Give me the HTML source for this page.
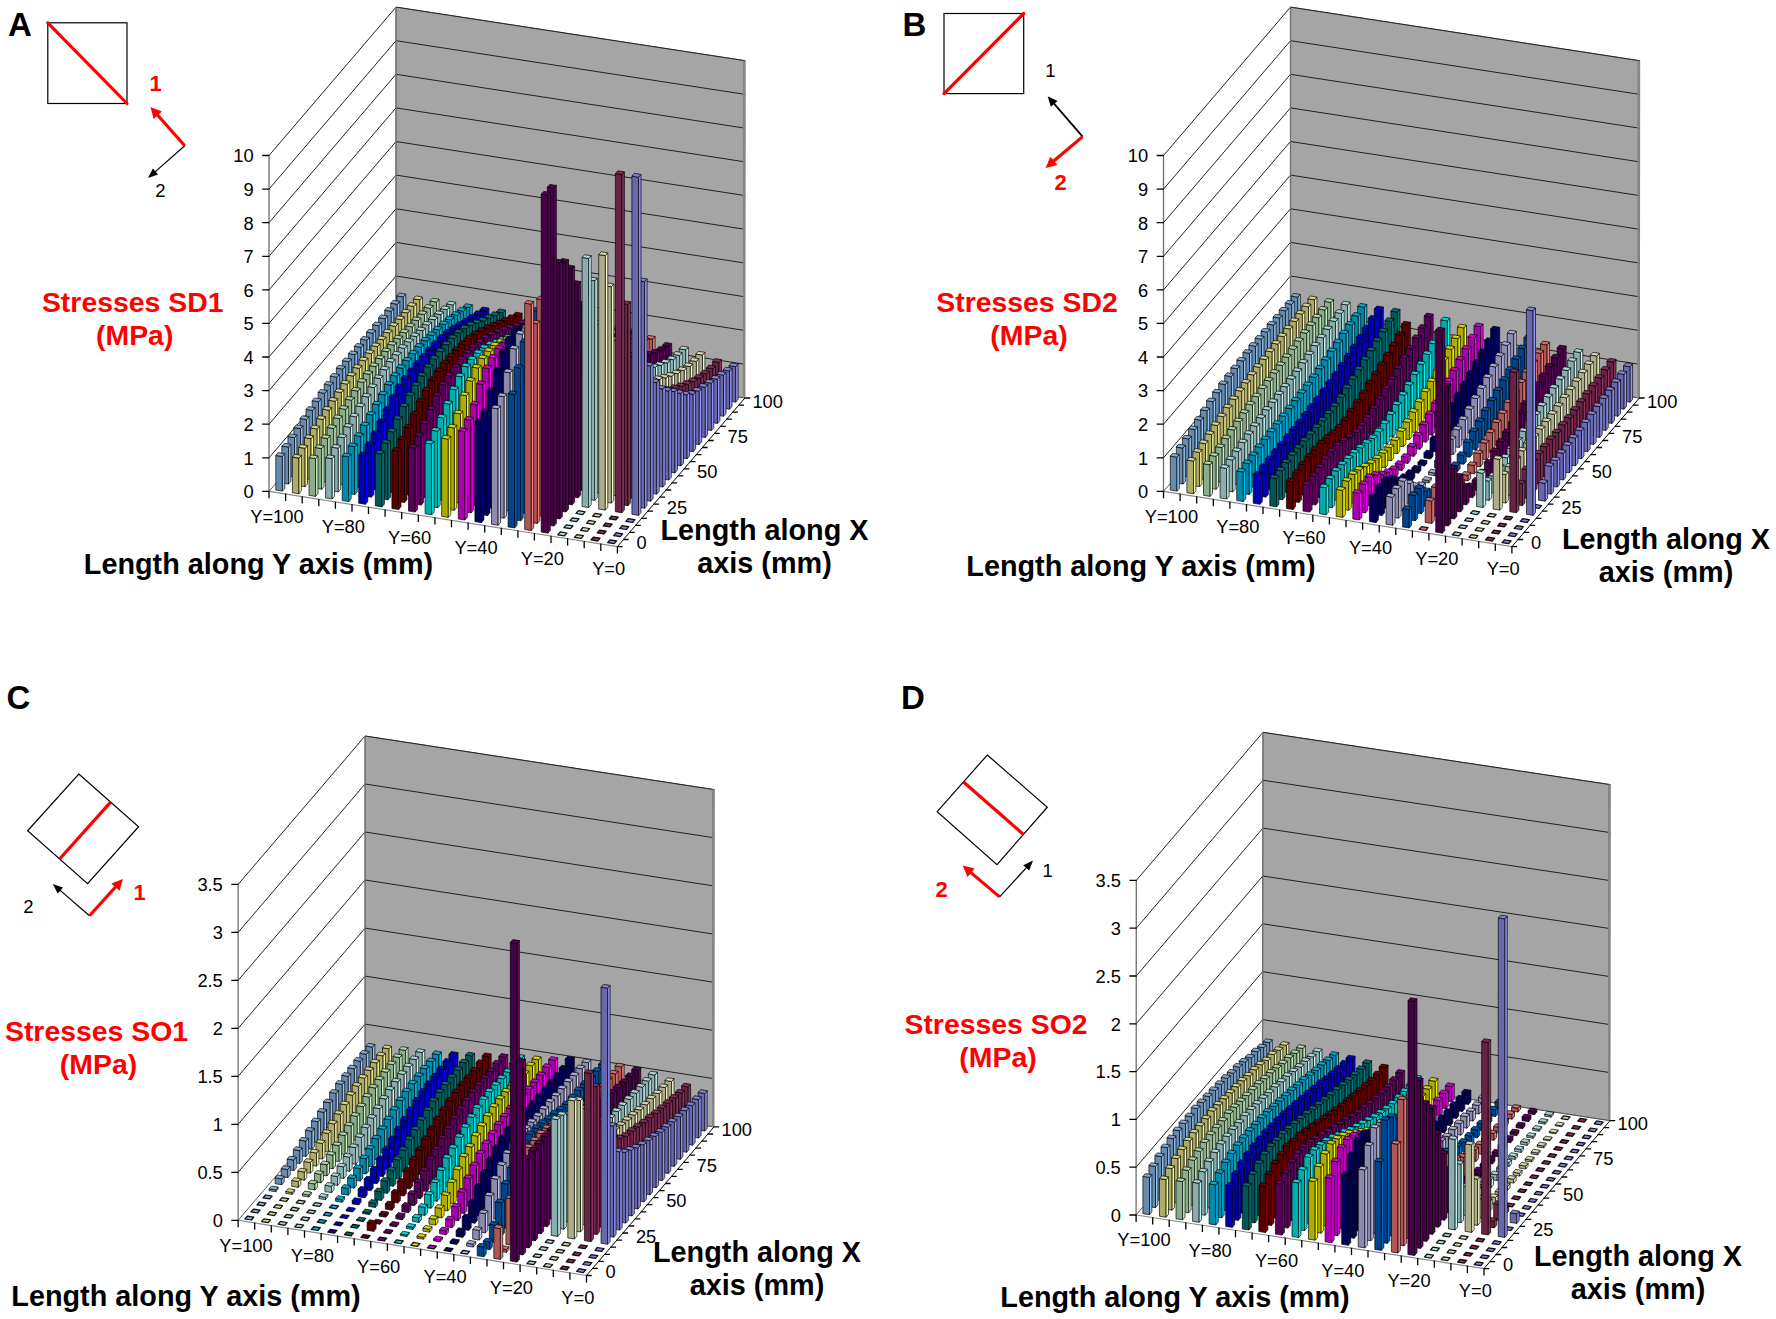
<!DOCTYPE html><html><head><meta charset="utf-8"><title>Stress distributions</title><style>html,body{margin:0;padding:0;background:#fff}svg{display:block}text{font-family:"Liberation Sans",sans-serif}.tk text{font-size:18.3px;fill:#000}.z{stroke-width:1.25;stroke-opacity:.95}.pl text{font-size:33px;font-weight:bold}.rb{font-size:22px;font-weight:bold;fill:#f00}.bk{font-size:18.5px;fill:#000}.rt{font-size:28.4px;font-weight:bold;fill:#f00}.at{font-size:28.8px;font-weight:bold;fill:#000}</style></head><body>
<svg width="1776" height="1319" viewBox="0 0 1776 1319">
<rect width="1776" height="1319" fill="#fff"/>
<g id="chartA"><path d="M269,491.4 L396,343.2 L396,7.1 L269,155.5 z" fill="#fff" stroke="none"/>
<path d="M396,343.2 L744.9,398 L745.2,60.7 L396,7.1 z" fill="#a5a5a5" stroke="#808080" stroke-width="1"/>
<path d="M269,457.8 L396,309.6 L744.9,364.3 M269,424.2 L396,276 L745,330.5 M269,390.6 L396,242.4 L745,296.8 M269,357 L396,208.8 L745,263.1 M269,323.4 L396,175.1 L745,229.3 M269,289.9 L396,141.5 L745.1,195.6 M269,256.3 L396,107.9 L745.1,161.9 M269,222.7 L396,74.3 L745.1,128.2 M269,189.1 L396,40.7 L745.2,94.4 M269,155.5 L396,7.1 L745.2,60.7" fill="none" stroke="#222" stroke-width="1"/>
<path d="M269,491.4 L269,155.5 M396,343.2 L396,7.1" fill="none" stroke="#6e6e6e" stroke-width="1.3"/>
<path d="M269,491.4 L396,343.2" fill="none" stroke="#333" stroke-width="0.8"/>
<path d="M744.9,398 L396,343.2" fill="none" stroke="#555" stroke-width="1"/>
<path d="M743.9 398 L743.9 60.7" fill="none" stroke="#858585" stroke-width="2"/>
<g stroke="#000" stroke-opacity=".85" stroke-width=".8" stroke-linejoin="round"><path fill="#688bad" d="M396.8 348.9l6.6 1.1v-53.1l-6.6-1.1z"/><path fill="#93c4f5" d="M403.4 350l2.4-2.9v-53.1l-2.4 2.9z"/><path fill="#81abd6" d="M396.8 295.8l6.6 1.1l2.4-2.9l-6.6-1z"/><path fill="#adad68" d="M413.4 351.5l6.6 1.1v-52.8l-6.6-1z"/><path fill="#f5f593" d="M420 352.6l2.4-2.8v-52.8l-2.4 2.8z"/><path fill="#d6d681" d="M413.4 298.8l6.6 1l2.4-2.8l-6.6-1.1z"/><path fill="#8bad8b" d="M430 354.1l6.6 1.1v-53.1l-6.6-1.1z"/><path fill="#c4f5c4" d="M436.6 355.2l2.4-2.8v-53.2l-2.4 2.9z"/><path fill="#abd6ab" d="M430 301l6.6 1.1l2.4-2.9l-6.6-1z"/><path fill="#8badad" d="M446.6 356.8l6.6 1v-52.8l-6.6-1z"/><path fill="#c4f5f5" d="M453.2 357.8l2.5-2.8v-52.8l-2.5 2.8z"/><path fill="#abd6d6" d="M446.6 304l6.6 1l2.5-2.8l-6.7-1.1z"/><path fill="#008bad" d="M463.2 359.4l6.7 1v-52.8l-6.7-1z"/><path fill="#00c4f5" d="M469.9 360.4l2.4-2.8v-52.8l-2.4 2.8z"/><path fill="#00abd6" d="M463.2 306.6l6.7 1l2.4-2.8l-6.7-1.1z"/><path fill="#0000ad" d="M479.8 362l6.7 1v-52.1l-6.7-1.1z"/><path fill="#0000f5" d="M486.5 363l2.4-2.8v-52.2l-2.4 2.9z"/><path fill="#0000d6" d="M479.8 309.8l6.7 1.1l2.4-2.9l-6.6-1z"/><path fill="#005757" d="M496.4 364.6l6.7 1v-52.8l-6.7-1z"/><path fill="#007b7b" d="M503.1 365.6l2.4-2.8v-52.8l-2.4 2.8z"/><path fill="#006c6c" d="M496.4 311.8l6.7 1l2.4-2.8l-6.6-1.1z"/><path fill="#570000" d="M513 367.2l6.7 1v-52.1l-6.6-1.1z"/><path fill="#7b0000" d="M519.7 368.2l2.4-2.8v-52.2l-2.4 2.9z"/><path fill="#6c0000" d="M513.1 315l6.6 1.1l2.4-2.9l-6.6-1z"/><path fill="#570057" d="M529.7 369.8l6.6 1v-52.8l-6.6-1z"/><path fill="#7b007b" d="M536.3 370.8l2.4-2.8v-52.8l-2.4 2.8z"/><path fill="#6c006c" d="M529.7 317l6.6 1l2.4-2.8l-6.6-1.1z"/><path fill="#00adad" d="M546.3 372.4l6.6 1.1v-53.2l-6.6-1.1z"/><path fill="#00f5f5" d="M552.9 373.5l2.4-2.9l0.1-53.2l-2.5 2.9z"/><path fill="#00d6d6" d="M546.3 319.2l6.6 1.1l2.5-2.9l-6.7-1z"/><path fill="#adad00" d="M562.9 375l6.6 1.1l0.1-53.9l-6.7-1z"/><path fill="#f5f500" d="M569.5 376.1l2.5-2.9v-53.8l-2.4 2.8z"/><path fill="#d6d600" d="M562.9 321.2l6.7 1l2.4-2.8l-6.7-1.1z"/><path fill="#ad00ad" d="M579.5 377.6l6.6 1.1l0.1-53.9l-6.7-1z"/><path fill="#f500f5" d="M586.1 378.7l2.5-2.8v-53.9l-2.4 2.8z"/><path fill="#d600d6" d="M579.5 323.8l6.7 1l2.4-2.8l-6.7-1.1z"/><path fill="#000057" d="M596.1 380.2l6.7 1.1v-53.9l-6.7-1z"/><path fill="#00007b" d="M602.8 381.3l2.4-2.8v-53.9l-2.4 2.8z"/><path fill="#00006c" d="M596.1 326.4l6.7 1l2.4-2.8l-6.6-1.1z"/><path fill="#8b8bad" d="M612.7 382.9l6.7 1v-53.9l-6.6-1z"/><path fill="#c4c4f5" d="M619.4 383.9l2.4-2.8v-53.9l-2.4 2.8z"/><path fill="#ababd6" d="M612.8 329l6.6 1l2.4-2.8l-6.6-1.1z"/><path fill="#00458b" d="M629.3 385.5l6.7 1v-53.9l-6.6-1z"/><path fill="#0062c4" d="M636 386.5l2.4-2.8v-53.9l-2.4 2.8z"/><path fill="#0056ab" d="M629.4 331.6l6.6 1l2.4-2.8l-6.6-1.1z"/><path fill="#ad5757" d="M646 388.1l6.6 1v-49.9l-6.6-1z"/><path fill="#f57b7b" d="M652.6 389.1l2.4-2.8l0.1-49.9l-2.5 2.8z"/><path fill="#d66c6c" d="M646 338.2l6.6 1l2.5-2.8l-6.7-1z"/><path fill="#450045" d="M662.6 390.7l6.6 1v-45.5l-6.6-1z"/><path fill="#620062" d="M669.2 391.7l2.4-2.8l0.1-45.5l-2.5 2.8z"/><path fill="#560056" d="M662.6 345.2l6.6 1l2.5-2.8l-6.7-1z"/><path fill="#8badad" d="M679.2 393.3l6.6 1l0.1-44.5l-6.7-1z"/><path fill="#c4f5f5" d="M685.8 394.3l2.5-2.8v-44.5l-2.4 2.8z"/><path fill="#abd6d6" d="M679.2 348.8l6.7 1l2.4-2.8l-6.7-1z"/><path fill="#adad8b" d="M695.8 395.9l6.6 1l0.1-41.8l-6.7-1z"/><path fill="#f5f5c4" d="M702.4 396.9l2.5-2.8v-41.8l-2.4 2.8z"/><path fill="#d6d6ab" d="M695.8 354.1l6.7 1l2.4-2.8l-6.6-1z"/><path fill="#682345" d="M712.4 398.5l6.7 1.1v-37.1l-6.7-1.1z"/><path fill="#933162" d="M719.1 399.6l2.4-2.9v-37.1l-2.4 2.9z"/><path fill="#812b56" d="M712.4 361.4l6.7 1.1l2.4-2.9l-6.6-1z"/><path fill="#6868ad" d="M729 401.1l6.7 1.1v-35.4l-6.7-1.1z"/><path fill="#9393f5" d="M735.7 402.2l2.4-2.9v-35.4l-2.4 2.9z"/><path fill="#8181d6" d="M729 365.7l6.7 1.1l2.4-2.9l-6.6-1z"/><path fill="#688bad" d="M390.7 356l6.6 1v-52.7l-6.6-1.1z"/><path fill="#93c4f5" d="M397.3 357l2.5-2.8v-52.8l-2.5 2.9z"/><path fill="#81abd6" d="M390.7 303.2l6.6 1.1l2.5-2.9l-6.7-1z"/><path fill="#adad68" d="M407.3 358.6l6.7 1v-53.2l-6.7-1z"/><path fill="#f5f593" d="M414 359.6l2.4-2.8v-53.2l-2.4 2.8z"/><path fill="#d6d681" d="M407.3 305.4l6.7 1l2.4-2.8l-6.7-1.1z"/><path fill="#8bad8b" d="M423.9 361.2l6.7 1v-53.8l-6.7-1.1z"/><path fill="#c4f5c4" d="M430.6 362.2l2.4-2.8v-53.9l-2.4 2.9z"/><path fill="#abd6ab" d="M423.9 307.3l6.7 1.1l2.4-2.9l-6.6-1z"/><path fill="#8badad" d="M440.5 363.8l6.7 1.1v-55.2l-6.7-1z"/><path fill="#c4f5f5" d="M447.2 364.9l2.4-2.9v-55.1l-2.4 2.8z"/><path fill="#abd6d6" d="M440.5 308.7l6.7 1l2.4-2.8l-6.6-1.1z"/><path fill="#008bad" d="M457.2 366.4l6.6 1.1v-56.2l-6.6-1z"/><path fill="#00c4f5" d="M463.8 367.5l2.4-2.9v-56.1l-2.4 2.8z"/><path fill="#00abd6" d="M457.2 310.3l6.6 1l2.4-2.8l-6.6-1z"/><path fill="#0000ad" d="M473.8 369l6.6 1.1v-55.5l-6.6-1.1z"/><path fill="#0000f5" d="M480.4 370.1l2.4-2.8v-55.6l-2.4 2.9z"/><path fill="#0000d6" d="M473.8 313.5l6.6 1.1l2.4-2.9l-6.6-1z"/><path fill="#005757" d="M490.4 371.6l6.6 1.1v-57l-6.6-1.1z"/><path fill="#007b7b" d="M497 372.7l2.4-2.8l0.1-57.1l-2.5 2.9z"/><path fill="#006c6c" d="M490.4 314.6l6.6 1.1l2.5-2.9l-6.7-1z"/><path fill="#570000" d="M507 374.3l6.6 1l0.1-56.7l-6.7-1z"/><path fill="#7b0000" d="M513.6 375.3l2.5-2.8v-56.7l-2.4 2.8z"/><path fill="#6c0000" d="M507 317.6l6.7 1l2.4-2.8l-6.7-1z"/><path fill="#570057" d="M523.6 376.9l6.6 1l0.1-56.8l-6.7-1.1z"/><path fill="#7b007b" d="M530.2 377.9l2.5-2.8v-56.9l-2.4 2.9z"/><path fill="#6c006c" d="M523.6 320l6.7 1.1l2.4-2.9l-6.7-1z"/><path fill="#00adad" d="M540.2 379.5l6.7 1v-57.4l-6.7-1z"/><path fill="#00f5f5" d="M546.9 380.5l2.4-2.8v-57.4l-2.4 2.8z"/><path fill="#00d6d6" d="M540.2 322.1l6.7 1l2.4-2.8l-6.6-1.1z"/><path fill="#adad00" d="M556.8 382.1l6.7 1v-58.2l-6.7-1z"/><path fill="#f5f500" d="M563.5 383.1l2.4-2.8v-58.2l-2.4 2.8z"/><path fill="#d6d600" d="M556.8 323.9l6.7 1l2.4-2.8l-6.6-1z"/><path fill="#ad00ad" d="M573.4 384.7l6.7 1v-58.6l-6.6-1z"/><path fill="#f500f5" d="M580.1 385.7l2.4-2.8v-58.6l-2.4 2.8z"/><path fill="#d600d6" d="M573.5 326.1l6.6 1l2.4-2.8l-6.6-1.1z"/><path fill="#000057" d="M590.1 387.3l6.6 1.1v-59.1l-6.6-1z"/><path fill="#00007b" d="M596.7 388.4l2.4-2.9l0.1-59l-2.5 2.8z"/><path fill="#00006c" d="M590.1 328.3l6.6 1l2.5-2.8l-6.7-1.1z"/><path fill="#8b8bad" d="M606.7 389.9l6.6 1.1v-59.4l-6.6-1.1z"/><path fill="#c4c4f5" d="M613.3 391l2.4-2.9l0.1-59.4l-2.5 2.9z"/><path fill="#ababd6" d="M606.7 330.5l6.6 1.1l2.5-2.9l-6.7-1z"/><path fill="#00458b" d="M623.3 392.5l6.6 1.1l0.1-59l-6.7-1.1z"/><path fill="#0062c4" d="M629.9 393.6l2.4-2.8l0.1-59.1l-2.4 2.9z"/><path fill="#0056ab" d="M623.3 333.5l6.7 1.1l2.4-2.9l-6.7-1z"/><path fill="#ad5757" d="M639.9 395.1l6.6 1.1l0.1-55.2l-6.7-1z"/><path fill="#f57b7b" d="M646.5 396.2l2.5-2.8v-55.2l-2.4 2.8z"/><path fill="#d66c6c" d="M639.9 340l6.7 1l2.4-2.8l-6.7-1z"/><path fill="#450045" d="M656.5 397.8l6.6 1l0.1-48.5l-6.7-1z"/><path fill="#620062" d="M663.1 398.8l2.5-2.8v-48.5l-2.4 2.8z"/><path fill="#560056" d="M656.5 349.3l6.7 1l2.4-2.8l-6.6-1z"/><path fill="#8badad" d="M673.1 400.4l6.7 1v-46l-6.7-1z"/><path fill="#c4f5f5" d="M679.8 401.4l2.4-2.8v-46l-2.4 2.8z"/><path fill="#abd6d6" d="M673.1 354.4l6.7 1l2.4-2.8l-6.6-1.1z"/><path fill="#adad8b" d="M689.7 403l6.7 1v-42.5l-6.6-1z"/><path fill="#f5f5c4" d="M696.4 404l2.4-2.8v-42.5l-2.4 2.8z"/><path fill="#d6d6ab" d="M689.8 360.5l6.6 1l2.4-2.8l-6.6-1.1z"/><path fill="#682345" d="M706.3 405.6l6.7 1v-37.8l-6.6-1z"/><path fill="#933162" d="M713 406.6l2.4-2.8v-37.8l-2.4 2.8z"/><path fill="#812b56" d="M706.4 367.8l6.6 1l2.4-2.8l-6.6-1z"/><path fill="#6868ad" d="M722.9 408.2l6.7 1v-38.2l-6.6-1z"/><path fill="#9393f5" d="M729.6 409.2l2.4-2.8l0.1-38.2l-2.5 2.8z"/><path fill="#8181d6" d="M723 370l6.6 1l2.5-2.8l-6.7-1z"/><path fill="#688bad" d="M384.7 363l6.6 1.1v-52.8l-6.6-1z"/><path fill="#93c4f5" d="M391.3 364.1l2.4-2.8v-52.8l-2.4 2.8z"/><path fill="#81abd6" d="M384.7 310.3l6.6 1l2.4-2.8l-6.6-1.1z"/><path fill="#adad68" d="M401.3 365.6l6.6 1.1v-53.7l-6.6-1z"/><path fill="#f5f593" d="M407.9 366.7l2.4-2.8v-53.7l-2.4 2.8z"/><path fill="#d6d681" d="M401.3 312l6.6 1l2.4-2.8l-6.6-1z"/><path fill="#8bad8b" d="M417.9 368.3l6.6 1v-54.7l-6.6-1z"/><path fill="#c4f5c4" d="M424.5 369.3l2.4-2.8v-54.7l-2.4 2.8z"/><path fill="#abd6ab" d="M417.9 313.6l6.6 1l2.4-2.8l-6.6-1.1z"/><path fill="#8badad" d="M434.5 370.9l6.6 1v-57.3l-6.6-1z"/><path fill="#c4f5f5" d="M441.1 371.9l2.5-2.8v-57.3l-2.5 2.8z"/><path fill="#abd6d6" d="M434.5 313.6l6.6 1l2.5-2.8l-6.7-1z"/><path fill="#008bad" d="M451.1 373.5l6.6 1l0.1-59.1l-6.7-1z"/><path fill="#00c4f5" d="M457.7 374.5l2.5-2.8v-59.1l-2.4 2.8z"/><path fill="#00abd6" d="M451.1 314.4l6.7 1l2.4-2.8l-6.7-1z"/><path fill="#0000ad" d="M467.7 376.1l6.7 1v-58.8l-6.7-1.1z"/><path fill="#0000f5" d="M474.4 377.1l2.4-2.8v-58.9l-2.4 2.9z"/><path fill="#0000d6" d="M467.7 317.2l6.7 1.1l2.4-2.9l-6.7-1z"/><path fill="#005757" d="M484.3 378.7l6.7 1.1v-61.3l-6.7-1.1z"/><path fill="#007b7b" d="M491 379.8l2.4-2.9v-61.3l-2.4 2.9z"/><path fill="#006c6c" d="M484.3 317.4l6.7 1.1l2.4-2.9l-6.6-1z"/><path fill="#570000" d="M500.9 381.3l6.7 1.1v-61.2l-6.7-1z"/><path fill="#7b0000" d="M507.6 382.4l2.4-2.9v-61.1l-2.4 2.8z"/><path fill="#6c0000" d="M500.9 320.2l6.7 1l2.4-2.8l-6.6-1z"/><path fill="#570057" d="M517.5 383.9l6.7 1.1v-61.2l-6.6-1z"/><path fill="#7b007b" d="M524.2 385l2.4-2.8v-61.2l-2.4 2.8z"/><path fill="#6c006c" d="M517.6 322.8l6.6 1l2.4-2.8l-6.6-1z"/><path fill="#00adad" d="M534.2 386.5l6.6 1.1v-61.8l-6.6-1z"/><path fill="#00f5f5" d="M540.8 387.6l2.4-2.8v-61.8l-2.4 2.8z"/><path fill="#00d6d6" d="M534.2 324.8l6.6 1l2.4-2.8l-6.6-1z"/><path fill="#adad00" d="M550.8 389.2l6.6 1v-62.7l-6.6-1.1z"/><path fill="#f5f500" d="M557.4 390.2l2.4-2.8l0.1-62.8l-2.5 2.9z"/><path fill="#d6d600" d="M550.8 326.4l6.6 1.1l2.5-2.9l-6.7-1z"/><path fill="#ad00ad" d="M567.4 391.8l6.6 1l0.1-63.6l-6.7-1z"/><path fill="#f500f5" d="M574 392.8l2.4-2.8l0.1-63.6l-2.4 2.8z"/><path fill="#d600d6" d="M567.4 328.2l6.7 1l2.4-2.8l-6.7-1z"/><path fill="#000057" d="M584 394.4l6.6 1l0.1-64.4l-6.7-1.1z"/><path fill="#00007b" d="M590.6 395.4l2.5-2.8v-64.4l-2.4 2.8z"/><path fill="#00006c" d="M584 329.9l6.7 1.1l2.4-2.8l-6.7-1.1z"/><path fill="#8b8bad" d="M600.6 397l6.6 1l0.1-65.2l-6.7-1z"/><path fill="#c4c4f5" d="M607.2 398l2.5-2.8v-65.2l-2.4 2.8z"/><path fill="#ababd6" d="M600.6 331.8l6.7 1l2.4-2.8l-6.6-1z"/><path fill="#00458b" d="M617.2 399.6l6.7 1.1v-64.7l-6.7-1z"/><path fill="#0062c4" d="M623.9 400.7l2.4-2.9v-64.6l-2.4 2.8z"/><path fill="#0056ab" d="M617.2 335l6.7 1l2.4-2.8l-6.6-1z"/><path fill="#ad5757" d="M633.8 402.2l6.7 1.1v-60.9l-6.6-1.1z"/><path fill="#f57b7b" d="M640.5 403.3l2.4-2.9v-60.9l-2.4 2.9z"/><path fill="#d66c6c" d="M633.9 341.3l6.6 1.1l2.4-2.9l-6.6-1z"/><path fill="#450045" d="M650.4 404.8l6.7 1.1v-52.7l-6.6-1z"/><path fill="#620062" d="M657.1 405.9l2.4-2.9v-52.6l-2.4 2.8z"/><path fill="#560056" d="M650.5 352.2l6.6 1l2.4-2.8l-6.6-1z"/><path fill="#8badad" d="M667 407.4l6.7 1.1v-48.7l-6.6-1.1z"/><path fill="#c4f5f5" d="M673.7 408.5l2.4-2.8v-48.7l-2.4 2.8z"/><path fill="#abd6d6" d="M667.1 358.7l6.6 1.1l2.4-2.8l-6.6-1.1z"/><path fill="#adad8b" d="M683.7 410.1l6.6 1v-44.5l-6.6-1z"/><path fill="#f5f5c4" d="M690.3 411.1l2.4-2.8l0.1-44.5l-2.5 2.8z"/><path fill="#d6d6ab" d="M683.7 365.6l6.6 1l2.5-2.8l-6.7-1z"/><path fill="#682345" d="M700.3 412.7l6.6 1v-39.7l-6.6-1z"/><path fill="#933162" d="M706.9 413.7l2.4-2.8l0.1-39.7l-2.5 2.8z"/><path fill="#812b56" d="M700.3 373l6.6 1l2.5-2.8l-6.7-1z"/><path fill="#6868ad" d="M716.9 415.3l6.6 1l0.1-41.1l-6.7-1z"/><path fill="#9393f5" d="M723.5 416.3l2.5-2.8v-41.1l-2.4 2.8z"/><path fill="#8181d6" d="M716.9 374.2l6.7 1l2.4-2.8l-6.7-1.1z"/><path fill="#688bad" d="M378.6 370.1l6.7 1v-52.4l-6.7-1z"/><path fill="#93c4f5" d="M385.3 371.1l2.4-2.8v-52.4l-2.4 2.8z"/><path fill="#81abd6" d="M378.6 317.7l6.7 1l2.4-2.8l-6.7-1.1z"/><path fill="#adad68" d="M395.2 372.7l6.7 1.1v-54.1l-6.7-1.1z"/><path fill="#f5f593" d="M401.9 373.8l2.4-2.9v-54.1l-2.4 2.9z"/><path fill="#d6d681" d="M395.2 318.6l6.7 1.1l2.4-2.9l-6.7-1z"/><path fill="#8bad8b" d="M411.8 375.3l6.7 1.1v-55.6l-6.7-1.1z"/><path fill="#c4f5c4" d="M418.5 376.4l2.4-2.9v-55.5l-2.4 2.8z"/><path fill="#abd6ab" d="M411.8 319.7l6.7 1.1l2.4-2.8l-6.6-1.1z"/><path fill="#8badad" d="M428.4 377.9l6.7 1.1v-59.2l-6.7-1z"/><path fill="#c4f5f5" d="M435.1 379l2.4-2.8v-59.2l-2.4 2.8z"/><path fill="#abd6d6" d="M428.4 318.8l6.7 1l2.4-2.8l-6.6-1.1z"/><path fill="#008bad" d="M445 380.5l6.7 1.1v-61.7l-6.6-1z"/><path fill="#00c4f5" d="M451.7 381.6l2.4-2.8v-61.7l-2.4 2.8z"/><path fill="#00abd6" d="M445.1 318.9l6.6 1l2.4-2.8l-6.6-1.1z"/><path fill="#0000ad" d="M461.7 383.2l6.6 1v-62.2l-6.6-1.1z"/><path fill="#0000f5" d="M468.3 384.2l2.4-2.8v-62.3l-2.4 2.9z"/><path fill="#0000d6" d="M461.7 320.9l6.6 1.1l2.4-2.9l-6.6-1z"/><path fill="#005757" d="M478.3 385.8l6.6 1v-65.6l-6.6-1z"/><path fill="#007b7b" d="M484.9 386.8l2.4-2.8v-65.6l-2.4 2.8z"/><path fill="#006c6c" d="M478.3 320.2l6.6 1l2.4-2.8l-6.6-1.1z"/><path fill="#570000" d="M494.9 388.4l6.6 1v-65.6l-6.6-1z"/><path fill="#7b0000" d="M501.5 389.4l2.4-2.8l0.1-65.6l-2.5 2.8z"/><path fill="#6c0000" d="M494.9 322.8l6.6 1l2.5-2.8l-6.7-1.1z"/><path fill="#570057" d="M511.5 391l6.6 1l0.1-65.6l-6.7-1z"/><path fill="#7b007b" d="M518.1 392l2.5-2.8v-65.6l-2.4 2.8z"/><path fill="#6c006c" d="M511.5 325.4l6.7 1l2.4-2.8l-6.7-1.1z"/><path fill="#00adad" d="M528.1 393.6l6.6 1.1l0.1-66.2l-6.7-1.1z"/><path fill="#00f5f5" d="M534.7 394.7l2.5-2.9v-66.2l-2.4 2.9z"/><path fill="#00d6d6" d="M528.1 327.4l6.7 1.1l2.4-2.9l-6.7-1z"/><path fill="#adad00" d="M544.7 396.2l6.7 1.1v-67.5l-6.7-1.1z"/><path fill="#f5f500" d="M551.4 397.3l2.4-2.9v-67.4l-2.4 2.8z"/><path fill="#d6d600" d="M544.7 328.7l6.7 1.1l2.4-2.8l-6.6-1.1z"/><path fill="#ad00ad" d="M561.3 398.8l6.7 1.1v-68.8l-6.7-1z"/><path fill="#f500f5" d="M568 399.9l2.4-2.8v-68.8l-2.4 2.8z"/><path fill="#d600d6" d="M561.3 330.1l6.7 1l2.4-2.8l-6.6-1z"/><path fill="#000057" d="M577.9 401.4l6.7 1.1v-70l-6.6-1.1z"/><path fill="#00007b" d="M584.6 402.5l2.4-2.8v-70.1l-2.4 2.9z"/><path fill="#00006c" d="M578 331.4l6.6 1.1l2.4-2.9l-6.6-1z"/><path fill="#8b8bad" d="M594.5 404.1l6.7 1v-71.3l-6.6-1z"/><path fill="#c4c4f5" d="M601.2 405.1l2.4-2.8v-71.3l-2.4 2.8z"/><path fill="#ababd6" d="M594.6 332.8l6.6 1l2.4-2.8l-6.6-1.1z"/><path fill="#00458b" d="M611.1 406.7l6.7 1v-70.7l-6.6-1z"/><path fill="#0062c4" d="M617.8 407.7l2.4-2.8l0.1-70.7l-2.5 2.8z"/><path fill="#0056ab" d="M611.2 336l6.6 1l2.5-2.8l-6.7-1z"/><path fill="#ad5757" d="M627.8 409.3l6.6 1v-67l-6.6-1.1z"/><path fill="#f57b7b" d="M634.4 410.3l2.4-2.8l0.1-67.1l-2.5 2.9z"/><path fill="#d66c6c" d="M627.8 342.2l6.6 1.1l2.5-2.9l-6.7-1z"/><path fill="#450045" d="M644.4 411.9l6.6 1v-57.8l-6.6-1z"/><path fill="#620062" d="M651 412.9l2.4-2.8l0.1-57.8l-2.5 2.8z"/><path fill="#560056" d="M644.4 354.1l6.6 1l2.5-2.8l-6.7-1.1z"/><path fill="#8badad" d="M661 414.5l6.6 1.1l0.1-52.5l-6.7-1z"/><path fill="#c4f5f5" d="M667.6 415.6l2.4-2.9l0.1-52.4l-2.4 2.8z"/><path fill="#abd6d6" d="M661 362.1l6.7 1l2.4-2.8l-6.7-1z"/><path fill="#adad8b" d="M677.6 417.1l6.6 1.1l0.1-47.5l-6.7-1.1z"/><path fill="#f5f5c4" d="M684.2 418.2l2.5-2.9v-47.4l-2.4 2.8z"/><path fill="#d6d6ab" d="M677.6 369.6l6.7 1.1l2.4-2.8l-6.7-1.1z"/><path fill="#682345" d="M694.2 419.7l6.6 1.1l0.1-42.5l-6.7-1.1z"/><path fill="#933162" d="M700.8 420.8l2.5-2.8v-42.5l-2.4 2.8z"/><path fill="#812b56" d="M694.2 377.2l6.7 1.1l2.4-2.8l-6.6-1.1z"/><path fill="#6868ad" d="M710.8 422.4l6.7 1v-44.1l-6.7-1.1z"/><path fill="#9393f5" d="M717.5 423.4l2.4-2.8v-44.2l-2.4 2.9z"/><path fill="#8181d6" d="M710.8 378.2l6.7 1.1l2.4-2.9l-6.6-1z"/><path fill="#688bad" d="M372.6 377.2l6.6 1v-52.4l-6.6-1.1z"/><path fill="#93c4f5" d="M379.2 378.2l2.4-2.8v-52.5l-2.4 2.9z"/><path fill="#81abd6" d="M372.6 324.7l6.6 1.1l2.4-2.9l-6.6-1z"/><path fill="#adad68" d="M389.2 379.8l6.6 1v-54.4l-6.6-1.1z"/><path fill="#f5f593" d="M395.8 380.8l2.4-2.8v-54.5l-2.4 2.9z"/><path fill="#d6d681" d="M389.2 325.3l6.6 1.1l2.4-2.9l-6.6-1z"/><path fill="#8bad8b" d="M405.8 382.4l6.6 1v-56.5l-6.6-1z"/><path fill="#c4f5c4" d="M412.4 383.4l2.4-2.8v-56.5l-2.4 2.8z"/><path fill="#abd6ab" d="M405.8 325.9l6.6 1l2.4-2.8l-6.6-1z"/><path fill="#8badad" d="M422.4 385l6.6 1v-60.8l-6.6-1.1z"/><path fill="#c4f5f5" d="M429 386l2.5-2.8v-60.9l-2.5 2.9z"/><path fill="#abd6d6" d="M422.4 324.1l6.6 1.1l2.5-2.9l-6.7-1z"/><path fill="#008bad" d="M439 387.6l6.6 1.1v-64l-6.6-1z"/><path fill="#00c4f5" d="M445.6 388.7l2.5-2.9v-63.9l-2.5 2.8z"/><path fill="#00abd6" d="M439 323.7l6.6 1l2.5-2.8l-6.7-1z"/><path fill="#0000ad" d="M455.6 390.2l6.6 1.1l0.1-65.9l-6.7-1.1z"/><path fill="#0000f5" d="M462.2 391.3l2.5-2.9v-65.8l-2.4 2.8z"/><path fill="#0000d6" d="M455.6 324.3l6.7 1.1l2.4-2.8l-6.7-1.1z"/><path fill="#005757" d="M472.2 392.8l6.7 1.1v-70.4l-6.7-1.1z"/><path fill="#007b7b" d="M478.9 393.9l2.4-2.8v-70.5l-2.4 2.9z"/><path fill="#006c6c" d="M472.2 322.4l6.7 1.1l2.4-2.9l-6.7-1z"/><path fill="#570000" d="M488.8 395.4l6.7 1.1v-70.3l-6.7-1z"/><path fill="#7b0000" d="M495.5 396.5l2.4-2.8v-70.3l-2.4 2.8z"/><path fill="#6c0000" d="M488.8 325.2l6.7 1l2.4-2.8l-6.6-1.1z"/><path fill="#570057" d="M505.4 398.1l6.7 1v-70.7l-6.7-1z"/><path fill="#7b007b" d="M512.1 399.1l2.4-2.8v-70.7l-2.4 2.8z"/><path fill="#6c006c" d="M505.4 327.4l6.7 1l2.4-2.8l-6.6-1.1z"/><path fill="#00adad" d="M522 400.7l6.7 1v-70.7l-6.6-1z"/><path fill="#00f5f5" d="M528.7 401.7l2.4-2.8v-70.7l-2.4 2.8z"/><path fill="#00d6d6" d="M522.1 330l6.6 1l2.4-2.8l-6.6-1.1z"/><path fill="#adad00" d="M538.6 403.3l6.7 1v-72.4l-6.6-1z"/><path fill="#f5f500" d="M545.3 404.3l2.4-2.8v-72.4l-2.4 2.8z"/><path fill="#d6d600" d="M538.7 330.9l6.6 1l2.4-2.8l-6.6-1z"/><path fill="#ad00ad" d="M555.3 405.9l6.6 1v-74.1l-6.6-1z"/><path fill="#f500f5" d="M561.9 406.9l2.4-2.8l0.1-74.1l-2.5 2.8z"/><path fill="#d600d6" d="M555.3 331.8l6.6 1l2.5-2.8l-6.7-1z"/><path fill="#000057" d="M571.9 408.5l6.6 1.1v-75.9l-6.6-1z"/><path fill="#00007b" d="M578.5 409.6l2.4-2.9l0.1-75.8l-2.5 2.8z"/><path fill="#00006c" d="M571.9 332.7l6.6 1l2.5-2.8l-6.7-1z"/><path fill="#8b8bad" d="M588.5 411.1l6.6 1.1l0.1-77.7l-6.7-1z"/><path fill="#c4c4f5" d="M595.1 412.2l2.4-2.9l0.1-77.6l-2.4 2.8z"/><path fill="#ababd6" d="M588.5 333.5l6.7 1l2.4-2.8l-6.7-1.1z"/><path fill="#00458b" d="M605.1 413.7l6.6 1.1l0.1-77.2l-6.7-1z"/><path fill="#0062c4" d="M611.7 414.8l2.5-2.8v-77.2l-2.4 2.8z"/><path fill="#0056ab" d="M605.1 336.6l6.7 1l2.4-2.8l-6.7-1z"/><path fill="#ad5757" d="M621.7 416.4l6.6 1l0.1-73.6l-6.7-1.1z"/><path fill="#f57b7b" d="M628.3 417.4l2.5-2.8v-73.7l-2.4 2.9z"/><path fill="#d66c6c" d="M621.7 342.7l6.7 1.1l2.4-2.9l-6.6-1z"/><path fill="#450045" d="M638.3 419l6.6 1l0.1-63.9l-6.7-1.1z"/><path fill="#620062" d="M644.9 420l2.5-2.8v-64l-2.4 2.9z"/><path fill="#560056" d="M638.3 355l6.7 1.1l2.4-2.9l-6.6-1z"/><path fill="#8badad" d="M654.9 421.6l6.7 1v-57l-6.7-1z"/><path fill="#c4f5f5" d="M661.6 422.6l2.4-2.8v-57l-2.4 2.8z"/><path fill="#abd6d6" d="M654.9 364.6l6.7 1l2.4-2.8l-6.6-1.1z"/><path fill="#adad8b" d="M671.5 424.2l6.7 1v-51.4l-6.6-1z"/><path fill="#f5f5c4" d="M678.2 425.2l2.4-2.8v-51.4l-2.4 2.8z"/><path fill="#d6d6ab" d="M671.6 372.8l6.6 1l2.4-2.8l-6.6-1z"/><path fill="#682345" d="M688.1 426.8l6.7 1.1v-46.2l-6.6-1.1z"/><path fill="#933162" d="M694.8 427.9l2.4-2.9v-46.1l-2.4 2.8z"/><path fill="#812b56" d="M688.2 380.6l6.6 1.1l2.4-2.8l-6.6-1.1z"/><path fill="#6868ad" d="M704.7 429.4l6.7 1.1v-47.3l-6.6-1z"/><path fill="#9393f5" d="M711.4 430.5l2.4-2.9v-47.2l-2.4 2.8z"/><path fill="#8181d6" d="M704.8 382.2l6.6 1l2.4-2.8l-6.6-1.1z"/><path fill="#688bad" d="M366.5 384.2l6.7 1.1v-52.1l-6.7-1.1z"/><path fill="#93c4f5" d="M373.2 385.3l2.4-2.9v-52.1l-2.4 2.9z"/><path fill="#81abd6" d="M366.5 332.1l6.7 1.1l2.4-2.9l-6.7-1z"/><path fill="#adad68" d="M383.1 386.8l6.7 1.1v-54.9l-6.7-1z"/><path fill="#f5f593" d="M389.8 387.9l2.4-2.9v-54.8l-2.4 2.8z"/><path fill="#d6d681" d="M383.1 332l6.7 1l2.4-2.8l-6.7-1z"/><path fill="#8bad8b" d="M399.7 389.4l6.7 1.1v-57.5l-6.7-1.1z"/><path fill="#c4f5c4" d="M406.4 390.5l2.4-2.8v-57.6l-2.4 2.9z"/><path fill="#abd6ab" d="M399.7 331.9l6.7 1.1l2.4-2.9l-6.6-1z"/><path fill="#8badad" d="M416.3 392.1l6.7 1v-62.3l-6.7-1z"/><path fill="#c4f5f5" d="M423 393.1l2.4-2.8v-62.3l-2.4 2.8z"/><path fill="#abd6d6" d="M416.3 329.8l6.7 1l2.4-2.8l-6.6-1.1z"/><path fill="#008bad" d="M432.9 394.7l6.7 1v-65.7l-6.6-1.1z"/><path fill="#00c4f5" d="M439.6 395.7l2.4-2.8v-65.8l-2.4 2.9z"/><path fill="#00abd6" d="M433 328.9l6.6 1.1l2.4-2.9l-6.6-1z"/><path fill="#0000ad" d="M449.6 397.3l6.6 1v-69.5l-6.6-1z"/><path fill="#0000f5" d="M456.2 398.3l2.4-2.8v-69.5l-2.4 2.8z"/><path fill="#0000d6" d="M449.6 327.8l6.6 1l2.4-2.8l-6.6-1.1z"/><path fill="#005757" d="M466.2 399.9l6.6 1v-75.2l-6.6-1.1z"/><path fill="#007b7b" d="M472.8 400.9l2.4-2.8v-75.3l-2.4 2.9z"/><path fill="#006c6c" d="M466.2 324.6l6.6 1.1l2.4-2.9l-6.6-1z"/><path fill="#570000" d="M482.8 402.5l6.6 1.1v-75l-6.6-1.1z"/><path fill="#7b0000" d="M489.4 403.6l2.4-2.9v-74.9l-2.4 2.8z"/><path fill="#6c0000" d="M482.8 327.5l6.6 1.1l2.4-2.8l-6.6-1.1z"/><path fill="#570057" d="M499.4 405.1l6.6 1.1v-76.1l-6.6-1z"/><path fill="#7b007b" d="M506 406.2l2.4-2.9l0.1-76l-2.5 2.8z"/><path fill="#6c006c" d="M499.4 329.1l6.6 1l2.5-2.8l-6.7-1z"/><path fill="#00adad" d="M516 407.7l6.6 1.1v-75.4l-6.6-1z"/><path fill="#00f5f5" d="M522.6 408.8l2.4-2.8l0.1-75.4l-2.5 2.8z"/><path fill="#00d6d6" d="M516 332.4l6.6 1l2.5-2.8l-6.7-1.1z"/><path fill="#adad00" d="M532.6 410.4l6.6 1l0.1-77.6l-6.7-1.1z"/><path fill="#f5f500" d="M539.2 411.4l2.5-2.8v-77.6l-2.4 2.8z"/><path fill="#d6d600" d="M532.6 332.7l6.7 1.1l2.4-2.8l-6.7-1.1z"/><path fill="#ad00ad" d="M549.2 413l6.6 1l0.1-79.7l-6.7-1z"/><path fill="#f500f5" d="M555.8 414l2.5-2.8v-79.7l-2.4 2.8z"/><path fill="#d600d6" d="M549.2 333.3l6.7 1l2.4-2.8l-6.7-1z"/><path fill="#000057" d="M565.8 415.6l6.6 1l0.1-81.7l-6.7-1z"/><path fill="#00007b" d="M572.4 416.6l2.5-2.8v-81.7l-2.4 2.8z"/><path fill="#00006c" d="M565.8 333.9l6.7 1l2.4-2.8l-6.6-1.1z"/><path fill="#8b8bad" d="M582.4 418.2l6.7 1v-84.2l-6.7-1z"/><path fill="#c4c4f5" d="M589.1 419.2l2.4-2.8v-84.2l-2.4 2.8z"/><path fill="#ababd6" d="M582.4 334l6.7 1l2.4-2.8l-6.6-1.1z"/><path fill="#00458b" d="M599 420.8l6.7 1.1v-84l-6.6-1z"/><path fill="#0062c4" d="M605.7 421.9l2.4-2.9v-83.9l-2.4 2.8z"/><path fill="#0056ab" d="M599.1 336.9l6.6 1l2.4-2.8l-6.6-1.1z"/><path fill="#ad5757" d="M615.6 423.4l6.7 1.1v-80.5l-6.6-1.1z"/><path fill="#f57b7b" d="M622.3 424.5l2.4-2.9v-80.5l-2.4 2.9z"/><path fill="#d66c6c" d="M615.7 342.9l6.6 1.1l2.4-2.9l-6.6-1z"/><path fill="#450045" d="M632.2 426l6.7 1.1v-70.8l-6.6-1.1z"/><path fill="#620062" d="M638.9 427.1l2.4-2.8v-70.8l-2.4 2.8z"/><path fill="#560056" d="M632.3 355.2l6.6 1.1l2.4-2.8l-6.6-1.1z"/><path fill="#8badad" d="M648.8 428.7l6.7 1v-62.3l-6.6-1.1z"/><path fill="#c4f5f5" d="M655.5 429.7l2.4-2.8v-62.4l-2.4 2.9z"/><path fill="#abd6d6" d="M648.9 366.3l6.6 1.1l2.4-2.9l-6.6-1z"/><path fill="#adad8b" d="M665.5 431.3l6.6 1v-56l-6.6-1.1z"/><path fill="#f5f5c4" d="M672.1 432.3l2.4-2.8l0.1-56.1l-2.5 2.9z"/><path fill="#d6d6ab" d="M665.5 375.2l6.6 1.1l2.5-2.9l-6.7-1z"/><path fill="#682345" d="M682.1 433.9l6.6 1v-50.5l-6.6-1z"/><path fill="#933162" d="M688.7 434.9l2.4-2.8l0.1-50.5l-2.5 2.8z"/><path fill="#812b56" d="M682.1 383.4l6.6 1l2.5-2.8l-6.7-1z"/><path fill="#6868ad" d="M698.7 436.5l6.6 1v-50.2l-6.6-1z"/><path fill="#9393f5" d="M705.3 437.5l2.4-2.8l0.1-50.2l-2.5 2.8z"/><path fill="#8181d6" d="M698.7 386.3l6.6 1l2.5-2.8l-6.7-1.1z"/><path fill="#688bad" d="M360.5 391.3l6.6 1v-52.1l-6.6-1z"/><path fill="#93c4f5" d="M367.1 392.3l2.4-2.8v-52.1l-2.4 2.8z"/><path fill="#81abd6" d="M360.5 339.2l6.6 1l2.4-2.8l-6.6-1z"/><path fill="#adad68" d="M377.1 393.9l6.6 1v-55.1l-6.6-1z"/><path fill="#f5f593" d="M383.7 394.9l2.4-2.8v-55.1l-2.4 2.8z"/><path fill="#d6d681" d="M377.1 338.8l6.6 1l2.4-2.8l-6.6-1.1z"/><path fill="#8bad8b" d="M393.7 396.5l6.6 1v-58.5l-6.6-1z"/><path fill="#c4f5c4" d="M400.3 397.5l2.4-2.8v-58.5l-2.4 2.8z"/><path fill="#abd6ab" d="M393.7 338l6.6 1l2.4-2.8l-6.6-1z"/><path fill="#8badad" d="M410.3 399.1l6.6 1.1v-63.6l-6.6-1z"/><path fill="#c4f5f5" d="M416.9 400.2l2.4-2.9l0.1-63.5l-2.5 2.8z"/><path fill="#abd6d6" d="M410.3 335.6l6.6 1l2.5-2.8l-6.7-1.1z"/><path fill="#008bad" d="M426.9 401.7l6.6 1.1v-67.3l-6.6-1z"/><path fill="#00c4f5" d="M433.5 402.8l2.5-2.8v-67.3l-2.5 2.8z"/><path fill="#00abd6" d="M426.9 334.5l6.6 1l2.5-2.8l-6.7-1.1z"/><path fill="#0000ad" d="M443.5 404.3l6.6 1.1l0.1-72.4l-6.7-1z"/><path fill="#0000f5" d="M450.1 405.4l2.5-2.8v-72.4l-2.4 2.8z"/><path fill="#0000d6" d="M443.5 332l6.7 1l2.4-2.8l-6.7-1z"/><path fill="#005757" d="M460.1 407l6.6 1l0.1-79.1l-6.7-1z"/><path fill="#007b7b" d="M466.7 408l2.5-2.8v-79.1l-2.4 2.8z"/><path fill="#006c6c" d="M460.1 327.9l6.7 1l2.4-2.8l-6.7-1z"/><path fill="#570000" d="M476.7 409.6l6.7 1v-79.1l-6.7-1z"/><path fill="#7b0000" d="M483.4 410.6l2.4-2.8v-79.1l-2.4 2.8z"/><path fill="#6c0000" d="M476.7 330.5l6.7 1l2.4-2.8l-6.7-1.1z"/><path fill="#570057" d="M493.3 412.2l6.7 1v-80.8l-6.7-1z"/><path fill="#7b007b" d="M500 413.2l2.4-2.8v-80.8l-2.4 2.8z"/><path fill="#6c006c" d="M493.3 331.4l6.7 1l2.4-2.8l-6.6-1z"/><path fill="#00adad" d="M509.9 414.8l6.7 1.1v-80.2l-6.7-1z"/><path fill="#00f5f5" d="M516.6 415.9l2.4-2.9v-80.1l-2.4 2.8z"/><path fill="#00d6d6" d="M509.9 334.7l6.7 1l2.4-2.8l-6.6-1.1z"/><path fill="#adad00" d="M526.5 417.4l6.7 1.1v-83.1l-6.6-1.1z"/><path fill="#f5f500" d="M533.2 418.5l2.4-2.9v-83.1l-2.4 2.9z"/><path fill="#d6d600" d="M526.6 334.3l6.6 1.1l2.4-2.9l-6.6-1z"/><path fill="#ad00ad" d="M543.1 420l6.7 1.1v-85.5l-6.6-1z"/><path fill="#f500f5" d="M549.8 421.1l2.4-2.8v-85.5l-2.4 2.8z"/><path fill="#d600d6" d="M543.2 334.6l6.6 1l2.4-2.8l-6.6-1.1z"/><path fill="#000057" d="M559.7 422.7l6.7 1v-87.8l-6.6-1z"/><path fill="#00007b" d="M566.4 423.7l2.4-2.8v-87.8l-2.4 2.8z"/><path fill="#00006c" d="M559.8 334.9l6.6 1l2.4-2.8l-6.6-1.1z"/><path fill="#8b8bad" d="M576.3 425.3l6.7 1v-91l-6.6-1z"/><path fill="#c4c4f5" d="M583 426.3l2.4-2.8l0.1-91l-2.5 2.8z"/><path fill="#ababd6" d="M576.4 334.3l6.6 1l2.5-2.8l-6.7-1.1z"/><path fill="#00458b" d="M593 427.9l6.6 1v-91l-6.6-1z"/><path fill="#0062c4" d="M599.6 428.9l2.4-2.8l0.1-91l-2.5 2.8z"/><path fill="#0056ab" d="M593 336.9l6.6 1l2.5-2.8l-6.7-1.1z"/><path fill="#ad5757" d="M609.6 430.5l6.6 1v-87.6l-6.6-1.1z"/><path fill="#f57b7b" d="M616.2 431.5l2.4-2.8l0.1-87.7l-2.5 2.9z"/><path fill="#d66c6c" d="M609.6 342.8l6.6 1.1l2.5-2.9l-6.7-1z"/><path fill="#450045" d="M626.2 433.1l6.6 1.1l0.1-78.3l-6.7-1.1z"/><path fill="#620062" d="M632.8 434.2l2.4-2.9l0.1-78.2l-2.4 2.8z"/><path fill="#560056" d="M626.2 354.8l6.7 1.1l2.4-2.8l-6.7-1.1z"/><path fill="#8badad" d="M642.8 435.7l6.6 1.1l0.1-68.2l-6.7-1.1z"/><path fill="#c4f5f5" d="M649.4 436.8l2.4-2.9l0.1-68.2l-2.4 2.9z"/><path fill="#abd6d6" d="M642.8 367.5l6.7 1.1l2.4-2.9l-6.7-1z"/><path fill="#adad8b" d="M659.4 438.3l6.6 1.1l0.1-61.3l-6.7-1z"/><path fill="#f5f5c4" d="M666 439.4l2.5-2.8v-61.3l-2.4 2.8z"/><path fill="#d6d6ab" d="M659.4 377.1l6.7 1l2.4-2.8l-6.7-1z"/><path fill="#682345" d="M676 441l6.6 1l0.1-55.3l-6.7-1.1z"/><path fill="#933162" d="M682.6 442l2.5-2.8v-55.4l-2.4 2.9z"/><path fill="#812b56" d="M676 385.6l6.7 1.1l2.4-2.9l-6.7-1z"/><path fill="#6868ad" d="M692.6 443.6l6.6 1l0.1-53.4l-6.7-1z"/><path fill="#9393f5" d="M699.2 444.6l2.5-2.8v-53.4l-2.4 2.8z"/><path fill="#8181d6" d="M692.6 390.2l6.7 1l2.4-2.8l-6.6-1z"/><path fill="#688bad" d="M354.4 398.3l6.7 1.1v-52.1l-6.7-1.1z"/><path fill="#93c4f5" d="M361.1 399.4l2.4-2.9v-52l-2.4 2.8z"/><path fill="#81abd6" d="M354.4 346.2l6.7 1.1l2.4-2.8l-6.7-1.1z"/><path fill="#adad68" d="M371 400.9l6.7 1.1v-55.4l-6.7-1z"/><path fill="#f5f593" d="M377.7 402l2.4-2.8v-55.4l-2.4 2.8z"/><path fill="#d6d681" d="M371 345.6l6.7 1l2.4-2.8l-6.7-1z"/><path fill="#8bad8b" d="M387.6 403.6l6.7 1v-59.4l-6.7-1z"/><path fill="#c4f5c4" d="M394.3 404.6l2.4-2.8v-59.4l-2.4 2.8z"/><path fill="#abd6ab" d="M387.6 344.2l6.7 1l2.4-2.8l-6.7-1z"/><path fill="#8badad" d="M404.2 406.2l6.7 1v-65l-6.7-1z"/><path fill="#c4f5f5" d="M410.9 407.2l2.4-2.8v-65l-2.4 2.8z"/><path fill="#abd6d6" d="M404.2 341.2l6.7 1l2.4-2.8l-6.6-1z"/><path fill="#008bad" d="M420.8 408.8l6.7 1v-68.7l-6.7-1z"/><path fill="#00c4f5" d="M427.5 409.8l2.4-2.8v-68.7l-2.4 2.8z"/><path fill="#00abd6" d="M420.8 340.1l6.7 1l2.4-2.8l-6.6-1.1z"/><path fill="#0000ad" d="M437.4 411.4l6.7 1.1v-74.1l-6.6-1z"/><path fill="#0000f5" d="M444.1 412.5l2.4-2.9v-74l-2.4 2.8z"/><path fill="#0000d6" d="M437.5 337.4l6.6 1l2.4-2.8l-6.6-1z"/><path fill="#005757" d="M454 414l6.7 1.1v-81.8l-6.6-1.1z"/><path fill="#007b7b" d="M460.7 415.1l2.4-2.9v-81.7l-2.4 2.8z"/><path fill="#006c6c" d="M454.1 332.2l6.6 1.1l2.4-2.8l-6.6-1.1z"/><path fill="#570000" d="M470.7 416.6l6.6 1.1v-82.8l-6.6-1z"/><path fill="#7b0000" d="M477.3 417.7l2.4-2.8v-82.8l-2.4 2.8z"/><path fill="#6c0000" d="M470.7 333.9l6.6 1l2.4-2.8l-6.6-1z"/><path fill="#570057" d="M487.3 419.3l6.6 1v-85l-6.6-1.1z"/><path fill="#7b007b" d="M493.9 420.3l2.4-2.8v-85.1l-2.4 2.9z"/><path fill="#6c006c" d="M487.3 334.2l6.6 1.1l2.4-2.9l-6.6-1z"/><path fill="#00adad" d="M503.9 421.9l6.6 1v-84.9l-6.6-1z"/><path fill="#00f5f5" d="M510.5 422.9l2.4-2.8l0.1-84.9l-2.5 2.8z"/><path fill="#00d6d6" d="M503.9 337l6.6 1l2.5-2.8l-6.7-1z"/><path fill="#adad00" d="M520.5 424.5l6.6 1v-88.7l-6.6-1z"/><path fill="#f5f500" d="M527.1 425.5l2.4-2.8l0.1-88.7l-2.5 2.8z"/><path fill="#d6d600" d="M520.5 335.8l6.6 1l2.5-2.8l-6.7-1.1z"/><path fill="#ad00ad" d="M537.1 427.1l6.6 1.1v-91.6l-6.6-1z"/><path fill="#f500f5" d="M543.7 428.2l2.4-2.9l0.1-91.5l-2.5 2.8z"/><path fill="#d600d6" d="M537.1 335.6l6.6 1l2.5-2.8l-6.7-1z"/><path fill="#000057" d="M553.7 429.7l6.6 1.1l0.1-94.2l-6.7-1.1z"/><path fill="#00007b" d="M560.3 430.8l2.4-2.9l0.1-94.2l-2.4 2.9z"/><path fill="#00006c" d="M553.7 335.5l6.7 1.1l2.4-2.9l-6.7-1z"/><path fill="#8b8bad" d="M570.3 432.3l6.6 1.1l0.1-98.1l-6.7-1z"/><path fill="#c4c4f5" d="M576.9 433.4l2.5-2.8v-98.1l-2.4 2.8z"/><path fill="#ababd6" d="M570.3 334.3l6.7 1l2.4-2.8l-6.7-1.1z"/><path fill="#00458b" d="M586.9 435l6.6 1l0.1-98.6l-6.7-1z"/><path fill="#0062c4" d="M593.5 436l2.5-2.8v-98.6l-2.4 2.8z"/><path fill="#0056ab" d="M586.9 336.4l6.7 1l2.4-2.8l-6.6-1z"/><path fill="#ad5757" d="M603.5 437.6l6.6 1l0.1-95.2l-6.7-1.1z"/><path fill="#f57b7b" d="M610.1 438.6l2.5-2.8v-95.3l-2.4 2.9z"/><path fill="#d66c6c" d="M603.5 342.3l6.7 1.1l2.4-2.9l-6.6-1z"/><path fill="#450045" d="M620.1 440.2l6.6 1l0.1-86.2l-6.7-1z"/><path fill="#620062" d="M626.7 441.2l2.5-2.8v-86.2l-2.4 2.8z"/><path fill="#560056" d="M620.1 354l6.7 1l2.4-2.8l-6.6-1.1z"/><path fill="#8badad" d="M636.7 442.8l6.7 1.1v-74.5l-6.7-1.1z"/><path fill="#c4f5f5" d="M643.4 443.9l2.4-2.9v-74.5l-2.4 2.9z"/><path fill="#abd6d6" d="M636.7 368.3l6.7 1.1l2.4-2.9l-6.6-1z"/><path fill="#adad8b" d="M653.3 445.4l6.7 1.1v-66.9l-6.7-1z"/><path fill="#f5f5c4" d="M660 446.5l2.4-2.9v-66.8l-2.4 2.8z"/><path fill="#d6d6ab" d="M653.3 378.6l6.7 1l2.4-2.8l-6.6-1z"/><path fill="#682345" d="M669.9 448l6.7 1.1v-60.5l-6.6-1.1z"/><path fill="#933162" d="M676.6 449.1l2.4-2.8v-60.6l-2.4 2.9z"/><path fill="#812b56" d="M670 387.5l6.6 1.1l2.4-2.9l-6.6-1z"/><path fill="#6868ad" d="M686.5 450.7l6.7 1v-57.4l-6.6-1.1z"/><path fill="#9393f5" d="M693.2 451.7l2.4-2.8v-57.4l-2.4 2.8z"/><path fill="#8181d6" d="M686.6 393.2l6.6 1.1l2.4-2.8l-6.6-1.1z"/><path fill="#688bad" d="M348.4 405.4l6.6 1v-51.7l-6.6-1.1z"/><path fill="#93c4f5" d="M355 406.4l2.4-2.8v-51.8l-2.4 2.9z"/><path fill="#81abd6" d="M348.4 353.6l6.6 1.1l2.4-2.9l-6.6-1z"/><path fill="#adad68" d="M365 408l6.6 1v-55.4l-6.6-1.1z"/><path fill="#f5f593" d="M371.6 409l2.4-2.8v-55.4l-2.4 2.8z"/><path fill="#d6d681" d="M365 352.5l6.6 1.1l2.4-2.8l-6.6-1.1z"/><path fill="#8bad8b" d="M381.6 410.6l6.6 1.1v-59.9l-6.6-1z"/><path fill="#c4f5c4" d="M388.2 411.7l2.4-2.9v-59.8l-2.4 2.8z"/><path fill="#abd6ab" d="M381.6 350.8l6.6 1l2.4-2.8l-6.6-1.1z"/><path fill="#8badad" d="M398.2 413.2l6.6 1.1v-65.9l-6.6-1.1z"/><path fill="#c4f5f5" d="M404.8 414.3l2.4-2.8v-66l-2.4 2.9z"/><path fill="#abd6d6" d="M398.2 347.3l6.6 1.1l2.4-2.9l-6.6-1z"/><path fill="#008bad" d="M414.8 415.9l6.6 1v-69.6l-6.6-1.1z"/><path fill="#00c4f5" d="M421.4 416.9l2.4-2.8l0.1-69.7l-2.5 2.9z"/><path fill="#00abd6" d="M414.8 346.2l6.6 1.1l2.5-2.9l-6.7-1z"/><path fill="#0000ad" d="M431.4 418.5l6.6 1v-75l-6.6-1.1z"/><path fill="#0000f5" d="M438 419.5l2.5-2.8v-75.1l-2.5 2.9z"/><path fill="#0000d6" d="M431.4 343.4l6.6 1.1l2.5-2.9l-6.7-1z"/><path fill="#005757" d="M448 421.1l6.6 1v-83.4l-6.6-1.1z"/><path fill="#007b7b" d="M454.6 422.1l2.5-2.8v-83.5l-2.5 2.9z"/><path fill="#006c6c" d="M448 337.6l6.6 1.1l2.5-2.9l-6.7-1z"/><path fill="#570000" d="M464.6 423.7l6.6 1.1l0.1-85.6l-6.7-1z"/><path fill="#7b0000" d="M471.2 424.8l2.5-2.9v-85.5l-2.4 2.8z"/><path fill="#6c0000" d="M464.6 338.2l6.7 1l2.4-2.8l-6.7-1z"/><path fill="#570057" d="M481.2 426.3l6.6 1.1l0.1-88.9l-6.7-1z"/><path fill="#7b007b" d="M487.8 427.4l2.5-2.9v-88.8l-2.4 2.8z"/><path fill="#6c006c" d="M481.2 337.5l6.7 1l2.4-2.8l-6.7-1.1z"/><path fill="#00adad" d="M497.8 428.9l6.6 1.1l0.1-89.5l-6.7-1z"/><path fill="#00f5f5" d="M504.4 430l2.5-2.8v-89.5l-2.4 2.8z"/><path fill="#00d6d6" d="M497.8 339.5l6.7 1l2.4-2.8l-6.6-1z"/><path fill="#adad00" d="M514.4 431.6l6.7 1v-94.3l-6.7-1.1z"/><path fill="#f5f500" d="M521.1 432.6l2.4-2.8v-94.4l-2.4 2.9z"/><path fill="#d6d600" d="M514.4 337.2l6.7 1.1l2.4-2.9l-6.6-1z"/><path fill="#ad00ad" d="M531 434.2l6.7 1v-97.7l-6.7-1z"/><path fill="#f500f5" d="M537.7 435.2l2.4-2.8v-97.7l-2.4 2.8z"/><path fill="#d600d6" d="M531 336.5l6.7 1l2.4-2.8l-6.6-1.1z"/><path fill="#000057" d="M547.6 436.8l6.7 1v-101.1l-6.6-1z"/><path fill="#00007b" d="M554.3 437.8l2.4-2.8v-101.1l-2.4 2.8z"/><path fill="#00006c" d="M547.7 335.7l6.6 1l2.4-2.8l-6.6-1.1z"/><path fill="#8b8bad" d="M564.2 439.4l6.7 1.1v-105.6l-6.6-1z"/><path fill="#c4c4f5" d="M570.9 440.5l2.4-2.9v-105.5l-2.4 2.8z"/><path fill="#ababd6" d="M564.3 333.9l6.6 1l2.4-2.8l-6.6-1z"/><path fill="#00458b" d="M580.8 442l6.7 1.1v-106.7l-6.6-1z"/><path fill="#0062c4" d="M587.5 443.1l2.4-2.9v-106.6l-2.4 2.8z"/><path fill="#0056ab" d="M580.9 335.4l6.6 1l2.4-2.8l-6.6-1.1z"/><path fill="#ad5757" d="M597.4 444.6l6.7 1.1v-103.4l-6.6-1z"/><path fill="#f57b7b" d="M604.1 445.7l2.4-2.8v-103.4l-2.4 2.8z"/><path fill="#d66c6c" d="M597.5 341.3l6.6 1l2.4-2.8l-6.6-1z"/><path fill="#450045" d="M614 447.3l6.7 1v-94.5l-6.6-1z"/><path fill="#620062" d="M620.7 448.3l2.4-2.8v-94.5l-2.4 2.8z"/><path fill="#560056" d="M614.1 352.8l6.6 1l2.4-2.8l-6.6-1z"/><path fill="#8badad" d="M630.6 449.9l6.7 1v-81l-6.6-1z"/><path fill="#c4f5f5" d="M637.3 450.9l2.4-2.8v-81l-2.4 2.8z"/><path fill="#abd6d6" d="M630.7 368.9l6.6 1l2.4-2.8l-6.6-1z"/><path fill="#adad8b" d="M647.2 452.5l6.7 1v-72.5l-6.6-1.1z"/><path fill="#f5f5c4" d="M653.9 453.5l2.4-2.8l0.1-72.6l-2.5 2.9z"/><path fill="#d6d6ab" d="M647.3 379.9l6.6 1.1l2.5-2.9l-6.7-1z"/><path fill="#682345" d="M663.9 455.1l6.6 1.1v-65.9l-6.6-1z"/><path fill="#933162" d="M670.5 456.2l2.4-2.9l0.1-65.8l-2.5 2.8z"/><path fill="#812b56" d="M663.9 389.3l6.6 1l2.5-2.8l-6.7-1.1z"/><path fill="#6868ad" d="M680.5 457.7l6.6 1.1v-63.9l-6.6-1z"/><path fill="#9393f5" d="M687.1 458.8l2.4-2.9l0.1-63.8l-2.5 2.8z"/><path fill="#8181d6" d="M680.5 393.9l6.6 1l2.5-2.8l-6.7-1z"/><path fill="#688bad" d="M342.3 412.4l6.7 1.1v-51.8l-6.7-1z"/><path fill="#93c4f5" d="M349 413.5l2.4-2.8v-51.8l-2.4 2.8z"/><path fill="#81abd6" d="M342.3 360.7l6.7 1l2.4-2.8l-6.7-1z"/><path fill="#adad68" d="M358.9 415.1l6.7 1v-55.2l-6.7-1.1z"/><path fill="#f5f593" d="M365.6 416.1l2.4-2.8v-55.3l-2.4 2.9z"/><path fill="#d6d681" d="M358.9 359.8l6.7 1.1l2.4-2.9l-6.7-1z"/><path fill="#8bad8b" d="M375.5 417.7l6.7 1v-59.6l-6.7-1.1z"/><path fill="#c4f5c4" d="M382.2 418.7l2.4-2.8v-59.6l-2.4 2.8z"/><path fill="#abd6ab" d="M375.5 358l6.7 1.1l2.4-2.8l-6.7-1.1z"/><path fill="#8badad" d="M392.1 420.3l6.7 1v-66.1l-6.7-1.1z"/><path fill="#c4f5f5" d="M398.8 421.3l2.4-2.8v-66.1l-2.4 2.8z"/><path fill="#abd6d6" d="M392.1 354.1l6.7 1.1l2.4-2.8l-6.6-1.1z"/><path fill="#008bad" d="M408.7 422.9l6.7 1.1v-69.9l-6.7-1.1z"/><path fill="#00c4f5" d="M415.4 424l2.4-2.9v-69.8l-2.4 2.8z"/><path fill="#00abd6" d="M408.7 353l6.7 1.1l2.4-2.8l-6.6-1.1z"/><path fill="#0000ad" d="M425.3 425.5l6.7 1.1v-75.7l-6.7-1.1z"/><path fill="#0000f5" d="M432 426.6l2.4-2.8v-75.8l-2.4 2.9z"/><path fill="#0000d6" d="M425.3 349.8l6.7 1.1l2.4-2.9l-6.6-1z"/><path fill="#005757" d="M441.9 428.1l6.7 1.1v-84.2l-6.6-1z"/><path fill="#007b7b" d="M448.6 429.2l2.4-2.8v-84.2l-2.4 2.8z"/><path fill="#006c6c" d="M442 344l6.6 1l2.4-2.8l-6.6-1.1z"/><path fill="#570000" d="M458.5 430.8l6.7 1v-87.1l-6.6-1.1z"/><path fill="#7b0000" d="M465.2 431.8l2.4-2.8v-87.2l-2.4 2.9z"/><path fill="#6c0000" d="M458.6 343.6l6.6 1.1l2.4-2.9l-6.6-1z"/><path fill="#570057" d="M475.1 433.4l6.7 1v-91.6l-6.6-1z"/><path fill="#7b007b" d="M481.8 434.4l2.4-2.8v-91.6l-2.4 2.8z"/><path fill="#6c006c" d="M475.2 341.8l6.6 1l2.4-2.8l-6.6-1z"/><path fill="#00adad" d="M491.7 436l6.7 1.1v-94l-6.6-1.1z"/><path fill="#00f5f5" d="M498.4 437.1l2.4-2.9v-94l-2.4 2.9z"/><path fill="#00d6d6" d="M491.8 342l6.6 1.1l2.4-2.9l-6.6-1z"/><path fill="#adad00" d="M508.4 438.6l6.6 1.1v-100.2l-6.6-1.1z"/><path fill="#f5f500" d="M515 439.7l2.4-2.9v-100.2l-2.4 2.9z"/><path fill="#d6d600" d="M508.4 338.4l6.6 1.1l2.4-2.9l-6.6-1z"/><path fill="#ad00ad" d="M525 441.2l6.6 1.1v-104.6l-6.6-1z"/><path fill="#f500f5" d="M531.6 442.3l2.4-2.8v-104.6l-2.4 2.8z"/><path fill="#d600d6" d="M525 336.7l6.6 1l2.4-2.8l-6.6-1z"/><path fill="#000057" d="M541.6 443.9l6.6 1v-109.1l-6.6-1z"/><path fill="#00007b" d="M548.2 444.9l2.4-2.8l0.1-109.1l-2.5 2.8z"/><path fill="#00006c" d="M541.6 334.8l6.6 1l2.5-2.8l-6.7-1z"/><path fill="#8b8bad" d="M558.2 446.5l6.6 1v-113.3l-6.6-1z"/><path fill="#c4c4f5" d="M564.8 447.5l2.4-2.8l0.1-113.3l-2.5 2.8z"/><path fill="#ababd6" d="M558.2 333.2l6.6 1l2.5-2.8l-6.7-1z"/><path fill="#00458b" d="M574.8 449.1l6.6 1v-115.4l-6.6-1z"/><path fill="#0062c4" d="M581.4 450.1l2.4-2.8l0.1-115.4l-2.5 2.8z"/><path fill="#0056ab" d="M574.8 333.7l6.6 1l2.5-2.8l-6.7-1z"/><path fill="#ad5757" d="M591.4 451.7l6.6 1.1v-112.1l-6.6-1.1z"/><path fill="#f57b7b" d="M598 452.8l2.4-2.9l0.1-112.1l-2.5 2.9z"/><path fill="#d66c6c" d="M591.4 339.6l6.6 1.1l2.5-2.9l-6.7-1z"/><path fill="#450045" d="M608 454.3l6.6 1.1l0.1-103.6l-6.7-1.1z"/><path fill="#620062" d="M614.6 455.4l2.4-2.8l0.1-103.6l-2.4 2.8z"/><path fill="#560056" d="M608 350.7l6.7 1.1l2.4-2.8l-6.7-1.1z"/><path fill="#8badad" d="M624.6 457l6.6 1l0.1-88.3l-6.7-1z"/><path fill="#c4f5f5" d="M631.2 458l2.4-2.8l0.1-88.3l-2.4 2.8z"/><path fill="#abd6d6" d="M624.6 368.7l6.7 1l2.4-2.8l-6.7-1z"/><path fill="#adad8b" d="M641.2 459.6l6.6 1l0.1-79.3l-6.7-1z"/><path fill="#f5f5c4" d="M647.8 460.6l2.4-2.8l0.1-79.3l-2.4 2.8z"/><path fill="#d6d6ab" d="M641.2 380.3l6.7 1l2.4-2.8l-6.7-1z"/><path fill="#682345" d="M657.8 462.2l6.6 1l0.1-72l-6.7-1z"/><path fill="#933162" d="M664.4 463.2l2.5-2.8v-72l-2.4 2.8z"/><path fill="#812b56" d="M657.8 390.2l6.7 1l2.4-2.8l-6.7-1z"/><path fill="#6868ad" d="M674.4 464.8l6.6 1.1l0.1-72.4l-6.7-1.1z"/><path fill="#9393f5" d="M681 465.9l2.5-2.9v-72.3l-2.4 2.8z"/><path fill="#8181d6" d="M674.4 392.4l6.7 1.1l2.4-2.8l-6.7-1.1z"/><path fill="#688bad" d="M336.3 419.5l6.6 1v-51.4l-6.6-1z"/><path fill="#93c4f5" d="M342.9 420.5l2.4-2.8v-51.4l-2.4 2.8z"/><path fill="#81abd6" d="M336.3 368.1l6.6 1l2.4-2.8l-6.6-1z"/><path fill="#adad68" d="M352.9 422.1l6.6 1.1v-54.8l-6.6-1.1z"/><path fill="#f5f593" d="M359.5 423.2l2.4-2.9v-54.8l-2.4 2.9z"/><path fill="#d6d681" d="M352.9 367.3l6.6 1.1l2.4-2.9l-6.6-1z"/><path fill="#8bad8b" d="M369.5 424.7l6.6 1.1v-59.2l-6.6-1z"/><path fill="#c4f5c4" d="M376.1 425.8l2.4-2.8v-59.2l-2.4 2.8z"/><path fill="#abd6ab" d="M369.5 365.6l6.6 1l2.4-2.8l-6.6-1.1z"/><path fill="#8badad" d="M386.1 427.4l6.6 1v-66.3l-6.6-1z"/><path fill="#c4f5f5" d="M392.7 428.4l2.4-2.8v-66.3l-2.4 2.8z"/><path fill="#abd6d6" d="M386.1 361.1l6.6 1l2.4-2.8l-6.6-1z"/><path fill="#008bad" d="M402.7 430l6.6 1v-70l-6.6-1z"/><path fill="#00c4f5" d="M409.3 431l2.4-2.8v-70l-2.4 2.8z"/><path fill="#00abd6" d="M402.7 360l6.6 1l2.4-2.8l-6.6-1z"/><path fill="#0000ad" d="M419.3 432.6l6.6 1v-76.1l-6.6-1.1z"/><path fill="#0000f5" d="M425.9 433.6l2.4-2.8l0.1-76.2l-2.5 2.9z"/><path fill="#0000d6" d="M419.3 356.4l6.6 1.1l2.5-2.9l-6.7-1z"/><path fill="#005757" d="M435.9 435.2l6.6 1.1v-84.5l-6.6-1.1z"/><path fill="#007b7b" d="M442.5 436.3l2.4-2.9l0.1-84.5l-2.5 2.9z"/><path fill="#006c6c" d="M435.9 350.7l6.6 1.1l2.5-2.9l-6.7-1z"/><path fill="#570000" d="M452.5 437.8l6.6 1.1v-88.2l-6.6-1.1z"/><path fill="#7b0000" d="M459.1 438.9l2.4-2.8l0.1-88.3l-2.5 2.9z"/><path fill="#6c0000" d="M452.5 349.6l6.6 1.1l2.5-2.9l-6.7-1z"/><path fill="#570057" d="M469.1 440.5l6.6 1v-93.5l-6.6-1.1z"/><path fill="#7b007b" d="M475.7 441.5l2.5-2.8v-93.6l-2.5 2.9z"/><path fill="#6c006c" d="M469.1 346.9l6.6 1.1l2.5-2.9l-6.7-1z"/><path fill="#00adad" d="M485.7 443.1l6.6 1l0.1-99l-6.7-1z"/><path fill="#00f5f5" d="M492.3 444.1l2.5-2.8v-99l-2.4 2.8z"/><path fill="#00d6d6" d="M485.7 344.1l6.7 1l2.4-2.8l-6.7-1z"/><path fill="#adad00" d="M502.3 445.7l6.6 1l0.1-106.1l-6.7-1z"/><path fill="#f5f500" d="M508.9 446.7l2.5-2.8v-106.1l-2.4 2.8z"/><path fill="#d6d600" d="M502.3 339.6l6.7 1l2.4-2.8l-6.7-1.1z"/><path fill="#ad00ad" d="M518.9 448.3l6.6 1.1l0.1-111.7l-6.7-1.1z"/><path fill="#f500f5" d="M525.5 449.4l2.5-2.9v-111.7l-2.4 2.9z"/><path fill="#d600d6" d="M518.9 336.6l6.7 1.1l2.4-2.9l-6.7-1z"/><path fill="#000057" d="M535.5 450.9l6.6 1.1l0.1-117.9l-6.7-1.1z"/><path fill="#00007b" d="M542.1 452l2.5-2.9v-117.9l-2.4 2.9z"/><path fill="#00006c" d="M535.5 333l6.7 1.1l2.4-2.9l-6.6-1z"/><path fill="#8b8bad" d="M552.1 453.5l6.6 1.1l0.1-121.4l-6.7-1z"/><path fill="#c4c4f5" d="M558.7 454.6l2.5-2.8v-121.4l-2.4 2.8z"/><path fill="#ababd6" d="M552.1 332.2l6.7 1l2.4-2.8l-6.6-1.1z"/><path fill="#00458b" d="M568.7 456.2l6.6 1l0.1-124.8l-6.7-1z"/><path fill="#0062c4" d="M575.3 457.2l2.5-2.8v-124.8l-2.4 2.8z"/><path fill="#0056ab" d="M568.7 331.4l6.7 1l2.4-2.8l-6.6-1.1z"/><path fill="#ad5757" d="M585.3 458.8l6.6 1l0.1-121.4l-6.7-1.1z"/><path fill="#f57b7b" d="M591.9 459.8l2.5-2.8v-121.5l-2.4 2.9z"/><path fill="#d66c6c" d="M585.3 337.3l6.7 1.1l2.4-2.9l-6.6-1z"/><path fill="#450045" d="M601.9 461.4l6.6 1.1l0.1-114.4l-6.7-1z"/><path fill="#620062" d="M608.5 462.5l2.5-2.9v-114.3l-2.4 2.8z"/><path fill="#560056" d="M601.9 347.1l6.7 1l2.4-2.8l-6.6-1.1z"/><path fill="#8badad" d="M618.5 464l6.6 1.1l0.1-97.2l-6.7-1z"/><path fill="#c4f5f5" d="M625.1 465.1l2.5-2.9v-97.1l-2.4 2.8z"/><path fill="#abd6d6" d="M618.5 366.9l6.7 1l2.4-2.8l-6.6-1z"/><path fill="#adad8b" d="M635.1 466.6l6.7 1.1v-87.9l-6.7-1z"/><path fill="#f5f5c4" d="M641.8 467.7l2.4-2.8v-87.9l-2.4 2.8z"/><path fill="#d6d6ab" d="M635.1 378.8l6.7 1l2.4-2.8l-6.6-1.1z"/><path fill="#682345" d="M651.7 469.3l6.7 1v-79.8l-6.7-1.1z"/><path fill="#933162" d="M658.4 470.3l2.4-2.8v-79.9l-2.4 2.9z"/><path fill="#812b56" d="M651.7 389.4l6.7 1.1l2.4-2.9l-6.6-1z"/><path fill="#6868ad" d="M668.3 471.9l6.7 1v-81.1l-6.7-1z"/><path fill="#9393f5" d="M675 472.9l2.4-2.8v-81.1l-2.4 2.8z"/><path fill="#8181d6" d="M668.3 390.8l6.7 1l2.4-2.8l-6.6-1z"/><path fill="#688bad" d="M330.2 426.6l6.7 1v-50.4l-6.7-1z"/><path fill="#93c4f5" d="M336.9 427.6l2.4-2.8v-50.4l-2.4 2.8z"/><path fill="#81abd6" d="M330.2 376.2l6.7 1l2.4-2.8l-6.7-1.1z"/><path fill="#adad68" d="M346.8 429.2l6.7 1v-54.1l-6.7-1z"/><path fill="#f5f593" d="M353.5 430.2l2.4-2.8v-54.1l-2.4 2.8z"/><path fill="#d6d681" d="M346.8 375.1l6.7 1l2.4-2.8l-6.7-1z"/><path fill="#8bad8b" d="M363.4 431.8l6.7 1v-58.5l-6.7-1z"/><path fill="#c4f5c4" d="M370.1 432.8l2.4-2.8v-58.5l-2.4 2.8z"/><path fill="#abd6ab" d="M363.4 373.3l6.7 1l2.4-2.8l-6.7-1z"/><path fill="#8badad" d="M380 434.4l6.7 1.1v-65.5l-6.7-1z"/><path fill="#c4f5f5" d="M386.7 435.5l2.4-2.9v-65.4l-2.4 2.8z"/><path fill="#abd6d6" d="M380 369l6.7 1l2.4-2.8l-6.6-1.1z"/><path fill="#008bad" d="M396.6 437l6.7 1.1v-69.7l-6.7-1z"/><path fill="#00c4f5" d="M403.3 438.1l2.4-2.8v-69.7l-2.4 2.8z"/><path fill="#00abd6" d="M396.6 367.4l6.7 1l2.4-2.8l-6.6-1.1z"/><path fill="#0000ad" d="M413.2 439.7l6.7 1v-76.4l-6.7-1z"/><path fill="#0000f5" d="M419.9 440.7l2.4-2.8v-76.4l-2.4 2.8z"/><path fill="#0000d6" d="M413.2 363.3l6.7 1l2.4-2.8l-6.6-1.1z"/><path fill="#005757" d="M429.8 442.3l6.7 1v-83.9l-6.7-1.1z"/><path fill="#007b7b" d="M436.5 443.3l2.4-2.8v-83.9l-2.4 2.8z"/><path fill="#006c6c" d="M429.8 358.3l6.7 1.1l2.4-2.8l-6.6-1.1z"/><path fill="#570000" d="M446.4 444.9l6.7 1v-88.9l-6.7-1z"/><path fill="#7b0000" d="M453.1 445.9l2.4-2.8v-88.9l-2.4 2.8z"/><path fill="#6c0000" d="M446.4 356l6.7 1l2.4-2.8l-6.6-1z"/><path fill="#570057" d="M463 447.5l6.7 1.1v-95.1l-6.7-1z"/><path fill="#7b007b" d="M469.7 448.6l2.4-2.9v-95l-2.4 2.8z"/><path fill="#6c006c" d="M463 352.5l6.7 1l2.4-2.8l-6.6-1z"/><path fill="#00adad" d="M479.6 450.1l6.7 1.1v-102.8l-6.6-1z"/><path fill="#00f5f5" d="M486.3 451.2l2.4-2.8v-102.8l-2.4 2.8z"/><path fill="#00d6d6" d="M479.7 347.4l6.6 1l2.4-2.8l-6.6-1z"/><path fill="#adad00" d="M496.2 452.8l6.7 1v-111.2l-6.6-1z"/><path fill="#f5f500" d="M502.9 453.8l2.4-2.8v-111.2l-2.4 2.8z"/><path fill="#d6d600" d="M496.3 341.6l6.6 1l2.4-2.8l-6.6-1.1z"/><path fill="#ad00ad" d="M512.8 455.4l6.7 1v-118l-6.6-1z"/><path fill="#f500f5" d="M519.5 456.4l2.4-2.8v-118l-2.4 2.8z"/><path fill="#d600d6" d="M512.9 337.4l6.6 1l2.4-2.8l-6.6-1z"/><path fill="#000057" d="M529.4 458l6.7 1v-126.8l-6.6-1z"/><path fill="#00007b" d="M536.1 459l2.4-2.8v-126.8l-2.4 2.8z"/><path fill="#00006c" d="M529.5 331.2l6.6 1l2.4-2.8l-6.6-1z"/><path fill="#8b8bad" d="M546 460.6l6.7 1.1v-130.5l-6.6-1z"/><path fill="#c4c4f5" d="M552.7 461.7l2.4-2.9v-130.4l-2.4 2.8z"/><path fill="#ababd6" d="M546.1 330.2l6.6 1l2.4-2.8l-6.6-1z"/><path fill="#00458b" d="M562.6 463.2l6.7 1.1v-135.3l-6.6-1.1z"/><path fill="#0062c4" d="M569.3 464.3l2.4-2.8v-135.4l-2.4 2.9z"/><path fill="#0056ab" d="M562.7 327.9l6.6 1.1l2.4-2.9l-6.6-1z"/><path fill="#ad5757" d="M579.2 465.9l6.7 1v-131.6l-6.6-1.1z"/><path fill="#f57b7b" d="M585.9 466.9l2.4-2.8v-131.7l-2.4 2.9z"/><path fill="#d66c6c" d="M579.3 334.2l6.6 1.1l2.4-2.9l-6.6-1z"/><path fill="#450045" d="M595.8 468.5l6.7 1v-127l-6.6-1z"/><path fill="#620062" d="M602.5 469.5l2.4-2.8v-127l-2.4 2.8z"/><path fill="#560056" d="M595.9 341.5l6.6 1l2.4-2.8l-6.6-1.1z"/><path fill="#8badad" d="M612.4 471.1l6.7 1v-108.1l-6.6-1z"/><path fill="#c4f5f5" d="M619.1 472.1l2.4-2.8v-108.1l-2.4 2.8z"/><path fill="#abd6d6" d="M612.5 363l6.6 1l2.4-2.8l-6.6-1z"/><path fill="#adad8b" d="M629 473.7l6.7 1.1v-98.6l-6.6-1z"/><path fill="#f5f5c4" d="M635.7 474.8l2.4-2.9v-98.5l-2.4 2.8z"/><path fill="#d6d6ab" d="M629.1 375.2l6.6 1l2.4-2.8l-6.6-1.1z"/><path fill="#682345" d="M645.6 476.3l6.7 1.1v-89.6l-6.6-1z"/><path fill="#933162" d="M652.3 477.4l2.4-2.8v-89.6l-2.4 2.8z"/><path fill="#812b56" d="M645.7 386.8l6.6 1l2.4-2.8l-6.6-1z"/><path fill="#6868ad" d="M662.2 479l6.7 1v-88.9l-6.6-1.1z"/><path fill="#9393f5" d="M668.9 480l2.4-2.8v-88.9l-2.4 2.8z"/><path fill="#8181d6" d="M662.3 390l6.6 1.1l2.4-2.8l-6.6-1.1z"/><path fill="#688bad" d="M324.2 433.6l6.6 1.1v-49.4l-6.6-1.1z"/><path fill="#93c4f5" d="M330.8 434.7l2.4-2.9v-49.4l-2.4 2.9z"/><path fill="#81abd6" d="M324.2 384.2l6.6 1.1l2.4-2.9l-6.6-1z"/><path fill="#adad68" d="M340.8 436.2l6.6 1.1v-53.1l-6.6-1.1z"/><path fill="#f5f593" d="M347.4 437.3l2.4-2.8v-53.2l-2.4 2.9z"/><path fill="#d6d681" d="M340.8 383.1l6.6 1.1l2.4-2.9l-6.6-1z"/><path fill="#8bad8b" d="M357.4 438.9l6.6 1v-57.5l-6.6-1z"/><path fill="#c4f5c4" d="M364 439.9l2.4-2.8v-57.5l-2.4 2.8z"/><path fill="#abd6ab" d="M357.4 381.4l6.6 1l2.4-2.8l-6.6-1.1z"/><path fill="#8badad" d="M374 441.5l6.6 1v-63.9l-6.6-1z"/><path fill="#c4f5f5" d="M380.6 442.5l2.4-2.8v-63.9l-2.4 2.8z"/><path fill="#abd6d6" d="M374 377.6l6.6 1l2.4-2.8l-6.6-1z"/><path fill="#008bad" d="M390.6 444.1l6.6 1v-68.9l-6.6-1.1z"/><path fill="#00c4f5" d="M397.2 445.1l2.4-2.8v-68.9l-2.4 2.8z"/><path fill="#00abd6" d="M390.6 375.1l6.6 1.1l2.4-2.8l-6.6-1.1z"/><path fill="#0000ad" d="M407.2 446.7l6.6 1.1v-76.2l-6.6-1z"/><path fill="#0000f5" d="M413.8 447.8l2.4-2.9v-76.1l-2.4 2.8z"/><path fill="#0000d6" d="M407.2 370.6l6.6 1l2.4-2.8l-6.6-1z"/><path fill="#005757" d="M423.8 449.3l6.6 1.1v-82.8l-6.6-1.1z"/><path fill="#007b7b" d="M430.4 450.4l2.4-2.8v-82.8l-2.4 2.8z"/><path fill="#006c6c" d="M423.8 366.5l6.6 1.1l2.4-2.8l-6.6-1.1z"/><path fill="#570000" d="M440.4 452l6.6 1v-89.2l-6.6-1.1z"/><path fill="#7b0000" d="M447 453l2.4-2.8v-89.2l-2.4 2.8z"/><path fill="#6c0000" d="M440.4 362.7l6.6 1.1l2.4-2.8l-6.6-1.1z"/><path fill="#570057" d="M457 454.6l6.6 1v-95.6l-6.6-1.1z"/><path fill="#7b007b" d="M463.6 455.6l2.4-2.8l0.1-95.7l-2.5 2.9z"/><path fill="#6c006c" d="M457 358.9l6.6 1.1l2.5-2.9l-6.7-1z"/><path fill="#00adad" d="M473.6 457.2l6.6 1v-104.6l-6.6-1z"/><path fill="#00f5f5" d="M480.2 458.2l2.4-2.8l0.1-104.6l-2.5 2.8z"/><path fill="#00d6d6" d="M473.6 352.6l6.6 1l2.5-2.8l-6.7-1z"/><path fill="#adad00" d="M490.2 459.8l6.6 1.1v-115l-6.6-1z"/><path fill="#f5f500" d="M496.8 460.9l2.4-2.9l0.1-114.9l-2.5 2.8z"/><path fill="#d6d600" d="M490.2 344.9l6.6 1l2.5-2.8l-6.7-1z"/><path fill="#ad00ad" d="M506.8 462.4l6.6 1.1v-123.7l-6.6-1z"/><path fill="#f500f5" d="M513.4 463.5l2.4-2.8l0.1-123.7l-2.5 2.8z"/><path fill="#d600d6" d="M506.8 338.8l6.6 1l2.5-2.8l-6.7-1.1z"/><path fill="#000057" d="M523.4 465.1l6.6 1v-134.9l-6.6-1z"/><path fill="#00007b" d="M530 466.1l2.4-2.8l0.1-134.9l-2.5 2.8z"/><path fill="#00006c" d="M523.4 330.2l6.6 1l2.5-2.8l-6.7-1z"/><path fill="#8b8bad" d="M540 467.7l6.6 1v-139.9l-6.6-1.1z"/><path fill="#c4c4f5" d="M546.6 468.7l2.4-2.8l0.1-140l-2.5 2.9z"/><path fill="#ababd6" d="M540 327.7l6.6 1.1l2.5-2.9l-6.7-1z"/><path fill="#00458b" d="M556.6 470.3l6.6 1.1v-146.9l-6.6-1z"/><path fill="#0062c4" d="M563.2 471.4l2.4-2.9l0.1-146.8l-2.5 2.8z"/><path fill="#0056ab" d="M556.6 323.5l6.6 1l2.5-2.8l-6.7-1.1z"/><path fill="#ad5757" d="M573.2 472.9l6.6 1.1l0.1-142.9l-6.7-1z"/><path fill="#f57b7b" d="M579.8 474l2.4-2.9l0.1-142.8l-2.4 2.8z"/><path fill="#d66c6c" d="M573.2 330.1l6.7 1l2.4-2.8l-6.7-1z"/><path fill="#450045" d="M589.8 475.5l6.6 1.1l0.1-141.8l-6.7-1z"/><path fill="#620062" d="M596.4 476.6l2.4-2.8l0.1-141.8l-2.4 2.8z"/><path fill="#560056" d="M589.8 333.8l6.7 1l2.4-2.8l-6.7-1.1z"/><path fill="#8badad" d="M606.4 478.2l6.6 1v-121.6l-6.6-1z"/><path fill="#c4f5f5" d="M613 479.2l2.4-2.8l0.1-121.6l-2.5 2.8z"/><path fill="#abd6d6" d="M606.4 356.6l6.6 1l2.5-2.8l-6.7-1z"/><path fill="#adad8b" d="M623 480.8l6.6 1v-111.4l-6.6-1.1z"/><path fill="#f5f5c4" d="M629.6 481.8l2.4-2.8l0.1-111.5l-2.5 2.9z"/><path fill="#d6d6ab" d="M623 369.3l6.6 1.1l2.5-2.9l-6.7-1z"/><path fill="#682345" d="M639.6 483.4l6.6 1.1v-101.4l-6.6-1z"/><path fill="#933162" d="M646.2 484.5l2.4-2.9l0.1-101.3l-2.5 2.8z"/><path fill="#812b56" d="M639.6 382.1l6.6 1l2.5-2.8l-6.7-1.1z"/><path fill="#6868ad" d="M656.2 486l6.6 1.1v-98l-6.6-1.1z"/><path fill="#9393f5" d="M662.8 487.1l2.4-2.8l0.1-98.1l-2.5 2.9z"/><path fill="#8181d6" d="M656.2 388l6.6 1.1l2.5-2.9l-6.7-1z"/><path fill="#688bad" d="M318.1 440.7l6.7 1v-48.4l-6.7-1z"/><path fill="#93c4f5" d="M324.8 441.7l2.4-2.8v-48.4l-2.4 2.8z"/><path fill="#81abd6" d="M318.1 392.3l6.7 1l2.4-2.8l-6.7-1z"/><path fill="#adad68" d="M334.7 443.3l6.7 1v-51.7l-6.7-1.1z"/><path fill="#f5f593" d="M341.4 444.3l2.4-2.8v-51.7l-2.4 2.8z"/><path fill="#d6d681" d="M334.7 391.5l6.7 1.1l2.4-2.8l-6.7-1.1z"/><path fill="#8bad8b" d="M351.3 445.9l6.7 1.1v-55.9l-6.7-1z"/><path fill="#c4f5c4" d="M358 447l2.4-2.9v-55.8l-2.4 2.8z"/><path fill="#abd6ab" d="M351.3 390.1l6.7 1l2.4-2.8l-6.7-1.1z"/><path fill="#8badad" d="M367.9 448.5l6.7 1.1v-62l-6.7-1z"/><path fill="#c4f5f5" d="M374.6 449.6l2.4-2.8v-62l-2.4 2.8z"/><path fill="#abd6d6" d="M367.9 386.6l6.7 1l2.4-2.8l-6.7-1z"/><path fill="#008bad" d="M384.5 451.2l6.7 1v-67.1l-6.7-1z"/><path fill="#00c4f5" d="M391.2 452.2l2.4-2.8v-67.1l-2.4 2.8z"/><path fill="#00abd6" d="M384.5 384.1l6.7 1l2.4-2.8l-6.7-1z"/><path fill="#0000ad" d="M401.1 453.8l6.7 1v-75.4l-6.7-1.1z"/><path fill="#0000f5" d="M407.8 454.8l2.4-2.8v-75.4l-2.4 2.8z"/><path fill="#0000d6" d="M401.1 378.3l6.7 1.1l2.4-2.8l-6.7-1.1z"/><path fill="#005757" d="M417.7 456.4l6.7 1v-81.1l-6.7-1z"/><path fill="#007b7b" d="M424.4 457.4l2.4-2.8v-81.1l-2.4 2.8z"/><path fill="#006c6c" d="M417.7 375.3l6.7 1l2.4-2.8l-6.7-1.1z"/><path fill="#570000" d="M434.3 459l6.7 1.1v-88.4l-6.7-1.1z"/><path fill="#7b0000" d="M441 460.1l2.4-2.9v-88.3l-2.4 2.8z"/><path fill="#6c0000" d="M434.3 370.6l6.7 1.1l2.4-2.8l-6.6-1.1z"/><path fill="#570057" d="M450.9 461.6l6.7 1.1v-95.1l-6.7-1z"/><path fill="#7b007b" d="M457.6 462.7l2.4-2.8v-95.1l-2.4 2.8z"/><path fill="#6c006c" d="M450.9 366.6l6.7 1l2.4-2.8l-6.6-1.1z"/><path fill="#00adad" d="M467.5 464.3l6.7 1v-105.4l-6.7-1.1z"/><path fill="#00f5f5" d="M474.2 465.3l2.4-2.8v-105.5l-2.4 2.9z"/><path fill="#00d6d6" d="M467.5 358.8l6.7 1.1l2.4-2.9l-6.6-1z"/><path fill="#adad00" d="M484.1 466.9l6.7 1v-116.2l-6.7-1.1z"/><path fill="#f5f500" d="M490.8 467.9l2.4-2.8v-116.3l-2.4 2.9z"/><path fill="#d6d600" d="M484.1 350.6l6.7 1.1l2.4-2.9l-6.6-1z"/><path fill="#ad00ad" d="M500.7 469.5l6.7 1.1v-127.5l-6.7-1z"/><path fill="#f500f5" d="M507.4 470.6l2.4-2.9v-127.4l-2.4 2.8z"/><path fill="#d600d6" d="M500.7 342.1l6.7 1l2.4-2.8l-6.6-1z"/><path fill="#000057" d="M517.3 472.1l6.7 1.1v-143.5l-6.7-1z"/><path fill="#00007b" d="M524 473.2l2.4-2.8v-143.5l-2.4 2.8z"/><path fill="#00006c" d="M517.3 328.7l6.7 1l2.4-2.8l-6.6-1.1z"/><path fill="#8b8bad" d="M533.9 474.8l6.7 1v-148.4l-6.7-1.1z"/><path fill="#c4c4f5" d="M540.6 475.8l2.4-2.8v-148.5l-2.4 2.9z"/><path fill="#ababd6" d="M533.9 326.3l6.7 1.1l2.4-2.9l-6.6-1z"/><path fill="#00458b" d="M550.5 477.4l6.6 1l0.1-158.6l-6.7-1z"/><path fill="#0062c4" d="M557.1 478.4l2.5-2.8v-158.6l-2.4 2.8z"/><path fill="#0056ab" d="M550.5 318.8l6.7 1l2.4-2.8l-6.6-1z"/><path fill="#ad5757" d="M567.1 480l6.6 1l0.1-155.2l-6.7-1.1z"/><path fill="#f57b7b" d="M573.7 481l2.5-2.8v-155.2l-2.4 2.8z"/><path fill="#d66c6c" d="M567.1 324.7l6.7 1.1l2.4-2.8l-6.6-1.1z"/><path fill="#450045" d="M583.7 482.6l6.6 1.1l0.1-161.6l-6.7-1z"/><path fill="#620062" d="M590.3 483.7l2.5-2.9v-161.5l-2.4 2.8z"/><path fill="#560056" d="M583.7 321.1l6.7 1l2.4-2.8l-6.6-1z"/><path fill="#8badad" d="M600.3 485.2l6.6 1.1l0.1-140.6l-6.7-1z"/><path fill="#c4f5f5" d="M606.9 486.3l2.5-2.8v-140.6l-2.4 2.8z"/><path fill="#abd6d6" d="M600.3 344.7l6.7 1l2.4-2.8l-6.6-1z"/><path fill="#adad8b" d="M616.9 487.9l6.6 1l0.1-128.4l-6.7-1.1z"/><path fill="#f5f5c4" d="M623.5 488.9l2.5-2.8v-128.5l-2.4 2.9z"/><path fill="#d6d6ab" d="M616.9 359.4l6.7 1.1l2.4-2.9l-6.6-1z"/><path fill="#682345" d="M633.5 490.5l6.6 1l0.1-116.9l-6.7-1z"/><path fill="#933162" d="M640.1 491.5l2.5-2.8v-116.9l-2.4 2.8z"/><path fill="#812b56" d="M633.5 373.6l6.7 1l2.4-2.8l-6.6-1z"/><path fill="#6868ad" d="M650.1 493.1l6.6 1.1l0.1-111.6l-6.7-1z"/><path fill="#9393f5" d="M656.7 494.2l2.5-2.9v-111.5l-2.4 2.8z"/><path fill="#8181d6" d="M650.1 381.6l6.7 1l2.4-2.8l-6.6-1.1z"/><path fill="#688bad" d="M312.1 447.7l6.6 1.1v-47.1l-6.6-1z"/><path fill="#93c4f5" d="M318.7 448.8l2.4-2.8v-47.1l-2.4 2.8z"/><path fill="#81abd6" d="M312.1 400.7l6.6 1l2.4-2.8l-6.6-1z"/><path fill="#adad68" d="M328.7 450.3l6.6 1.1v-50.1l-6.6-1z"/><path fill="#f5f593" d="M335.3 451.4l2.4-2.8v-50.1l-2.4 2.8z"/><path fill="#d6d681" d="M328.7 400.3l6.6 1l2.4-2.8l-6.6-1.1z"/><path fill="#8bad8b" d="M345.3 453l6.6 1v-53.8l-6.6-1z"/><path fill="#c4f5c4" d="M351.9 454l2.4-2.8v-53.8l-2.4 2.8z"/><path fill="#abd6ab" d="M345.3 399.2l6.6 1l2.4-2.8l-6.6-1z"/><path fill="#8badad" d="M361.9 455.6l6.6 1v-59.5l-6.6-1z"/><path fill="#c4f5f5" d="M368.5 456.6l2.4-2.8v-59.5l-2.4 2.8z"/><path fill="#abd6d6" d="M361.9 396.1l6.6 1l2.4-2.8l-6.6-1.1z"/><path fill="#008bad" d="M378.5 458.2l6.6 1.1v-64.3l-6.6-1z"/><path fill="#00c4f5" d="M385.1 459.3l2.4-2.9v-64.2l-2.4 2.8z"/><path fill="#00abd6" d="M378.5 394l6.6 1l2.4-2.8l-6.6-1.1z"/><path fill="#0000ad" d="M395.1 460.8l6.6 1.1v-74.4l-6.6-1z"/><path fill="#0000f5" d="M401.7 461.9l2.4-2.8v-74.4l-2.4 2.8z"/><path fill="#0000d6" d="M395.1 386.5l6.6 1l2.4-2.8l-6.6-1.1z"/><path fill="#005757" d="M411.7 463.5l6.6 1v-78.8l-6.6-1z"/><path fill="#007b7b" d="M418.3 464.5l2.4-2.8v-78.8l-2.4 2.8z"/><path fill="#006c6c" d="M411.7 384.7l6.6 1l2.4-2.8l-6.6-1z"/><path fill="#570000" d="M428.3 466.1l6.6 1v-86.5l-6.6-1z"/><path fill="#7b0000" d="M434.9 467.1l2.4-2.8v-86.5l-2.4 2.8z"/><path fill="#6c0000" d="M428.3 379.6l6.6 1l2.4-2.8l-6.6-1.1z"/><path fill="#570057" d="M444.9 468.7l6.6 1.1v-93.7l-6.6-1z"/><path fill="#7b007b" d="M451.5 469.8l2.4-2.9v-93.6l-2.4 2.8z"/><path fill="#6c006c" d="M444.9 375.1l6.6 1l2.4-2.8l-6.6-1.1z"/><path fill="#00adad" d="M461.5 471.3l6.6 1.1v-105.5l-6.6-1z"/><path fill="#00f5f5" d="M468.1 472.4l2.4-2.8v-105.5l-2.4 2.8z"/><path fill="#00d6d6" d="M461.5 365.9l6.6 1l2.4-2.8l-6.6-1z"/><path fill="#adad00" d="M478.1 474l6.6 1v-116.3l-6.6-1z"/><path fill="#f5f500" d="M484.7 475l2.4-2.8v-116.3l-2.4 2.8z"/><path fill="#d6d600" d="M478.1 357.7l6.6 1l2.4-2.8l-6.6-1z"/><path fill="#ad00ad" d="M494.7 476.6l6.6 1v-128.4l-6.6-1.1z"/><path fill="#f500f5" d="M501.3 477.6l2.4-2.8v-128.5l-2.4 2.9z"/><path fill="#d600d6" d="M494.7 348.1l6.6 1.1l2.4-2.9l-6.6-1z"/><path fill="#000057" d="M511.3 479.2l6.6 1.1v-148.5l-6.6-1z"/><path fill="#00007b" d="M517.9 480.3l2.4-2.9v-148.4l-2.4 2.8z"/><path fill="#00006c" d="M511.3 330.8l6.6 1l2.4-2.8l-6.6-1z"/><path fill="#8b8bad" d="M527.8 481.8l6.7 1.1v-156.2l-6.6-1z"/><path fill="#c4c4f5" d="M534.5 482.9l2.4-2.9v-156.1l-2.4 2.8z"/><path fill="#ababd6" d="M527.9 325.7l6.6 1l2.4-2.8l-6.6-1.1z"/><path fill="#00458b" d="M544.4 484.4l6.7 1.1v-171.4l-6.6-1z"/><path fill="#0062c4" d="M551.1 485.5l2.4-2.8v-171.4l-2.4 2.8z"/><path fill="#0056ab" d="M544.5 313.1l6.6 1l2.4-2.8l-6.6-1z"/><path fill="#ad5757" d="M561 487.1l6.7 1v-169.7l-6.6-1z"/><path fill="#f57b7b" d="M567.7 488.1l2.4-2.8v-169.7l-2.4 2.8z"/><path fill="#d66c6c" d="M561.1 317.4l6.6 1l2.4-2.8l-6.6-1.1z"/><path fill="#450045" d="M577.6 489.7l6.7 1v-185.7l-6.6-1z"/><path fill="#620062" d="M584.3 490.7l2.4-2.8v-185.7l-2.4 2.8z"/><path fill="#560056" d="M577.7 304l6.6 1l2.4-2.8l-6.6-1z"/><path fill="#8badad" d="M594.2 492.3l6.7 1.1v-168.9l-6.6-1.1z"/><path fill="#c4f5f5" d="M600.9 493.4l2.4-2.9v-168.9l-2.4 2.9z"/><path fill="#abd6d6" d="M594.3 323.4l6.6 1.1l2.4-2.9l-6.6-1z"/><path fill="#adad8b" d="M610.8 494.9l6.7 1.1v-155.4l-6.6-1.1z"/><path fill="#f5f5c4" d="M617.5 496l2.4-2.8v-155.5l-2.4 2.9z"/><path fill="#d6d6ab" d="M610.9 339.5l6.6 1.1l2.4-2.9l-6.6-1z"/><path fill="#682345" d="M627.4 497.6l6.7 1v-142l-6.6-1z"/><path fill="#933162" d="M634.1 498.6l2.4-2.8v-142l-2.4 2.8z"/><path fill="#812b56" d="M627.5 355.6l6.6 1l2.4-2.8l-6.6-1z"/><path fill="#6868ad" d="M644 500.2l6.7 1v-135.2l-6.6-1z"/><path fill="#9393f5" d="M650.7 501.2l2.4-2.8v-135.2l-2.4 2.8z"/><path fill="#8181d6" d="M644.1 365l6.6 1l2.4-2.8l-6.6-1.1z"/><path fill="#688bad" d="M306 454.8l6.7 1v-45.3l-6.7-1.1z"/><path fill="#93c4f5" d="M312.7 455.8l2.4-2.8v-45.4l-2.4 2.9z"/><path fill="#81abd6" d="M306 409.4l6.7 1.1l2.4-2.9l-6.6-1z"/><path fill="#adad68" d="M322.6 457.4l6.7 1.1v-48.2l-6.7-1.1z"/><path fill="#f5f593" d="M329.3 458.5l2.4-2.9v-48.2l-2.4 2.9z"/><path fill="#d6d681" d="M322.6 409.2l6.7 1.1l2.4-2.9l-6.7-1z"/><path fill="#8bad8b" d="M339.2 460l6.7 1.1v-51.7l-6.7-1.1z"/><path fill="#c4f5c4" d="M345.9 461.1l2.4-2.8v-51.8l-2.4 2.9z"/><path fill="#abd6ab" d="M339.2 408.3l6.7 1.1l2.4-2.9l-6.7-1z"/><path fill="#8badad" d="M355.8 462.7l6.7 1v-56.8l-6.7-1.1z"/><path fill="#c4f5f5" d="M362.5 463.7l2.4-2.8v-56.8l-2.4 2.8z"/><path fill="#abd6d6" d="M355.8 405.8l6.7 1.1l2.4-2.8l-6.7-1.1z"/><path fill="#008bad" d="M372.4 465.3l6.7 1v-61.4l-6.7-1z"/><path fill="#00c4f5" d="M379.1 466.3l2.4-2.8v-61.4l-2.4 2.8z"/><path fill="#00abd6" d="M372.4 403.9l6.7 1l2.4-2.8l-6.7-1z"/><path fill="#0000ad" d="M389 467.9l6.7 1.1v-70.9l-6.7-1.1z"/><path fill="#0000f5" d="M395.7 469l2.4-2.9v-70.8l-2.4 2.8z"/><path fill="#0000d6" d="M389 397l6.7 1.1l2.4-2.8l-6.7-1.1z"/><path fill="#005757" d="M405.6 470.5l6.6 1.1l0.1-75.7l-6.7-1z"/><path fill="#007b7b" d="M412.2 471.6l2.5-2.8v-75.7l-2.4 2.8z"/><path fill="#006c6c" d="M405.6 394.9l6.7 1l2.4-2.8l-6.7-1.1z"/><path fill="#570000" d="M422.2 473.2l6.6 1l0.1-83.2l-6.7-1z"/><path fill="#7b0000" d="M428.8 474.2l2.5-2.8v-83.2l-2.4 2.8z"/><path fill="#6c0000" d="M422.2 390l6.7 1l2.4-2.8l-6.7-1z"/><path fill="#570057" d="M438.8 475.8l6.6 1l0.1-91.6l-6.7-1z"/><path fill="#7b007b" d="M445.4 476.8l2.5-2.8v-91.6l-2.4 2.8z"/><path fill="#6c006c" d="M438.8 384.2l6.7 1l2.4-2.8l-6.7-1.1z"/><path fill="#00adad" d="M455.4 478.4l6.6 1v-102.5l-6.6-1z"/><path fill="#00f5f5" d="M462 479.4l2.5-2.8v-102.5l-2.5 2.8z"/><path fill="#00d6d6" d="M455.4 375.9l6.6 1l2.5-2.8l-6.7-1z"/><path fill="#adad00" d="M472 481l6.6 1.1v-114l-6.6-1z"/><path fill="#f5f500" d="M478.6 482.1l2.5-2.9v-113.9l-2.5 2.8z"/><path fill="#d6d600" d="M472 367.1l6.6 1l2.5-2.8l-6.7-1z"/><path fill="#ad00ad" d="M488.6 483.6l6.6 1.1v-126.5l-6.6-1z"/><path fill="#f500f5" d="M495.2 484.7l2.5-2.8v-126.5l-2.5 2.8z"/><path fill="#d600d6" d="M488.6 357.2l6.6 1l2.5-2.8l-6.7-1z"/><path fill="#000057" d="M505.2 486.3l6.6 1v-147.4l-6.6-1z"/><path fill="#00007b" d="M511.8 487.3l2.5-2.8v-147.4l-2.5 2.8z"/><path fill="#00006c" d="M505.2 338.9l6.6 1l2.5-2.8l-6.7-1z"/><path fill="#8b8bad" d="M521.8 488.9l6.6 1v-161.2l-6.6-1.1z"/><path fill="#c4c4f5" d="M528.4 489.9l2.4-2.8l0.1-161.3l-2.5 2.9z"/><path fill="#ababd6" d="M521.8 327.6l6.6 1.1l2.5-2.9l-6.7-1z"/><path fill="#00458b" d="M538.4 491.5l6.6 1.1v-182.3l-6.6-1z"/><path fill="#0062c4" d="M545 492.6l2.4-2.9l0.1-182.2l-2.5 2.8z"/><path fill="#0056ab" d="M538.4 309.3l6.6 1l2.5-2.8l-6.7-1z"/><path fill="#ad5757" d="M555 494.1l6.6 1.1v-185.7l-6.6-1z"/><path fill="#f57b7b" d="M561.6 495.2l2.4-2.8l0.1-185.7l-2.5 2.8z"/><path fill="#d66c6c" d="M555 308.5l6.6 1l2.5-2.8l-6.7-1.1z"/><path fill="#450045" d="M571.6 496.8l6.6 1l0.1-213.4l-6.7-1.1z"/><path fill="#620062" d="M578.2 497.8l2.4-2.8l0.1-213.5l-2.4 2.9z"/><path fill="#560056" d="M571.6 283.3l6.7 1.1l2.4-2.9l-6.7-1z"/><path fill="#8badad" d="M588.2 499.4l6.6 1l0.1-219.6l-6.7-1z"/><path fill="#c4f5f5" d="M594.8 500.4l2.4-2.8l0.1-219.6l-2.4 2.8z"/><path fill="#abd6d6" d="M588.2 279.8l6.7 1l2.4-2.8l-6.7-1z"/><path fill="#adad8b" d="M604.8 502l6.6 1.1v-216.3l-6.6-1z"/><path fill="#f5f5c4" d="M611.4 503.1l2.4-2.9l0.1-216.2l-2.5 2.8z"/><path fill="#d6d6ab" d="M604.8 285.8l6.6 1l2.5-2.8l-6.7-1.1z"/><path fill="#682345" d="M621.4 504.6l6.6 1.1v-201.2l-6.6-1z"/><path fill="#933162" d="M628 505.7l2.4-2.8l0.1-201.2l-2.5 2.8z"/><path fill="#812b56" d="M621.4 303.5l6.6 1l2.5-2.8l-6.7-1z"/><path fill="#6868ad" d="M638 507.3l6.6 1v-226.6l-6.6-1z"/><path fill="#9393f5" d="M644.6 508.3l2.4-2.8l0.1-226.6l-2.5 2.8z"/><path fill="#8181d6" d="M638 280.7l6.6 1l2.5-2.8l-6.7-1z"/><path fill="#688bad" d="M300 461.8l6.6 1.1v-43.4l-6.6-1z"/><path fill="#93c4f5" d="M306.6 462.9l2.4-2.8v-43.4l-2.4 2.8z"/><path fill="#81abd6" d="M300 418.5l6.6 1l2.4-2.8l-6.6-1z"/><path fill="#adad68" d="M316.6 464.5l6.6 1v-46l-6.6-1.1z"/><path fill="#f5f593" d="M323.2 465.5l2.4-2.8v-46.1l-2.4 2.9z"/><path fill="#d6d681" d="M316.6 418.4l6.6 1.1l2.4-2.9l-6.6-1z"/><path fill="#8bad8b" d="M333.2 467.1l6.6 1v-49.4l-6.6-1z"/><path fill="#c4f5c4" d="M339.8 468.1l2.4-2.8v-49.4l-2.4 2.8z"/><path fill="#abd6ab" d="M333.2 417.7l6.6 1l2.4-2.8l-6.6-1.1z"/><path fill="#8badad" d="M349.8 469.7l6.6 1.1v-53.9l-6.6-1z"/><path fill="#c4f5f5" d="M356.4 470.8l2.4-2.9v-53.8l-2.4 2.8z"/><path fill="#abd6d6" d="M349.8 415.9l6.6 1l2.4-2.8l-6.6-1z"/><path fill="#008bad" d="M366.4 472.3l6.6 1.1v-58.2l-6.6-1.1z"/><path fill="#00c4f5" d="M373 473.4l2.4-2.8v-58.2l-2.4 2.8z"/><path fill="#00abd6" d="M366.4 414.1l6.6 1.1l2.4-2.8l-6.6-1.1z"/><path fill="#0000ad" d="M383 475l6.6 1v-65.6l-6.6-1.1z"/><path fill="#0000f5" d="M389.6 476l2.4-2.8v-65.6l-2.4 2.8z"/><path fill="#0000d6" d="M383 409.3l6.6 1.1l2.4-2.8l-6.6-1.1z"/><path fill="#005757" d="M399.6 477.6l6.6 1v-71.7l-6.6-1z"/><path fill="#007b7b" d="M406.2 478.6l2.4-2.8v-71.7l-2.4 2.8z"/><path fill="#006c6c" d="M399.6 405.9l6.6 1l2.4-2.8l-6.6-1z"/><path fill="#570000" d="M416.2 480.2l6.6 1.1v-79.2l-6.6-1z"/><path fill="#7b0000" d="M422.8 481.3l2.4-2.9v-79.1l-2.4 2.8z"/><path fill="#6c0000" d="M416.2 401.1l6.6 1l2.4-2.8l-6.6-1z"/><path fill="#570057" d="M432.7 482.8l6.7 1.1v-87.6l-6.6-1z"/><path fill="#7b007b" d="M439.4 483.9l2.4-2.8v-87.6l-2.4 2.8z"/><path fill="#6c006c" d="M432.8 395.3l6.6 1l2.4-2.8l-6.6-1.1z"/><path fill="#00adad" d="M449.3 485.5l6.7 1v-96.7l-6.7-1z"/><path fill="#00f5f5" d="M456 486.5l2.4-2.8v-96.7l-2.4 2.8z"/><path fill="#00d6d6" d="M449.3 388.8l6.7 1l2.4-2.8l-6.6-1.1z"/><path fill="#adad00" d="M465.9 488.1l6.7 1v-107.8l-6.7-1.1z"/><path fill="#f5f500" d="M472.6 489.1l2.4-2.8v-107.9l-2.4 2.9z"/><path fill="#d6d600" d="M465.9 380.2l6.7 1.1l2.4-2.9l-6.6-1z"/><path fill="#ad00ad" d="M482.5 490.7l6.7 1.1v-123.1l-6.7-1.1z"/><path fill="#f500f5" d="M489.2 491.8l2.4-2.9v-123l-2.4 2.8z"/><path fill="#d600d6" d="M482.5 367.6l6.7 1.1l2.4-2.8l-6.6-1.1z"/><path fill="#000057" d="M499.1 493.3l6.7 1.1v-141.4l-6.7-1z"/><path fill="#00007b" d="M505.8 494.4l2.4-2.8v-141.4l-2.4 2.8z"/><path fill="#00006c" d="M499.1 352l6.7 1l2.4-2.8l-6.6-1z"/><path fill="#8b8bad" d="M515.7 496l6.7 1v-162.6l-6.7-1.1z"/><path fill="#c4c4f5" d="M522.4 497l2.4-2.8v-162.7l-2.4 2.9z"/><path fill="#ababd6" d="M515.7 333.3l6.7 1.1l2.4-2.9l-6.6-1z"/><path fill="#00458b" d="M532.3 498.6l6.7 1v-188.3l-6.7-1z"/><path fill="#0062c4" d="M539 499.6l2.4-2.8v-188.3l-2.4 2.8z"/><path fill="#0056ab" d="M532.3 310.3l6.7 1l2.4-2.8l-6.6-1.1z"/><path fill="#ad5757" d="M548.9 501.2l6.7 1.1v-202.6l-6.7-1.1z"/><path fill="#f57b7b" d="M555.6 502.3l2.4-2.9v-202.6l-2.4 2.9z"/><path fill="#d66c6c" d="M548.9 298.6l6.7 1.1l2.4-2.9l-6.6-1z"/><path fill="#450045" d="M565.5 503.8l6.6 1.1l0.1-236.1l-6.7-1z"/><path fill="#620062" d="M572.1 504.9l2.5-2.8v-236.1l-2.4 2.8z"/><path fill="#560056" d="M565.5 267.8l6.7 1l2.4-2.8l-6.6-1.1z"/><path fill="#8badad" d="M582.1 506.5l6.6 1l0.1-249l-6.7-1z"/><path fill="#c4f5f5" d="M588.7 507.5l2.5-2.8v-249l-2.4 2.8z"/><path fill="#abd6d6" d="M582.1 257.5l6.7 1l2.4-2.8l-6.6-1z"/><path fill="#adad8b" d="M598.7 509.1l6.6 1l0.1-254.5l-6.7-1z"/><path fill="#f5f5c4" d="M605.3 510.1l2.5-2.8v-254.5l-2.4 2.8z"/><path fill="#d6d6ab" d="M598.7 254.6l6.7 1l2.4-2.8l-6.6-1z"/><path fill="#682345" d="M615.3 511.7l6.6 1.1l0.1-338.2l-6.6-1z"/><path fill="#933162" d="M621.9 512.8l2.5-2.9v-338.1l-2.4 2.8z"/><path fill="#812b56" d="M615.4 173.6l6.6 1l2.4-2.8l-6.6-1z"/><path fill="#6868ad" d="M631.9 514.3l6.6 1.1l0.1-338.2l-6.7-1z"/><path fill="#9393f5" d="M638.5 515.4l2.5-2.8v-338.2l-2.4 2.8z"/><path fill="#8181d6" d="M631.9 176.2l6.7 1l2.4-2.8l-6.6-1.1z"/><path fill="#688bad" d="M293.9 468.9l6.7 1v-41.3l-6.7-1z"/><path fill="#93c4f5" d="M300.6 469.9l2.4-2.8v-41.3l-2.4 2.8z"/><path fill="#81abd6" d="M293.9 427.6l6.7 1l2.4-2.8l-6.6-1z"/><path fill="#adad68" d="M310.5 471.5l6.7 1.1v-43.6l-6.7-1.1z"/><path fill="#f5f593" d="M317.2 472.6l2.4-2.8v-43.7l-2.4 2.9z"/><path fill="#d6d681" d="M310.5 427.9l6.7 1.1l2.4-2.9l-6.7-1z"/><path fill="#8bad8b" d="M327.1 474.2l6.7 1v-46.7l-6.7-1z"/><path fill="#c4f5c4" d="M333.8 475.2l2.4-2.8v-46.7l-2.4 2.8z"/><path fill="#abd6ab" d="M327.1 427.5l6.7 1l2.4-2.8l-6.7-1.1z"/><path fill="#8badad" d="M343.7 476.8l6.7 1v-50.5l-6.7-1z"/><path fill="#c4f5f5" d="M350.4 477.8l2.4-2.8v-50.5l-2.4 2.8z"/><path fill="#abd6d6" d="M343.7 426.3l6.7 1l2.4-2.8l-6.7-1.1z"/><path fill="#008bad" d="M360.3 479.4l6.6 1.1l0.1-54.7l-6.7-1.1z"/><path fill="#00c4f5" d="M366.9 480.5l2.5-2.9v-54.7l-2.4 2.9z"/><path fill="#00abd6" d="M360.3 424.7l6.7 1.1l2.4-2.9l-6.7-1z"/><path fill="#0000ad" d="M376.9 482l6.6 1.1v-60.5l-6.6-1z"/><path fill="#0000f5" d="M383.5 483.1l2.5-2.8v-60.5l-2.5 2.8z"/><path fill="#0000d6" d="M376.9 421.6l6.6 1l2.5-2.8l-6.7-1z"/><path fill="#005757" d="M393.5 484.7l6.6 1v-66.2l-6.6-1.1z"/><path fill="#007b7b" d="M400.1 485.7l2.5-2.8v-66.2l-2.5 2.8z"/><path fill="#006c6c" d="M393.5 418.4l6.6 1.1l2.5-2.8l-6.7-1.1z"/><path fill="#570000" d="M410.1 487.3l6.6 1v-73.3l-6.6-1.1z"/><path fill="#7b0000" d="M416.7 488.3l2.5-2.8v-73.4l-2.5 2.9z"/><path fill="#6c0000" d="M410.1 413.9l6.6 1.1l2.5-2.9l-6.7-1z"/><path fill="#570057" d="M426.7 489.9l6.6 1.1v-81.1l-6.6-1.1z"/><path fill="#7b007b" d="M433.3 491l2.4-2.9l0.1-81l-2.5 2.8z"/><path fill="#6c006c" d="M426.7 408.8l6.6 1.1l2.5-2.8l-6.7-1.1z"/><path fill="#00adad" d="M443.3 492.5l6.6 1.1v-89.3l-6.6-1.1z"/><path fill="#00f5f5" d="M449.9 493.6l2.4-2.8l0.1-89.4l-2.5 2.9z"/><path fill="#00d6d6" d="M443.3 403.2l6.6 1.1l2.5-2.9l-6.7-1z"/><path fill="#adad00" d="M459.9 495.2l6.6 1v-100.5l-6.6-1z"/><path fill="#f5f500" d="M466.5 496.2l2.4-2.8v-100.5l-2.4 2.8z"/><path fill="#d6d600" d="M459.9 394.7l6.6 1l2.4-2.8l-6.6-1z"/><path fill="#ad00ad" d="M476.5 497.8l6.6 1v-114.3l-6.6-1z"/><path fill="#f500f5" d="M483.1 498.8l2.4-2.8v-114.3l-2.4 2.8z"/><path fill="#d600d6" d="M476.5 383.5l6.6 1l2.4-2.8l-6.6-1.1z"/><path fill="#000057" d="M493.1 500.4l6.6 1.1v-130.4l-6.6-1z"/><path fill="#00007b" d="M499.7 501.5l2.4-2.9v-130.3l-2.4 2.8z"/><path fill="#00006c" d="M493.1 370.1l6.6 1l2.4-2.8l-6.6-1.1z"/><path fill="#8b8bad" d="M509.7 503l6.6 1.1v-154.9l-6.6-1.1z"/><path fill="#c4c4f5" d="M516.3 504.1l2.4-2.8v-154.9l-2.4 2.8z"/><path fill="#ababd6" d="M509.7 348.1l6.6 1.1l2.4-2.8l-6.6-1.1z"/><path fill="#00458b" d="M526.3 505.7l6.6 1v-182.3l-6.6-1z"/><path fill="#0062c4" d="M532.9 506.7l2.4-2.8v-182.3l-2.4 2.8z"/><path fill="#0056ab" d="M526.3 323.4l6.6 1l2.4-2.8l-6.6-1z"/><path fill="#ad5757" d="M542.8 508.3l6.7 1v-212.7l-6.6-1z"/><path fill="#f57b7b" d="M549.5 509.3l2.4-2.8v-212.7l-2.4 2.8z"/><path fill="#d66c6c" d="M542.9 295.6l6.6 1l2.4-2.8l-6.6-1.1z"/><path fill="#450045" d="M559.4 510.9l6.7 1.1v-249.7l-6.6-1z"/><path fill="#620062" d="M566.1 512l2.4-2.9v-249.6l-2.4 2.8z"/><path fill="#560056" d="M559.5 261.3l6.6 1l2.4-2.8l-6.6-1z"/><path class="z" fill="#abd6d6" d="M576 513.5l6.7 1.1l2.4-2.8l-6.6-1.1z"/><path class="z" fill="#d6d6ab" d="M592.6 516.2l6.7 1l2.4-2.8l-6.6-1.1z"/><path class="z" fill="#812b56" d="M609.2 518.8l6.7 1l2.4-2.8l-6.6-1z"/><path class="z" fill="#8181d6" d="M625.8 521.4l6.7 1.1l2.4-2.9l-6.7-1z"/><path fill="#688bad" d="M287.9 476l6.6 1v-39.3l-6.6-1.1z"/><path fill="#93c4f5" d="M294.5 477l2.4-2.8v-39.3l-2.4 2.8z"/><path fill="#81abd6" d="M287.9 436.6l6.6 1.1l2.4-2.8l-6.6-1.1z"/><path fill="#adad68" d="M304.5 478.6l6.6 1v-41l-6.6-1z"/><path fill="#f5f593" d="M311.1 479.6l2.4-2.8v-41l-2.4 2.8z"/><path fill="#d6d681" d="M304.5 437.6l6.6 1l2.4-2.8l-6.6-1z"/><path fill="#8bad8b" d="M321.1 481.2l6.6 1.1v-43.8l-6.6-1z"/><path fill="#c4f5c4" d="M327.7 482.3l2.4-2.9v-43.7l-2.4 2.8z"/><path fill="#abd6ab" d="M321.1 437.5l6.6 1l2.4-2.8l-6.6-1z"/><path fill="#8badad" d="M337.7 483.8l6.6 1.1v-47.1l-6.6-1z"/><path fill="#c4f5f5" d="M344.3 484.9l2.4-2.8v-47.1l-2.4 2.8z"/><path fill="#abd6d6" d="M337.7 436.8l6.6 1l2.4-2.8l-6.6-1.1z"/><path fill="#008bad" d="M354.3 486.5l6.6 1v-51.1l-6.6-1.1z"/><path fill="#00c4f5" d="M360.9 487.5l2.4-2.8v-51.2l-2.4 2.9z"/><path fill="#00abd6" d="M354.3 435.3l6.6 1.1l2.4-2.9l-6.6-1z"/><path fill="#0000ad" d="M370.9 489.1l6.6 1v-55.5l-6.6-1z"/><path fill="#0000f5" d="M377.5 490.1l2.4-2.8v-55.5l-2.4 2.8z"/><path fill="#0000d6" d="M370.9 433.6l6.6 1l2.4-2.8l-6.6-1.1z"/><path fill="#005757" d="M387.4 491.7l6.7 1.1v-60.6l-6.7-1.1z"/><path fill="#007b7b" d="M394.1 492.8l2.4-2.9v-60.6l-2.4 2.9z"/><path fill="#006c6c" d="M387.4 431.1l6.7 1.1l2.4-2.9l-6.6-1z"/><path fill="#570000" d="M404 494.3l6.7 1.1v-67.4l-6.7-1z"/><path fill="#7b0000" d="M410.7 495.4l2.4-2.8v-67.4l-2.4 2.8z"/><path fill="#6c0000" d="M404 427l6.7 1l2.4-2.8l-6.6-1z"/><path fill="#570057" d="M420.6 497l6.7 1v-74.1l-6.7-1z"/><path fill="#7b007b" d="M427.3 498l2.4-2.8v-74.1l-2.4 2.8z"/><path fill="#6c006c" d="M420.6 422.9l6.7 1l2.4-2.8l-6.6-1.1z"/><path fill="#00adad" d="M437.2 499.6l6.7 1v-82.5l-6.7-1.1z"/><path fill="#00f5f5" d="M443.9 500.6l2.4-2.8v-82.6l-2.4 2.9z"/><path fill="#00d6d6" d="M437.2 417l6.7 1.1l2.4-2.9l-6.6-1z"/><path fill="#adad00" d="M453.8 502.2l6.7 1.1v-89.4l-6.7-1z"/><path fill="#f5f500" d="M460.5 503.3l2.4-2.9v-89.3l-2.4 2.8z"/><path fill="#d6d600" d="M453.8 412.9l6.7 1l2.4-2.8l-6.7-1z"/><path fill="#ad00ad" d="M470.4 504.8l6.6 1.1l0.1-100.8l-6.7-1.1z"/><path fill="#f500f5" d="M477 505.9l2.5-2.8v-100.9l-2.4 2.9z"/><path fill="#d600d6" d="M470.4 404l6.7 1.1l2.4-2.9l-6.7-1z"/><path fill="#000057" d="M487 507.5l6.6 1v-116.7l-6.6-1.1z"/><path fill="#00007b" d="M493.6 508.5l2.5-2.8v-116.7l-2.5 2.8z"/><path fill="#00006c" d="M487 390.7l6.6 1.1l2.5-2.8l-6.7-1.1z"/><path fill="#8b8bad" d="M503.6 510.1l6.6 1.1v-138.4l-6.6-1.1z"/><path fill="#c4c4f5" d="M510.2 511.2l2.5-2.9v-138.4l-2.5 2.9z"/><path fill="#ababd6" d="M503.6 371.7l6.6 1.1l2.5-2.9l-6.7-1z"/><path fill="#00458b" d="M520.2 512.7l6.6 1.1v-171.2l-6.6-1z"/><path fill="#0062c4" d="M526.8 513.8l2.5-2.9v-171.1l-2.5 2.8z"/><path fill="#0056ab" d="M520.2 341.6l6.6 1l2.5-2.8l-6.7-1.1z"/><path fill="#ad5757" d="M536.8 515.4l6.6 1v-216.5l-6.6-1z"/><path fill="#f57b7b" d="M543.4 516.4l2.4-2.8l0.1-216.5l-2.5 2.8z"/><path fill="#d66c6c" d="M536.8 298.9l6.6 1l2.5-2.8l-6.7-1z"/><path fill="#450045" d="M553.4 518l6.6 1v-256.1l-6.6-1z"/><path fill="#620062" d="M560 519l2.4-2.8l0.1-256.1l-2.5 2.8z"/><path fill="#560056" d="M553.4 261.9l6.6 1l2.5-2.8l-6.7-1z"/><path class="z" fill="#abd6d6" d="M570 520.6l6.6 1.1l2.4-2.9l-6.6-1z"/><path class="z" fill="#d6d6ab" d="M586.6 523.2l6.6 1.1l2.4-2.8l-6.6-1.1z"/><path class="z" fill="#812b56" d="M603.2 525.9l6.6 1l2.4-2.8l-6.6-1.1z"/><path class="z" fill="#8181d6" d="M619.7 528.5l6.7 1l2.4-2.8l-6.6-1z"/><path fill="#688bad" d="M281.8 483l6.7 1.1v-37l-6.7-1z"/><path fill="#93c4f5" d="M288.5 484.1l2.4-2.9v-36.9l-2.4 2.8z"/><path fill="#81abd6" d="M281.8 446.1l6.7 1l2.4-2.8l-6.6-1.1z"/><path fill="#adad68" d="M298.4 485.6l6.7 1.1v-38.4l-6.7-1z"/><path fill="#f5f593" d="M305.1 486.7l2.4-2.8v-38.4l-2.4 2.8z"/><path fill="#d6d681" d="M298.4 447.3l6.7 1l2.4-2.8l-6.6-1z"/><path fill="#8bad8b" d="M315 488.3l6.7 1v-40.7l-6.7-1.1z"/><path fill="#c4f5c4" d="M321.7 489.3l2.4-2.8v-40.7l-2.4 2.8z"/><path fill="#abd6ab" d="M315 447.5l6.7 1.1l2.4-2.8l-6.7-1.1z"/><path fill="#8badad" d="M331.6 490.9l6.7 1v-43.7l-6.7-1z"/><path fill="#c4f5f5" d="M338.3 491.9l2.4-2.8v-43.7l-2.4 2.8z"/><path fill="#abd6d6" d="M331.6 447.2l6.7 1l2.4-2.8l-6.7-1z"/><path fill="#008bad" d="M348.2 493.5l6.6 1.1v-47.9l-6.6-1z"/><path fill="#00c4f5" d="M354.8 494.6l2.5-2.9v-47.8l-2.5 2.8z"/><path fill="#00abd6" d="M348.2 445.7l6.6 1l2.5-2.8l-6.7-1.1z"/><path fill="#0000ad" d="M364.8 496.2l6.6 1v-51.7l-6.6-1z"/><path fill="#0000f5" d="M371.4 497.2l2.5-2.8v-51.7l-2.5 2.8z"/><path fill="#0000d6" d="M364.8 444.5l6.6 1l2.5-2.8l-6.7-1z"/><path fill="#005757" d="M381.4 498.8l6.6 1v-56.3l-6.6-1.1z"/><path fill="#007b7b" d="M388 499.8l2.5-2.8v-56.3l-2.5 2.8z"/><path fill="#006c6c" d="M381.4 442.4l6.6 1.1l2.5-2.8l-6.7-1.1z"/><path fill="#570000" d="M398 501.4l6.6 1.1v-62.5l-6.6-1.1z"/><path fill="#7b0000" d="M404.6 502.5l2.4-2.9v-62.5l-2.4 2.9z"/><path fill="#6c0000" d="M398 438.9l6.6 1.1l2.4-2.9l-6.6-1z"/><path fill="#570057" d="M414.6 504l6.6 1.1v-68.7l-6.6-1z"/><path fill="#7b007b" d="M421.2 505.1l2.4-2.8v-68.7l-2.4 2.8z"/><path fill="#6c006c" d="M414.6 435.4l6.6 1l2.4-2.8l-6.6-1.1z"/><path fill="#00adad" d="M431.2 506.7l6.6 1v-76.4l-6.6-1.1z"/><path fill="#00f5f5" d="M437.8 507.7l2.4-2.8v-76.4l-2.4 2.8z"/><path fill="#00d6d6" d="M431.2 430.2l6.6 1.1l2.4-2.8l-6.6-1.1z"/><path fill="#adad00" d="M447.8 509.3l6.6 1v-82.3l-6.6-1z"/><path fill="#f5f500" d="M454.4 510.3l2.4-2.8v-82.3l-2.4 2.8z"/><path fill="#d6d600" d="M447.8 427l6.6 1l2.4-2.8l-6.6-1.1z"/><path fill="#ad00ad" d="M464.4 511.9l6.6 1.1v-92.8l-6.6-1z"/><path fill="#f500f5" d="M471 513l2.4-2.9v-92.7l-2.4 2.8z"/><path fill="#d600d6" d="M464.4 419.2l6.6 1l2.4-2.8l-6.6-1z"/><path fill="#000057" d="M480.9 514.5l6.7 1.1v-102.9l-6.7-1.1z"/><path fill="#00007b" d="M487.6 515.6l2.4-2.8v-102.9l-2.4 2.8z"/><path fill="#00006c" d="M480.9 411.6l6.7 1.1l2.4-2.8l-6.6-1.1z"/><path fill="#8b8bad" d="M497.5 517.2l6.7 1v-121.5l-6.7-1z"/><path fill="#c4c4f5" d="M504.2 518.2l2.4-2.8v-121.5l-2.4 2.8z"/><path fill="#ababd6" d="M497.5 395.7l6.7 1l2.4-2.8l-6.6-1.1z"/><path fill="#00458b" d="M514.1 519.8l6.7 1v-152.6l-6.7-1z"/><path fill="#0062c4" d="M520.8 520.8l2.4-2.8v-152.6l-2.4 2.8z"/><path fill="#0056ab" d="M514.1 367.2l6.7 1l2.4-2.8l-6.6-1z"/><path fill="#ad5757" d="M530.7 522.4l6.7 1.1v-199.7l-6.7-1z"/><path fill="#f57b7b" d="M537.4 523.5l2.4-2.9v-199.6l-2.4 2.8z"/><path fill="#d66c6c" d="M530.7 322.8l6.7 1l2.4-2.8l-6.6-1z"/><path fill="#450045" d="M547.3 525.1l6.6 1l0.1-337.9l-6.7-1z"/><path fill="#620062" d="M553.9 526.1l2.5-2.8v-337.9l-2.4 2.8z"/><path fill="#560056" d="M547.3 187.2l6.7 1l2.4-2.8l-6.6-1z"/><path class="z" fill="#abd6d6" d="M563.9 527.7l6.6 1l2.5-2.8l-6.7-1z"/><path class="z" fill="#d6d6ab" d="M580.5 530.3l6.6 1.1l2.5-2.9l-6.7-1z"/><path class="z" fill="#812b56" d="M597.1 532.9l6.6 1.1l2.5-2.8l-6.7-1.1z"/><path class="z" fill="#8181d6" d="M613.7 535.6l6.6 1l2.4-2.8l-6.6-1.1z"/><path fill="#688bad" d="M275.8 490.1l6.6 1v-34.6l-6.6-1z"/><path fill="#93c4f5" d="M282.4 491.1l2.4-2.8v-34.6l-2.4 2.8z"/><path fill="#81abd6" d="M275.8 455.5l6.6 1l2.4-2.8l-6.6-1.1z"/><path fill="#adad68" d="M292.4 492.7l6.6 1.1v-35.7l-6.6-1z"/><path fill="#f5f593" d="M299 493.8l2.4-2.9v-35.6l-2.4 2.8z"/><path fill="#d6d681" d="M292.4 457.1l6.6 1l2.4-2.8l-6.6-1z"/><path fill="#8bad8b" d="M309 495.3l6.6 1.1v-37.7l-6.6-1z"/><path fill="#c4f5c4" d="M315.6 496.4l2.4-2.8v-37.7l-2.4 2.8z"/><path fill="#abd6ab" d="M309 457.7l6.6 1l2.4-2.8l-6.6-1z"/><path fill="#8badad" d="M325.6 498l6.6 1v-40.4l-6.6-1z"/><path fill="#c4f5f5" d="M332.2 499l2.4-2.8v-40.4l-2.4 2.8z"/><path fill="#abd6d6" d="M325.6 457.6l6.6 1l2.4-2.8l-6.6-1z"/><path fill="#008bad" d="M342.2 500.6l6.6 1v-44.7l-6.6-1.1z"/><path fill="#00c4f5" d="M348.8 501.6l2.4-2.8v-44.7l-2.4 2.8z"/><path fill="#00abd6" d="M342.2 455.8l6.6 1.1l2.4-2.8l-6.6-1.1z"/><path fill="#0000ad" d="M358.7 503.2l6.7 1.1v-48.5l-6.7-1.1z"/><path fill="#0000f5" d="M365.4 504.3l2.4-2.9v-48.4l-2.4 2.8z"/><path fill="#0000d6" d="M358.7 454.7l6.7 1.1l2.4-2.8l-6.6-1.1z"/><path fill="#005757" d="M375.3 505.8l6.7 1.1v-52.9l-6.7-1z"/><path fill="#007b7b" d="M382 506.9l2.4-2.8v-52.9l-2.4 2.8z"/><path fill="#006c6c" d="M375.3 453l6.7 1l2.4-2.8l-6.6-1z"/><path fill="#570000" d="M391.9 508.5l6.7 1v-58.3l-6.7-1z"/><path fill="#7b0000" d="M398.6 509.5l2.4-2.8v-58.3l-2.4 2.8z"/><path fill="#6c0000" d="M391.9 450.2l6.7 1l2.4-2.8l-6.6-1z"/><path fill="#570057" d="M408.5 511.1l6.7 1v-64l-6.7-1z"/><path fill="#7b007b" d="M415.2 512.1l2.4-2.8v-64l-2.4 2.8z"/><path fill="#6c006c" d="M408.5 447.1l6.7 1l2.4-2.8l-6.7-1z"/><path fill="#00adad" d="M425.1 513.7l6.6 1.1v-70.8l-6.6-1.1z"/><path fill="#00f5f5" d="M431.7 514.8l2.5-2.8v-70.8l-2.5 2.8z"/><path fill="#00d6d6" d="M425.1 442.9l6.6 1.1l2.5-2.8l-6.7-1.1z"/><path fill="#adad00" d="M441.7 516.4l6.6 1v-78.2l-6.6-1.1z"/><path fill="#f5f500" d="M448.3 517.4l2.5-2.8v-78.3l-2.5 2.9z"/><path fill="#d6d600" d="M441.7 438.1l6.6 1.1l2.5-2.9l-6.7-1z"/><path fill="#ad00ad" d="M458.3 519l6.6 1v-88.3l-6.6-1.1z"/><path fill="#f500f5" d="M464.9 520l2.5-2.8v-88.4l-2.5 2.9z"/><path fill="#d600d6" d="M458.3 430.6l6.6 1.1l2.5-2.9l-6.7-1z"/><path fill="#000057" d="M474.9 521.6l6.6 1.1v-99.9l-6.6-1.1z"/><path fill="#00007b" d="M481.5 522.7l2.4-2.9v-99.9l-2.4 2.9z"/><path fill="#00006c" d="M474.9 421.7l6.6 1.1l2.4-2.9l-6.6-1z"/><path fill="#8b8bad" d="M491.5 524.2l6.6 1.1v-116.5l-6.6-1z"/><path fill="#c4c4f5" d="M498.1 525.3l2.4-2.8v-116.5l-2.4 2.8z"/><path fill="#ababd6" d="M491.5 407.8l6.6 1l2.4-2.8l-6.6-1z"/><path fill="#00458b" d="M508.1 526.9l6.6 1v-133.4l-6.6-1z"/><path fill="#0062c4" d="M514.7 527.9l2.4-2.8v-133.4l-2.4 2.8z"/><path fill="#0056ab" d="M508.1 393.5l6.6 1l2.4-2.8l-6.6-1z"/><path fill="#ad5757" d="M524.7 529.5l6.6 1v-226.3l-6.6-1z"/><path fill="#f57b7b" d="M531.3 530.5l2.4-2.8v-226.3l-2.4 2.8z"/><path fill="#d66c6c" d="M524.7 303.2l6.6 1l2.4-2.8l-6.6-1z"/><path fill="#450045" d="M541.2 532.1l6.7 1.1v-338l-6.7-1z"/><path fill="#620062" d="M547.9 533.2l2.4-2.9v-337.9l-2.4 2.8z"/><path fill="#560056" d="M541.2 194.2l6.7 1l2.4-2.8l-6.6-1z"/><path class="z" fill="#abd6d6" d="M557.8 534.8l6.7 1l2.4-2.8l-6.6-1.1z"/><path class="z" fill="#d6d6ab" d="M574.4 537.4l6.7 1l2.4-2.8l-6.6-1z"/><path class="z" fill="#812b56" d="M591 540l6.7 1.1l2.4-2.9l-6.7-1z"/><path class="z" fill="#8181d6" d="M607.6 542.6l6.6 1.1l2.5-2.8l-6.7-1.1z"/></g>
<path d="M269,491.4 L617.4,546.6" fill="none" stroke="#8a8a8a" stroke-width="1.1"/>
<path d="M617.4,546.6 L744.9,398" fill="none" stroke="#000" stroke-width="1"/>
<path d="M269 491v7.3 M285.6 493.6v7.3 M302.2 496.3v7.3 M318.8 498.9v7.3 M335.4 501.5v7.3 M352 504.1v7.3 M368.5 506.8v7.3 M385.1 509.4v7.3 M401.7 512v7.3 M418.3 514.7v7.3 M434.9 517.3v7.3 M451.5 519.9v7.3 M468.1 522.5v7.3 M484.7 525.2v7.3 M501.3 527.8v7.3 M517.9 530.4v7.3 M534.4 533.1v7.3 M551 535.7v7.3 M567.6 538.3v7.3 M584.2 540.9v7.3 M600.8 543.6v7.3 M617.4 546.2v7.3 M617 546.6h5.6 M623.1 539.5h5.6 M629.1 532.4h5.6 M635.2 525.4h5.6 M641.3 518.3h5.6 M647.4 511.2h5.6 M653.4 504.1h5.6 M659.5 497.1h5.6 M665.6 490h5.6 M671.6 482.9h5.6 M677.7 475.8h5.6 M683.8 468.8h5.6 M689.9 461.7h5.6 M695.9 454.6h5.6 M702 447.5h5.6 M708.1 440.5h5.6 M714.1 433.4h5.6 M720.2 426.3h5.6 M726.3 419.2h5.6 M732.4 412.2h5.6 M738.4 405.1h5.6 M744.5 398h5.6 M269.5 491.4h-7.3 M269.5 457.8h-7.3 M269.5 424.2h-7.3 M269.5 390.6h-7.3 M269.5 357h-7.3 M269.5 323.4h-7.3 M269.5 289.9h-7.3 M269.5 256.3h-7.3 M269.5 222.7h-7.3 M269.5 189.1h-7.3 M269.5 155.5h-7.3" fill="none" stroke="#000" stroke-width="1.3"/>
<g class="tk"><text x="253.7" y="498.2" text-anchor="end">0</text><text x="253.7" y="464.6" text-anchor="end">1</text><text x="253.7" y="431" text-anchor="end">2</text><text x="253.7" y="397.4" text-anchor="end">3</text><text x="253.7" y="363.8" text-anchor="end">4</text><text x="253.7" y="330.2" text-anchor="end">5</text><text x="253.7" y="296.7" text-anchor="end">6</text><text x="253.7" y="263.1" text-anchor="end">7</text><text x="253.7" y="229.5" text-anchor="end">8</text><text x="253.7" y="195.9" text-anchor="end">9</text><text x="253.7" y="162.3" text-anchor="end">10</text><text x="276.9" y="522.7" text-anchor="middle">Y=100</text><text x="343.3" y="533.2" text-anchor="middle">Y=80</text><text x="409.6" y="543.7" text-anchor="middle">Y=60</text><text x="476" y="554.3" text-anchor="middle">Y=40</text><text x="542.3" y="564.8" text-anchor="middle">Y=20</text><text x="608.7" y="575.3" text-anchor="middle">Y=0</text><text x="636.4" y="549.1">0</text><text x="666.8" y="513.7">25</text><text x="697.1" y="478.3">50</text><text x="727.5" y="442.9">75</text><text x="752.4" y="407.5">100</text></g></g>
<g id="chartB"><path d="M1163.5,491.4 L1290.5,343.2 L1290.5,7.1 L1163.5,155.5 z" fill="#fff" stroke="none"/>
<path d="M1290.5,343.2 L1639.4,398 L1639.7,60.7 L1290.5,7.1 z" fill="#a5a5a5" stroke="#808080" stroke-width="1"/>
<path d="M1163.5,457.8 L1290.5,309.6 L1639.4,364.3 M1163.5,424.2 L1290.5,276 L1639.5,330.5 M1163.5,390.6 L1290.5,242.4 L1639.5,296.8 M1163.5,357 L1290.5,208.8 L1639.5,263.1 M1163.5,323.4 L1290.5,175.1 L1639.6,229.3 M1163.5,289.9 L1290.5,141.5 L1639.6,195.6 M1163.5,256.3 L1290.5,107.9 L1639.6,161.9 M1163.5,222.7 L1290.5,74.3 L1639.6,128.2 M1163.5,189.1 L1290.5,40.7 L1639.7,94.4 M1163.5,155.5 L1290.5,7.1 L1639.7,60.7" fill="none" stroke="#222" stroke-width="1"/>
<path d="M1163.5,491.4 L1163.5,155.5 M1290.5,343.2 L1290.5,7.1" fill="none" stroke="#6e6e6e" stroke-width="1.3"/>
<path d="M1163.5,491.4 L1290.5,343.2" fill="none" stroke="#333" stroke-width="0.8"/>
<path d="M1639.4,398 L1290.5,343.2" fill="none" stroke="#555" stroke-width="1"/>
<path d="M1638.4 398 L1638.4 60.7" fill="none" stroke="#858585" stroke-width="2"/>
<g stroke="#000" stroke-opacity=".85" stroke-width=".8" stroke-linejoin="round"><path fill="#688bad" d="M1291.3 348.9l6.6 1.1v-52.8l-6.6-1z"/><path fill="#93c4f5" d="M1297.9 350l2.4-2.9v-52.7l-2.4 2.8z"/><path fill="#81abd6" d="M1291.3 296.2l6.6 1l2.4-2.8l-6.6-1.1z"/><path fill="#adad68" d="M1307.9 351.5l6.6 1.1v-52.8l-6.6-1z"/><path fill="#f5f593" d="M1314.5 352.6l2.4-2.8v-52.8l-2.4 2.8z"/><path fill="#d6d681" d="M1307.9 298.8l6.6 1l2.4-2.8l-6.6-1.1z"/><path fill="#8bad8b" d="M1324.5 354.1l6.6 1.1v-52.8l-6.6-1z"/><path fill="#c4f5c4" d="M1331.1 355.2l2.4-2.8v-52.8l-2.4 2.8z"/><path fill="#abd6ab" d="M1324.5 301.4l6.6 1l2.4-2.8l-6.6-1.1z"/><path fill="#8badad" d="M1341.1 356.8l6.6 1v-52.8l-6.6-1z"/><path fill="#c4f5f5" d="M1347.7 357.8l2.5-2.8v-52.8l-2.5 2.8z"/><path fill="#abd6d6" d="M1341.1 304l6.6 1l2.5-2.8l-6.7-1.1z"/><path fill="#008bad" d="M1357.7 359.4l6.7 1v-53.1l-6.7-1.1z"/><path fill="#00c4f5" d="M1364.4 360.4l2.4-2.8v-53.2l-2.4 2.9z"/><path fill="#00abd6" d="M1357.7 306.2l6.7 1.1l2.4-2.9l-6.7-1z"/><path fill="#0000ad" d="M1374.3 362l6.7 1v-53.1l-6.7-1.1z"/><path fill="#0000f5" d="M1381 363l2.4-2.8v-53.2l-2.4 2.9z"/><path fill="#0000d6" d="M1374.3 308.8l6.7 1.1l2.4-2.9l-6.6-1z"/><path fill="#005757" d="M1390.9 364.6l6.7 1v-53.5l-6.7-1z"/><path fill="#007b7b" d="M1397.6 365.6l2.4-2.8v-53.5l-2.4 2.8z"/><path fill="#006c6c" d="M1390.9 311.1l6.7 1l2.4-2.8l-6.6-1z"/><path class="z" fill="#6c0000" d="M1407.5 367.2l6.7 1l2.4-2.8l-6.6-1z"/><path fill="#570057" d="M1424.2 369.8l6.6 1v-53.8l-6.6-1z"/><path fill="#7b007b" d="M1430.8 370.8l2.4-2.8v-53.8l-2.4 2.8z"/><path fill="#6c006c" d="M1424.2 316l6.6 1l2.4-2.8l-6.6-1.1z"/><path fill="#00adad" d="M1440.8 372.4l6.6 1.1v-52.6l-6.6-1z"/><path fill="#00f5f5" d="M1447.4 373.5l2.4-2.9l0.1-52.5l-2.5 2.8z"/><path fill="#00d6d6" d="M1440.8 319.9l6.6 1l2.5-2.8l-6.7-1z"/><path fill="#adad00" d="M1457.4 375l6.6 1.1l0.1-48.2l-6.7-1z"/><path fill="#f5f500" d="M1464 376.1l2.5-2.9v-48.1l-2.4 2.8z"/><path fill="#d6d600" d="M1457.4 326.9l6.7 1l2.4-2.8l-6.7-1z"/><path fill="#ad00ad" d="M1474 377.6l6.6 1.1l0.1-51.9l-6.7-1z"/><path fill="#f500f5" d="M1480.6 378.7l2.5-2.8v-51.9l-2.4 2.8z"/><path fill="#d600d6" d="M1474 325.8l6.7 1l2.4-2.8l-6.7-1.1z"/><path fill="#000057" d="M1490.6 380.2l6.7 1.1v-51.2l-6.7-1.1z"/><path fill="#00007b" d="M1497.3 381.3l2.4-2.8v-51.2l-2.4 2.8z"/><path fill="#00006c" d="M1490.6 329l6.7 1.1l2.4-2.8l-6.6-1.1z"/><path fill="#8b8bad" d="M1507.2 382.9l6.7 1v-49.9l-6.6-1z"/><path fill="#c4c4f5" d="M1513.9 383.9l2.4-2.8v-49.9l-2.4 2.8z"/><path fill="#ababd6" d="M1507.3 333l6.6 1l2.4-2.8l-6.6-1z"/><path fill="#00458b" d="M1523.8 385.5l6.7 1v-47.8l-6.6-1.1z"/><path fill="#0062c4" d="M1530.5 386.5l2.4-2.8v-47.9l-2.4 2.9z"/><path fill="#0056ab" d="M1523.9 337.6l6.6 1.1l2.4-2.9l-6.6-1z"/><path fill="#ad5757" d="M1540.5 388.1l6.6 1v-44.1l-6.6-1.1z"/><path fill="#f57b7b" d="M1547.1 389.1l2.4-2.8l0.1-44.2l-2.5 2.9z"/><path fill="#d66c6c" d="M1540.5 343.9l6.6 1.1l2.5-2.9l-6.7-1z"/><path fill="#450045" d="M1557.1 390.7l6.6 1v-42.8l-6.6-1z"/><path fill="#620062" d="M1563.7 391.7l2.4-2.8l0.1-42.8l-2.5 2.8z"/><path fill="#560056" d="M1557.1 347.9l6.6 1l2.5-2.8l-6.7-1z"/><path fill="#8badad" d="M1573.7 393.3l6.6 1l0.1-41.8l-6.7-1z"/><path fill="#c4f5f5" d="M1580.3 394.3l2.5-2.8v-41.8l-2.4 2.8z"/><path fill="#abd6d6" d="M1573.7 351.5l6.7 1l2.4-2.8l-6.7-1z"/><path fill="#adad8b" d="M1590.3 395.9l6.6 1l0.1-40.8l-6.7-1z"/><path fill="#f5f5c4" d="M1596.9 396.9l2.5-2.8v-40.8l-2.4 2.8z"/><path fill="#d6d6ab" d="M1590.3 355.1l6.7 1l2.4-2.8l-6.6-1z"/><path fill="#682345" d="M1606.9 398.5l6.7 1.1v-37.5l-6.7-1z"/><path fill="#933162" d="M1613.6 399.6l2.4-2.9v-37.4l-2.4 2.8z"/><path fill="#812b56" d="M1606.9 361.1l6.7 1l2.4-2.8l-6.6-1z"/><path fill="#6868ad" d="M1623.5 401.1l6.7 1.1v-35.4l-6.7-1.1z"/><path fill="#9393f5" d="M1630.2 402.2l2.4-2.9v-35.4l-2.4 2.9z"/><path fill="#8181d6" d="M1623.5 365.7l6.7 1.1l2.4-2.9l-6.6-1z"/><path fill="#688bad" d="M1285.2 356l6.6 1v-52.7l-6.6-1.1z"/><path fill="#93c4f5" d="M1291.8 357l2.5-2.8v-52.8l-2.5 2.9z"/><path fill="#81abd6" d="M1285.2 303.2l6.6 1.1l2.5-2.9l-6.7-1z"/><path fill="#adad68" d="M1301.8 358.6l6.7 1v-52.7l-6.7-1.1z"/><path fill="#f5f593" d="M1308.5 359.6l2.4-2.8v-52.8l-2.4 2.9z"/><path fill="#d6d681" d="M1301.8 305.8l6.7 1.1l2.4-2.9l-6.7-1z"/><path fill="#8bad8b" d="M1318.4 361.2l6.7 1v-52.1l-6.7-1z"/><path fill="#c4f5c4" d="M1325.1 362.2l2.4-2.8v-52.1l-2.4 2.8z"/><path fill="#abd6ab" d="M1318.4 309.1l6.7 1l2.4-2.8l-6.6-1z"/><path fill="#8badad" d="M1335 363.8l6.7 1.1v-51.5l-6.7-1z"/><path fill="#c4f5f5" d="M1341.7 364.9l2.4-2.9v-51.4l-2.4 2.8z"/><path fill="#abd6d6" d="M1335 312.4l6.7 1l2.4-2.8l-6.6-1.1z"/><path fill="#008bad" d="M1351.7 366.4l6.6 1.1v-51.2l-6.6-1z"/><path fill="#00c4f5" d="M1358.3 367.5l2.4-2.9v-51.1l-2.4 2.8z"/><path fill="#00abd6" d="M1351.7 315.3l6.6 1l2.4-2.8l-6.6-1z"/><path fill="#0000ad" d="M1368.3 369l6.6 1.1v-50.8l-6.6-1.1z"/><path fill="#0000f5" d="M1374.9 370.1l2.4-2.8v-50.8l-2.4 2.8z"/><path fill="#0000d6" d="M1368.3 318.2l6.6 1.1l2.4-2.8l-6.6-1.1z"/><path fill="#005757" d="M1384.9 371.6l6.6 1.1v-51.2l-6.6-1z"/><path fill="#007b7b" d="M1391.5 372.7l2.4-2.8l0.1-51.2l-2.5 2.8z"/><path fill="#006c6c" d="M1384.9 320.5l6.6 1l2.5-2.8l-6.7-1z"/><path fill="#570000" d="M1401.5 374.3l6.6 1v-50.1l-6.6-1.1z"/><path fill="#7b0000" d="M1408.1 375.3l2.5-2.8v-50.2l-2.5 2.9z"/><path fill="#6c0000" d="M1401.5 324.1l6.6 1.1l2.5-2.9l-6.7-1z"/><path fill="#570057" d="M1418.1 376.9l6.6 1l0.1-49.5l-6.7-1z"/><path fill="#7b007b" d="M1424.7 377.9l2.5-2.8v-49.5l-2.4 2.8z"/><path fill="#6c006c" d="M1418.1 327.4l6.7 1l2.4-2.8l-6.7-1z"/><path fill="#00adad" d="M1434.7 379.5l6.7 1v-48.1l-6.7-1.1z"/><path fill="#00f5f5" d="M1441.4 380.5l2.4-2.8v-48.1l-2.4 2.8z"/><path fill="#00d6d6" d="M1434.7 331.3l6.7 1.1l2.4-2.8l-6.6-1.1z"/><path fill="#adad00" d="M1451.3 382.1l6.7 1v-44.4l-6.7-1.1z"/><path fill="#f5f500" d="M1458 383.1l2.4-2.8v-44.4l-2.4 2.8z"/><path fill="#d6d600" d="M1451.3 337.6l6.7 1.1l2.4-2.8l-6.6-1.1z"/><path fill="#ad00ad" d="M1467.9 384.7l6.7 1v-47.8l-6.6-1z"/><path fill="#f500f5" d="M1474.6 385.7l2.4-2.8v-47.8l-2.4 2.8z"/><path fill="#d600d6" d="M1468 336.9l6.6 1l2.4-2.8l-6.6-1z"/><path fill="#000057" d="M1484.6 387.3l6.6 1.1v-46.9l-6.6-1z"/><path fill="#00007b" d="M1491.2 388.4l2.4-2.9v-46.8l-2.4 2.8z"/><path fill="#00006c" d="M1484.6 340.5l6.6 1l2.4-2.8l-6.6-1z"/><path fill="#8b8bad" d="M1501.2 389.9l6.6 1.1v-45.5l-6.6-1.1z"/><path fill="#c4c4f5" d="M1507.8 391l2.4-2.9l0.1-45.4l-2.5 2.8z"/><path fill="#ababd6" d="M1501.2 344.4l6.6 1.1l2.5-2.8l-6.7-1.1z"/><path fill="#00458b" d="M1517.8 392.5l6.6 1.1v-44.8l-6.6-1.1z"/><path fill="#0062c4" d="M1524.4 393.6l2.4-2.8l0.1-44.9l-2.5 2.9z"/><path fill="#0056ab" d="M1517.8 347.7l6.6 1.1l2.5-2.9l-6.7-1z"/><path fill="#ad5757" d="M1534.4 395.1l6.6 1.1l0.1-42.8l-6.7-1.1z"/><path fill="#f57b7b" d="M1541 396.2l2.5-2.8v-42.8l-2.4 2.8z"/><path fill="#d66c6c" d="M1534.4 352.3l6.7 1.1l2.4-2.8l-6.7-1.1z"/><path fill="#450045" d="M1551 397.8l6.6 1l0.1-40.8l-6.7-1z"/><path fill="#620062" d="M1557.6 398.8l2.5-2.8v-40.8l-2.4 2.8z"/><path fill="#560056" d="M1551 357l6.7 1l2.4-2.8l-6.6-1.1z"/><path fill="#8badad" d="M1567.6 400.4l6.7 1v-40l-6.7-1z"/><path fill="#c4f5f5" d="M1574.3 401.4l2.4-2.8v-40l-2.4 2.8z"/><path fill="#abd6d6" d="M1567.6 360.4l6.7 1l2.4-2.8l-6.6-1.1z"/><path fill="#adad8b" d="M1584.2 403l6.7 1v-39.4l-6.6-1.1z"/><path fill="#f5f5c4" d="M1590.9 404l2.4-2.8v-39.5l-2.4 2.9z"/><path fill="#d6d6ab" d="M1584.3 363.5l6.6 1.1l2.4-2.9l-6.6-1z"/><path fill="#682345" d="M1600.8 405.6l6.7 1v-36.5l-6.6-1z"/><path fill="#933162" d="M1607.5 406.6l2.4-2.8v-36.5l-2.4 2.8z"/><path fill="#812b56" d="M1600.9 369.1l6.6 1l2.4-2.8l-6.6-1z"/><path fill="#6868ad" d="M1617.4 408.2l6.7 1v-34.7l-6.6-1.1z"/><path fill="#9393f5" d="M1624.1 409.2l2.4-2.8l0.1-34.8l-2.5 2.9z"/><path fill="#8181d6" d="M1617.5 373.4l6.6 1.1l2.5-2.9l-6.7-1z"/><path fill="#688bad" d="M1279.2 363l6.6 1.1v-53.1l-6.6-1.1z"/><path fill="#93c4f5" d="M1285.8 364.1l2.4-2.8v-53.1l-2.4 2.8z"/><path fill="#81abd6" d="M1279.2 309.9l6.6 1.1l2.4-2.8l-6.6-1.1z"/><path fill="#adad68" d="M1295.8 365.6l6.6 1.1v-52.5l-6.6-1z"/><path fill="#f5f593" d="M1302.4 366.7l2.4-2.8v-52.5l-2.4 2.8z"/><path fill="#d6d681" d="M1295.8 313.2l6.6 1l2.4-2.8l-6.6-1z"/><path fill="#8bad8b" d="M1312.4 368.3l6.6 1v-51.4l-6.6-1.1z"/><path fill="#c4f5c4" d="M1319 369.3l2.4-2.8v-51.5l-2.4 2.9z"/><path fill="#abd6ab" d="M1312.4 316.8l6.6 1.1l2.4-2.9l-6.6-1z"/><path fill="#8badad" d="M1329 370.9l6.6 1v-50.4l-6.6-1.1z"/><path fill="#c4f5f5" d="M1335.6 371.9l2.5-2.8v-50.5l-2.5 2.9z"/><path fill="#abd6d6" d="M1329 320.4l6.6 1.1l2.5-2.9l-6.7-1z"/><path fill="#008bad" d="M1345.6 373.5l6.6 1l0.1-49.4l-6.7-1.1z"/><path fill="#00c4f5" d="M1352.2 374.5l2.5-2.8v-49.4l-2.4 2.8z"/><path fill="#00abd6" d="M1345.6 324l6.7 1.1l2.4-2.8l-6.7-1.1z"/><path fill="#0000ad" d="M1362.2 376.1l6.7 1v-48.1l-6.7-1z"/><path fill="#0000f5" d="M1368.9 377.1l2.4-2.8v-48.1l-2.4 2.8z"/><path fill="#0000d6" d="M1362.2 328l6.7 1l2.4-2.8l-6.7-1z"/><path fill="#005757" d="M1378.8 378.7l6.7 1.1v-47.8l-6.7-1.1z"/><path fill="#007b7b" d="M1385.5 379.8l2.4-2.9v-47.8l-2.4 2.9z"/><path fill="#006c6c" d="M1378.8 330.9l6.7 1.1l2.4-2.9l-6.6-1z"/><path fill="#570000" d="M1395.4 381.3l6.7 1.1v-47.2l-6.7-1z"/><path fill="#7b0000" d="M1402.1 382.4l2.4-2.9v-47.1l-2.4 2.8z"/><path fill="#6c0000" d="M1395.4 334.2l6.7 1l2.4-2.8l-6.6-1z"/><path fill="#570057" d="M1412 383.9l6.7 1.1v-46.5l-6.6-1z"/><path fill="#7b007b" d="M1418.7 385l2.4-2.8v-46.5l-2.4 2.8z"/><path fill="#6c006c" d="M1412.1 337.5l6.6 1l2.4-2.8l-6.6-1z"/><path fill="#00adad" d="M1428.7 386.5l6.6 1.1v-43.8l-6.6-1z"/><path fill="#00f5f5" d="M1435.3 387.6l2.4-2.8v-43.8l-2.4 2.8z"/><path fill="#00d6d6" d="M1428.7 342.8l6.6 1l2.4-2.8l-6.6-1z"/><path fill="#adad00" d="M1445.3 389.2l6.6 1v-40.7l-6.6-1.1z"/><path fill="#f5f500" d="M1451.9 390.2l2.4-2.8l0.1-40.8l-2.5 2.9z"/><path fill="#d6d600" d="M1445.3 348.4l6.6 1.1l2.5-2.9l-6.7-1z"/><path fill="#ad00ad" d="M1461.9 391.8l6.6 1v-43.4l-6.6-1.1z"/><path fill="#f500f5" d="M1468.5 392.8l2.4-2.8l0.1-43.5l-2.5 2.9z"/><path fill="#d600d6" d="M1461.9 348.3l6.6 1.1l2.5-2.9l-6.7-1z"/><path fill="#000057" d="M1478.5 394.4l6.6 1l0.1-42.8l-6.7-1z"/><path fill="#00007b" d="M1485.1 395.4l2.5-2.8v-42.8l-2.4 2.8z"/><path fill="#00006c" d="M1478.5 351.6l6.7 1l2.4-2.8l-6.7-1z"/><path fill="#8b8bad" d="M1495.1 397l6.6 1l0.1-41.7l-6.7-1.1z"/><path fill="#c4c4f5" d="M1501.7 398l2.5-2.8v-41.8l-2.4 2.9z"/><path fill="#ababd6" d="M1495.1 355.2l6.7 1.1l2.4-2.9l-6.7-1z"/><path fill="#00458b" d="M1511.7 399.6l6.7 1.1v-41.2l-6.7-1z"/><path fill="#0062c4" d="M1518.4 400.7l2.4-2.9v-41.1l-2.4 2.8z"/><path fill="#0056ab" d="M1511.7 358.5l6.7 1l2.4-2.8l-6.6-1z"/><path fill="#ad5757" d="M1528.3 402.2l6.7 1.1v-40.5l-6.7-1z"/><path fill="#f57b7b" d="M1535 403.3l2.4-2.9v-40.4l-2.4 2.8z"/><path fill="#d66c6c" d="M1528.3 361.8l6.7 1l2.4-2.8l-6.6-1.1z"/><path fill="#450045" d="M1544.9 404.8l6.7 1.1v-38.8l-6.6-1z"/><path fill="#620062" d="M1551.6 405.9l2.4-2.9v-38.7l-2.4 2.8z"/><path fill="#560056" d="M1545 366.1l6.6 1l2.4-2.8l-6.6-1.1z"/><path fill="#8badad" d="M1561.5 407.4l6.7 1.1v-37.9l-6.6-1z"/><path fill="#c4f5f5" d="M1568.2 408.5l2.4-2.8v-37.9l-2.4 2.8z"/><path fill="#abd6d6" d="M1561.6 369.6l6.6 1l2.4-2.8l-6.6-1.1z"/><path fill="#adad8b" d="M1578.2 410.1l6.6 1v-38.1l-6.6-1.1z"/><path fill="#f5f5c4" d="M1584.8 411.1l2.4-2.8l0.1-38.1l-2.5 2.8z"/><path fill="#d6d6ab" d="M1578.2 371.9l6.6 1.1l2.5-2.8l-6.7-1.1z"/><path fill="#682345" d="M1594.8 412.7l6.6 1v-35.6l-6.6-1z"/><path fill="#933162" d="M1601.4 413.7l2.4-2.8l0.1-35.6l-2.5 2.8z"/><path fill="#812b56" d="M1594.8 377.1l6.6 1l2.5-2.8l-6.7-1z"/><path fill="#6868ad" d="M1611.4 415.3l6.6 1v-33.8l-6.6-1z"/><path fill="#9393f5" d="M1618 416.3l2.5-2.8v-33.8l-2.5 2.8z"/><path fill="#8181d6" d="M1611.4 381.5l6.6 1l2.5-2.8l-6.7-1.1z"/><path fill="#688bad" d="M1273.1 370.1l6.7 1v-53.1l-6.7-1z"/><path fill="#93c4f5" d="M1279.8 371.1l2.4-2.8v-53.1l-2.4 2.8z"/><path fill="#81abd6" d="M1273.1 317l6.7 1l2.4-2.8l-6.7-1z"/><path fill="#adad68" d="M1289.7 372.7l6.7 1.1v-52.2l-6.7-1z"/><path fill="#f5f593" d="M1296.4 373.8l2.4-2.9v-52.1l-2.4 2.8z"/><path fill="#d6d681" d="M1289.7 320.6l6.7 1l2.4-2.8l-6.7-1z"/><path fill="#8bad8b" d="M1306.3 375.3l6.7 1.1v-50.8l-6.7-1z"/><path fill="#c4f5c4" d="M1313 376.4l2.4-2.9v-50.7l-2.4 2.8z"/><path fill="#abd6ab" d="M1306.3 324.6l6.7 1l2.4-2.8l-6.6-1.1z"/><path fill="#8badad" d="M1322.9 377.9l6.7 1.1v-49.5l-6.7-1z"/><path fill="#c4f5f5" d="M1329.6 379l2.4-2.8v-49.5l-2.4 2.8z"/><path fill="#abd6d6" d="M1322.9 328.5l6.7 1l2.4-2.8l-6.6-1z"/><path fill="#008bad" d="M1339.5 380.5l6.7 1.1v-47.8l-6.6-1z"/><path fill="#00c4f5" d="M1346.2 381.6l2.4-2.8v-47.8l-2.4 2.8z"/><path fill="#00abd6" d="M1339.6 332.8l6.6 1l2.4-2.8l-6.6-1z"/><path fill="#0000ad" d="M1356.2 383.2l6.6 1v-46.1l-6.6-1z"/><path fill="#0000f5" d="M1362.8 384.2l2.4-2.8v-46.1l-2.4 2.8z"/><path fill="#0000d6" d="M1356.2 337.1l6.6 1l2.4-2.8l-6.6-1.1z"/><path fill="#005757" d="M1372.8 385.8l6.6 1v-45.4l-6.6-1.1z"/><path fill="#007b7b" d="M1379.4 386.8l2.4-2.8v-45.4l-2.4 2.8z"/><path fill="#006c6c" d="M1372.8 340.3l6.6 1.1l2.4-2.8l-6.6-1.1z"/><path fill="#570000" d="M1389.4 388.4l6.6 1v-43.4l-6.6-1z"/><path fill="#7b0000" d="M1396 389.4l2.4-2.8l0.1-43.4l-2.5 2.8z"/><path fill="#6c0000" d="M1389.4 345l6.6 1l2.5-2.8l-6.7-1.1z"/><path fill="#570057" d="M1406 391l6.6 1v-43l-6.6-1.1z"/><path fill="#7b007b" d="M1412.6 392l2.5-2.8v-43.1l-2.5 2.9z"/><path fill="#6c006c" d="M1406 347.9l6.6 1.1l2.5-2.9l-6.7-1z"/><path fill="#00adad" d="M1422.6 393.6l6.6 1.1l0.1-40.1l-6.7-1.1z"/><path fill="#00f5f5" d="M1429.2 394.7l2.5-2.9v-40l-2.4 2.8z"/><path fill="#00d6d6" d="M1422.6 353.5l6.7 1.1l2.4-2.8l-6.7-1.1z"/><path fill="#adad00" d="M1439.2 396.2l6.7 1.1v-37.1l-6.7-1z"/><path fill="#f5f500" d="M1445.9 397.3l2.4-2.9v-37l-2.4 2.8z"/><path fill="#d6d600" d="M1439.2 359.2l6.7 1l2.4-2.8l-6.7-1z"/><path fill="#ad00ad" d="M1455.8 398.8l6.7 1.1v-39.8l-6.7-1z"/><path fill="#f500f5" d="M1462.5 399.9l2.4-2.8v-39.8l-2.4 2.8z"/><path fill="#d600d6" d="M1455.8 359.1l6.7 1l2.4-2.8l-6.6-1z"/><path fill="#000057" d="M1472.4 401.4l6.7 1.1v-39.1l-6.7-1z"/><path fill="#00007b" d="M1479.1 402.5l2.4-2.8v-39.1l-2.4 2.8z"/><path fill="#00006c" d="M1472.4 362.4l6.7 1l2.4-2.8l-6.6-1.1z"/><path fill="#8b8bad" d="M1489 404.1l6.7 1v-38.1l-6.6-1z"/><path fill="#c4c4f5" d="M1495.7 405.1l2.4-2.8v-38.1l-2.4 2.8z"/><path fill="#ababd6" d="M1489.1 366l6.6 1l2.4-2.8l-6.6-1z"/><path fill="#00458b" d="M1505.6 406.7l6.7 1v-37.4l-6.6-1z"/><path fill="#0062c4" d="M1512.3 407.7l2.4-2.8v-37.4l-2.4 2.8z"/><path fill="#0056ab" d="M1505.7 369.3l6.6 1l2.4-2.8l-6.6-1.1z"/><path fill="#ad5757" d="M1522.3 409.3l6.6 1v-37.7l-6.6-1.1z"/><path fill="#f57b7b" d="M1528.9 410.3l2.4-2.8v-37.8l-2.4 2.9z"/><path fill="#d66c6c" d="M1522.3 371.5l6.6 1.1l2.4-2.9l-6.6-1z"/><path fill="#450045" d="M1538.9 411.9l6.6 1v-36.4l-6.6-1z"/><path fill="#620062" d="M1545.5 412.9l2.4-2.8l0.1-36.4l-2.5 2.8z"/><path fill="#560056" d="M1538.9 375.5l6.6 1l2.5-2.8l-6.7-1z"/><path fill="#8badad" d="M1555.5 414.5l6.6 1.1v-36.1l-6.6-1.1z"/><path fill="#c4f5f5" d="M1562.1 415.6l2.4-2.9l0.1-36.1l-2.5 2.9z"/><path fill="#abd6d6" d="M1555.5 378.4l6.6 1.1l2.5-2.9l-6.7-1z"/><path fill="#adad8b" d="M1572.1 417.1l6.6 1.1l0.1-36.8l-6.7-1z"/><path fill="#f5f5c4" d="M1578.7 418.2l2.5-2.9v-36.7l-2.4 2.8z"/><path fill="#d6d6ab" d="M1572.1 380.4l6.7 1l2.4-2.8l-6.7-1.1z"/><path fill="#682345" d="M1588.7 419.7l6.6 1.1l0.1-34.7l-6.7-1z"/><path fill="#933162" d="M1595.3 420.8l2.5-2.8v-34.7l-2.4 2.8z"/><path fill="#812b56" d="M1588.7 385.1l6.7 1l2.4-2.8l-6.6-1z"/><path fill="#6868ad" d="M1605.3 422.4l6.7 1v-32.9l-6.7-1z"/><path fill="#9393f5" d="M1612 423.4l2.4-2.8v-32.9l-2.4 2.8z"/><path fill="#8181d6" d="M1605.3 389.5l6.7 1l2.4-2.8l-6.6-1z"/><path fill="#688bad" d="M1267.1 377.2l6.6 1v-53.1l-6.6-1z"/><path fill="#93c4f5" d="M1273.7 378.2l2.4-2.8v-53.1l-2.4 2.8z"/><path fill="#81abd6" d="M1267.1 324.1l6.6 1l2.4-2.8l-6.6-1.1z"/><path fill="#adad68" d="M1283.7 379.8l6.6 1v-51.8l-6.6-1z"/><path fill="#f5f593" d="M1290.3 380.8l2.4-2.8v-51.8l-2.4 2.8z"/><path fill="#d6d681" d="M1283.7 328l6.6 1l2.4-2.8l-6.6-1z"/><path fill="#8bad8b" d="M1300.3 382.4l6.6 1v-50.1l-6.6-1z"/><path fill="#c4f5c4" d="M1306.9 383.4l2.4-2.8v-50.1l-2.4 2.8z"/><path fill="#abd6ab" d="M1300.3 332.3l6.6 1l2.4-2.8l-6.6-1z"/><path fill="#8badad" d="M1316.9 385l6.6 1v-48.1l-6.6-1z"/><path fill="#c4f5f5" d="M1323.5 386l2.5-2.8v-48.1l-2.5 2.8z"/><path fill="#abd6d6" d="M1316.9 336.9l6.6 1l2.5-2.8l-6.7-1z"/><path fill="#008bad" d="M1333.5 387.6l6.6 1.1v-45.8l-6.6-1z"/><path fill="#00c4f5" d="M1340.1 388.7l2.5-2.9v-45.7l-2.5 2.8z"/><path fill="#00abd6" d="M1333.5 341.9l6.6 1l2.5-2.8l-6.7-1.1z"/><path fill="#0000ad" d="M1350.1 390.2l6.6 1.1l0.1-43.4l-6.7-1.1z"/><path fill="#0000f5" d="M1356.7 391.3l2.5-2.9v-43.4l-2.4 2.9z"/><path fill="#0000d6" d="M1350.1 346.8l6.7 1.1l2.4-2.9l-6.7-1z"/><path fill="#005757" d="M1366.7 392.8l6.7 1.1v-42.8l-6.7-1z"/><path fill="#007b7b" d="M1373.4 393.9l2.4-2.8v-42.8l-2.4 2.8z"/><path fill="#006c6c" d="M1366.7 350.1l6.7 1l2.4-2.8l-6.7-1z"/><path fill="#570000" d="M1383.3 395.4l6.7 1.1v-40.7l-6.7-1.1z"/><path fill="#7b0000" d="M1390 396.5l2.4-2.8v-40.8l-2.4 2.9z"/><path fill="#6c0000" d="M1383.3 354.7l6.7 1.1l2.4-2.9l-6.6-1z"/><path fill="#570057" d="M1399.9 398.1l6.7 1v-40.7l-6.7-1.1z"/><path fill="#7b007b" d="M1406.6 399.1l2.4-2.8v-40.8l-2.4 2.9z"/><path fill="#6c006c" d="M1399.9 357.3l6.7 1.1l2.4-2.9l-6.6-1z"/><path fill="#00adad" d="M1416.5 400.7l6.7 1v-37l-6.6-1.1z"/><path fill="#00f5f5" d="M1423.2 401.7l2.4-2.8v-37l-2.4 2.8z"/><path fill="#00d6d6" d="M1416.6 363.6l6.6 1.1l2.4-2.8l-6.6-1.1z"/><path fill="#adad00" d="M1433.1 403.3l6.7 1v-33.3l-6.6-1.1z"/><path fill="#f5f500" d="M1439.8 404.3l2.4-2.8v-33.3l-2.4 2.8z"/><path fill="#d6d600" d="M1433.2 369.9l6.6 1.1l2.4-2.8l-6.6-1.1z"/><path fill="#ad00ad" d="M1449.8 405.9l6.6 1v-36l-6.6-1z"/><path fill="#f500f5" d="M1456.4 406.9l2.4-2.8v-36l-2.4 2.8z"/><path fill="#d600d6" d="M1449.8 369.9l6.6 1l2.4-2.8l-6.6-1.1z"/><path fill="#000057" d="M1466.4 408.5l6.6 1.1v-35.4l-6.6-1.1z"/><path fill="#00007b" d="M1473 409.6l2.4-2.9v-35.3l-2.4 2.8z"/><path fill="#00006c" d="M1466.4 373.1l6.6 1.1l2.4-2.8l-6.6-1.1z"/><path fill="#8b8bad" d="M1483 411.1l6.6 1.1v-34.4l-6.6-1z"/><path fill="#c4c4f5" d="M1489.6 412.2l2.4-2.9l0.1-34.3l-2.5 2.8z"/><path fill="#ababd6" d="M1483 376.8l6.6 1l2.5-2.8l-6.7-1.1z"/><path fill="#00458b" d="M1499.6 413.7l6.6 1.1v-34.4l-6.6-1z"/><path fill="#0062c4" d="M1506.2 414.8l2.5-2.8v-34.4l-2.5 2.8z"/><path fill="#0056ab" d="M1499.6 379.4l6.6 1l2.5-2.8l-6.7-1.1z"/><path fill="#ad5757" d="M1516.2 416.4l6.6 1l0.1-34.7l-6.7-1.1z"/><path fill="#f57b7b" d="M1522.8 417.4l2.5-2.8v-34.8l-2.4 2.9z"/><path fill="#d66c6c" d="M1516.2 381.6l6.7 1.1l2.4-2.9l-6.7-1z"/><path fill="#450045" d="M1532.8 419l6.6 1l0.1-34.4l-6.7-1z"/><path fill="#620062" d="M1539.4 420l2.5-2.8v-34.4l-2.4 2.8z"/><path fill="#560056" d="M1532.8 384.6l6.7 1l2.4-2.8l-6.7-1.1z"/><path fill="#8badad" d="M1549.4 421.6l6.7 1v-34.3l-6.7-1z"/><path fill="#c4f5f5" d="M1556.1 422.6l2.4-2.8v-34.3l-2.4 2.8z"/><path fill="#abd6d6" d="M1549.4 387.3l6.7 1l2.4-2.8l-6.6-1z"/><path fill="#adad8b" d="M1566 424.2l6.7 1v-35.4l-6.7-1z"/><path fill="#f5f5c4" d="M1572.7 425.2l2.4-2.8v-35.4l-2.4 2.8z"/><path fill="#d6d6ab" d="M1566 388.8l6.7 1l2.4-2.8l-6.6-1.1z"/><path fill="#682345" d="M1582.6 426.8l6.7 1.1v-33.7l-6.6-1.1z"/><path fill="#933162" d="M1589.3 427.9l2.4-2.9v-33.7l-2.4 2.9z"/><path fill="#812b56" d="M1582.7 393.1l6.6 1.1l2.4-2.9l-6.6-1z"/><path fill="#6868ad" d="M1599.2 429.4l6.7 1.1v-31.9l-6.6-1z"/><path fill="#9393f5" d="M1605.9 430.5l2.4-2.9v-31.8l-2.4 2.8z"/><path fill="#8181d6" d="M1599.3 397.6l6.6 1l2.4-2.8l-6.6-1.1z"/><path fill="#688bad" d="M1261 384.2l6.7 1.1v-53.1l-6.7-1.1z"/><path fill="#93c4f5" d="M1267.7 385.3l2.4-2.9v-53.1l-2.4 2.9z"/><path fill="#81abd6" d="M1261 331.1l6.7 1.1l2.4-2.9l-6.7-1z"/><path fill="#adad68" d="M1277.6 386.8l6.7 1.1v-51.1l-6.7-1.1z"/><path fill="#f5f593" d="M1284.3 387.9l2.4-2.9v-51.1l-2.4 2.9z"/><path fill="#d6d681" d="M1277.6 335.7l6.7 1.1l2.4-2.9l-6.7-1z"/><path fill="#8bad8b" d="M1294.2 389.4l6.7 1.1v-49.1l-6.7-1z"/><path fill="#c4f5c4" d="M1300.9 390.5l2.4-2.8v-49.1l-2.4 2.8z"/><path fill="#abd6ab" d="M1294.2 340.4l6.7 1l2.4-2.8l-6.6-1.1z"/><path fill="#8badad" d="M1310.8 392.1l6.7 1v-47.1l-6.7-1z"/><path fill="#c4f5f5" d="M1317.5 393.1l2.4-2.8v-47.1l-2.4 2.8z"/><path fill="#abd6d6" d="M1310.8 345l6.7 1l2.4-2.8l-6.6-1.1z"/><path fill="#008bad" d="M1327.4 394.7l6.7 1v-44.1l-6.7-1z"/><path fill="#00c4f5" d="M1334.1 395.7l2.4-2.8v-44.1l-2.4 2.8z"/><path fill="#00abd6" d="M1327.4 350.6l6.7 1l2.4-2.8l-6.6-1z"/><path fill="#0000ad" d="M1344.1 397.3l6.6 1v-41.4l-6.6-1z"/><path fill="#0000f5" d="M1350.7 398.3l2.4-2.8v-41.4l-2.4 2.8z"/><path fill="#0000d6" d="M1344.1 355.9l6.6 1l2.4-2.8l-6.6-1z"/><path fill="#005757" d="M1360.7 399.9l6.6 1v-40.7l-6.6-1z"/><path fill="#007b7b" d="M1367.3 400.9l2.4-2.8v-40.7l-2.4 2.8z"/><path fill="#006c6c" d="M1360.7 359.2l6.6 1l2.4-2.8l-6.6-1z"/><path fill="#570000" d="M1377.3 402.5l6.6 1.1v-38.4l-6.6-1.1z"/><path fill="#7b0000" d="M1383.9 403.6l2.4-2.9v-38.3l-2.4 2.8z"/><path fill="#6c0000" d="M1377.3 364.1l6.6 1.1l2.4-2.8l-6.6-1.1z"/><path fill="#570057" d="M1393.9 405.1l6.6 1.1v-37.1l-6.6-1z"/><path fill="#7b007b" d="M1400.5 406.2l2.4-2.9v-37l-2.4 2.8z"/><path fill="#6c006c" d="M1393.9 368.1l6.6 1l2.4-2.8l-6.6-1z"/><path fill="#00adad" d="M1410.5 407.7l6.6 1.1v-34l-6.6-1.1z"/><path fill="#00f5f5" d="M1417.1 408.8l2.4-2.8l0.1-34.1l-2.5 2.9z"/><path fill="#00d6d6" d="M1410.5 373.7l6.6 1.1l2.5-2.9l-6.7-1z"/><path fill="#adad00" d="M1427.1 410.4l6.6 1v-29.6l-6.6-1.1z"/><path fill="#f5f500" d="M1433.7 411.4l2.5-2.8v-29.7l-2.5 2.9z"/><path fill="#d6d600" d="M1427.1 380.7l6.6 1.1l2.5-2.9l-6.7-1z"/><path fill="#ad00ad" d="M1443.7 413l6.6 1l0.1-32.3l-6.7-1.1z"/><path fill="#f500f5" d="M1450.3 414l2.5-2.8v-32.4l-2.4 2.9z"/><path fill="#d600d6" d="M1443.7 380.6l6.7 1.1l2.4-2.9l-6.7-1z"/><path fill="#000057" d="M1460.3 415.6l6.6 1l0.1-31.6l-6.7-1.1z"/><path fill="#00007b" d="M1466.9 416.6l2.5-2.8v-31.7l-2.4 2.9z"/><path fill="#00006c" d="M1460.3 383.9l6.7 1.1l2.4-2.9l-6.7-1z"/><path fill="#8b8bad" d="M1476.9 418.2l6.7 1v-30.6l-6.7-1.1z"/><path fill="#c4c4f5" d="M1483.6 419.2l2.4-2.8v-30.7l-2.4 2.9z"/><path fill="#ababd6" d="M1476.9 387.5l6.7 1.1l2.4-2.9l-6.6-1z"/><path fill="#00458b" d="M1493.5 420.8l6.7 1.1v-31.1l-6.7-1z"/><path fill="#0062c4" d="M1500.2 421.9l2.4-2.9v-31l-2.4 2.8z"/><path fill="#0056ab" d="M1493.5 389.8l6.7 1l2.4-2.8l-6.6-1z"/><path fill="#ad5757" d="M1510.1 423.4l6.7 1.1v-32.1l-6.7-1z"/><path fill="#f57b7b" d="M1516.8 424.5l2.4-2.9v-32l-2.4 2.8z"/><path fill="#d66c6c" d="M1510.1 391.4l6.7 1l2.4-2.8l-6.6-1z"/><path fill="#450045" d="M1526.7 426l6.7 1.1v-32.1l-6.6-1z"/><path fill="#620062" d="M1533.4 427.1l2.4-2.8v-32.1l-2.4 2.8z"/><path fill="#560056" d="M1526.8 394l6.6 1l2.4-2.8l-6.6-1z"/><path fill="#8badad" d="M1543.3 428.7l6.7 1v-32.5l-6.6-1z"/><path fill="#c4f5f5" d="M1550 429.7l2.4-2.8v-32.5l-2.4 2.8z"/><path fill="#abd6d6" d="M1543.4 396.2l6.6 1l2.4-2.8l-6.6-1.1z"/><path fill="#adad8b" d="M1560 431.3l6.6 1v-34.4l-6.6-1z"/><path fill="#f5f5c4" d="M1566.6 432.3l2.4-2.8v-34.4l-2.4 2.8z"/><path fill="#d6d6ab" d="M1560 396.9l6.6 1l2.4-2.8l-6.6-1.1z"/><path fill="#682345" d="M1576.6 433.9l6.6 1v-32.7l-6.6-1.1z"/><path fill="#933162" d="M1583.2 434.9l2.4-2.8l0.1-32.8l-2.5 2.9z"/><path fill="#812b56" d="M1576.6 401.1l6.6 1.1l2.5-2.9l-6.7-1z"/><path fill="#6868ad" d="M1593.2 436.5l6.6 1v-30.9l-6.6-1z"/><path fill="#9393f5" d="M1599.8 437.5l2.4-2.8l0.1-30.9l-2.5 2.8z"/><path fill="#8181d6" d="M1593.2 405.6l6.6 1l2.5-2.8l-6.7-1z"/><path fill="#688bad" d="M1255 391.3l6.6 1v-53.1l-6.6-1z"/><path fill="#93c4f5" d="M1261.6 392.3l2.4-2.8v-53.1l-2.4 2.8z"/><path fill="#81abd6" d="M1255 338.2l6.6 1l2.4-2.8l-6.6-1.1z"/><path fill="#adad68" d="M1271.6 393.9l6.6 1v-50.7l-6.6-1.1z"/><path fill="#f5f593" d="M1278.2 394.9l2.4-2.8v-50.8l-2.4 2.9z"/><path fill="#d6d681" d="M1271.6 343.1l6.6 1.1l2.4-2.9l-6.6-1z"/><path fill="#8bad8b" d="M1288.2 396.5l6.6 1v-48l-6.6-1.1z"/><path fill="#c4f5c4" d="M1294.8 397.5l2.4-2.8v-48.1l-2.4 2.9z"/><path fill="#abd6ab" d="M1288.2 348.4l6.6 1.1l2.4-2.9l-6.6-1z"/><path fill="#8badad" d="M1304.8 399.1l6.6 1.1v-45.4l-6.6-1.1z"/><path fill="#c4f5f5" d="M1311.4 400.2l2.4-2.9l0.1-45.4l-2.5 2.9z"/><path fill="#abd6d6" d="M1304.8 353.7l6.6 1.1l2.5-2.9l-6.7-1z"/><path fill="#008bad" d="M1321.4 401.7l6.6 1.1v-42.4l-6.6-1.1z"/><path fill="#00c4f5" d="M1328 402.8l2.5-2.8v-42.4l-2.5 2.8z"/><path fill="#00abd6" d="M1321.4 359.3l6.6 1.1l2.5-2.8l-6.7-1.1z"/><path fill="#0000ad" d="M1338 404.3l6.6 1.1v-39.4l-6.6-1z"/><path fill="#0000f5" d="M1344.6 405.4l2.5-2.8v-39.4l-2.5 2.8z"/><path fill="#0000d6" d="M1338 365l6.6 1l2.5-2.8l-6.7-1z"/><path fill="#005757" d="M1354.6 407l6.6 1l0.1-38l-6.7-1.1z"/><path fill="#007b7b" d="M1361.2 408l2.5-2.8v-38l-2.4 2.8z"/><path fill="#006c6c" d="M1354.6 368.9l6.7 1.1l2.4-2.8l-6.7-1.1z"/><path fill="#570000" d="M1371.2 409.6l6.7 1v-35.7l-6.7-1z"/><path fill="#7b0000" d="M1377.9 410.6l2.4-2.8v-35.7l-2.4 2.8z"/><path fill="#6c0000" d="M1371.2 373.9l6.7 1l2.4-2.8l-6.7-1z"/><path fill="#570057" d="M1387.8 412.2l6.7 1v-33.6l-6.7-1.1z"/><path fill="#7b007b" d="M1394.5 413.2l2.4-2.8v-33.7l-2.4 2.9z"/><path fill="#6c006c" d="M1387.8 378.5l6.7 1.1l2.4-2.9l-6.7-1z"/><path fill="#00adad" d="M1404.4 414.8l6.7 1.1v-30.7l-6.7-1z"/><path fill="#00f5f5" d="M1411.1 415.9l2.4-2.9v-30.6l-2.4 2.8z"/><path fill="#00d6d6" d="M1404.4 384.2l6.7 1l2.4-2.8l-6.6-1.1z"/><path fill="#adad00" d="M1421 417.4l6.7 1.1v-26.6l-6.7-1.1z"/><path fill="#f5f500" d="M1427.7 418.5l2.4-2.9v-26.6l-2.4 2.9z"/><path fill="#d6d600" d="M1421 390.8l6.7 1.1l2.4-2.9l-6.6-1z"/><path fill="#ad00ad" d="M1437.6 420l6.7 1.1v-28.3l-6.7-1.1z"/><path fill="#f500f5" d="M1444.3 421.1l2.4-2.8v-28.3l-2.4 2.8z"/><path fill="#d600d6" d="M1437.6 391.7l6.7 1.1l2.4-2.8l-6.6-1.1z"/><path fill="#000057" d="M1454.2 422.7l6.7 1v-28l-6.6-1z"/><path fill="#00007b" d="M1460.9 423.7l2.4-2.8v-28l-2.4 2.8z"/><path fill="#00006c" d="M1454.3 394.7l6.6 1l2.4-2.8l-6.6-1z"/><path fill="#8b8bad" d="M1470.8 425.3l6.7 1v-27.6l-6.6-1.1z"/><path fill="#c4c4f5" d="M1477.5 426.3l2.4-2.8v-27.7l-2.4 2.9z"/><path fill="#ababd6" d="M1470.9 397.6l6.6 1.1l2.4-2.9l-6.6-1z"/><path fill="#00458b" d="M1487.5 427.9l6.6 1v-28l-6.6-1z"/><path fill="#0062c4" d="M1494.1 428.9l2.4-2.8v-28l-2.4 2.8z"/><path fill="#0056ab" d="M1487.5 399.9l6.6 1l2.4-2.8l-6.6-1z"/><path fill="#ad5757" d="M1504.1 430.5l6.6 1v-28.6l-6.6-1.1z"/><path fill="#f57b7b" d="M1510.7 431.5l2.4-2.8v-28.6l-2.4 2.8z"/><path fill="#d66c6c" d="M1504.1 401.8l6.6 1.1l2.4-2.8l-6.6-1.1z"/><path fill="#450045" d="M1520.7 433.1l6.6 1.1v-29.7l-6.6-1.1z"/><path fill="#620062" d="M1527.3 434.2l2.4-2.9l0.1-29.7l-2.5 2.9z"/><path fill="#560056" d="M1520.7 403.4l6.6 1.1l2.5-2.9l-6.7-1z"/><path fill="#8badad" d="M1537.3 435.7l6.6 1.1v-30.7l-6.6-1.1z"/><path fill="#c4f5f5" d="M1543.9 436.8l2.4-2.9l0.1-30.7l-2.5 2.9z"/><path fill="#abd6d6" d="M1537.3 405l6.6 1.1l2.5-2.9l-6.7-1z"/><path fill="#adad8b" d="M1553.9 438.3l6.6 1.1v-33.1l-6.6-1z"/><path fill="#f5f5c4" d="M1560.5 439.4l2.5-2.8v-33.1l-2.5 2.8z"/><path fill="#d6d6ab" d="M1553.9 405.3l6.6 1l2.5-2.8l-6.7-1.1z"/><path fill="#682345" d="M1570.5 441l6.6 1l0.1-31.8l-6.7-1.1z"/><path fill="#933162" d="M1577.1 442l2.5-2.8v-31.9l-2.4 2.9z"/><path fill="#812b56" d="M1570.5 409.1l6.7 1.1l2.4-2.9l-6.7-1z"/><path fill="#6868ad" d="M1587.1 443.6l6.6 1l0.1-29.9l-6.7-1.1z"/><path fill="#9393f5" d="M1593.7 444.6l2.5-2.8v-29.9l-2.4 2.8z"/><path fill="#8181d6" d="M1587.1 413.6l6.7 1.1l2.4-2.8l-6.7-1.1z"/><path fill="#688bad" d="M1248.9 398.3l6.7 1.1v-53.1l-6.7-1.1z"/><path fill="#93c4f5" d="M1255.6 399.4l2.4-2.9v-53.1l-2.4 2.9z"/><path fill="#81abd6" d="M1248.9 345.2l6.7 1.1l2.4-2.9l-6.7-1z"/><path fill="#adad68" d="M1265.5 400.9l6.7 1.1v-50.1l-6.7-1z"/><path fill="#f5f593" d="M1272.2 402l2.4-2.8v-50.1l-2.4 2.8z"/><path fill="#d6d681" d="M1265.5 350.9l6.7 1l2.4-2.8l-6.7-1.1z"/><path fill="#8bad8b" d="M1282.1 403.6l6.7 1v-47.1l-6.7-1z"/><path fill="#c4f5c4" d="M1288.8 404.6l2.4-2.8v-47.1l-2.4 2.8z"/><path fill="#abd6ab" d="M1282.1 356.5l6.7 1l2.4-2.8l-6.7-1z"/><path fill="#8badad" d="M1298.7 406.2l6.7 1v-44l-6.7-1.1z"/><path fill="#c4f5f5" d="M1305.4 407.2l2.4-2.8v-44.1l-2.4 2.9z"/><path fill="#abd6d6" d="M1298.7 362.1l6.7 1.1l2.4-2.9l-6.6-1z"/><path fill="#008bad" d="M1315.3 408.8l6.7 1v-40.7l-6.7-1z"/><path fill="#00c4f5" d="M1322 409.8l2.4-2.8v-40.7l-2.4 2.8z"/><path fill="#00abd6" d="M1315.3 368.1l6.7 1l2.4-2.8l-6.6-1z"/><path fill="#0000ad" d="M1331.9 411.4l6.7 1.1v-37.4l-6.7-1z"/><path fill="#0000f5" d="M1338.6 412.5l2.4-2.9v-37.3l-2.4 2.8z"/><path fill="#0000d6" d="M1331.9 374.1l6.7 1l2.4-2.8l-6.6-1.1z"/><path fill="#005757" d="M1348.5 414l6.7 1.1v-35.7l-6.6-1z"/><path fill="#007b7b" d="M1355.2 415.1l2.4-2.9v-35.6l-2.4 2.8z"/><path fill="#006c6c" d="M1348.6 378.4l6.6 1l2.4-2.8l-6.6-1.1z"/><path fill="#570000" d="M1365.2 416.6l6.6 1.1v-33.7l-6.6-1z"/><path fill="#7b0000" d="M1371.8 417.7l2.4-2.8v-33.7l-2.4 2.8z"/><path fill="#6c0000" d="M1365.2 383l6.6 1l2.4-2.8l-6.6-1z"/><path fill="#570057" d="M1381.8 419.3l6.6 1v-31.3l-6.6-1.1z"/><path fill="#7b007b" d="M1388.4 420.3l2.4-2.8v-31.3l-2.4 2.8z"/><path fill="#6c006c" d="M1381.8 387.9l6.6 1.1l2.4-2.8l-6.6-1.1z"/><path fill="#00adad" d="M1398.4 421.9l6.6 1v-27.6l-6.6-1z"/><path fill="#00f5f5" d="M1405 422.9l2.4-2.8v-27.6l-2.4 2.8z"/><path fill="#00d6d6" d="M1398.4 394.3l6.6 1l2.4-2.8l-6.6-1.1z"/><path fill="#adad00" d="M1415 424.5l6.6 1v-23.2l-6.6-1.1z"/><path fill="#f5f500" d="M1421.6 425.5l2.4-2.8v-23.2l-2.4 2.8z"/><path fill="#d6d600" d="M1415 401.2l6.6 1.1l2.4-2.8l-6.6-1.1z"/><path fill="#ad00ad" d="M1431.6 427.1l6.6 1.1v-24.3l-6.6-1.1z"/><path fill="#f500f5" d="M1438.2 428.2l2.4-2.9l0.1-24.2l-2.5 2.8z"/><path fill="#d600d6" d="M1431.6 402.8l6.6 1.1l2.5-2.8l-6.7-1.1z"/><path fill="#000057" d="M1448.2 429.7l6.6 1.1v-24.6l-6.6-1.1z"/><path fill="#00007b" d="M1454.8 430.8l2.4-2.9l0.1-24.6l-2.5 2.9z"/><path fill="#00006c" d="M1448.2 405.1l6.6 1.1l2.5-2.9l-6.7-1z"/><path fill="#8b8bad" d="M1464.8 432.3l6.6 1.1v-24l-6.6-1z"/><path fill="#c4c4f5" d="M1471.4 433.4l2.5-2.8v-24l-2.5 2.8z"/><path fill="#ababd6" d="M1464.8 408.4l6.6 1l2.5-2.8l-6.7-1z"/><path fill="#00458b" d="M1481.4 435l6.6 1v-25l-6.6-1z"/><path fill="#0062c4" d="M1488 436l2.5-2.8v-25l-2.5 2.8z"/><path fill="#0056ab" d="M1481.4 410l6.6 1l2.5-2.8l-6.7-1z"/><path fill="#ad5757" d="M1498 437.6l6.6 1l0.1-24.9l-6.7-1.1z"/><path fill="#f57b7b" d="M1504.6 438.6l2.5-2.8v-25l-2.4 2.9z"/><path fill="#d66c6c" d="M1498 412.6l6.7 1.1l2.4-2.9l-6.7-1z"/><path fill="#450045" d="M1514.6 440.2l6.6 1l0.1-27.3l-6.7-1z"/><path fill="#620062" d="M1521.2 441.2l2.5-2.8v-27.3l-2.4 2.8z"/><path fill="#560056" d="M1514.6 412.9l6.7 1l2.4-2.8l-6.7-1.1z"/><path fill="#8badad" d="M1531.2 442.8l6.7 1.1v-29.3l-6.7-1z"/><path fill="#c4f5f5" d="M1537.9 443.9l2.4-2.9v-29.2l-2.4 2.8z"/><path fill="#abd6d6" d="M1531.2 413.6l6.7 1l2.4-2.8l-6.6-1.1z"/><path fill="#adad8b" d="M1547.8 445.4l6.7 1.1v-32.1l-6.7-1z"/><path fill="#f5f5c4" d="M1554.5 446.5l2.4-2.9v-32l-2.4 2.8z"/><path fill="#d6d6ab" d="M1547.8 413.4l6.7 1l2.4-2.8l-6.6-1.1z"/><path fill="#682345" d="M1564.4 448l6.7 1.1v-30.9l-6.7-1.1z"/><path fill="#933162" d="M1571.1 449.1l2.4-2.8v-31l-2.4 2.9z"/><path fill="#812b56" d="M1564.4 417.1l6.7 1.1l2.4-2.9l-6.6-1z"/><path fill="#6868ad" d="M1581 450.7l6.7 1v-29l-6.7-1z"/><path fill="#9393f5" d="M1587.7 451.7l2.4-2.8v-29l-2.4 2.8z"/><path fill="#8181d6" d="M1581 421.7l6.7 1l2.4-2.8l-6.6-1z"/><path fill="#688bad" d="M1242.9 405.4l6.6 1v-53.1l-6.6-1z"/><path fill="#93c4f5" d="M1249.5 406.4l2.4-2.8v-53.1l-2.4 2.8z"/><path fill="#81abd6" d="M1242.9 352.3l6.6 1l2.4-2.8l-6.6-1z"/><path fill="#adad68" d="M1259.5 408l6.6 1v-49.4l-6.6-1z"/><path fill="#f5f593" d="M1266.1 409l2.4-2.8v-49.4l-2.4 2.8z"/><path fill="#d6d681" d="M1259.5 358.6l6.6 1l2.4-2.8l-6.6-1z"/><path fill="#8bad8b" d="M1276.1 410.6l6.6 1.1v-46.1l-6.6-1z"/><path fill="#c4f5c4" d="M1282.7 411.7l2.4-2.9v-46l-2.4 2.8z"/><path fill="#abd6ab" d="M1276.1 364.6l6.6 1l2.4-2.8l-6.6-1.1z"/><path fill="#8badad" d="M1292.7 413.2l6.6 1.1v-42.7l-6.6-1.1z"/><path fill="#c4f5f5" d="M1299.3 414.3l2.4-2.8v-42.8l-2.4 2.9z"/><path fill="#abd6d6" d="M1292.7 370.5l6.6 1.1l2.4-2.9l-6.6-1z"/><path fill="#008bad" d="M1309.3 415.9l6.6 1v-39.4l-6.6-1z"/><path fill="#00c4f5" d="M1315.9 416.9l2.4-2.8l0.1-39.4l-2.5 2.8z"/><path fill="#00abd6" d="M1309.3 376.5l6.6 1l2.5-2.8l-6.7-1z"/><path fill="#0000ad" d="M1325.9 418.5l6.6 1v-36l-6.6-1z"/><path fill="#0000f5" d="M1332.5 419.5l2.5-2.8v-36l-2.5 2.8z"/><path fill="#0000d6" d="M1325.9 382.5l6.6 1l2.5-2.8l-6.7-1.1z"/><path fill="#005757" d="M1342.5 421.1l6.6 1v-33.6l-6.6-1.1z"/><path fill="#007b7b" d="M1349.1 422.1l2.5-2.8v-33.6l-2.5 2.8z"/><path fill="#006c6c" d="M1342.5 387.4l6.6 1.1l2.5-2.8l-6.7-1.1z"/><path fill="#570000" d="M1359.1 423.7l6.6 1.1v-31l-6.6-1.1z"/><path fill="#7b0000" d="M1365.7 424.8l2.5-2.9v-30.9l-2.5 2.8z"/><path fill="#6c0000" d="M1359.1 392.7l6.6 1.1l2.5-2.8l-6.7-1.1z"/><path fill="#570057" d="M1375.7 426.3l6.6 1.1l0.1-28l-6.7-1z"/><path fill="#7b007b" d="M1382.3 427.4l2.5-2.9v-27.9l-2.4 2.8z"/><path fill="#6c006c" d="M1375.7 398.4l6.7 1l2.4-2.8l-6.7-1.1z"/><path fill="#00adad" d="M1392.3 428.9l6.6 1.1l0.1-24.9l-6.7-1.1z"/><path fill="#00f5f5" d="M1398.9 430l2.5-2.8v-25l-2.4 2.9z"/><path fill="#00d6d6" d="M1392.3 404l6.7 1.1l2.4-2.9l-6.7-1z"/><path fill="#adad00" d="M1408.9 431.6l6.7 1v-20.2l-6.7-1.1z"/><path fill="#f5f500" d="M1415.6 432.6l2.4-2.8v-20.2l-2.4 2.8z"/><path fill="#d6d600" d="M1408.9 411.3l6.7 1.1l2.4-2.8l-6.7-1.1z"/><path fill="#ad00ad" d="M1425.5 434.2l6.7 1v-20.5l-6.7-1.1z"/><path fill="#f500f5" d="M1432.2 435.2l2.4-2.8v-20.6l-2.4 2.9z"/><path fill="#d600d6" d="M1425.5 413.6l6.7 1.1l2.4-2.9l-6.7-1z"/><path fill="#000057" d="M1442.1 436.8l6.7 1v-20.9l-6.7-1z"/><path fill="#00007b" d="M1448.8 437.8l2.4-2.8v-20.9l-2.4 2.8z"/><path fill="#00006c" d="M1442.1 415.9l6.7 1l2.4-2.8l-6.6-1z"/><path fill="#8b8bad" d="M1458.7 439.4l6.7 1.1v-20.6l-6.7-1.1z"/><path fill="#c4c4f5" d="M1465.4 440.5l2.4-2.9v-20.5l-2.4 2.8z"/><path fill="#ababd6" d="M1458.7 418.8l6.7 1.1l2.4-2.8l-6.6-1.1z"/><path fill="#00458b" d="M1475.3 442l6.7 1.1v-21.6l-6.7-1.1z"/><path fill="#0062c4" d="M1482 443.1l2.4-2.9v-21.5l-2.4 2.8z"/><path fill="#0056ab" d="M1475.3 420.4l6.7 1.1l2.4-2.8l-6.6-1.1z"/><path fill="#ad5757" d="M1491.9 444.6l6.7 1.1v-22.9l-6.7-1.1z"/><path fill="#f57b7b" d="M1498.6 445.7l2.4-2.8v-23l-2.4 2.9z"/><path fill="#d66c6c" d="M1491.9 421.7l6.7 1.1l2.4-2.9l-6.6-1z"/><path fill="#450045" d="M1508.5 447.3l6.7 1v-25l-6.7-1z"/><path fill="#620062" d="M1515.2 448.3l2.4-2.8v-25l-2.4 2.8z"/><path fill="#560056" d="M1508.5 422.3l6.7 1l2.4-2.8l-6.6-1z"/><path fill="#8badad" d="M1525.1 449.9l6.7 1v-27.8l-6.6-1z"/><path fill="#c4f5f5" d="M1531.8 450.9l2.4-2.8v-27.8l-2.4 2.8z"/><path fill="#abd6d6" d="M1525.2 422.1l6.6 1l2.4-2.8l-6.6-1z"/><path fill="#adad8b" d="M1541.7 452.5l6.7 1v-31.7l-6.6-1z"/><path fill="#f5f5c4" d="M1548.4 453.5l2.4-2.8v-31.7l-2.4 2.8z"/><path fill="#d6d6ab" d="M1541.8 420.8l6.6 1l2.4-2.8l-6.6-1.1z"/><path fill="#682345" d="M1558.4 455.1l6.6 1.1v-31l-6.6-1.1z"/><path fill="#933162" d="M1565 456.2l2.4-2.9v-31l-2.4 2.9z"/><path fill="#812b56" d="M1558.4 424.1l6.6 1.1l2.4-2.9l-6.6-1z"/><path fill="#6868ad" d="M1575 457.7l6.6 1.1v-28l-6.6-1.1z"/><path fill="#9393f5" d="M1581.6 458.8l2.4-2.9v-27.9l-2.4 2.8z"/><path fill="#8181d6" d="M1575 429.7l6.6 1.1l2.4-2.8l-6.6-1.1z"/><path fill="#688bad" d="M1236.8 412.4l6.7 1.1v-52.4l-6.7-1.1z"/><path fill="#93c4f5" d="M1243.5 413.5l2.4-2.8v-52.5l-2.4 2.9z"/><path fill="#81abd6" d="M1236.8 360l6.7 1.1l2.4-2.9l-6.7-1z"/><path fill="#adad68" d="M1253.4 415.1l6.7 1v-48.7l-6.7-1.1z"/><path fill="#f5f593" d="M1260.1 416.1l2.4-2.8v-48.8l-2.4 2.9z"/><path fill="#d6d681" d="M1253.4 366.3l6.7 1.1l2.4-2.9l-6.7-1z"/><path fill="#8bad8b" d="M1270 417.7l6.7 1v-45.4l-6.7-1z"/><path fill="#c4f5c4" d="M1276.7 418.7l2.4-2.8v-45.4l-2.4 2.8z"/><path fill="#abd6ab" d="M1270 372.3l6.7 1l2.4-2.8l-6.7-1z"/><path fill="#8badad" d="M1286.6 420.3l6.7 1v-42l-6.7-1z"/><path fill="#c4f5f5" d="M1293.3 421.3l2.4-2.8v-42l-2.4 2.8z"/><path fill="#abd6d6" d="M1286.6 378.3l6.7 1l2.4-2.8l-6.6-1.1z"/><path fill="#008bad" d="M1303.2 422.9l6.7 1.1v-38.4l-6.7-1z"/><path fill="#00c4f5" d="M1309.9 424l2.4-2.9v-38.3l-2.4 2.8z"/><path fill="#00abd6" d="M1303.2 384.6l6.7 1l2.4-2.8l-6.6-1.1z"/><path fill="#0000ad" d="M1319.8 425.5l6.7 1.1v-35l-6.7-1.1z"/><path fill="#0000f5" d="M1326.5 426.6l2.4-2.8v-35l-2.4 2.8z"/><path fill="#0000d6" d="M1319.8 390.5l6.7 1.1l2.4-2.8l-6.6-1.1z"/><path fill="#005757" d="M1336.4 428.1l6.7 1.1v-31.6l-6.7-1.1z"/><path fill="#007b7b" d="M1343.1 429.2l2.4-2.8v-31.7l-2.4 2.9z"/><path fill="#006c6c" d="M1336.4 396.5l6.7 1.1l2.4-2.9l-6.6-1z"/><path fill="#570000" d="M1353 430.8l6.7 1v-28.9l-6.7-1.1z"/><path fill="#7b0000" d="M1359.7 431.8l2.4-2.8v-29l-2.4 2.9z"/><path fill="#6c0000" d="M1353 401.8l6.7 1.1l2.4-2.9l-6.6-1z"/><path fill="#570057" d="M1369.6 433.4l6.7 1v-25.6l-6.6-1z"/><path fill="#7b007b" d="M1376.3 434.4l2.4-2.8v-25.6l-2.4 2.8z"/><path fill="#6c006c" d="M1369.7 407.8l6.6 1l2.4-2.8l-6.6-1z"/><path fill="#00adad" d="M1386.2 436l6.7 1.1v-22.3l-6.6-1z"/><path fill="#00f5f5" d="M1392.9 437.1l2.4-2.9v-22.2l-2.4 2.8z"/><path fill="#00d6d6" d="M1386.3 413.8l6.6 1l2.4-2.8l-6.6-1.1z"/><path fill="#adad00" d="M1402.9 438.6l6.6 1.1v-17.2l-6.6-1.1z"/><path fill="#f5f500" d="M1409.5 439.7l2.4-2.9v-17.1l-2.4 2.8z"/><path fill="#d6d600" d="M1402.9 421.4l6.6 1.1l2.4-2.8l-6.6-1.1z"/><path fill="#ad00ad" d="M1419.5 441.2l6.6 1.1v-17.2l-6.6-1z"/><path fill="#f500f5" d="M1426.1 442.3l2.4-2.8v-17.2l-2.4 2.8z"/><path fill="#d600d6" d="M1419.5 424.1l6.6 1l2.4-2.8l-6.6-1.1z"/><path fill="#000057" d="M1436.1 443.9l6.6 1v-16.8l-6.6-1.1z"/><path fill="#00007b" d="M1442.7 444.9l2.4-2.8v-16.9l-2.4 2.9z"/><path fill="#00006c" d="M1436.1 427l6.6 1.1l2.4-2.9l-6.6-1z"/><path fill="#8b8bad" d="M1452.7 446.5l6.6 1v-17.5l-6.6-1.1z"/><path fill="#c4c4f5" d="M1459.3 447.5l2.4-2.8v-17.5l-2.4 2.8z"/><path fill="#ababd6" d="M1452.7 428.9l6.6 1.1l2.4-2.8l-6.6-1.1z"/><path fill="#00458b" d="M1469.3 449.1l6.6 1v-18.5l-6.6-1.1z"/><path fill="#0062c4" d="M1475.9 450.1l2.4-2.8v-18.5l-2.4 2.8z"/><path fill="#0056ab" d="M1469.3 430.5l6.6 1.1l2.4-2.8l-6.6-1.1z"/><path fill="#ad5757" d="M1485.9 451.7l6.6 1.1v-19.9l-6.6-1.1z"/><path fill="#f57b7b" d="M1492.5 452.8l2.4-2.9v-19.9l-2.4 2.9z"/><path fill="#d66c6c" d="M1485.9 431.8l6.6 1.1l2.4-2.9l-6.6-1z"/><path fill="#450045" d="M1502.5 454.3l6.6 1.1v-22.6l-6.6-1.1z"/><path fill="#620062" d="M1509.1 455.4l2.4-2.8v-22.7l-2.4 2.9z"/><path fill="#560056" d="M1502.5 431.7l6.6 1.1l2.4-2.9l-6.6-1z"/><path fill="#8badad" d="M1519.1 457l6.6 1v-26.3l-6.6-1.1z"/><path fill="#c4f5f5" d="M1525.7 458l2.4-2.8l0.1-26.4l-2.5 2.9z"/><path fill="#abd6d6" d="M1519.1 430.6l6.6 1.1l2.5-2.9l-6.7-1z"/><path fill="#adad8b" d="M1535.7 459.6l6.6 1v-31.4l-6.6-1z"/><path fill="#f5f5c4" d="M1542.3 460.6l2.4-2.8l0.1-31.4l-2.5 2.8z"/><path fill="#d6d6ab" d="M1535.7 428.2l6.6 1l2.5-2.8l-6.7-1.1z"/><path fill="#682345" d="M1552.3 462.2l6.6 1v-30.4l-6.6-1z"/><path fill="#933162" d="M1558.9 463.2l2.5-2.8v-30.4l-2.5 2.8z"/><path fill="#812b56" d="M1552.3 431.8l6.6 1l2.5-2.8l-6.7-1z"/><path fill="#6868ad" d="M1568.9 464.8l6.6 1.1v-27.7l-6.6-1.1z"/><path fill="#9393f5" d="M1575.5 465.9l2.5-2.9v-27.7l-2.5 2.9z"/><path fill="#8181d6" d="M1568.9 437.1l6.6 1.1l2.5-2.9l-6.7-1z"/><path fill="#688bad" d="M1230.8 419.5l6.6 1v-51.7l-6.6-1.1z"/><path fill="#93c4f5" d="M1237.4 420.5l2.4-2.8v-51.7l-2.4 2.8z"/><path fill="#81abd6" d="M1230.8 367.7l6.6 1.1l2.4-2.8l-6.6-1.1z"/><path fill="#adad68" d="M1247.4 422.1l6.6 1.1v-48.1l-6.6-1z"/><path fill="#f5f593" d="M1254 423.2l2.4-2.9v-48l-2.4 2.8z"/><path fill="#d6d681" d="M1247.4 374.1l6.6 1l2.4-2.8l-6.6-1.1z"/><path fill="#8bad8b" d="M1264 424.7l6.6 1.1v-44.7l-6.6-1.1z"/><path fill="#c4f5c4" d="M1270.6 425.8l2.4-2.8v-44.8l-2.4 2.9z"/><path fill="#abd6ab" d="M1264 380l6.6 1.1l2.4-2.9l-6.6-1z"/><path fill="#8badad" d="M1280.6 427.4l6.6 1v-41.4l-6.6-1z"/><path fill="#c4f5f5" d="M1287.2 428.4l2.4-2.8v-41.4l-2.4 2.8z"/><path fill="#abd6d6" d="M1280.6 386l6.6 1l2.4-2.8l-6.6-1z"/><path fill="#008bad" d="M1297.2 430l6.6 1v-37.7l-6.6-1z"/><path fill="#00c4f5" d="M1303.8 431l2.4-2.8v-37.7l-2.4 2.8z"/><path fill="#00abd6" d="M1297.2 392.3l6.6 1l2.4-2.8l-6.6-1z"/><path fill="#0000ad" d="M1313.8 432.6l6.6 1v-33.9l-6.6-1.1z"/><path fill="#0000f5" d="M1320.4 433.6l2.4-2.8v-34l-2.4 2.9z"/><path fill="#0000d6" d="M1313.8 398.6l6.6 1.1l2.4-2.9l-6.6-1z"/><path fill="#005757" d="M1330.4 435.2l6.6 1.1v-29.7l-6.6-1z"/><path fill="#007b7b" d="M1337 436.3l2.4-2.9l0.1-29.6l-2.5 2.8z"/><path fill="#006c6c" d="M1330.4 405.6l6.6 1l2.5-2.8l-6.7-1z"/><path fill="#570000" d="M1347 437.8l6.6 1.1v-27l-6.6-1z"/><path fill="#7b0000" d="M1353.6 438.9l2.4-2.8l0.1-27l-2.5 2.8z"/><path fill="#6c0000" d="M1347 410.9l6.6 1l2.5-2.8l-6.7-1z"/><path fill="#570057" d="M1363.6 440.5l6.6 1v-23.6l-6.6-1z"/><path fill="#7b007b" d="M1370.2 441.5l2.5-2.8v-23.6l-2.5 2.8z"/><path fill="#6c006c" d="M1363.6 416.9l6.6 1l2.5-2.8l-6.7-1z"/><path fill="#00adad" d="M1380.2 443.1l6.6 1v-20.2l-6.6-1z"/><path fill="#00f5f5" d="M1386.8 444.1l2.5-2.8v-20.2l-2.5 2.8z"/><path fill="#00d6d6" d="M1380.2 422.9l6.6 1l2.5-2.8l-6.7-1.1z"/><path fill="#adad00" d="M1396.8 445.7l6.6 1v-15.1l-6.6-1.1z"/><path fill="#f5f500" d="M1403.4 446.7l2.5-2.8v-15.2l-2.5 2.9z"/><path fill="#d6d600" d="M1396.8 430.5l6.6 1.1l2.5-2.9l-6.7-1z"/><path fill="#ad00ad" d="M1413.4 448.3l6.6 1.1v-13.5l-6.6-1.1z"/><path fill="#f500f5" d="M1420 449.4l2.5-2.9v-13.5l-2.5 2.9z"/><path fill="#d600d6" d="M1413.4 434.8l6.6 1.1l2.5-2.9l-6.7-1z"/><path fill="#000057" d="M1430 450.9l6.6 1.1v-12.5l-6.6-1z"/><path fill="#00007b" d="M1436.6 452l2.5-2.9v-12.4l-2.5 2.8z"/><path fill="#00006c" d="M1430 438.5l6.6 1l2.5-2.8l-6.7-1.1z"/><path fill="#8b8bad" d="M1446.6 453.5l6.6 1.1v-15.2l-6.6-1z"/><path fill="#c4c4f5" d="M1453.2 454.6l2.5-2.8v-15.2l-2.5 2.8z"/><path fill="#ababd6" d="M1446.6 438.4l6.6 1l2.5-2.8l-6.7-1.1z"/><path fill="#00458b" d="M1463.2 456.2l6.6 1v-14.5l-6.6-1z"/><path fill="#0062c4" d="M1469.8 457.2l2.5-2.8v-14.5l-2.5 2.8z"/><path fill="#0056ab" d="M1463.2 441.7l6.6 1l2.5-2.8l-6.7-1.1z"/><path fill="#ad5757" d="M1479.8 458.8l6.6 1v-16.5l-6.6-1z"/><path fill="#f57b7b" d="M1486.4 459.8l2.5-2.8v-16.5l-2.5 2.8z"/><path fill="#d66c6c" d="M1479.8 442.3l6.6 1l2.5-2.8l-6.7-1.1z"/><path fill="#450045" d="M1496.4 461.4l6.6 1.1l0.1-20.3l-6.7-1z"/><path fill="#620062" d="M1503 462.5l2.5-2.9v-20.2l-2.4 2.8z"/><path fill="#560056" d="M1496.4 441.2l6.7 1l2.4-2.8l-6.7-1.1z"/><path fill="#8badad" d="M1513 464l6.6 1.1l0.1-24.7l-6.7-1z"/><path fill="#c4f5f5" d="M1519.6 465.1l2.5-2.9v-24.6l-2.4 2.8z"/><path fill="#abd6d6" d="M1513 439.4l6.7 1l2.4-2.8l-6.7-1z"/><path fill="#adad8b" d="M1529.6 466.6l6.7 1.1v-31.1l-6.7-1z"/><path fill="#f5f5c4" d="M1536.3 467.7l2.4-2.8v-31.1l-2.4 2.8z"/><path fill="#d6d6ab" d="M1529.6 435.6l6.7 1l2.4-2.8l-6.7-1z"/><path fill="#682345" d="M1546.2 469.3l6.7 1v-30.7l-6.7-1.1z"/><path fill="#933162" d="M1552.9 470.3l2.4-2.8v-30.8l-2.4 2.9z"/><path fill="#812b56" d="M1546.2 438.5l6.7 1.1l2.4-2.9l-6.6-1z"/><path fill="#6868ad" d="M1562.8 471.9l6.7 1v-27.3l-6.7-1.1z"/><path fill="#9393f5" d="M1569.5 472.9l2.4-2.8v-27.4l-2.4 2.9z"/><path fill="#8181d6" d="M1562.8 444.5l6.7 1.1l2.4-2.9l-6.6-1z"/><path fill="#688bad" d="M1224.7 426.6l6.7 1v-51.1l-6.7-1z"/><path fill="#93c4f5" d="M1231.4 427.6l2.4-2.8v-51.1l-2.4 2.8z"/><path fill="#81abd6" d="M1224.7 375.5l6.7 1l2.4-2.8l-6.7-1z"/><path fill="#adad68" d="M1241.3 429.2l6.7 1v-47l-6.7-1.1z"/><path fill="#f5f593" d="M1248 430.2l2.4-2.8v-47.1l-2.4 2.9z"/><path fill="#d6d681" d="M1241.3 382.1l6.7 1.1l2.4-2.9l-6.7-1z"/><path fill="#8bad8b" d="M1257.9 431.8l6.7 1v-44l-6.7-1z"/><path fill="#c4f5c4" d="M1264.6 432.8l2.4-2.8v-44l-2.4 2.8z"/><path fill="#abd6ab" d="M1257.9 387.8l6.7 1l2.4-2.8l-6.7-1.1z"/><path fill="#8badad" d="M1274.5 434.4l6.7 1.1v-40.7l-6.7-1.1z"/><path fill="#c4f5f5" d="M1281.2 435.5l2.4-2.9v-40.7l-2.4 2.9z"/><path fill="#abd6d6" d="M1274.5 393.7l6.7 1.1l2.4-2.9l-6.7-1z"/><path fill="#008bad" d="M1291.1 437l6.7 1.1v-37l-6.7-1.1z"/><path fill="#00c4f5" d="M1297.8 438.1l2.4-2.8v-37l-2.4 2.8z"/><path fill="#00abd6" d="M1291.1 400l6.7 1.1l2.4-2.8l-6.6-1.1z"/><path fill="#0000ad" d="M1307.7 439.7l6.7 1v-33.3l-6.7-1.1z"/><path fill="#0000f5" d="M1314.4 440.7l2.4-2.8v-33.3l-2.4 2.8z"/><path fill="#0000d6" d="M1307.7 406.3l6.7 1.1l2.4-2.8l-6.6-1.1z"/><path fill="#005757" d="M1324.3 442.3l6.7 1v-29.3l-6.7-1z"/><path fill="#007b7b" d="M1331 443.3l2.4-2.8v-29.3l-2.4 2.8z"/><path fill="#006c6c" d="M1324.3 413l6.7 1l2.4-2.8l-6.6-1z"/><path fill="#570000" d="M1340.9 444.9l6.7 1v-25.2l-6.7-1.1z"/><path fill="#7b0000" d="M1347.6 445.9l2.4-2.8v-25.2l-2.4 2.8z"/><path fill="#6c0000" d="M1340.9 419.6l6.7 1.1l2.4-2.8l-6.6-1.1z"/><path fill="#570057" d="M1357.5 447.5l6.7 1.1v-22.9l-6.7-1.1z"/><path fill="#7b007b" d="M1364.2 448.6l2.4-2.9v-22.9l-2.4 2.9z"/><path fill="#6c006c" d="M1357.5 424.6l6.7 1.1l2.4-2.9l-6.6-1z"/><path fill="#00adad" d="M1374.1 450.1l6.7 1.1v-19.2l-6.7-1.1z"/><path fill="#00f5f5" d="M1380.8 451.2l2.4-2.8v-19.2l-2.4 2.8z"/><path fill="#00d6d6" d="M1374.1 430.9l6.7 1.1l2.4-2.8l-6.6-1.1z"/><path fill="#adad00" d="M1390.7 452.8l6.7 1v-13.1l-6.7-1.1z"/><path fill="#f5f500" d="M1397.4 453.8l2.4-2.8v-13.2l-2.4 2.9z"/><path fill="#d6d600" d="M1390.7 439.6l6.7 1.1l2.4-2.9l-6.6-1z"/><path fill="#ad00ad" d="M1407.3 455.4l6.7 1v-9.4l-6.7-1.1z"/><path fill="#f500f5" d="M1414 456.4l2.4-2.8v-9.4l-2.4 2.8z"/><path fill="#d600d6" d="M1407.3 445.9l6.7 1.1l2.4-2.8l-6.6-1.1z"/><path fill="#000057" d="M1423.9 458l6.7 1v-5l-6.7-1.1z"/><path fill="#00007b" d="M1430.6 459l2.4-2.8v-5l-2.4 2.8z"/><path fill="#00006c" d="M1423.9 452.9l6.7 1.1l2.4-2.8l-6.6-1.1z"/><path fill="#8b8bad" d="M1440.5 460.6l6.7 1.1v-11.2l-6.7-1z"/><path fill="#c4c4f5" d="M1447.2 461.7l2.4-2.9v-11.1l-2.4 2.8z"/><path fill="#ababd6" d="M1440.5 449.5l6.7 1l2.4-2.8l-6.6-1z"/><path fill="#00458b" d="M1457.1 463.2l6.7 1.1v-8.8l-6.7-1z"/><path fill="#0062c4" d="M1463.8 464.3l2.4-2.8v-8.8l-2.4 2.8z"/><path fill="#0056ab" d="M1457.1 454.5l6.7 1l2.4-2.8l-6.6-1.1z"/><path fill="#ad5757" d="M1473.7 465.9l6.7 1v-13.2l-6.7-1z"/><path fill="#f57b7b" d="M1480.4 466.9l2.4-2.8v-13.2l-2.4 2.8z"/><path fill="#d66c6c" d="M1473.7 452.7l6.7 1l2.4-2.8l-6.6-1z"/><path fill="#450045" d="M1490.3 468.5l6.7 1v-17.9l-6.7-1z"/><path fill="#620062" d="M1497 469.5l2.4-2.8v-17.9l-2.4 2.8z"/><path fill="#560056" d="M1490.3 450.6l6.7 1l2.4-2.8l-6.6-1z"/><path fill="#8badad" d="M1506.9 471.1l6.7 1v-22.9l-6.7-1.1z"/><path fill="#c4f5f5" d="M1513.6 472.1l2.4-2.8v-22.9l-2.4 2.8z"/><path fill="#abd6d6" d="M1506.9 448.1l6.7 1.1l2.4-2.8l-6.6-1.1z"/><path fill="#adad8b" d="M1523.5 473.7l6.7 1.1v-31.1l-6.6-1.1z"/><path fill="#f5f5c4" d="M1530.2 474.8l2.4-2.9v-31l-2.4 2.8z"/><path fill="#d6d6ab" d="M1523.6 442.6l6.6 1.1l2.4-2.8l-6.6-1.1z"/><path fill="#682345" d="M1540.1 476.3l6.7 1.1v-30.4l-6.6-1.1z"/><path fill="#933162" d="M1546.8 477.4l2.4-2.8v-30.4l-2.4 2.8z"/><path fill="#812b56" d="M1540.2 445.9l6.6 1.1l2.4-2.8l-6.6-1.1z"/><path fill="#6868ad" d="M1556.7 479l6.7 1v-26.7l-6.6-1z"/><path fill="#9393f5" d="M1563.4 480l2.4-2.8v-26.7l-2.4 2.8z"/><path fill="#8181d6" d="M1556.8 452.3l6.6 1l2.4-2.8l-6.6-1.1z"/><path fill="#688bad" d="M1218.7 433.6l6.6 1.1v-50.1l-6.6-1.1z"/><path fill="#93c4f5" d="M1225.3 434.7l2.4-2.9v-50l-2.4 2.8z"/><path fill="#81abd6" d="M1218.7 383.5l6.6 1.1l2.4-2.8l-6.6-1.1z"/><path fill="#adad68" d="M1235.3 436.2l6.6 1.1v-46.1l-6.6-1z"/><path fill="#f5f593" d="M1241.9 437.3l2.4-2.8v-46.1l-2.4 2.8z"/><path fill="#d6d681" d="M1235.3 390.2l6.6 1l2.4-2.8l-6.6-1z"/><path fill="#8bad8b" d="M1251.9 438.9l6.6 1v-43l-6.6-1.1z"/><path fill="#c4f5c4" d="M1258.5 439.9l2.4-2.8v-43.1l-2.4 2.9z"/><path fill="#abd6ab" d="M1251.9 395.8l6.6 1.1l2.4-2.9l-6.6-1z"/><path fill="#8badad" d="M1268.5 441.5l6.6 1v-40l-6.6-1z"/><path fill="#c4f5f5" d="M1275.1 442.5l2.4-2.8v-40l-2.4 2.8z"/><path fill="#abd6d6" d="M1268.5 401.5l6.6 1l2.4-2.8l-6.6-1.1z"/><path fill="#008bad" d="M1285.1 444.1l6.6 1v-36.3l-6.6-1z"/><path fill="#00c4f5" d="M1291.7 445.1l2.4-2.8v-36.3l-2.4 2.8z"/><path fill="#00abd6" d="M1285.1 407.8l6.6 1l2.4-2.8l-6.6-1.1z"/><path fill="#0000ad" d="M1301.7 446.7l6.6 1.1v-32.7l-6.6-1z"/><path fill="#0000f5" d="M1308.3 447.8l2.4-2.9v-32.6l-2.4 2.8z"/><path fill="#0000d6" d="M1301.7 414.1l6.6 1l2.4-2.8l-6.6-1z"/><path fill="#005757" d="M1318.3 449.3l6.6 1.1v-29.3l-6.6-1z"/><path fill="#007b7b" d="M1324.9 450.4l2.4-2.8v-29.3l-2.4 2.8z"/><path fill="#006c6c" d="M1318.3 420.1l6.6 1l2.4-2.8l-6.6-1.1z"/><path fill="#570000" d="M1334.9 452l6.6 1v-24.9l-6.6-1.1z"/><path fill="#7b0000" d="M1341.5 453l2.4-2.8v-24.9l-2.4 2.8z"/><path fill="#6c0000" d="M1334.9 427l6.6 1.1l2.4-2.8l-6.6-1.1z"/><path fill="#570057" d="M1351.5 454.6l6.6 1v-22.9l-6.6-1z"/><path fill="#7b007b" d="M1358.1 455.6l2.4-2.8v-22.9l-2.4 2.8z"/><path fill="#6c006c" d="M1351.5 431.7l6.6 1l2.4-2.8l-6.6-1z"/><path fill="#00adad" d="M1368.1 457.2l6.6 1v-19.5l-6.6-1z"/><path fill="#00f5f5" d="M1374.7 458.2l2.4-2.8v-19.5l-2.4 2.8z"/><path fill="#00d6d6" d="M1368.1 437.7l6.6 1l2.4-2.8l-6.6-1.1z"/><path fill="#adad00" d="M1384.7 459.8l6.6 1.1v-13.2l-6.6-1z"/><path fill="#f5f500" d="M1391.3 460.9l2.4-2.9v-13.1l-2.4 2.8z"/><path fill="#d6d600" d="M1384.7 446.7l6.6 1l2.4-2.8l-6.6-1z"/><path fill="#ad00ad" d="M1401.3 462.4l6.6 1.1v-6.1l-6.6-1z"/><path fill="#f500f5" d="M1407.9 463.5l2.4-2.8v-6.1l-2.4 2.8z"/><path fill="#d600d6" d="M1401.3 456.4l6.6 1l2.4-2.8l-6.6-1.1z"/><path fill="#000057" d="M1417.9 465.1l6.6 1v-2.7l-6.6-1z"/><path fill="#00007b" d="M1424.5 466.1l2.4-2.8v-2.7l-2.4 2.8z"/><path fill="#00006c" d="M1417.9 462.4l6.6 1l2.4-2.8l-6.6-1.1z"/><path fill="#8b8bad" d="M1434.5 467.7l6.6 1v-6.7l-6.6-1.1z"/><path fill="#c4c4f5" d="M1441.1 468.7l2.4-2.8v-6.7l-2.4 2.8z"/><path fill="#ababd6" d="M1434.5 460.9l6.6 1.1l2.4-2.8l-6.6-1.1z"/><path fill="#00458b" d="M1451.1 470.3l6.6 1.1v-5.8l-6.6-1z"/><path fill="#0062c4" d="M1457.7 471.4l2.4-2.9v-5.7l-2.4 2.8z"/><path fill="#0056ab" d="M1451.1 464.6l6.6 1l2.4-2.8l-6.6-1.1z"/><path fill="#ad5757" d="M1467.7 472.9l6.6 1.1v-8.5l-6.6-1z"/><path fill="#f57b7b" d="M1474.3 474l2.4-2.9v-8.4l-2.4 2.8z"/><path fill="#d66c6c" d="M1467.7 464.5l6.6 1l2.4-2.8l-6.6-1z"/><path fill="#450045" d="M1484.3 475.5l6.6 1.1v-13.5l-6.6-1.1z"/><path fill="#620062" d="M1490.9 476.6l2.4-2.8v-13.5l-2.4 2.8z"/><path fill="#560056" d="M1484.3 462l6.6 1.1l2.4-2.8l-6.6-1.1z"/><path fill="#8badad" d="M1500.9 478.2l6.6 1v-21.3l-6.6-1z"/><path fill="#c4f5f5" d="M1507.5 479.2l2.4-2.8v-21.3l-2.4 2.8z"/><path fill="#abd6d6" d="M1500.9 456.9l6.6 1l2.4-2.8l-6.6-1z"/><path fill="#adad8b" d="M1517.5 480.8l6.6 1v-30.7l-6.6-1z"/><path fill="#f5f5c4" d="M1524.1 481.8l2.4-2.8l0.1-30.7l-2.5 2.8z"/><path fill="#d6d6ab" d="M1517.5 450.1l6.6 1l2.5-2.8l-6.7-1.1z"/><path fill="#682345" d="M1534.1 483.4l6.6 1.1v-30.5l-6.6-1z"/><path fill="#933162" d="M1540.7 484.5l2.4-2.9l0.1-30.4l-2.5 2.8z"/><path fill="#812b56" d="M1534.1 453l6.6 1l2.5-2.8l-6.7-1z"/><path fill="#6868ad" d="M1550.7 486l6.6 1.1v-26.4l-6.6-1z"/><path fill="#9393f5" d="M1557.3 487.1l2.4-2.8l0.1-26.4l-2.5 2.8z"/><path fill="#8181d6" d="M1550.7 459.7l6.6 1l2.5-2.8l-6.7-1.1z"/><path fill="#688bad" d="M1212.6 440.7l6.7 1v-48.7l-6.7-1.1z"/><path fill="#93c4f5" d="M1219.3 441.7l2.4-2.8v-48.7l-2.4 2.8z"/><path fill="#81abd6" d="M1212.6 391.9l6.7 1.1l2.4-2.8l-6.7-1.1z"/><path fill="#adad68" d="M1229.2 443.3l6.7 1v-44.7l-6.7-1z"/><path fill="#f5f593" d="M1235.9 444.3l2.4-2.8v-44.7l-2.4 2.8z"/><path fill="#d6d681" d="M1229.2 398.6l6.7 1l2.4-2.8l-6.7-1z"/><path fill="#8bad8b" d="M1245.8 445.9l6.7 1.1v-42.1l-6.7-1z"/><path fill="#c4f5c4" d="M1252.5 447l2.4-2.9v-42l-2.4 2.8z"/><path fill="#abd6ab" d="M1245.8 403.9l6.7 1l2.4-2.8l-6.7-1z"/><path fill="#8badad" d="M1262.4 448.5l6.7 1.1v-39.4l-6.7-1z"/><path fill="#c4f5f5" d="M1269.1 449.6l2.4-2.8v-39.4l-2.4 2.8z"/><path fill="#abd6d6" d="M1262.4 409.2l6.7 1l2.4-2.8l-6.7-1z"/><path fill="#008bad" d="M1279 451.2l6.7 1v-35.7l-6.7-1z"/><path fill="#00c4f5" d="M1285.7 452.2l2.4-2.8v-35.7l-2.4 2.8z"/><path fill="#00abd6" d="M1279 415.5l6.7 1l2.4-2.8l-6.7-1z"/><path fill="#0000ad" d="M1295.6 453.8l6.7 1v-31.9l-6.7-1.1z"/><path fill="#0000f5" d="M1302.3 454.8l2.4-2.8v-32l-2.4 2.9z"/><path fill="#0000d6" d="M1295.6 421.8l6.7 1.1l2.4-2.9l-6.7-1z"/><path fill="#005757" d="M1312.2 456.4l6.7 1v-29.6l-6.7-1z"/><path fill="#007b7b" d="M1318.9 457.4l2.4-2.8v-29.6l-2.4 2.8z"/><path fill="#006c6c" d="M1312.2 426.8l6.7 1l2.4-2.8l-6.7-1z"/><path fill="#570000" d="M1328.8 459l6.7 1.1v-26.3l-6.7-1z"/><path fill="#7b0000" d="M1335.5 460.1l2.4-2.9v-26.2l-2.4 2.8z"/><path fill="#6c0000" d="M1328.8 432.8l6.7 1l2.4-2.8l-6.7-1.1z"/><path fill="#570057" d="M1345.4 461.6l6.7 1.1v-25.3l-6.7-1z"/><path fill="#7b007b" d="M1352.1 462.7l2.4-2.8v-25.3l-2.4 2.8z"/><path fill="#6c006c" d="M1345.4 436.4l6.7 1l2.4-2.8l-6.7-1z"/><path fill="#00adad" d="M1362 464.3l6.7 1v-21.9l-6.7-1z"/><path fill="#00f5f5" d="M1368.7 465.3l2.4-2.8v-21.9l-2.4 2.8z"/><path fill="#00d6d6" d="M1362 442.4l6.7 1l2.4-2.8l-6.7-1.1z"/><path fill="#adad00" d="M1378.6 466.9l6.7 1v-14.5l-6.7-1z"/><path fill="#f5f500" d="M1385.3 467.9l2.4-2.8v-14.5l-2.4 2.8z"/><path fill="#d6d600" d="M1378.6 452.4l6.7 1l2.4-2.8l-6.7-1z"/><path fill="#ad00ad" d="M1395.2 469.5l6.7 1.1v-6.1l-6.7-1.1z"/><path fill="#f500f5" d="M1401.9 470.6l2.4-2.9v-6l-2.4 2.8z"/><path fill="#d600d6" d="M1395.2 463.4l6.7 1.1l2.4-2.8l-6.7-1.1z"/><path fill="#000057" d="M1411.8 472.1l6.7 1.1v-4.1l-6.7-1z"/><path fill="#00007b" d="M1418.5 473.2l2.4-2.8v-4.1l-2.4 2.8z"/><path fill="#00006c" d="M1411.8 468.1l6.7 1l2.4-2.8l-6.7-1z"/><path fill="#8b8bad" d="M1428.4 474.8l6.7 1v-2.7l-6.7-1z"/><path fill="#c4c4f5" d="M1435.1 475.8l2.4-2.8v-2.7l-2.4 2.8z"/><path fill="#ababd6" d="M1428.4 472.1l6.7 1l2.4-2.8l-6.7-1.1z"/><path fill="#00458b" d="M1445 477.4l6.6 1l0.1-3.3l-6.7-1.1z"/><path fill="#0062c4" d="M1451.6 478.4l2.5-2.8v-3.4l-2.4 2.9z"/><path fill="#0056ab" d="M1445 474l6.7 1.1l2.4-2.9l-6.7-1z"/><path fill="#ad5757" d="M1461.6 480l6.6 1v-5.7l-6.6-1z"/><path fill="#f57b7b" d="M1468.2 481l2.5-2.8v-5.7l-2.5 2.8z"/><path fill="#d66c6c" d="M1461.6 474.3l6.6 1l2.5-2.8l-6.7-1.1z"/><path fill="#450045" d="M1478.2 482.6l6.6 1.1v-10.8l-6.6-1.1z"/><path fill="#620062" d="M1484.8 483.7l2.5-2.9v-10.8l-2.5 2.9z"/><path fill="#560056" d="M1478.2 471.8l6.6 1.1l2.5-2.9l-6.7-1z"/><path fill="#8badad" d="M1494.8 485.2l6.6 1.1l0.1-18.6l-6.7-1z"/><path fill="#c4f5f5" d="M1501.4 486.3l2.5-2.8v-18.6l-2.4 2.8z"/><path fill="#abd6d6" d="M1494.8 466.7l6.7 1l2.4-2.8l-6.7-1.1z"/><path fill="#adad8b" d="M1511.4 487.9l6.6 1l0.1-29.7l-6.7-1.1z"/><path fill="#f5f5c4" d="M1518 488.9l2.5-2.8v-29.7l-2.4 2.8z"/><path fill="#d6d6ab" d="M1511.4 458.1l6.7 1.1l2.4-2.8l-6.7-1.1z"/><path fill="#682345" d="M1528 490.5l6.6 1l0.1-29.7l-6.7-1z"/><path fill="#933162" d="M1534.6 491.5l2.5-2.8v-29.7l-2.4 2.8z"/><path fill="#812b56" d="M1528 460.8l6.7 1l2.4-2.8l-6.7-1.1z"/><path fill="#6868ad" d="M1544.6 493.1l6.6 1.1l0.1-27.8l-6.7-1z"/><path fill="#9393f5" d="M1551.2 494.2l2.5-2.9v-27.7l-2.4 2.8z"/><path fill="#8181d6" d="M1544.6 465.4l6.7 1l2.4-2.8l-6.7-1z"/><path fill="#688bad" d="M1206.6 447.7l6.6 1.1v-47.1l-6.6-1z"/><path fill="#93c4f5" d="M1213.2 448.8l2.4-2.8v-47.1l-2.4 2.8z"/><path fill="#81abd6" d="M1206.6 400.7l6.6 1l2.4-2.8l-6.6-1z"/><path fill="#adad68" d="M1223.2 450.3l6.6 1.1v-43.4l-6.6-1z"/><path fill="#f5f593" d="M1229.8 451.4l2.4-2.8v-43.4l-2.4 2.8z"/><path fill="#d6d681" d="M1223.2 407l6.6 1l2.4-2.8l-6.6-1z"/><path fill="#8bad8b" d="M1239.8 453l6.6 1v-40.7l-6.6-1z"/><path fill="#c4f5c4" d="M1246.4 454l2.4-2.8v-40.7l-2.4 2.8z"/><path fill="#abd6ab" d="M1239.8 412.3l6.6 1l2.4-2.8l-6.6-1z"/><path fill="#8badad" d="M1256.4 455.6l6.6 1v-38.3l-6.6-1z"/><path fill="#c4f5f5" d="M1263 456.6l2.4-2.8v-38.3l-2.4 2.8z"/><path fill="#abd6d6" d="M1256.4 417.3l6.6 1l2.4-2.8l-6.6-1.1z"/><path fill="#008bad" d="M1273 458.2l6.6 1.1v-35l-6.6-1.1z"/><path fill="#00c4f5" d="M1279.6 459.3l2.4-2.9v-34.9l-2.4 2.8z"/><path fill="#00abd6" d="M1273 423.2l6.6 1.1l2.4-2.8l-6.6-1.1z"/><path fill="#0000ad" d="M1289.6 460.8l6.6 1.1v-31.6l-6.6-1.1z"/><path fill="#0000f5" d="M1296.2 461.9l2.4-2.8v-31.7l-2.4 2.9z"/><path fill="#0000d6" d="M1289.6 429.2l6.6 1.1l2.4-2.9l-6.6-1z"/><path fill="#005757" d="M1306.2 463.5l6.6 1v-29.9l-6.6-1.1z"/><path fill="#007b7b" d="M1312.8 464.5l2.4-2.8v-30l-2.4 2.9z"/><path fill="#006c6c" d="M1306.2 433.5l6.6 1.1l2.4-2.9l-6.6-1z"/><path fill="#570000" d="M1322.8 466.1l6.6 1v-28.6l-6.6-1z"/><path fill="#7b0000" d="M1329.4 467.1l2.4-2.8v-28.6l-2.4 2.8z"/><path fill="#6c0000" d="M1322.8 437.5l6.6 1l2.4-2.8l-6.6-1.1z"/><path fill="#570057" d="M1339.4 468.7l6.6 1.1v-28.7l-6.6-1z"/><path fill="#7b007b" d="M1346 469.8l2.4-2.9v-28.6l-2.4 2.8z"/><path fill="#6c006c" d="M1339.4 440.1l6.6 1l2.4-2.8l-6.6-1z"/><path fill="#00adad" d="M1356 471.3l6.6 1.1v-24.3l-6.6-1z"/><path fill="#00f5f5" d="M1362.6 472.4l2.4-2.8v-24.3l-2.4 2.8z"/><path fill="#00d6d6" d="M1356 447.1l6.6 1l2.4-2.8l-6.6-1.1z"/><path fill="#adad00" d="M1372.6 474l6.6 1v-16.2l-6.6-1z"/><path fill="#f5f500" d="M1379.2 475l2.4-2.8v-16.2l-2.4 2.8z"/><path fill="#d6d600" d="M1372.6 457.8l6.6 1l2.4-2.8l-6.6-1z"/><path fill="#ad00ad" d="M1389.2 476.6l6.6 1v-8.1l-6.6-1z"/><path fill="#f500f5" d="M1395.8 477.6l2.4-2.8v-8.1l-2.4 2.8z"/><path fill="#d600d6" d="M1389.2 468.5l6.6 1l2.4-2.8l-6.6-1z"/><path fill="#000057" d="M1405.8 479.2l6.6 1.1v-6.8l-6.6-1z"/><path fill="#00007b" d="M1412.4 480.3l2.4-2.9v-6.7l-2.4 2.8z"/><path fill="#00006c" d="M1405.8 472.5l6.6 1l2.4-2.8l-6.6-1.1z"/><path fill="#8b8bad" d="M1422.3 481.8l6.7 1.1v-2.4l-6.7-1z"/><path fill="#c4c4f5" d="M1429 482.9l2.4-2.9v-2.3l-2.4 2.8z"/><path fill="#ababd6" d="M1422.3 479.5l6.7 1l2.4-2.8l-6.6-1.1z"/><path fill="#00458b" d="M1438.9 484.4l6.7 1.1v-2.4l-6.7-1z"/><path fill="#0062c4" d="M1445.6 485.5l2.4-2.8v-2.4l-2.4 2.8z"/><path fill="#0056ab" d="M1438.9 482.1l6.7 1l2.4-2.8l-6.6-1z"/><path fill="#ad5757" d="M1455.5 487.1l6.7 1v-5.7l-6.7-1.1z"/><path fill="#f57b7b" d="M1462.2 488.1l2.4-2.8v-5.7l-2.4 2.8z"/><path fill="#d66c6c" d="M1455.5 481.3l6.7 1.1l2.4-2.8l-6.6-1.1z"/><path fill="#450045" d="M1472.1 489.7l6.7 1v-9.4l-6.7-1.1z"/><path fill="#620062" d="M1478.8 490.7l2.4-2.8v-9.4l-2.4 2.8z"/><path fill="#560056" d="M1472.1 480.2l6.7 1.1l2.4-2.8l-6.6-1.1z"/><path fill="#8badad" d="M1488.7 492.3l6.7 1.1v-16.9l-6.7-1.1z"/><path fill="#c4f5f5" d="M1495.4 493.4l2.4-2.9v-16.9l-2.4 2.9z"/><path fill="#abd6d6" d="M1488.7 475.4l6.7 1.1l2.4-2.9l-6.6-1z"/><path fill="#adad8b" d="M1505.3 494.9l6.7 1.1v-28.7l-6.7-1.1z"/><path fill="#f5f5c4" d="M1512 496l2.4-2.8v-28.8l-2.4 2.9z"/><path fill="#d6d6ab" d="M1505.3 466.2l6.7 1.1l2.4-2.9l-6.6-1z"/><path fill="#682345" d="M1521.9 497.6l6.7 1v-28.7l-6.7-1.1z"/><path fill="#933162" d="M1528.6 498.6l2.4-2.8v-28.7l-2.4 2.8z"/><path fill="#812b56" d="M1521.9 468.8l6.7 1.1l2.4-2.8l-6.6-1.1z"/><path fill="#6868ad" d="M1538.5 500.2l6.7 1v-17.9l-6.7-1z"/><path fill="#9393f5" d="M1545.2 501.2l2.4-2.8v-17.9l-2.4 2.8z"/><path fill="#8181d6" d="M1538.5 482.3l6.7 1l2.4-2.8l-6.6-1.1z"/><path fill="#688bad" d="M1200.5 454.8l6.7 1v-45l-6.7-1z"/><path fill="#93c4f5" d="M1207.2 455.8l2.4-2.8v-45l-2.4 2.8z"/><path fill="#81abd6" d="M1200.5 409.8l6.7 1l2.4-2.8l-6.6-1.1z"/><path fill="#adad68" d="M1217.1 457.4l6.7 1.1v-41.7l-6.7-1.1z"/><path fill="#f5f593" d="M1223.8 458.5l2.4-2.9v-41.6l-2.4 2.8z"/><path fill="#d6d681" d="M1217.1 415.7l6.7 1.1l2.4-2.8l-6.7-1.1z"/><path fill="#8bad8b" d="M1233.7 460l6.7 1.1v-39.4l-6.7-1z"/><path fill="#c4f5c4" d="M1240.4 461.1l2.4-2.8v-39.4l-2.4 2.8z"/><path fill="#abd6ab" d="M1233.7 420.7l6.7 1l2.4-2.8l-6.7-1z"/><path fill="#8badad" d="M1250.3 462.7l6.7 1v-37.3l-6.7-1.1z"/><path fill="#c4f5f5" d="M1257 463.7l2.4-2.8v-37.4l-2.4 2.9z"/><path fill="#abd6d6" d="M1250.3 425.3l6.7 1.1l2.4-2.9l-6.7-1z"/><path fill="#008bad" d="M1266.9 465.3l6.7 1v-34.3l-6.7-1z"/><path fill="#00c4f5" d="M1273.6 466.3l2.4-2.8v-34.3l-2.4 2.8z"/><path fill="#00abd6" d="M1266.9 431l6.7 1l2.4-2.8l-6.7-1.1z"/><path fill="#0000ad" d="M1283.5 467.9l6.7 1.1v-31.3l-6.7-1.1z"/><path fill="#0000f5" d="M1290.2 469l2.4-2.9v-31.3l-2.4 2.9z"/><path fill="#0000d6" d="M1283.5 436.6l6.7 1.1l2.4-2.9l-6.7-1z"/><path fill="#005757" d="M1300.1 470.5l6.6 1.1l0.1-30.3l-6.7-1.1z"/><path fill="#007b7b" d="M1306.7 471.6l2.5-2.8v-30.3l-2.4 2.8z"/><path fill="#006c6c" d="M1300.1 440.2l6.7 1.1l2.4-2.8l-6.7-1.1z"/><path fill="#570000" d="M1316.7 473.2l6.6 1v-30.3l-6.6-1.1z"/><path fill="#7b0000" d="M1323.3 474.2l2.5-2.8v-30.3l-2.5 2.8z"/><path fill="#6c0000" d="M1316.7 442.8l6.6 1.1l2.5-2.8l-6.7-1.1z"/><path fill="#570057" d="M1333.3 475.8l6.6 1v-31l-6.6-1z"/><path fill="#7b007b" d="M1339.9 476.8l2.5-2.8v-31l-2.5 2.8z"/><path fill="#6c006c" d="M1333.3 444.8l6.6 1l2.5-2.8l-6.7-1z"/><path fill="#00adad" d="M1349.9 478.4l6.6 1v-26.2l-6.6-1.1z"/><path fill="#00f5f5" d="M1356.5 479.4l2.5-2.8v-26.3l-2.5 2.9z"/><path fill="#00d6d6" d="M1349.9 452.1l6.6 1.1l2.5-2.9l-6.7-1z"/><path fill="#adad00" d="M1366.5 481l6.6 1.1v-18.6l-6.6-1z"/><path fill="#f5f500" d="M1373.1 482.1l2.5-2.9v-18.5l-2.5 2.8z"/><path fill="#d6d600" d="M1366.5 462.5l6.6 1l2.5-2.8l-6.7-1z"/><path fill="#ad00ad" d="M1383.1 483.6l6.6 1.1v-12.1l-6.6-1.1z"/><path fill="#f500f5" d="M1389.7 484.7l2.5-2.8v-12.2l-2.5 2.9z"/><path fill="#d600d6" d="M1383.1 471.5l6.6 1.1l2.5-2.9l-6.7-1z"/><path fill="#000057" d="M1399.7 486.3l6.6 1v-9.8l-6.6-1z"/><path fill="#00007b" d="M1406.3 487.3l2.5-2.8v-9.8l-2.5 2.8z"/><path fill="#00006c" d="M1399.7 476.5l6.6 1l2.5-2.8l-6.7-1z"/><path fill="#8b8bad" d="M1416.3 488.9l6.6 1v-4.3l-6.6-1.1z"/><path fill="#c4c4f5" d="M1422.9 489.9l2.4-2.8l0.1-4.4l-2.5 2.9z"/><path fill="#ababd6" d="M1416.3 484.5l6.6 1.1l2.5-2.9l-6.7-1z"/><path fill="#00458b" d="M1432.9 491.5l6.6 1.1v-3.4l-6.6-1.1z"/><path fill="#0062c4" d="M1439.5 492.6l2.4-2.9v-3.3l-2.4 2.8z"/><path fill="#0056ab" d="M1432.9 488.1l6.6 1.1l2.4-2.8l-6.6-1.1z"/><path fill="#ad5757" d="M1449.5 494.1l6.6 1.1v-10.1l-6.6-1.1z"/><path fill="#f57b7b" d="M1456.1 495.2l2.4-2.8v-10.2l-2.4 2.9z"/><path fill="#d66c6c" d="M1449.5 484l6.6 1.1l2.4-2.9l-6.6-1z"/><path fill="#450045" d="M1466.1 496.8l6.6 1v-11.1l-6.6-1.1z"/><path fill="#620062" d="M1472.7 497.8l2.4-2.8v-11.2l-2.4 2.9z"/><path fill="#560056" d="M1466.1 485.6l6.6 1.1l2.4-2.9l-6.6-1z"/><path fill="#8badad" d="M1482.7 499.4l6.6 1v-19.2l-6.6-1.1z"/><path fill="#c4f5f5" d="M1489.3 500.4l2.4-2.8v-19.2l-2.4 2.8z"/><path fill="#abd6d6" d="M1482.7 480.1l6.6 1.1l2.4-2.8l-6.6-1.1z"/><path fill="#adad8b" d="M1499.3 502l6.6 1.1v-28.4l-6.6-1.1z"/><path fill="#f5f5c4" d="M1505.9 503.1l2.4-2.9v-28.4l-2.4 2.9z"/><path fill="#d6d6ab" d="M1499.3 473.6l6.6 1.1l2.4-2.9l-6.6-1z"/><path fill="#682345" d="M1515.9 504.6l6.6 1.1v-22l-6.6-1z"/><path fill="#933162" d="M1522.5 505.7l2.4-2.8v-22l-2.4 2.8z"/><path fill="#812b56" d="M1515.9 482.7l6.6 1l2.4-2.8l-6.6-1.1z"/><path class="z" fill="#8181d6" d="M1532.5 507.3l6.6 1l2.4-2.8l-6.6-1.1z"/><path fill="#688bad" d="M1194.5 461.8l6.6 1.1v-42.7l-6.6-1z"/><path fill="#93c4f5" d="M1201.1 462.9l2.4-2.8v-42.7l-2.4 2.8z"/><path fill="#81abd6" d="M1194.5 419.2l6.6 1l2.4-2.8l-6.6-1.1z"/><path fill="#adad68" d="M1211.1 464.5l6.6 1v-40l-6.6-1z"/><path fill="#f5f593" d="M1217.7 465.5l2.4-2.8v-40l-2.4 2.8z"/><path fill="#d6d681" d="M1211.1 424.5l6.6 1l2.4-2.8l-6.6-1.1z"/><path fill="#8bad8b" d="M1227.7 467.1l6.6 1v-38l-6.6-1z"/><path fill="#c4f5c4" d="M1234.3 468.1l2.4-2.8v-38l-2.4 2.8z"/><path fill="#abd6ab" d="M1227.7 429.1l6.6 1l2.4-2.8l-6.6-1z"/><path fill="#8badad" d="M1244.3 469.7l6.6 1.1v-36.4l-6.6-1z"/><path fill="#c4f5f5" d="M1250.9 470.8l2.4-2.9v-36.3l-2.4 2.8z"/><path fill="#abd6d6" d="M1244.3 433.4l6.6 1l2.4-2.8l-6.6-1z"/><path fill="#008bad" d="M1260.9 472.3l6.6 1.1v-33.7l-6.6-1z"/><path fill="#00c4f5" d="M1267.5 473.4l2.4-2.8v-33.7l-2.4 2.8z"/><path fill="#00abd6" d="M1260.9 438.7l6.6 1l2.4-2.8l-6.6-1z"/><path fill="#0000ad" d="M1277.5 475l6.6 1v-30.9l-6.6-1.1z"/><path fill="#0000f5" d="M1284.1 476l2.4-2.8v-31l-2.4 2.9z"/><path fill="#0000d6" d="M1277.5 444l6.6 1.1l2.4-2.9l-6.6-1z"/><path fill="#005757" d="M1294.1 477.6l6.6 1v-30.3l-6.6-1z"/><path fill="#007b7b" d="M1300.7 478.6l2.4-2.8v-30.3l-2.4 2.8z"/><path fill="#006c6c" d="M1294.1 447.3l6.6 1l2.4-2.8l-6.6-1z"/><path fill="#570000" d="M1310.7 480.2l6.6 1.1v-31l-6.6-1.1z"/><path fill="#7b0000" d="M1317.3 481.3l2.4-2.9v-30.9l-2.4 2.8z"/><path fill="#6c0000" d="M1310.7 449.2l6.6 1.1l2.4-2.8l-6.6-1.1z"/><path fill="#570057" d="M1327.2 482.8l6.7 1.1v-32l-6.7-1.1z"/><path fill="#7b007b" d="M1333.9 483.9l2.4-2.8v-32l-2.4 2.8z"/><path fill="#6c006c" d="M1327.2 450.8l6.7 1.1l2.4-2.8l-6.6-1.1z"/><path fill="#00adad" d="M1343.8 485.5l6.7 1v-27.6l-6.7-1.1z"/><path fill="#00f5f5" d="M1350.5 486.5l2.4-2.8v-27.6l-2.4 2.8z"/><path fill="#00d6d6" d="M1343.8 457.8l6.7 1.1l2.4-2.8l-6.6-1.1z"/><path fill="#adad00" d="M1360.4 488.1l6.7 1v-22.2l-6.7-1.1z"/><path fill="#f5f500" d="M1367.1 489.1l2.4-2.8v-22.2l-2.4 2.8z"/><path fill="#d6d600" d="M1360.4 465.8l6.7 1.1l2.4-2.8l-6.6-1.1z"/><path fill="#ad00ad" d="M1377 490.7l6.7 1.1v-16.9l-6.7-1z"/><path fill="#f500f5" d="M1383.7 491.8l2.4-2.9v-16.8l-2.4 2.8z"/><path fill="#d600d6" d="M1377 473.9l6.7 1l2.4-2.8l-6.6-1.1z"/><path fill="#000057" d="M1393.6 493.3l6.7 1.1v-13.8l-6.7-1.1z"/><path fill="#00007b" d="M1400.3 494.4l2.4-2.8v-13.9l-2.4 2.9z"/><path fill="#00006c" d="M1393.6 479.5l6.7 1.1l2.4-2.9l-6.6-1z"/><path fill="#8b8bad" d="M1410.2 496l6.7 1v-10.8l-6.7-1z"/><path fill="#c4c4f5" d="M1416.9 497l2.4-2.8v-10.8l-2.4 2.8z"/><path fill="#ababd6" d="M1410.2 485.2l6.7 1l2.4-2.8l-6.7-1.1z"/><path fill="#00458b" d="M1426.8 498.6l6.7 1v-6.7l-6.7-1.1z"/><path fill="#0062c4" d="M1433.5 499.6l2.4-2.8v-6.7l-2.4 2.8z"/><path fill="#0056ab" d="M1426.8 491.8l6.7 1.1l2.4-2.8l-6.7-1.1z"/><path fill="#ad5757" d="M1443.4 501.2l6.7 1.1v-16.9l-6.7-1.1z"/><path fill="#f57b7b" d="M1450.1 502.3l2.4-2.9v-16.8l-2.4 2.8z"/><path fill="#d66c6c" d="M1443.4 484.3l6.7 1.1l2.4-2.8l-6.7-1.1z"/><path fill="#450045" d="M1460 503.8l6.6 1.1v-18.3l-6.6-1z"/><path fill="#620062" d="M1466.6 504.9l2.5-2.8v-18.3l-2.5 2.8z"/><path fill="#560056" d="M1460 485.6l6.6 1l2.5-2.8l-6.7-1z"/><path fill="#8badad" d="M1476.6 506.5l6.6 1v-34.1l-6.6-1.1z"/><path fill="#c4f5f5" d="M1483.2 507.5l2.5-2.8v-34.1l-2.5 2.8z"/><path fill="#abd6d6" d="M1476.6 472.3l6.6 1.1l2.5-2.8l-6.7-1.1z"/><path fill="#adad8b" d="M1493.2 509.1l6.6 1v-50.7l-6.6-1z"/><path fill="#f5f5c4" d="M1499.8 510.1l2.5-2.8v-50.7l-2.5 2.8z"/><path fill="#d6d6ab" d="M1493.2 458.4l6.6 1l2.5-2.8l-6.7-1z"/><path fill="#682345" d="M1509.8 511.7l6.6 1.1l0.1-140.4l-6.7-1z"/><path fill="#933162" d="M1516.4 512.8l2.5-2.9v-140.3l-2.4 2.8z"/><path fill="#812b56" d="M1509.8 371.4l6.7 1l2.4-2.8l-6.7-1z"/><path fill="#6868ad" d="M1526.4 514.3l6.6 1.1l0.1-204.6l-6.7-1.1z"/><path fill="#9393f5" d="M1533 515.4l2.5-2.8v-204.7l-2.4 2.9z"/><path fill="#8181d6" d="M1526.4 309.7l6.7 1.1l2.4-2.9l-6.6-1z"/><path fill="#688bad" d="M1188.4 468.9l6.7 1v-40.3l-6.7-1z"/><path fill="#93c4f5" d="M1195.1 469.9l2.4-2.8v-40.3l-2.4 2.8z"/><path fill="#81abd6" d="M1188.4 428.6l6.7 1l2.4-2.8l-6.6-1z"/><path fill="#adad68" d="M1205 471.5l6.7 1.1v-38l-6.7-1.1z"/><path fill="#f5f593" d="M1211.7 472.6l2.4-2.8v-38l-2.4 2.8z"/><path fill="#d6d681" d="M1205 433.5l6.7 1.1l2.4-2.8l-6.7-1.1z"/><path fill="#8bad8b" d="M1221.6 474.2l6.7 1v-36.3l-6.7-1.1z"/><path fill="#c4f5c4" d="M1228.3 475.2l2.4-2.8v-36.3l-2.4 2.8z"/><path fill="#abd6ab" d="M1221.6 437.8l6.7 1.1l2.4-2.8l-6.7-1.1z"/><path fill="#8badad" d="M1238.2 476.8l6.7 1v-35l-6.7-1z"/><path fill="#c4f5f5" d="M1244.9 477.8l2.4-2.8v-35l-2.4 2.8z"/><path fill="#abd6d6" d="M1238.2 441.8l6.7 1l2.4-2.8l-6.7-1z"/><path fill="#008bad" d="M1254.8 479.4l6.6 1.1l0.1-33l-6.7-1.1z"/><path fill="#00c4f5" d="M1261.4 480.5l2.5-2.9v-32.9l-2.4 2.8z"/><path fill="#00abd6" d="M1254.8 446.4l6.7 1.1l2.4-2.8l-6.7-1.1z"/><path fill="#0000ad" d="M1271.4 482l6.6 1.1v-30.7l-6.6-1z"/><path fill="#0000f5" d="M1278 483.1l2.5-2.8v-30.7l-2.5 2.8z"/><path fill="#0000d6" d="M1271.4 451.4l6.6 1l2.5-2.8l-6.7-1z"/><path fill="#005757" d="M1288 484.7l6.6 1v-30.3l-6.6-1z"/><path fill="#007b7b" d="M1294.6 485.7l2.5-2.8v-30.3l-2.5 2.8z"/><path fill="#006c6c" d="M1288 454.4l6.6 1l2.5-2.8l-6.7-1.1z"/><path fill="#570000" d="M1304.6 487.3l6.6 1v-31l-6.6-1z"/><path fill="#7b0000" d="M1311.2 488.3l2.5-2.8v-31l-2.5 2.8z"/><path fill="#6c0000" d="M1304.6 456.3l6.6 1l2.5-2.8l-6.7-1z"/><path fill="#570057" d="M1321.2 489.9l6.6 1.1v-31.7l-6.6-1.1z"/><path fill="#7b007b" d="M1327.8 491l2.4-2.9l0.1-31.6l-2.5 2.8z"/><path fill="#6c006c" d="M1321.2 458.2l6.6 1.1l2.5-2.8l-6.7-1.1z"/><path fill="#00adad" d="M1337.8 492.5l6.6 1.1v-28.7l-6.6-1z"/><path fill="#00f5f5" d="M1344.4 493.6l2.4-2.8v-28.7l-2.4 2.8z"/><path fill="#00d6d6" d="M1337.8 463.9l6.6 1l2.4-2.8l-6.6-1z"/><path fill="#adad00" d="M1354.4 495.2l6.6 1v-26l-6.6-1z"/><path fill="#f5f500" d="M1361 496.2l2.4-2.8v-26l-2.4 2.8z"/><path fill="#d6d600" d="M1354.4 469.2l6.6 1l2.4-2.8l-6.6-1z"/><path fill="#ad00ad" d="M1371 497.8l6.6 1v-23.6l-6.6-1z"/><path fill="#f500f5" d="M1377.6 498.8l2.4-2.8v-23.6l-2.4 2.8z"/><path fill="#d600d6" d="M1371 474.2l6.6 1l2.4-2.8l-6.6-1.1z"/><path fill="#000057" d="M1387.6 500.4l6.6 1.1v-22.3l-6.6-1.1z"/><path fill="#00007b" d="M1394.2 501.5l2.4-2.9v-22.2l-2.4 2.8z"/><path fill="#00006c" d="M1387.6 478.1l6.6 1.1l2.4-2.8l-6.6-1.1z"/><path fill="#8b8bad" d="M1404.2 503l6.6 1.1v-20.3l-6.6-1z"/><path fill="#c4c4f5" d="M1410.8 504.1l2.4-2.8v-20.3l-2.4 2.8z"/><path fill="#ababd6" d="M1404.2 482.8l6.6 1l2.4-2.8l-6.6-1z"/><path fill="#00458b" d="M1420.8 505.7l6.6 1v-15.5l-6.6-1.1z"/><path fill="#0062c4" d="M1427.4 506.7l2.4-2.8v-15.5l-2.4 2.8z"/><path fill="#0056ab" d="M1420.8 490.1l6.6 1.1l2.4-2.8l-6.6-1.1z"/><path fill="#ad5757" d="M1437.3 508.3l6.7 1v-23.6l-6.6-1.1z"/><path fill="#f57b7b" d="M1444 509.3l2.4-2.8v-23.6l-2.4 2.8z"/><path fill="#d66c6c" d="M1437.4 484.6l6.6 1.1l2.4-2.8l-6.6-1.1z"/><path fill="#450045" d="M1453.9 510.9l6.7 1.1v-35.2l-6.7-1z"/><path fill="#620062" d="M1460.6 512l2.4-2.9v-35.1l-2.4 2.8z"/><path fill="#560056" d="M1453.9 475.8l6.7 1l2.4-2.8l-6.6-1z"/><path class="z" fill="#abd6d6" d="M1470.5 513.5l6.7 1.1l2.4-2.8l-6.6-1.1z"/><path class="z" fill="#d6d6ab" d="M1487.1 516.2l6.7 1l2.4-2.8l-6.6-1.1z"/><path class="z" fill="#812b56" d="M1503.7 518.8l6.7 1l2.4-2.8l-6.6-1z"/><path class="z" fill="#8181d6" d="M1520.3 521.4l6.7 1.1l2.4-2.9l-6.7-1z"/><path fill="#688bad" d="M1182.4 476l6.6 1v-38l-6.6-1z"/><path fill="#93c4f5" d="M1189 477l2.4-2.8v-38l-2.4 2.8z"/><path fill="#81abd6" d="M1182.4 438l6.6 1l2.4-2.8l-6.6-1z"/><path fill="#adad68" d="M1199 478.6l6.6 1v-35.9l-6.6-1.1z"/><path fill="#f5f593" d="M1205.6 479.6l2.4-2.8v-36l-2.4 2.9z"/><path fill="#d6d681" d="M1199 442.6l6.6 1.1l2.4-2.9l-6.6-1z"/><path fill="#8bad8b" d="M1215.6 481.2l6.6 1.1v-34.7l-6.6-1z"/><path fill="#c4f5c4" d="M1222.2 482.3l2.4-2.9v-34.6l-2.4 2.8z"/><path fill="#abd6ab" d="M1215.6 446.6l6.6 1l2.4-2.8l-6.6-1z"/><path fill="#8badad" d="M1232.2 483.8l6.6 1.1v-33.3l-6.6-1.1z"/><path fill="#c4f5f5" d="M1238.8 484.9l2.4-2.8v-33.3l-2.4 2.8z"/><path fill="#abd6d6" d="M1232.2 450.5l6.6 1.1l2.4-2.8l-6.6-1.1z"/><path fill="#008bad" d="M1248.8 486.5l6.6 1v-32l-6.6-1z"/><path fill="#00c4f5" d="M1255.4 487.5l2.4-2.8v-32l-2.4 2.8z"/><path fill="#00abd6" d="M1248.8 454.5l6.6 1l2.4-2.8l-6.6-1z"/><path fill="#0000ad" d="M1265.4 489.1l6.6 1v-30.3l-6.6-1z"/><path fill="#0000f5" d="M1272 490.1l2.4-2.8v-30.3l-2.4 2.8z"/><path fill="#0000d6" d="M1265.4 458.8l6.6 1l2.4-2.8l-6.6-1z"/><path fill="#005757" d="M1281.9 491.7l6.7 1.1v-29.7l-6.7-1z"/><path fill="#007b7b" d="M1288.6 492.8l2.4-2.9v-29.6l-2.4 2.8z"/><path fill="#006c6c" d="M1281.9 462.1l6.7 1l2.4-2.8l-6.6-1z"/><path fill="#570000" d="M1298.5 494.3l6.7 1.1v-30.3l-6.7-1.1z"/><path fill="#7b0000" d="M1305.2 495.4l2.4-2.8v-30.3l-2.4 2.8z"/><path fill="#6c0000" d="M1298.5 464l6.7 1.1l2.4-2.8l-6.6-1.1z"/><path fill="#570057" d="M1315.1 497l6.7 1v-30.3l-6.7-1.1z"/><path fill="#7b007b" d="M1321.8 498l2.4-2.8v-30.3l-2.4 2.8z"/><path fill="#6c006c" d="M1315.1 466.6l6.7 1.1l2.4-2.8l-6.6-1.1z"/><path fill="#00adad" d="M1331.7 499.6l6.7 1v-29.3l-6.7-1z"/><path fill="#00f5f5" d="M1338.4 500.6l2.4-2.8v-29.3l-2.4 2.8z"/><path fill="#00d6d6" d="M1331.7 470.3l6.7 1l2.4-2.8l-6.7-1.1z"/><path fill="#adad00" d="M1348.3 502.2l6.7 1.1v-28.7l-6.7-1z"/><path fill="#f5f500" d="M1355 503.3l2.4-2.9v-28.6l-2.4 2.8z"/><path fill="#d6d600" d="M1348.3 473.6l6.7 1l2.4-2.8l-6.7-1.1z"/><path fill="#ad00ad" d="M1364.9 504.8l6.6 1.1l0.1-28.3l-6.7-1.1z"/><path fill="#f500f5" d="M1371.5 505.9l2.5-2.8v-28.4l-2.4 2.9z"/><path fill="#d600d6" d="M1364.9 476.5l6.7 1.1l2.4-2.9l-6.7-1z"/><path fill="#000057" d="M1381.5 507.5l6.6 1v-28l-6.6-1z"/><path fill="#00007b" d="M1388.1 508.5l2.5-2.8v-28l-2.5 2.8z"/><path fill="#00006c" d="M1381.5 479.5l6.6 1l2.5-2.8l-6.7-1.1z"/><path fill="#8b8bad" d="M1398.1 510.1l6.6 1.1v-29.8l-6.6-1z"/><path fill="#c4c4f5" d="M1404.7 511.2l2.5-2.9v-29.7l-2.5 2.8z"/><path fill="#ababd6" d="M1398.1 480.4l6.6 1l2.5-2.8l-6.7-1z"/><path fill="#00458b" d="M1414.7 512.7l6.6 1.1v-25l-6.6-1.1z"/><path fill="#0062c4" d="M1421.3 513.8l2.5-2.9v-24.9l-2.5 2.8z"/><path fill="#0056ab" d="M1414.7 487.7l6.6 1.1l2.5-2.8l-6.7-1.1z"/><path fill="#ad5757" d="M1431.3 515.4l6.6 1v-28.7l-6.6-1.1z"/><path fill="#f57b7b" d="M1437.9 516.4l2.4-2.8v-28.7l-2.4 2.8z"/><path fill="#d66c6c" d="M1431.3 486.6l6.6 1.1l2.4-2.8l-6.6-1.1z"/><path fill="#450045" d="M1447.9 518l6.6 1v-50l-6.6-1z"/><path fill="#620062" d="M1454.5 519l2.4-2.8v-50l-2.4 2.8z"/><path fill="#560056" d="M1447.9 468l6.6 1l2.4-2.8l-6.6-1z"/><path class="z" fill="#abd6d6" d="M1464.5 520.6l6.6 1.1l2.4-2.9l-6.6-1z"/><path class="z" fill="#d6d6ab" d="M1481.1 523.2l6.6 1.1l2.4-2.8l-6.6-1.1z"/><path class="z" fill="#812b56" d="M1497.7 525.9l6.6 1l2.4-2.8l-6.6-1.1z"/><path class="z" fill="#8181d6" d="M1514.2 528.5l6.7 1l2.4-2.8l-6.6-1z"/><path fill="#688bad" d="M1176.3 483l6.7 1.1v-36l-6.7-1z"/><path fill="#93c4f5" d="M1183 484.1l2.4-2.9v-35.9l-2.4 2.8z"/><path fill="#81abd6" d="M1176.3 447.1l6.7 1l2.4-2.8l-6.6-1.1z"/><path fill="#adad68" d="M1192.9 485.6l6.7 1.1v-34.3l-6.7-1z"/><path fill="#f5f593" d="M1199.6 486.7l2.4-2.8v-34.3l-2.4 2.8z"/><path fill="#d6d681" d="M1192.9 451.4l6.7 1l2.4-2.8l-6.6-1.1z"/><path fill="#8bad8b" d="M1209.5 488.3l6.7 1v-32.9l-6.7-1.1z"/><path fill="#c4f5c4" d="M1216.2 489.3l2.4-2.8v-33l-2.4 2.9z"/><path fill="#abd6ab" d="M1209.5 455.3l6.7 1.1l2.4-2.9l-6.7-1z"/><path fill="#8badad" d="M1226.1 490.9l6.7 1v-31.9l-6.7-1.1z"/><path fill="#c4f5f5" d="M1232.8 491.9l2.4-2.8v-31.9l-2.4 2.8z"/><path fill="#abd6d6" d="M1226.1 458.9l6.7 1.1l2.4-2.8l-6.7-1.1z"/><path fill="#008bad" d="M1242.7 493.5l6.6 1.1v-31l-6.6-1z"/><path fill="#00c4f5" d="M1249.3 494.6l2.5-2.9v-30.9l-2.5 2.8z"/><path fill="#00abd6" d="M1242.7 462.6l6.6 1l2.5-2.8l-6.7-1.1z"/><path fill="#0000ad" d="M1259.3 496.2l6.6 1v-29.6l-6.6-1.1z"/><path fill="#0000f5" d="M1265.9 497.2l2.5-2.8v-29.6l-2.5 2.8z"/><path fill="#0000d6" d="M1259.3 466.5l6.6 1.1l2.5-2.8l-6.7-1.1z"/><path fill="#005757" d="M1275.9 498.8l6.6 1v-28.9l-6.6-1.1z"/><path fill="#007b7b" d="M1282.5 499.8l2.5-2.8v-29l-2.5 2.9z"/><path fill="#006c6c" d="M1275.9 469.8l6.6 1.1l2.5-2.9l-6.7-1z"/><path fill="#570000" d="M1292.5 501.4l6.6 1.1v-29l-6.6-1.1z"/><path fill="#7b0000" d="M1299.1 502.5l2.4-2.9v-28.9l-2.4 2.8z"/><path fill="#6c0000" d="M1292.5 472.4l6.6 1.1l2.4-2.8l-6.6-1.1z"/><path fill="#570057" d="M1309.1 504l6.6 1.1v-28.7l-6.6-1z"/><path fill="#7b007b" d="M1315.7 505.1l2.4-2.8v-28.7l-2.4 2.8z"/><path fill="#6c006c" d="M1309.1 475.4l6.6 1l2.4-2.8l-6.6-1z"/><path fill="#00adad" d="M1325.7 506.7l6.6 1v-28.6l-6.6-1.1z"/><path fill="#00f5f5" d="M1332.3 507.7l2.4-2.8v-28.7l-2.4 2.9z"/><path fill="#00d6d6" d="M1325.7 478l6.6 1.1l2.4-2.9l-6.6-1z"/><path fill="#adad00" d="M1342.3 509.3l6.6 1v-29l-6.6-1z"/><path fill="#f5f500" d="M1348.9 510.3l2.4-2.8v-29l-2.4 2.8z"/><path fill="#d6d600" d="M1342.3 480.3l6.6 1l2.4-2.8l-6.6-1z"/><path fill="#ad00ad" d="M1358.9 511.9l6.6 1.1v-28.4l-6.6-1z"/><path fill="#f500f5" d="M1365.5 513l2.4-2.9v-28.3l-2.4 2.8z"/><path fill="#d600d6" d="M1358.9 483.6l6.6 1l2.4-2.8l-6.6-1z"/><path fill="#000057" d="M1375.4 514.5l6.7 1.1v-28.4l-6.7-1z"/><path fill="#00007b" d="M1382.1 515.6l2.4-2.8v-28.4l-2.4 2.8z"/><path fill="#00006c" d="M1375.4 486.2l6.7 1l2.4-2.8l-6.6-1z"/><path fill="#8b8bad" d="M1392 517.2l6.7 1v-29.3l-6.7-1.1z"/><path fill="#c4c4f5" d="M1398.7 518.2l2.4-2.8v-29.4l-2.4 2.9z"/><path fill="#ababd6" d="M1392 487.8l6.7 1.1l2.4-2.9l-6.6-1z"/><path fill="#00458b" d="M1408.6 519.8l6.7 1v-25.3l-6.7-1z"/><path fill="#0062c4" d="M1415.3 520.8l2.4-2.8v-25.3l-2.4 2.8z"/><path fill="#0056ab" d="M1408.6 494.5l6.7 1l2.4-2.8l-6.6-1.1z"/><path fill="#ad5757" d="M1425.2 522.4l6.7 1.1v-22.3l-6.7-1.1z"/><path fill="#f57b7b" d="M1431.9 523.5l2.4-2.9v-22.2l-2.4 2.8z"/><path fill="#d66c6c" d="M1425.2 500.1l6.7 1.1l2.4-2.8l-6.7-1.1z"/><path fill="#450045" d="M1441.8 525.1l6.6 1l0.1-139.2l-6.7-1z"/><path fill="#620062" d="M1448.4 526.1l2.5-2.8v-139.2l-2.4 2.8z"/><path fill="#560056" d="M1441.8 385.9l6.7 1l2.4-2.8l-6.7-1.1z"/><path class="z" fill="#abd6d6" d="M1458.4 527.7l6.6 1l2.5-2.8l-6.7-1z"/><path class="z" fill="#d6d6ab" d="M1475 530.3l6.6 1.1l2.5-2.9l-6.7-1z"/><path class="z" fill="#812b56" d="M1491.6 532.9l6.6 1.1l2.5-2.8l-6.7-1.1z"/><path class="z" fill="#8181d6" d="M1508.2 535.6l6.6 1l2.4-2.8l-6.6-1.1z"/><path fill="#688bad" d="M1170.3 490.1l6.6 1v-33.9l-6.6-1.1z"/><path fill="#93c4f5" d="M1176.9 491.1l2.4-2.8v-33.9l-2.4 2.8z"/><path fill="#81abd6" d="M1170.3 456.1l6.6 1.1l2.4-2.8l-6.6-1.1z"/><path fill="#adad68" d="M1186.9 492.7l6.6 1.1v-32.7l-6.6-1z"/><path fill="#f5f593" d="M1193.5 493.8l2.4-2.9v-32.6l-2.4 2.8z"/><path fill="#d6d681" d="M1186.9 460.1l6.6 1l2.4-2.8l-6.6-1z"/><path fill="#8bad8b" d="M1203.5 495.3l6.6 1.1v-31.6l-6.6-1.1z"/><path fill="#c4f5c4" d="M1210.1 496.4l2.4-2.8v-31.7l-2.4 2.9z"/><path fill="#abd6ab" d="M1203.5 463.7l6.6 1.1l2.4-2.9l-6.6-1z"/><path fill="#8badad" d="M1220.1 498l6.6 1v-30.6l-6.6-1z"/><path fill="#c4f5f5" d="M1226.7 499l2.4-2.8v-30.6l-2.4 2.8z"/><path fill="#abd6d6" d="M1220.1 467.4l6.6 1l2.4-2.8l-6.6-1.1z"/><path fill="#008bad" d="M1236.7 500.6l6.6 1v-29.6l-6.6-1z"/><path fill="#00c4f5" d="M1243.3 501.6l2.4-2.8v-29.6l-2.4 2.8z"/><path fill="#00abd6" d="M1236.7 471l6.6 1l2.4-2.8l-6.6-1z"/><path fill="#0000ad" d="M1253.2 503.2l6.7 1.1v-29l-6.7-1z"/><path fill="#0000f5" d="M1259.9 504.3l2.4-2.9v-28.9l-2.4 2.8z"/><path fill="#0000d6" d="M1253.2 474.3l6.7 1l2.4-2.8l-6.6-1.1z"/><path fill="#005757" d="M1269.8 505.8l6.7 1.1v-28.3l-6.7-1z"/><path fill="#007b7b" d="M1276.5 506.9l2.4-2.8v-28.3l-2.4 2.8z"/><path fill="#006c6c" d="M1269.8 477.6l6.7 1l2.4-2.8l-6.6-1.1z"/><path fill="#570000" d="M1286.4 508.5l6.7 1v-27.6l-6.7-1z"/><path fill="#7b0000" d="M1293.1 509.5l2.4-2.8v-27.6l-2.4 2.8z"/><path fill="#6c0000" d="M1286.4 480.9l6.7 1l2.4-2.8l-6.7-1.1z"/><path fill="#570057" d="M1303 511.1l6.7 1v-26.9l-6.7-1.1z"/><path fill="#7b007b" d="M1309.7 512.1l2.4-2.8v-26.9l-2.4 2.8z"/><path fill="#6c006c" d="M1303 484.1l6.7 1.1l2.4-2.8l-6.7-1.1z"/><path fill="#00adad" d="M1319.6 513.7l6.6 1.1v-27l-6.6-1z"/><path fill="#00f5f5" d="M1326.2 514.8l2.5-2.8v-27l-2.5 2.8z"/><path fill="#00d6d6" d="M1319.6 486.8l6.6 1l2.5-2.8l-6.7-1.1z"/><path fill="#adad00" d="M1336.2 516.4l6.6 1v-27l-6.6-1z"/><path fill="#f5f500" d="M1342.8 517.4l2.5-2.8v-27l-2.5 2.8z"/><path fill="#d6d600" d="M1336.2 489.4l6.6 1l2.5-2.8l-6.7-1z"/><path fill="#ad00ad" d="M1352.8 519l6.6 1v-26.6l-6.6-1.1z"/><path fill="#f500f5" d="M1359.4 520l2.5-2.8v-26.6l-2.5 2.8z"/><path fill="#d600d6" d="M1352.8 492.3l6.6 1.1l2.5-2.8l-6.7-1.1z"/><path fill="#000057" d="M1369.4 521.6l6.6 1.1v-25.3l-6.6-1.1z"/><path fill="#00007b" d="M1376 522.7l2.4-2.9v-25.3l-2.4 2.9z"/><path fill="#00006c" d="M1369.4 496.3l6.6 1.1l2.4-2.9l-6.6-1z"/><path fill="#8b8bad" d="M1386 524.2l6.6 1.1v-28l-6.6-1.1z"/><path fill="#c4c4f5" d="M1392.6 525.3l2.4-2.8v-28.1l-2.4 2.9z"/><path fill="#ababd6" d="M1386 496.2l6.6 1.1l2.4-2.9l-6.6-1z"/><path fill="#00458b" d="M1402.6 526.9l6.6 1v-18.2l-6.6-1.1z"/><path fill="#0062c4" d="M1409.2 527.9l2.4-2.8v-18.2l-2.4 2.8z"/><path fill="#0056ab" d="M1402.6 508.6l6.6 1.1l2.4-2.8l-6.6-1.1z"/><path class="z" fill="#d66c6c" d="M1419.2 529.5l6.6 1l2.4-2.8l-6.6-1z"/><path fill="#450045" d="M1435.7 532.1l6.7 1.1v-202.1l-6.7-1z"/><path fill="#620062" d="M1442.4 533.2l2.4-2.9v-202l-2.4 2.8z"/><path fill="#560056" d="M1435.7 330.1l6.7 1l2.4-2.8l-6.6-1.1z"/><path class="z" fill="#abd6d6" d="M1452.3 534.8l6.7 1l2.4-2.8l-6.6-1.1z"/><path class="z" fill="#d6d6ab" d="M1468.9 537.4l6.7 1l2.4-2.8l-6.6-1z"/><path class="z" fill="#812b56" d="M1485.5 540l6.7 1.1l2.4-2.9l-6.7-1z"/><path class="z" fill="#8181d6" d="M1502.1 542.6l6.6 1.1l2.5-2.8l-6.7-1.1z"/></g>
<path d="M1163.5,491.4 L1511.9,546.6" fill="none" stroke="#8a8a8a" stroke-width="1.1"/>
<path d="M1511.9,546.6 L1639.4,398" fill="none" stroke="#000" stroke-width="1"/>
<path d="M1163.5 491v7.3 M1180.1 493.6v7.3 M1196.7 496.3v7.3 M1213.3 498.9v7.3 M1229.9 501.5v7.3 M1246.5 504.1v7.3 M1263 506.8v7.3 M1279.6 509.4v7.3 M1296.2 512v7.3 M1312.8 514.7v7.3 M1329.4 517.3v7.3 M1346 519.9v7.3 M1362.6 522.5v7.3 M1379.2 525.2v7.3 M1395.8 527.8v7.3 M1412.4 530.4v7.3 M1428.9 533.1v7.3 M1445.5 535.7v7.3 M1462.1 538.3v7.3 M1478.7 540.9v7.3 M1495.3 543.6v7.3 M1511.9 546.2v7.3 M1511.5 546.6h5.6 M1517.6 539.5h5.6 M1523.6 532.4h5.6 M1529.7 525.4h5.6 M1535.8 518.3h5.6 M1541.9 511.2h5.6 M1547.9 504.1h5.6 M1554 497.1h5.6 M1560.1 490h5.6 M1566.1 482.9h5.6 M1572.2 475.8h5.6 M1578.3 468.8h5.6 M1584.4 461.7h5.6 M1590.4 454.6h5.6 M1596.5 447.5h5.6 M1602.6 440.5h5.6 M1608.6 433.4h5.6 M1614.7 426.3h5.6 M1620.8 419.2h5.6 M1626.9 412.2h5.6 M1632.9 405.1h5.6 M1639 398h5.6 M1164 491.4h-7.3 M1164 457.8h-7.3 M1164 424.2h-7.3 M1164 390.6h-7.3 M1164 357h-7.3 M1164 323.4h-7.3 M1164 289.9h-7.3 M1164 256.3h-7.3 M1164 222.7h-7.3 M1164 189.1h-7.3 M1164 155.5h-7.3" fill="none" stroke="#000" stroke-width="1.3"/>
<g class="tk"><text x="1148.2" y="498.2" text-anchor="end">0</text><text x="1148.2" y="464.6" text-anchor="end">1</text><text x="1148.2" y="431" text-anchor="end">2</text><text x="1148.2" y="397.4" text-anchor="end">3</text><text x="1148.2" y="363.8" text-anchor="end">4</text><text x="1148.2" y="330.2" text-anchor="end">5</text><text x="1148.2" y="296.7" text-anchor="end">6</text><text x="1148.2" y="263.1" text-anchor="end">7</text><text x="1148.2" y="229.5" text-anchor="end">8</text><text x="1148.2" y="195.9" text-anchor="end">9</text><text x="1148.2" y="162.3" text-anchor="end">10</text><text x="1171.4" y="522.7" text-anchor="middle">Y=100</text><text x="1237.8" y="533.2" text-anchor="middle">Y=80</text><text x="1304.1" y="543.7" text-anchor="middle">Y=60</text><text x="1370.5" y="554.3" text-anchor="middle">Y=40</text><text x="1436.8" y="564.8" text-anchor="middle">Y=20</text><text x="1503.2" y="575.3" text-anchor="middle">Y=0</text><text x="1530.9" y="549.1">0</text><text x="1561.3" y="513.7">25</text><text x="1591.7" y="478.3">50</text><text x="1622" y="442.9">75</text><text x="1646.9" y="407.5">100</text></g></g>
<g id="chartC"><path d="M238.1,1220.3 L365.1,1072.1 L365.1,736 L238.1,884.4 z" fill="#fff" stroke="none"/>
<path d="M365.1,1072.1 L714,1126.9 L714.3,789.6 L365.1,736 z" fill="#a5a5a5" stroke="#808080" stroke-width="1"/>
<path d="M238.1,1172.3 L365.1,1024.1 L714,1078.7 M238.1,1124.3 L365.1,976.1 L714.1,1030.5 M238.1,1076.3 L365.1,928.1 L714.1,982.3 M238.1,1028.4 L365.1,880 L714.2,934.2 M238.1,980.4 L365.1,832 L714.2,886 M238.1,932.4 L365.1,784 L714.3,837.8 M238.1,884.4 L365.1,736 L714.3,789.6" fill="none" stroke="#222" stroke-width="1"/>
<path d="M238.1,1220.3 L238.1,884.4 M365.1,1072.1 L365.1,736" fill="none" stroke="#6e6e6e" stroke-width="1.3"/>
<path d="M238.1,1220.3 L365.1,1072.1" fill="none" stroke="#333" stroke-width="0.8"/>
<path d="M714,1126.9 L365.1,1072.1" fill="none" stroke="#555" stroke-width="1"/>
<path d="M713 1126.9 L713 789.6" fill="none" stroke="#858585" stroke-width="2"/>
<g stroke="#000" stroke-opacity=".85" stroke-width=".8" stroke-linejoin="round"><path fill="#688bad" d="M365.9 1077.8l6.6 1.1v-31.7l-6.6-1.1z"/><path fill="#93c4f5" d="M372.5 1078.9l2.4-2.9v-31.6l-2.4 2.8z"/><path fill="#81abd6" d="M365.9 1046.1l6.6 1.1l2.4-2.8l-6.6-1.1z"/><path fill="#adad68" d="M382.5 1080.4l6.6 1.1v-32.7l-6.6-1z"/><path fill="#f5f593" d="M389.1 1081.5l2.4-2.8v-32.7l-2.4 2.8z"/><path fill="#d6d681" d="M382.5 1047.8l6.6 1l2.4-2.8l-6.6-1z"/><path fill="#8bad8b" d="M399.1 1083l6.6 1.1v-33.6l-6.6-1.1z"/><path fill="#c4f5c4" d="M405.7 1084.1l2.4-2.8v-33.7l-2.4 2.9z"/><path fill="#abd6ab" d="M399.1 1049.4l6.6 1.1l2.4-2.9l-6.6-1z"/><path fill="#8badad" d="M415.7 1085.7l6.6 1v-34.1l-6.6-1.1z"/><path fill="#c4f5f5" d="M422.3 1086.7l2.5-2.8v-34.1l-2.5 2.8z"/><path fill="#abd6d6" d="M415.7 1051.5l6.6 1.1l2.5-2.8l-6.7-1.1z"/><path fill="#008bad" d="M432.3 1088.3l6.7 1v-34.6l-6.7-1z"/><path fill="#00c4f5" d="M439 1089.3l2.4-2.8v-34.6l-2.4 2.8z"/><path fill="#00abd6" d="M432.3 1053.7l6.7 1l2.4-2.8l-6.7-1.1z"/><path fill="#0000ad" d="M448.9 1090.9l6.7 1v-36.5l-6.7-1.1z"/><path fill="#0000f5" d="M455.6 1091.9l2.4-2.8v-36.5l-2.4 2.8z"/><path fill="#0000d6" d="M448.9 1054.3l6.7 1.1l2.4-2.8l-6.7-1.1z"/><path fill="#005757" d="M465.5 1093.5l6.7 1v-38.4l-6.7-1.1z"/><path fill="#007b7b" d="M472.2 1094.5l2.4-2.8v-38.5l-2.4 2.9z"/><path fill="#006c6c" d="M465.5 1055l6.7 1.1l2.4-2.9l-6.6-1z"/><path fill="#570000" d="M482.1 1096.1l6.7 1v-40.3l-6.6-1.1z"/><path fill="#7b0000" d="M488.8 1097.1l2.4-2.8v-40.4l-2.4 2.9z"/><path fill="#6c0000" d="M482.2 1055.7l6.6 1.1l2.4-2.9l-6.6-1z"/><path fill="#570057" d="M498.8 1098.7l6.6 1v-42.3l-6.6-1z"/><path fill="#7b007b" d="M505.4 1099.7l2.4-2.8v-42.3l-2.4 2.8z"/><path fill="#6c006c" d="M498.8 1056.4l6.6 1l2.4-2.8l-6.6-1z"/><path fill="#00adad" d="M515.4 1101.3l6.6 1.1v-44.3l-6.6-1z"/><path fill="#00f5f5" d="M522 1102.4l2.4-2.9l0.1-44.2l-2.5 2.8z"/><path fill="#00d6d6" d="M515.4 1057.1l6.6 1l2.5-2.8l-6.7-1.1z"/><path fill="#adad00" d="M532 1103.9l6.6 1.1l0.1-45.2l-6.7-1.1z"/><path fill="#f5f500" d="M538.6 1105l2.5-2.9v-45.2l-2.4 2.9z"/><path fill="#d6d600" d="M532 1058.7l6.7 1.1l2.4-2.9l-6.7-1z"/><path fill="#ad00ad" d="M548.6 1106.5l6.6 1.1l0.1-47.2l-6.7-1z"/><path fill="#f500f5" d="M555.2 1107.6l2.5-2.8v-47.2l-2.4 2.8z"/><path fill="#d600d6" d="M548.6 1059.4l6.7 1l2.4-2.8l-6.7-1z"/><path fill="#000057" d="M565.2 1109.1l6.7 1.1v-50.1l-6.7-1z"/><path fill="#00007b" d="M571.9 1110.2l2.4-2.8v-50.1l-2.4 2.8z"/><path fill="#00006c" d="M565.2 1059.1l6.7 1l2.4-2.8l-6.6-1z"/><path fill="#8b8bad" d="M581.8 1111.8l6.7 1v-50.1l-6.6-1z"/><path fill="#c4c4f5" d="M588.5 1112.8l2.4-2.8v-50.1l-2.4 2.8z"/><path fill="#ababd6" d="M581.9 1061.7l6.6 1l2.4-2.8l-6.6-1z"/><path fill="#00458b" d="M598.4 1114.4l6.7 1v-50.1l-6.6-1z"/><path fill="#0062c4" d="M605.1 1115.4l2.4-2.8v-50.1l-2.4 2.8z"/><path fill="#0056ab" d="M598.5 1064.3l6.6 1l2.4-2.8l-6.6-1z"/><path fill="#ad5757" d="M615.1 1117l6.6 1v-51l-6.6-1.1z"/><path fill="#f57b7b" d="M621.7 1118l2.4-2.8l0.1-51l-2.5 2.8z"/><path fill="#d66c6c" d="M615.1 1065.9l6.6 1.1l2.5-2.8l-6.7-1.1z"/><path fill="#450045" d="M631.7 1119.6l6.6 1v-50.1l-6.6-1z"/><path fill="#620062" d="M638.3 1120.6l2.4-2.8l0.1-50.1l-2.5 2.8z"/><path fill="#560056" d="M631.7 1069.5l6.6 1l2.5-2.8l-6.7-1z"/><path fill="#8badad" d="M648.3 1122.2l6.6 1l0.1-48.1l-6.7-1.1z"/><path fill="#c4f5f5" d="M654.9 1123.2l2.5-2.8v-48.2l-2.4 2.9z"/><path fill="#abd6d6" d="M648.3 1074l6.7 1.1l2.4-2.9l-6.7-1z"/><path fill="#adad8b" d="M664.9 1124.8l6.6 1l0.1-44.3l-6.7-1z"/><path fill="#f5f5c4" d="M671.5 1125.8l2.5-2.8v-44.3l-2.4 2.8z"/><path fill="#d6d6ab" d="M664.9 1080.5l6.7 1l2.4-2.8l-6.6-1z"/><path fill="#682345" d="M681.5 1127.4l6.7 1.1v-41.5l-6.7-1z"/><path fill="#933162" d="M688.2 1128.5l2.4-2.9v-41.4l-2.4 2.8z"/><path fill="#812b56" d="M681.5 1086l6.7 1l2.4-2.8l-6.6-1z"/><path fill="#6868ad" d="M698.1 1130l6.7 1.1v-37.6l-6.6-1.1z"/><path fill="#9393f5" d="M704.8 1131.1l2.4-2.9v-37.5l-2.4 2.8z"/><path fill="#8181d6" d="M698.2 1092.4l6.6 1.1l2.4-2.8l-6.6-1.1z"/><path fill="#688bad" d="M359.8 1084.9l6.6 1v-31.7l-6.6-1z"/><path fill="#93c4f5" d="M366.4 1085.9l2.5-2.8v-31.7l-2.5 2.8z"/><path fill="#81abd6" d="M359.8 1053.2l6.6 1l2.5-2.8l-6.7-1z"/><path fill="#adad68" d="M376.4 1087.5l6.7 1v-32.6l-6.7-1z"/><path fill="#f5f593" d="M383.1 1088.5l2.4-2.8v-32.6l-2.4 2.8z"/><path fill="#d6d681" d="M376.4 1054.9l6.7 1l2.4-2.8l-6.7-1z"/><path fill="#8bad8b" d="M393 1090.1l6.7 1v-33.5l-6.7-1.1z"/><path fill="#c4f5c4" d="M399.7 1091.1l2.4-2.8v-33.5l-2.4 2.8z"/><path fill="#abd6ab" d="M393 1056.5l6.7 1.1l2.4-2.8l-6.6-1.1z"/><path fill="#8badad" d="M409.6 1092.7l6.7 1.1v-34.1l-6.7-1.1z"/><path fill="#c4f5f5" d="M416.3 1093.8l2.4-2.9v-34l-2.4 2.8z"/><path fill="#abd6d6" d="M409.6 1058.6l6.7 1.1l2.4-2.8l-6.6-1.1z"/><path fill="#008bad" d="M426.3 1095.3l6.6 1.1v-34.7l-6.6-1z"/><path fill="#00c4f5" d="M432.9 1096.4l2.4-2.9v-34.6l-2.4 2.8z"/><path fill="#00abd6" d="M426.3 1060.7l6.6 1l2.4-2.8l-6.6-1z"/><path fill="#0000ad" d="M442.9 1097.9l6.6 1.1v-36.6l-6.6-1z"/><path fill="#0000f5" d="M449.5 1099l2.4-2.8v-36.6l-2.4 2.8z"/><path fill="#0000d6" d="M442.9 1061.4l6.6 1l2.4-2.8l-6.6-1.1z"/><path fill="#005757" d="M459.5 1100.5l6.6 1.1v-38.6l-6.6-1z"/><path fill="#007b7b" d="M466.1 1101.6l2.4-2.8l0.1-38.6l-2.5 2.8z"/><path fill="#006c6c" d="M459.5 1062l6.6 1l2.5-2.8l-6.7-1.1z"/><path fill="#570000" d="M476.1 1103.2l6.6 1v-40.7l-6.6-1z"/><path fill="#7b0000" d="M482.7 1104.2l2.5-2.8v-40.7l-2.5 2.8z"/><path fill="#6c0000" d="M476.1 1062.5l6.6 1l2.5-2.8l-6.7-1z"/><path fill="#570057" d="M492.7 1105.8l6.6 1l0.1-42.8l-6.7-1z"/><path fill="#7b007b" d="M499.3 1106.8l2.5-2.8v-42.8l-2.4 2.8z"/><path fill="#6c006c" d="M492.7 1063l6.7 1l2.4-2.8l-6.7-1z"/><path fill="#00adad" d="M509.3 1108.4l6.7 1v-44.9l-6.7-1z"/><path fill="#00f5f5" d="M516 1109.4l2.4-2.8v-44.9l-2.4 2.8z"/><path fill="#00d6d6" d="M509.3 1063.5l6.7 1l2.4-2.8l-6.6-1.1z"/><path fill="#adad00" d="M525.9 1111l6.7 1v-46.1l-6.7-1.1z"/><path fill="#f5f500" d="M532.6 1112l2.4-2.8v-46.2l-2.4 2.9z"/><path fill="#d6d600" d="M525.9 1064.8l6.7 1.1l2.4-2.9l-6.6-1z"/><path fill="#ad00ad" d="M542.5 1113.6l6.7 1v-47.1l-6.6-1z"/><path fill="#f500f5" d="M549.2 1114.6l2.4-2.8v-47.1l-2.4 2.8z"/><path fill="#d600d6" d="M542.6 1066.5l6.6 1l2.4-2.8l-6.6-1.1z"/><path fill="#000057" d="M559.2 1116.2l6.6 1.1v-48.2l-6.6-1z"/><path fill="#00007b" d="M565.8 1117.3l2.4-2.9v-48.1l-2.4 2.8z"/><path fill="#00006c" d="M559.2 1068.1l6.6 1l2.4-2.8l-6.6-1z"/><path fill="#8b8bad" d="M575.8 1118.8l6.6 1.1v-51.1l-6.6-1z"/><path fill="#c4c4f5" d="M582.4 1119.9l2.4-2.9l0.1-51l-2.5 2.8z"/><path fill="#ababd6" d="M575.8 1067.8l6.6 1l2.5-2.8l-6.7-1z"/><path fill="#00458b" d="M592.4 1121.4l6.6 1.1v-51.1l-6.6-1z"/><path fill="#0062c4" d="M599 1122.5l2.4-2.8l0.1-51.1l-2.5 2.8z"/><path fill="#0056ab" d="M592.4 1070.4l6.6 1l2.5-2.8l-6.7-1z"/><path fill="#ad5757" d="M609 1124l6.6 1.1l0.1-51.1l-6.7-1z"/><path fill="#f57b7b" d="M615.6 1125.1l2.5-2.8v-51.1l-2.4 2.8z"/><path fill="#d66c6c" d="M609 1073l6.7 1l2.4-2.8l-6.7-1z"/><path fill="#450045" d="M625.6 1126.7l6.6 1l0.1-51l-6.7-1.1z"/><path fill="#620062" d="M632.2 1127.7l2.5-2.8v-51.1l-2.4 2.9z"/><path fill="#560056" d="M625.6 1075.6l6.7 1.1l2.4-2.9l-6.6-1z"/><path fill="#8badad" d="M642.2 1129.3l6.7 1v-49.1l-6.7-1.1z"/><path fill="#c4f5f5" d="M648.9 1130.3l2.4-2.8v-49.1l-2.4 2.8z"/><path fill="#abd6d6" d="M642.2 1080.1l6.7 1.1l2.4-2.8l-6.6-1.1z"/><path fill="#adad8b" d="M658.8 1131.9l6.7 1v-45.3l-6.6-1z"/><path fill="#f5f5c4" d="M665.5 1132.9l2.4-2.8v-45.3l-2.4 2.8z"/><path fill="#d6d6ab" d="M658.9 1086.6l6.6 1l2.4-2.8l-6.6-1z"/><path fill="#682345" d="M675.4 1134.5l6.7 1v-42.4l-6.6-1z"/><path fill="#933162" d="M682.1 1135.5l2.4-2.8v-42.4l-2.4 2.8z"/><path fill="#812b56" d="M675.5 1092.1l6.6 1l2.4-2.8l-6.6-1z"/><path fill="#6868ad" d="M692 1137.1l6.7 1v-38.5l-6.6-1.1z"/><path fill="#9393f5" d="M698.7 1138.1l2.4-2.8l0.1-38.5l-2.5 2.8z"/><path fill="#8181d6" d="M692.1 1098.5l6.6 1.1l2.5-2.8l-6.7-1.1z"/><path fill="#688bad" d="M353.8 1091.9l6.6 1.1v-31.7l-6.6-1.1z"/><path fill="#93c4f5" d="M360.4 1093l2.4-2.8v-31.7l-2.4 2.8z"/><path fill="#81abd6" d="M353.8 1060.2l6.6 1.1l2.4-2.8l-6.6-1.1z"/><path fill="#adad68" d="M370.4 1094.5l6.6 1.1v-32.6l-6.6-1z"/><path fill="#f5f593" d="M377 1095.6l2.4-2.8v-32.6l-2.4 2.8z"/><path fill="#d6d681" d="M370.4 1062l6.6 1l2.4-2.8l-6.6-1z"/><path fill="#8bad8b" d="M387 1097.2l6.6 1v-33.5l-6.6-1z"/><path fill="#c4f5c4" d="M393.6 1098.2l2.4-2.8v-33.5l-2.4 2.8z"/><path fill="#abd6ab" d="M387 1063.7l6.6 1l2.4-2.8l-6.6-1z"/><path fill="#8badad" d="M403.6 1099.8l6.6 1v-33.9l-6.6-1.1z"/><path fill="#c4f5f5" d="M410.2 1100.8l2.5-2.8v-33.9l-2.5 2.8z"/><path fill="#abd6d6" d="M403.6 1065.8l6.6 1.1l2.5-2.8l-6.7-1.1z"/><path fill="#008bad" d="M420.2 1102.4l6.6 1l0.1-34.4l-6.7-1.1z"/><path fill="#00c4f5" d="M426.8 1103.4l2.5-2.8v-34.4l-2.4 2.8z"/><path fill="#00abd6" d="M420.2 1067.9l6.7 1.1l2.4-2.8l-6.7-1.1z"/><path fill="#0000ad" d="M436.8 1105l6.7 1v-36.2l-6.7-1.1z"/><path fill="#0000f5" d="M443.5 1106l2.4-2.8v-36.3l-2.4 2.9z"/><path fill="#0000d6" d="M436.8 1068.7l6.7 1.1l2.4-2.9l-6.7-1z"/><path fill="#005757" d="M453.4 1107.6l6.7 1.1v-38.2l-6.7-1z"/><path fill="#007b7b" d="M460.1 1108.7l2.4-2.9v-38.1l-2.4 2.8z"/><path fill="#006c6c" d="M453.4 1069.5l6.7 1l2.4-2.8l-6.6-1.1z"/><path fill="#570000" d="M470 1110.2l6.7 1.1v-40.1l-6.7-1.1z"/><path fill="#7b0000" d="M476.7 1111.3l2.4-2.9v-40l-2.4 2.8z"/><path fill="#6c0000" d="M470 1070.1l6.7 1.1l2.4-2.8l-6.6-1.1z"/><path fill="#570057" d="M486.6 1112.8l6.7 1.1v-42.1l-6.6-1z"/><path fill="#7b007b" d="M493.3 1113.9l2.4-2.8v-42.1l-2.4 2.8z"/><path fill="#6c006c" d="M486.7 1070.8l6.6 1l2.4-2.8l-6.6-1z"/><path fill="#00adad" d="M503.3 1115.4l6.6 1.1v-44l-6.6-1.1z"/><path fill="#00f5f5" d="M509.9 1116.5l2.4-2.8v-44.1l-2.4 2.9z"/><path fill="#00d6d6" d="M503.3 1071.4l6.6 1.1l2.4-2.9l-6.6-1z"/><path fill="#adad00" d="M519.9 1118.1l6.6 1v-45.2l-6.6-1.1z"/><path fill="#f5f500" d="M526.5 1119.1l2.4-2.8l0.1-45.2l-2.5 2.8z"/><path fill="#d6d600" d="M519.9 1072.8l6.6 1.1l2.5-2.8l-6.7-1.1z"/><path fill="#ad00ad" d="M536.5 1120.7l6.6 1v-46.2l-6.6-1z"/><path fill="#f500f5" d="M543.1 1121.7l2.4-2.8l0.1-46.2l-2.5 2.8z"/><path fill="#d600d6" d="M536.5 1074.5l6.6 1l2.5-2.8l-6.7-1z"/><path fill="#000057" d="M553.1 1123.3l6.6 1l0.1-48.1l-6.7-1z"/><path fill="#00007b" d="M559.7 1124.3l2.5-2.8v-48.1l-2.4 2.8z"/><path fill="#00006c" d="M553.1 1075.2l6.7 1l2.4-2.8l-6.7-1.1z"/><path fill="#8b8bad" d="M569.7 1125.9l6.6 1l0.1-51l-6.7-1z"/><path fill="#c4c4f5" d="M576.3 1126.9l2.5-2.8v-51l-2.4 2.8z"/><path fill="#ababd6" d="M569.7 1074.9l6.7 1l2.4-2.8l-6.6-1.1z"/><path fill="#00458b" d="M586.3 1128.5l6.7 1.1v-51.1l-6.7-1z"/><path fill="#0062c4" d="M593 1129.6l2.4-2.9v-51l-2.4 2.8z"/><path fill="#0056ab" d="M586.3 1077.5l6.7 1l2.4-2.8l-6.6-1.1z"/><path fill="#ad5757" d="M602.9 1131.1l6.7 1.1v-52l-6.6-1.1z"/><path fill="#f57b7b" d="M609.6 1132.2l2.4-2.9v-52l-2.4 2.9z"/><path fill="#d66c6c" d="M603 1079.1l6.6 1.1l2.4-2.9l-6.6-1z"/><path fill="#450045" d="M619.5 1133.7l6.7 1.1v-52l-6.6-1.1z"/><path fill="#620062" d="M626.2 1134.8l2.4-2.9v-52l-2.4 2.9z"/><path fill="#560056" d="M619.6 1081.7l6.6 1.1l2.4-2.9l-6.6-1z"/><path fill="#8badad" d="M636.1 1136.3l6.7 1.1v-50.1l-6.6-1.1z"/><path fill="#c4f5f5" d="M642.8 1137.4l2.4-2.8l0.1-50.1l-2.5 2.8z"/><path fill="#abd6d6" d="M636.2 1086.2l6.6 1.1l2.5-2.8l-6.7-1.1z"/><path fill="#adad8b" d="M652.8 1139l6.6 1v-46.3l-6.6-1z"/><path fill="#f5f5c4" d="M659.4 1140l2.4-2.8l0.1-46.3l-2.5 2.8z"/><path fill="#d6d6ab" d="M652.8 1092.7l6.6 1l2.5-2.8l-6.7-1z"/><path fill="#682345" d="M669.4 1141.6l6.6 1v-44.3l-6.6-1.1z"/><path fill="#933162" d="M676 1142.6l2.4-2.8l0.1-44.4l-2.5 2.9z"/><path fill="#812b56" d="M669.4 1097.2l6.6 1.1l2.5-2.9l-6.7-1z"/><path fill="#6868ad" d="M686 1144.2l6.6 1l0.1-39.5l-6.7-1z"/><path fill="#9393f5" d="M692.6 1145.2l2.5-2.8v-39.5l-2.4 2.8z"/><path fill="#8181d6" d="M686 1104.7l6.7 1l2.4-2.8l-6.7-1.1z"/><path fill="#688bad" d="M347.7 1099l6.7 1v-31.2l-6.7-1z"/><path fill="#93c4f5" d="M354.4 1100l2.4-2.8v-31.2l-2.4 2.8z"/><path fill="#81abd6" d="M347.7 1067.8l6.7 1l2.4-2.8l-6.7-1z"/><path fill="#adad68" d="M364.3 1101.6l6.7 1.1v-32.1l-6.7-1z"/><path fill="#f5f593" d="M371 1102.7l2.4-2.9v-32l-2.4 2.8z"/><path fill="#d6d681" d="M364.3 1069.6l6.7 1l2.4-2.8l-6.7-1z"/><path fill="#8bad8b" d="M380.9 1104.2l6.7 1.1v-32.9l-6.7-1.1z"/><path fill="#c4f5c4" d="M387.6 1105.3l2.4-2.9v-32.9l-2.4 2.9z"/><path fill="#abd6ab" d="M380.9 1071.3l6.7 1.1l2.4-2.9l-6.7-1z"/><path fill="#8badad" d="M397.5 1106.8l6.7 1.1v-33.4l-6.7-1.1z"/><path fill="#c4f5f5" d="M404.2 1107.9l2.4-2.8v-33.5l-2.4 2.9z"/><path fill="#abd6d6" d="M397.5 1073.4l6.7 1.1l2.4-2.9l-6.6-1z"/><path fill="#008bad" d="M414.1 1109.4l6.7 1.1v-34l-6.6-1.1z"/><path fill="#00c4f5" d="M420.8 1110.5l2.4-2.8v-34.1l-2.4 2.9z"/><path fill="#00abd6" d="M414.2 1075.4l6.6 1.1l2.4-2.9l-6.6-1z"/><path fill="#0000ad" d="M430.8 1112.1l6.6 1v-35.9l-6.6-1.1z"/><path fill="#0000f5" d="M437.4 1113.1l2.4-2.8v-35.9l-2.4 2.8z"/><path fill="#0000d6" d="M430.8 1076.1l6.6 1.1l2.4-2.8l-6.6-1.1z"/><path fill="#005757" d="M447.4 1114.7l6.6 1v-37.9l-6.6-1.1z"/><path fill="#007b7b" d="M454 1115.7l2.4-2.8v-37.9l-2.4 2.8z"/><path fill="#006c6c" d="M447.4 1076.7l6.6 1.1l2.4-2.8l-6.6-1.1z"/><path fill="#570000" d="M464 1117.3l6.6 1v-40l-6.6-1.1z"/><path fill="#7b0000" d="M470.6 1118.3l2.4-2.8l0.1-40l-2.5 2.8z"/><path fill="#6c0000" d="M464 1077.2l6.6 1.1l2.5-2.8l-6.7-1.1z"/><path fill="#570057" d="M480.6 1119.9l6.6 1v-42.2l-6.6-1.1z"/><path fill="#7b007b" d="M487.2 1120.9l2.5-2.8v-42.2l-2.5 2.8z"/><path fill="#6c006c" d="M480.6 1077.6l6.6 1.1l2.5-2.8l-6.7-1.1z"/><path fill="#00adad" d="M497.2 1122.5l6.6 1.1l0.1-44.6l-6.7-1.1z"/><path fill="#00f5f5" d="M503.8 1123.6l2.5-2.9v-44.6l-2.4 2.9z"/><path fill="#00d6d6" d="M497.2 1077.9l6.7 1.1l2.4-2.9l-6.7-1z"/><path fill="#adad00" d="M513.8 1125.1l6.7 1.1v-46.2l-6.7-1.1z"/><path fill="#f5f500" d="M520.5 1126.2l2.4-2.9v-46.1l-2.4 2.8z"/><path fill="#d6d600" d="M513.8 1078.9l6.7 1.1l2.4-2.8l-6.7-1.1z"/><path fill="#ad00ad" d="M530.4 1127.7l6.7 1.1v-46.2l-6.7-1.1z"/><path fill="#f500f5" d="M537.1 1128.8l2.4-2.8v-46.2l-2.4 2.8z"/><path fill="#d600d6" d="M530.4 1081.5l6.7 1.1l2.4-2.8l-6.6-1.1z"/><path fill="#000057" d="M547 1130.3l6.7 1.1v-48.1l-6.7-1.1z"/><path fill="#00007b" d="M553.7 1131.4l2.4-2.8v-48.2l-2.4 2.9z"/><path fill="#00006c" d="M547 1082.2l6.7 1.1l2.4-2.9l-6.6-1z"/><path fill="#8b8bad" d="M563.6 1133l6.7 1v-52l-6.6-1z"/><path fill="#c4c4f5" d="M570.3 1134l2.4-2.8v-52l-2.4 2.8z"/><path fill="#ababd6" d="M563.7 1081l6.6 1l2.4-2.8l-6.6-1.1z"/><path fill="#00458b" d="M580.2 1135.6l6.7 1v-52l-6.6-1z"/><path fill="#0062c4" d="M586.9 1136.6l2.4-2.8v-52l-2.4 2.8z"/><path fill="#0056ab" d="M580.3 1083.6l6.6 1l2.4-2.8l-6.6-1.1z"/><path fill="#ad5757" d="M596.9 1138.2l6.6 1v-52l-6.6-1z"/><path fill="#f57b7b" d="M603.5 1139.2l2.4-2.8l0.1-52l-2.5 2.8z"/><path fill="#d66c6c" d="M596.9 1086.2l6.6 1l2.5-2.8l-6.7-1.1z"/><path fill="#450045" d="M613.5 1140.8l6.6 1v-53.9l-6.6-1z"/><path fill="#620062" d="M620.1 1141.8l2.4-2.8l0.1-53.9l-2.5 2.8z"/><path fill="#560056" d="M613.5 1086.9l6.6 1l2.5-2.8l-6.7-1.1z"/><path fill="#8badad" d="M630.1 1143.4l6.6 1.1l0.1-51.1l-6.7-1.1z"/><path fill="#c4f5f5" d="M636.7 1144.5l2.4-2.9l0.1-51l-2.4 2.8z"/><path fill="#abd6d6" d="M630.1 1092.3l6.7 1.1l2.4-2.8l-6.7-1.1z"/><path fill="#adad8b" d="M646.7 1146l6.6 1.1l0.1-48.2l-6.7-1.1z"/><path fill="#f5f5c4" d="M653.3 1147.1l2.5-2.9v-48.1l-2.4 2.8z"/><path fill="#d6d6ab" d="M646.7 1097.8l6.7 1.1l2.4-2.8l-6.7-1.1z"/><path fill="#682345" d="M663.3 1148.6l6.6 1.1l0.1-46.3l-6.7-1z"/><path fill="#933162" d="M669.9 1149.7l2.5-2.8v-46.3l-2.4 2.8z"/><path fill="#812b56" d="M663.3 1102.4l6.7 1l2.4-2.8l-6.6-1.1z"/><path fill="#6868ad" d="M679.9 1151.3l6.7 1v-41.5l-6.7-1z"/><path fill="#9393f5" d="M686.6 1152.3l2.4-2.8v-41.5l-2.4 2.8z"/><path fill="#8181d6" d="M679.9 1109.8l6.7 1l2.4-2.8l-6.6-1z"/><path fill="#688bad" d="M341.7 1106.1l6.6 1v-30.7l-6.6-1.1z"/><path fill="#93c4f5" d="M348.3 1107.1l2.4-2.8v-30.8l-2.4 2.9z"/><path fill="#81abd6" d="M341.7 1075.3l6.6 1.1l2.4-2.9l-6.6-1z"/><path fill="#adad68" d="M358.3 1108.7l6.6 1v-31.5l-6.6-1z"/><path fill="#f5f593" d="M364.9 1109.7l2.4-2.8v-31.5l-2.4 2.8z"/><path fill="#d6d681" d="M358.3 1077.2l6.6 1l2.4-2.8l-6.6-1.1z"/><path fill="#8bad8b" d="M374.9 1111.3l6.6 1v-32.3l-6.6-1.1z"/><path fill="#c4f5c4" d="M381.5 1112.3l2.4-2.8v-32.3l-2.4 2.8z"/><path fill="#abd6ab" d="M374.9 1078.9l6.6 1.1l2.4-2.8l-6.6-1.1z"/><path fill="#8badad" d="M391.5 1113.9l6.6 1v-32.9l-6.6-1z"/><path fill="#c4f5f5" d="M398.1 1114.9l2.5-2.8v-32.9l-2.5 2.8z"/><path fill="#abd6d6" d="M391.5 1081l6.6 1l2.5-2.8l-6.7-1z"/><path fill="#008bad" d="M408.1 1116.5l6.6 1.1v-33.6l-6.6-1.1z"/><path fill="#00c4f5" d="M414.7 1117.6l2.5-2.9v-33.6l-2.5 2.9z"/><path fill="#00abd6" d="M408.1 1082.9l6.6 1.1l2.5-2.9l-6.7-1z"/><path fill="#0000ad" d="M424.7 1119.1l6.6 1.1l0.1-35.6l-6.7-1z"/><path fill="#0000f5" d="M431.3 1120.2l2.5-2.9v-35.5l-2.4 2.8z"/><path fill="#0000d6" d="M424.7 1083.6l6.7 1l2.4-2.8l-6.7-1.1z"/><path fill="#005757" d="M441.3 1121.7l6.7 1.1v-37.7l-6.7-1.1z"/><path fill="#007b7b" d="M448 1122.8l2.4-2.8v-37.7l-2.4 2.8z"/><path fill="#006c6c" d="M441.3 1084l6.7 1.1l2.4-2.8l-6.7-1.1z"/><path fill="#570000" d="M457.9 1124.3l6.7 1.1v-40l-6.7-1z"/><path fill="#7b0000" d="M464.6 1125.4l2.4-2.8v-40l-2.4 2.8z"/><path fill="#6c0000" d="M457.9 1084.4l6.7 1l2.4-2.8l-6.6-1.1z"/><path fill="#570057" d="M474.5 1127l6.7 1v-42.5l-6.7-1z"/><path fill="#7b007b" d="M481.2 1128l2.4-2.8v-42.5l-2.4 2.8z"/><path fill="#6c006c" d="M474.5 1084.5l6.7 1l2.4-2.8l-6.6-1z"/><path fill="#00adad" d="M491.1 1129.6l6.7 1v-45.1l-6.6-1.1z"/><path fill="#00f5f5" d="M497.8 1130.6l2.4-2.8v-45.1l-2.4 2.8z"/><path fill="#00d6d6" d="M491.2 1084.4l6.6 1.1l2.4-2.8l-6.6-1.1z"/><path fill="#adad00" d="M507.7 1132.2l6.7 1v-47.1l-6.6-1.1z"/><path fill="#f5f500" d="M514.4 1133.2l2.4-2.8v-47.1l-2.4 2.8z"/><path fill="#d6d600" d="M507.8 1085l6.6 1.1l2.4-2.8l-6.6-1.1z"/><path fill="#ad00ad" d="M524.4 1134.8l6.6 1v-46.2l-6.6-1z"/><path fill="#f500f5" d="M531 1135.8l2.4-2.8v-46.2l-2.4 2.8z"/><path fill="#d600d6" d="M524.4 1088.6l6.6 1l2.4-2.8l-6.6-1z"/><path fill="#000057" d="M541 1137.4l6.6 1.1v-48.2l-6.6-1z"/><path fill="#00007b" d="M547.6 1138.5l2.4-2.9l0.1-48.1l-2.5 2.8z"/><path fill="#00006c" d="M541 1089.3l6.6 1l2.5-2.8l-6.7-1z"/><path fill="#8b8bad" d="M557.6 1140l6.6 1.1v-52l-6.6-1.1z"/><path fill="#c4c4f5" d="M564.2 1141.1l2.4-2.9l0.1-51.9l-2.5 2.8z"/><path fill="#ababd6" d="M557.6 1088l6.6 1.1l2.5-2.8l-6.7-1.1z"/><path fill="#00458b" d="M574.2 1142.6l6.6 1.1l0.1-53l-6.7-1z"/><path fill="#0062c4" d="M580.8 1143.7l2.5-2.8v-53l-2.4 2.8z"/><path fill="#0056ab" d="M574.2 1089.7l6.7 1l2.4-2.8l-6.7-1.1z"/><path fill="#ad5757" d="M590.8 1145.3l6.6 1l0.1-53l-6.7-1z"/><path fill="#f57b7b" d="M597.4 1146.3l2.5-2.8v-53l-2.4 2.8z"/><path fill="#d66c6c" d="M590.8 1092.3l6.7 1l2.4-2.8l-6.7-1z"/><path fill="#450045" d="M607.4 1147.9l6.6 1l0.1-55.9l-6.7-1z"/><path fill="#620062" d="M614 1148.9l2.5-2.8v-55.9l-2.4 2.8z"/><path fill="#560056" d="M607.4 1092l6.7 1l2.4-2.8l-6.6-1z"/><path fill="#8badad" d="M624 1150.5l6.7 1v-52l-6.7-1.1z"/><path fill="#c4f5f5" d="M630.7 1151.5l2.4-2.8v-52l-2.4 2.8z"/><path fill="#abd6d6" d="M624 1098.4l6.7 1.1l2.4-2.8l-6.6-1.1z"/><path fill="#adad8b" d="M640.6 1153.1l6.7 1v-49.1l-6.7-1.1z"/><path fill="#f5f5c4" d="M647.3 1154.1l2.4-2.8v-49.1l-2.4 2.8z"/><path fill="#d6d6ab" d="M640.6 1103.9l6.7 1.1l2.4-2.8l-6.6-1.1z"/><path fill="#682345" d="M657.2 1155.7l6.7 1.1v-48.3l-6.6-1z"/><path fill="#933162" d="M663.9 1156.8l2.4-2.9v-48.2l-2.4 2.8z"/><path fill="#812b56" d="M657.3 1107.5l6.6 1l2.4-2.8l-6.6-1z"/><path fill="#6868ad" d="M673.8 1158.3l6.7 1.1v-42.5l-6.6-1z"/><path fill="#9393f5" d="M680.5 1159.4l2.4-2.9v-42.4l-2.4 2.8z"/><path fill="#8181d6" d="M673.9 1115.9l6.6 1l2.4-2.8l-6.6-1z"/><path fill="#688bad" d="M335.6 1113.1l6.7 1.1v-29.8l-6.7-1.1z"/><path fill="#93c4f5" d="M342.3 1114.2l2.4-2.9v-29.7l-2.4 2.8z"/><path fill="#81abd6" d="M335.6 1083.3l6.7 1.1l2.4-2.8l-6.7-1.1z"/><path fill="#adad68" d="M352.2 1115.7l6.7 1.1v-30.5l-6.7-1.1z"/><path fill="#f5f593" d="M358.9 1116.8l2.4-2.9v-30.4l-2.4 2.8z"/><path fill="#d6d681" d="M352.2 1085.2l6.7 1.1l2.4-2.8l-6.7-1.1z"/><path fill="#8bad8b" d="M368.8 1118.3l6.7 1.1v-31.3l-6.7-1.1z"/><path fill="#c4f5c4" d="M375.5 1119.4l2.4-2.8v-31.3l-2.4 2.8z"/><path fill="#abd6ab" d="M368.8 1087l6.7 1.1l2.4-2.8l-6.7-1.1z"/><path fill="#8badad" d="M385.4 1121l6.7 1v-31.9l-6.7-1.1z"/><path fill="#c4f5f5" d="M392.1 1122l2.4-2.8v-31.9l-2.4 2.8z"/><path fill="#abd6d6" d="M385.4 1089l6.7 1.1l2.4-2.8l-6.6-1.1z"/><path fill="#008bad" d="M402 1123.6l6.7 1v-32.7l-6.7-1.1z"/><path fill="#00c4f5" d="M408.7 1124.6l2.4-2.8v-32.7l-2.4 2.8z"/><path fill="#00abd6" d="M402 1090.8l6.7 1.1l2.4-2.8l-6.6-1.1z"/><path fill="#0000ad" d="M418.7 1126.2l6.6 1v-34.8l-6.6-1z"/><path fill="#0000f5" d="M425.3 1127.2l2.4-2.8v-34.8l-2.4 2.8z"/><path fill="#0000d6" d="M418.7 1091.4l6.6 1l2.4-2.8l-6.6-1z"/><path fill="#005757" d="M435.3 1128.8l6.6 1v-37.1l-6.6-1z"/><path fill="#007b7b" d="M441.9 1129.8l2.4-2.8v-37.1l-2.4 2.8z"/><path fill="#006c6c" d="M435.3 1091.7l6.6 1l2.4-2.8l-6.6-1z"/><path fill="#570000" d="M451.9 1131.4l6.6 1.1v-39.7l-6.6-1z"/><path fill="#7b0000" d="M458.5 1132.5l2.4-2.9v-39.6l-2.4 2.8z"/><path fill="#6c0000" d="M451.9 1091.8l6.6 1l2.4-2.8l-6.6-1.1z"/><path fill="#570057" d="M468.5 1134l6.6 1.1v-42.5l-6.6-1.1z"/><path fill="#7b007b" d="M475.1 1135.1l2.4-2.9l0.1-42.4l-2.5 2.8z"/><path fill="#6c006c" d="M468.5 1091.5l6.6 1.1l2.5-2.8l-6.7-1.1z"/><path fill="#00adad" d="M485.1 1136.6l6.6 1.1v-45.6l-6.6-1z"/><path fill="#00f5f5" d="M491.7 1137.7l2.4-2.8l0.1-45.6l-2.5 2.8z"/><path fill="#00d6d6" d="M485.1 1091.1l6.6 1l2.5-2.8l-6.7-1z"/><path fill="#adad00" d="M501.7 1139.3l6.6 1v-48.1l-6.6-1.1z"/><path fill="#f5f500" d="M508.3 1140.3l2.5-2.8v-48.1l-2.5 2.8z"/><path fill="#d6d600" d="M501.7 1091.1l6.6 1.1l2.5-2.8l-6.7-1.1z"/><path fill="#ad00ad" d="M518.3 1141.9l6.6 1l0.1-47.2l-6.7-1z"/><path fill="#f500f5" d="M524.9 1142.9l2.5-2.8v-47.2l-2.4 2.8z"/><path fill="#d600d6" d="M518.3 1094.7l6.7 1l2.4-2.8l-6.7-1z"/><path fill="#000057" d="M534.9 1144.5l6.6 1l0.1-48.1l-6.7-1.1z"/><path fill="#00007b" d="M541.5 1145.5l2.5-2.8v-48.1l-2.4 2.8z"/><path fill="#00006c" d="M534.9 1096.3l6.7 1.1l2.4-2.8l-6.7-1.1z"/><path fill="#8b8bad" d="M551.5 1147.1l6.7 1v-52l-6.7-1z"/><path fill="#c4c4f5" d="M558.2 1148.1l2.4-2.8v-52l-2.4 2.8z"/><path fill="#ababd6" d="M551.5 1095.1l6.7 1l2.4-2.8l-6.6-1z"/><path fill="#00458b" d="M568.1 1149.7l6.7 1.1v-53l-6.7-1.1z"/><path fill="#0062c4" d="M574.8 1150.8l2.4-2.9v-52.9l-2.4 2.8z"/><path fill="#0056ab" d="M568.1 1096.7l6.7 1.1l2.4-2.8l-6.6-1.1z"/><path fill="#ad5757" d="M584.7 1152.3l6.7 1.1v-54l-6.6-1z"/><path fill="#f57b7b" d="M591.4 1153.4l2.4-2.9v-53.9l-2.4 2.8z"/><path fill="#d66c6c" d="M584.8 1098.4l6.6 1l2.4-2.8l-6.6-1z"/><path fill="#450045" d="M601.3 1154.9l6.7 1.1v-58.8l-6.6-1z"/><path fill="#620062" d="M608 1156l2.4-2.8v-58.8l-2.4 2.8z"/><path fill="#560056" d="M601.4 1096.2l6.6 1l2.4-2.8l-6.6-1.1z"/><path fill="#8badad" d="M617.9 1157.6l6.7 1v-53l-6.6-1.1z"/><path fill="#c4f5f5" d="M624.6 1158.6l2.4-2.8v-53l-2.4 2.8z"/><path fill="#abd6d6" d="M618 1104.5l6.6 1.1l2.4-2.8l-6.6-1.1z"/><path fill="#adad8b" d="M634.6 1160.2l6.6 1v-51.1l-6.6-1z"/><path fill="#f5f5c4" d="M641.2 1161.2l2.4-2.8l0.1-51.1l-2.5 2.8z"/><path fill="#d6d6ab" d="M634.6 1109.1l6.6 1l2.5-2.8l-6.7-1z"/><path fill="#682345" d="M651.2 1162.8l6.6 1v-50.1l-6.6-1.1z"/><path fill="#933162" d="M657.8 1163.8l2.4-2.8l0.1-50.1l-2.5 2.8z"/><path fill="#812b56" d="M651.2 1112.6l6.6 1.1l2.5-2.8l-6.7-1.1z"/><path fill="#6868ad" d="M667.8 1165.4l6.6 1v-44.3l-6.6-1.1z"/><path fill="#9393f5" d="M674.4 1166.4l2.4-2.8l0.1-44.3l-2.5 2.8z"/><path fill="#8181d6" d="M667.8 1121l6.6 1.1l2.5-2.8l-6.7-1.1z"/><path fill="#688bad" d="M329.6 1120.2l6.6 1v-27.8l-6.6-1.1z"/><path fill="#93c4f5" d="M336.2 1121.2l2.4-2.8v-27.9l-2.4 2.9z"/><path fill="#81abd6" d="M329.6 1092.3l6.6 1.1l2.4-2.9l-6.6-1z"/><path fill="#adad68" d="M346.2 1122.8l6.6 1v-28.5l-6.6-1z"/><path fill="#f5f593" d="M352.8 1123.8l2.4-2.8v-28.5l-2.4 2.8z"/><path fill="#d6d681" d="M346.2 1094.3l6.6 1l2.4-2.8l-6.6-1z"/><path fill="#8bad8b" d="M362.8 1125.4l6.6 1v-29.2l-6.6-1.1z"/><path fill="#c4f5c4" d="M369.4 1126.4l2.4-2.8v-29.2l-2.4 2.8z"/><path fill="#abd6ab" d="M362.8 1096.1l6.6 1.1l2.4-2.8l-6.6-1.1z"/><path fill="#8badad" d="M379.4 1128l6.6 1.1v-30l-6.6-1z"/><path fill="#c4f5f5" d="M386 1129.1l2.4-2.9v-29.9l-2.4 2.8z"/><path fill="#abd6d6" d="M379.4 1098.1l6.6 1l2.4-2.8l-6.6-1.1z"/><path fill="#008bad" d="M396 1130.6l6.6 1.1v-30.9l-6.6-1z"/><path fill="#00c4f5" d="M402.6 1131.7l2.5-2.8v-30.9l-2.5 2.8z"/><path fill="#00abd6" d="M396 1099.8l6.6 1l2.5-2.8l-6.7-1.1z"/><path fill="#0000ad" d="M412.6 1133.2l6.6 1.1v-33l-6.6-1.1z"/><path fill="#0000f5" d="M419.2 1134.3l2.5-2.8v-33l-2.5 2.8z"/><path fill="#0000d6" d="M412.6 1100.2l6.6 1.1l2.5-2.8l-6.7-1.1z"/><path fill="#005757" d="M429.2 1135.9l6.6 1l0.1-35.5l-6.7-1z"/><path fill="#007b7b" d="M435.8 1136.9l2.5-2.8v-35.5l-2.4 2.8z"/><path fill="#006c6c" d="M429.2 1100.4l6.7 1l2.4-2.8l-6.7-1z"/><path fill="#570000" d="M445.8 1138.5l6.7 1v-38.3l-6.7-1z"/><path fill="#7b0000" d="M452.5 1139.5l2.4-2.8v-38.3l-2.4 2.8z"/><path fill="#6c0000" d="M445.8 1100.2l6.7 1l2.4-2.8l-6.7-1z"/><path fill="#570057" d="M462.4 1141.1l6.7 1v-41.4l-6.7-1.1z"/><path fill="#7b007b" d="M469.1 1142.1l2.4-2.8v-41.5l-2.4 2.9z"/><path fill="#6c006c" d="M462.4 1099.6l6.7 1.1l2.4-2.9l-6.7-1z"/><path fill="#00adad" d="M479 1143.7l6.7 1.1v-45l-6.7-1.1z"/><path fill="#00f5f5" d="M485.7 1144.8l2.4-2.9v-45l-2.4 2.9z"/><path fill="#00d6d6" d="M479 1098.7l6.7 1.1l2.4-2.9l-6.6-1z"/><path fill="#adad00" d="M495.6 1146.3l6.7 1.1v-48.2l-6.7-1z"/><path fill="#f5f500" d="M502.3 1147.4l2.4-2.9v-48.1l-2.4 2.8z"/><path fill="#d6d600" d="M495.6 1098.2l6.7 1l2.4-2.8l-6.6-1z"/><path fill="#ad00ad" d="M512.2 1148.9l6.7 1.1v-48.2l-6.6-1z"/><path fill="#f500f5" d="M518.9 1150l2.4-2.8v-48.2l-2.4 2.8z"/><path fill="#d600d6" d="M512.3 1100.8l6.6 1l2.4-2.8l-6.6-1z"/><path fill="#000057" d="M528.8 1151.6l6.7 1v-48.1l-6.6-1.1z"/><path fill="#00007b" d="M535.5 1152.6l2.4-2.8v-48.2l-2.4 2.9z"/><path fill="#00006c" d="M528.9 1103.4l6.6 1.1l2.4-2.9l-6.6-1z"/><path fill="#8b8bad" d="M545.4 1154.2l6.7 1v-53l-6.6-1z"/><path fill="#c4c4f5" d="M552.1 1155.2l2.4-2.8v-53l-2.4 2.8z"/><path fill="#ababd6" d="M545.5 1101.2l6.6 1l2.4-2.8l-6.6-1z"/><path fill="#00458b" d="M562.1 1156.8l6.6 1v-53l-6.6-1z"/><path fill="#0062c4" d="M568.7 1157.8l2.4-2.8v-53l-2.4 2.8z"/><path fill="#0056ab" d="M562.1 1103.8l6.6 1l2.4-2.8l-6.6-1z"/><path fill="#ad5757" d="M578.7 1159.4l6.6 1v-55.8l-6.6-1.1z"/><path fill="#f57b7b" d="M585.3 1160.4l2.4-2.8l0.1-55.9l-2.5 2.9z"/><path fill="#d66c6c" d="M578.7 1103.5l6.6 1.1l2.5-2.9l-6.7-1z"/><path fill="#450045" d="M595.3 1162l6.6 1.1v-61.7l-6.6-1.1z"/><path fill="#620062" d="M601.9 1163.1l2.4-2.9l0.1-61.6l-2.5 2.8z"/><path fill="#560056" d="M595.3 1100.3l6.6 1.1l2.5-2.8l-6.7-1.1z"/><path fill="#8badad" d="M611.9 1164.6l6.6 1.1v-54l-6.6-1.1z"/><path fill="#c4f5f5" d="M618.5 1165.7l2.4-2.9l0.1-53.9l-2.5 2.8z"/><path fill="#abd6d6" d="M611.9 1110.6l6.6 1.1l2.5-2.8l-6.7-1.1z"/><path fill="#adad8b" d="M628.5 1167.2l6.6 1.1l0.1-53l-6.7-1.1z"/><path fill="#f5f5c4" d="M635.1 1168.3l2.5-2.8v-53.1l-2.4 2.9z"/><path fill="#d6d6ab" d="M628.5 1114.2l6.7 1.1l2.4-2.9l-6.7-1z"/><path fill="#682345" d="M645.1 1169.9l6.6 1l0.1-53l-6.7-1.1z"/><path fill="#933162" d="M651.7 1170.9l2.5-2.8v-53.1l-2.4 2.9z"/><path fill="#812b56" d="M645.1 1116.8l6.7 1.1l2.4-2.9l-6.7-1z"/><path fill="#6868ad" d="M661.7 1172.5l6.6 1l0.1-46.3l-6.7-1z"/><path fill="#9393f5" d="M668.3 1173.5l2.5-2.8v-46.3l-2.4 2.8z"/><path fill="#8181d6" d="M661.7 1126.2l6.7 1l2.4-2.8l-6.6-1.1z"/><path fill="#688bad" d="M323.5 1127.2l6.7 1.1v-25.5l-6.7-1z"/><path fill="#93c4f5" d="M330.2 1128.3l2.4-2.9v-25.4l-2.4 2.8z"/><path fill="#81abd6" d="M323.5 1101.8l6.7 1l2.4-2.8l-6.7-1z"/><path fill="#adad68" d="M340.1 1129.8l6.7 1.1v-26l-6.7-1.1z"/><path fill="#f5f593" d="M346.8 1130.9l2.4-2.8v-26l-2.4 2.8z"/><path fill="#d6d681" d="M340.1 1103.8l6.7 1.1l2.4-2.8l-6.7-1.1z"/><path fill="#8bad8b" d="M356.7 1132.5l6.7 1v-26.7l-6.7-1.1z"/><path fill="#c4f5c4" d="M363.4 1133.5l2.4-2.8v-26.7l-2.4 2.8z"/><path fill="#abd6ab" d="M356.7 1105.7l6.7 1.1l2.4-2.8l-6.7-1.1z"/><path fill="#8badad" d="M373.3 1135.1l6.7 1v-27.4l-6.7-1.1z"/><path fill="#c4f5f5" d="M380 1136.1l2.4-2.8v-27.5l-2.4 2.9z"/><path fill="#abd6d6" d="M373.3 1107.6l6.7 1.1l2.4-2.9l-6.6-1z"/><path fill="#008bad" d="M389.9 1137.7l6.7 1v-28.4l-6.7-1.1z"/><path fill="#00c4f5" d="M396.6 1138.7l2.4-2.8v-28.5l-2.4 2.9z"/><path fill="#00abd6" d="M389.9 1109.2l6.7 1.1l2.4-2.9l-6.6-1z"/><path fill="#0000ad" d="M406.5 1140.3l6.7 1.1v-30.7l-6.7-1z"/><path fill="#0000f5" d="M413.2 1141.4l2.4-2.9v-30.6l-2.4 2.8z"/><path fill="#0000d6" d="M406.5 1109.7l6.7 1l2.4-2.8l-6.6-1.1z"/><path fill="#005757" d="M423.1 1142.9l6.7 1.1v-33.3l-6.6-1z"/><path fill="#007b7b" d="M429.8 1144l2.4-2.9v-33.2l-2.4 2.8z"/><path fill="#006c6c" d="M423.2 1109.7l6.6 1l2.4-2.8l-6.6-1z"/><path fill="#570000" d="M439.8 1145.5l6.6 1.1v-36.3l-6.6-1z"/><path fill="#7b0000" d="M446.4 1146.6l2.4-2.8v-36.3l-2.4 2.8z"/><path fill="#6c0000" d="M439.8 1109.3l6.6 1l2.4-2.8l-6.6-1z"/><path fill="#570057" d="M456.4 1148.2l6.6 1v-39.7l-6.6-1z"/><path fill="#7b007b" d="M463 1149.2l2.4-2.8v-39.7l-2.4 2.8z"/><path fill="#6c006c" d="M456.4 1108.5l6.6 1l2.4-2.8l-6.6-1z"/><path fill="#00adad" d="M473 1150.8l6.6 1v-43.5l-6.6-1.1z"/><path fill="#00f5f5" d="M479.6 1151.8l2.4-2.8v-43.5l-2.4 2.8z"/><path fill="#00d6d6" d="M473 1107.2l6.6 1.1l2.4-2.8l-6.6-1.1z"/><path fill="#adad00" d="M489.6 1153.4l6.6 1v-47.1l-6.6-1.1z"/><path fill="#f5f500" d="M496.2 1154.4l2.4-2.8l0.1-47.2l-2.5 2.9z"/><path fill="#d6d600" d="M489.6 1106.2l6.6 1.1l2.5-2.9l-6.7-1z"/><path fill="#ad00ad" d="M506.2 1156l6.6 1.1v-48.2l-6.6-1z"/><path fill="#f500f5" d="M512.8 1157.1l2.4-2.9l0.1-48.1l-2.5 2.8z"/><path fill="#d600d6" d="M506.2 1107.9l6.6 1l2.5-2.8l-6.7-1.1z"/><path fill="#000057" d="M522.8 1158.6l6.6 1.1v-48.2l-6.6-1z"/><path fill="#00007b" d="M529.4 1159.7l2.4-2.9l0.1-48.1l-2.5 2.8z"/><path fill="#00006c" d="M522.8 1110.5l6.6 1l2.5-2.8l-6.7-1z"/><path fill="#8b8bad" d="M539.4 1161.2l6.6 1.1v-53l-6.6-1z"/><path fill="#c4c4f5" d="M546 1162.3l2.5-2.8v-53l-2.5 2.8z"/><path fill="#ababd6" d="M539.4 1108.3l6.6 1l2.5-2.8l-6.7-1.1z"/><path fill="#00458b" d="M556 1163.9l6.6 1l0.1-54.9l-6.7-1.1z"/><path fill="#0062c4" d="M562.6 1164.9l2.5-2.8v-54.9l-2.4 2.8z"/><path fill="#0056ab" d="M556 1108.9l6.7 1.1l2.4-2.8l-6.7-1.1z"/><path fill="#ad5757" d="M572.6 1166.5l6.6 1l0.1-57.8l-6.7-1z"/><path fill="#f57b7b" d="M579.2 1167.5l2.5-2.8v-57.8l-2.4 2.8z"/><path fill="#d66c6c" d="M572.6 1108.7l6.7 1l2.4-2.8l-6.7-1.1z"/><path fill="#450045" d="M589.2 1169.1l6.6 1l0.1-65.5l-6.7-1.1z"/><path fill="#620062" d="M595.8 1170.1l2.5-2.8v-65.5l-2.4 2.8z"/><path fill="#560056" d="M589.2 1103.5l6.7 1.1l2.4-2.8l-6.6-1.1z"/><path fill="#8badad" d="M605.8 1171.7l6.7 1.1v-55l-6.7-1z"/><path fill="#c4f5f5" d="M612.5 1172.8l2.4-2.9v-54.9l-2.4 2.8z"/><path fill="#abd6d6" d="M605.8 1116.8l6.7 1l2.4-2.8l-6.6-1.1z"/><path fill="#adad8b" d="M622.4 1174.3l6.7 1.1v-55l-6.7-1z"/><path fill="#f5f5c4" d="M629.1 1175.4l2.4-2.9v-54.9l-2.4 2.8z"/><path fill="#d6d6ab" d="M622.4 1119.4l6.7 1l2.4-2.8l-6.6-1.1z"/><path fill="#682345" d="M639 1176.9l6.7 1.1v-55l-6.7-1z"/><path fill="#933162" d="M645.7 1178l2.4-2.8v-55l-2.4 2.8z"/><path fill="#812b56" d="M639 1122l6.7 1l2.4-2.8l-6.6-1.1z"/><path fill="#6868ad" d="M655.6 1179.6l6.7 1v-48.2l-6.6-1.1z"/><path fill="#9393f5" d="M662.3 1180.6l2.4-2.8v-48.3l-2.4 2.9z"/><path fill="#8181d6" d="M655.7 1131.3l6.6 1.1l2.4-2.9l-6.6-1z"/><path fill="#688bad" d="M317.5 1134.3l6.6 1v-23l-6.6-1.1z"/><path fill="#93c4f5" d="M324.1 1135.3l2.4-2.8v-23l-2.4 2.8z"/><path fill="#81abd6" d="M317.5 1111.2l6.6 1.1l2.4-2.8l-6.6-1.1z"/><path fill="#adad68" d="M334.1 1136.9l6.6 1v-23.5l-6.6-1z"/><path fill="#f5f593" d="M340.7 1137.9l2.4-2.8v-23.5l-2.4 2.8z"/><path fill="#d6d681" d="M334.1 1113.4l6.6 1l2.4-2.8l-6.6-1z"/><path fill="#8bad8b" d="M350.7 1139.5l6.6 1.1v-24.2l-6.6-1.1z"/><path fill="#c4f5c4" d="M357.3 1140.6l2.4-2.9v-24.2l-2.4 2.9z"/><path fill="#abd6ab" d="M350.7 1115.3l6.6 1.1l2.4-2.9l-6.6-1z"/><path fill="#8badad" d="M367.3 1142.1l6.6 1.1v-24.9l-6.6-1.1z"/><path fill="#c4f5f5" d="M373.9 1143.2l2.4-2.8v-25l-2.4 2.9z"/><path fill="#abd6d6" d="M367.3 1117.2l6.6 1.1l2.4-2.9l-6.6-1z"/><path fill="#008bad" d="M383.9 1144.8l6.6 1v-26l-6.6-1z"/><path fill="#00c4f5" d="M390.5 1145.8l2.4-2.8l0.1-26l-2.5 2.8z"/><path fill="#00abd6" d="M383.9 1118.8l6.6 1l2.5-2.8l-6.7-1.1z"/><path fill="#0000ad" d="M400.5 1147.4l6.6 1v-28.1l-6.6-1.1z"/><path fill="#0000f5" d="M407.1 1148.4l2.5-2.8v-28.1l-2.5 2.8z"/><path fill="#0000d6" d="M400.5 1119.2l6.6 1.1l2.5-2.8l-6.7-1.1z"/><path fill="#005757" d="M417.1 1150l6.6 1v-30.7l-6.6-1z"/><path fill="#007b7b" d="M423.7 1151l2.5-2.8v-30.7l-2.5 2.8z"/><path fill="#006c6c" d="M417.1 1119.3l6.6 1l2.5-2.8l-6.7-1.1z"/><path fill="#570000" d="M433.7 1152.6l6.6 1.1v-33.8l-6.6-1.1z"/><path fill="#7b0000" d="M440.3 1153.7l2.5-2.9v-33.8l-2.5 2.9z"/><path fill="#6c0000" d="M433.7 1118.8l6.6 1.1l2.5-2.9l-6.7-1z"/><path fill="#570057" d="M450.3 1155.2l6.6 1.1l0.1-37.4l-6.7-1z"/><path fill="#7b007b" d="M456.9 1156.3l2.5-2.9v-37.3l-2.4 2.8z"/><path fill="#6c006c" d="M450.3 1117.9l6.7 1l2.4-2.8l-6.7-1z"/><path fill="#00adad" d="M466.9 1157.8l6.6 1.1l0.1-41.4l-6.7-1z"/><path fill="#00f5f5" d="M473.5 1158.9l2.5-2.8v-41.4l-2.4 2.8z"/><path fill="#00d6d6" d="M466.9 1116.5l6.7 1l2.4-2.8l-6.7-1z"/><path fill="#adad00" d="M483.5 1160.5l6.7 1v-45.2l-6.7-1.1z"/><path fill="#f5f500" d="M490.2 1161.5l2.4-2.8v-45.3l-2.4 2.9z"/><path fill="#d6d600" d="M483.5 1115.2l6.7 1.1l2.4-2.9l-6.7-1z"/><path fill="#ad00ad" d="M500.1 1163.1l6.7 1v-47.2l-6.7-1z"/><path fill="#f500f5" d="M506.8 1164.1l2.4-2.8v-47.2l-2.4 2.8z"/><path fill="#d600d6" d="M500.1 1115.9l6.7 1l2.4-2.8l-6.6-1z"/><path fill="#000057" d="M516.7 1165.7l6.7 1v-49.1l-6.7-1z"/><path fill="#00007b" d="M523.4 1166.7l2.4-2.8v-49.1l-2.4 2.8z"/><path fill="#00006c" d="M516.7 1116.6l6.7 1l2.4-2.8l-6.6-1z"/><path fill="#8b8bad" d="M533.3 1168.3l6.7 1.1v-53l-6.7-1.1z"/><path fill="#c4c4f5" d="M540 1169.4l2.4-2.9v-53l-2.4 2.9z"/><path fill="#ababd6" d="M533.3 1115.3l6.7 1.1l2.4-2.9l-6.6-1z"/><path fill="#00458b" d="M549.9 1170.9l6.7 1.1v-57.8l-6.7-1.1z"/><path fill="#0062c4" d="M556.6 1172l2.4-2.9v-57.8l-2.4 2.9z"/><path fill="#0056ab" d="M549.9 1113.1l6.7 1.1l2.4-2.9l-6.6-1z"/><path fill="#ad5757" d="M566.5 1173.5l6.7 1.1v-60.7l-6.6-1.1z"/><path fill="#f57b7b" d="M573.2 1174.6l2.4-2.8v-60.8l-2.4 2.9z"/><path fill="#d66c6c" d="M566.6 1112.8l6.6 1.1l2.4-2.9l-6.6-1z"/><path fill="#450045" d="M583.1 1176.2l6.7 1v-69.4l-6.6-1z"/><path fill="#620062" d="M589.8 1177.2l2.4-2.8v-69.4l-2.4 2.8z"/><path fill="#560056" d="M583.2 1106.8l6.6 1l2.4-2.8l-6.6-1.1z"/><path fill="#8badad" d="M599.7 1178.8l6.7 1v-55.9l-6.6-1z"/><path fill="#c4f5f5" d="M606.4 1179.8l2.4-2.8v-55.9l-2.4 2.8z"/><path fill="#abd6d6" d="M599.8 1122.9l6.6 1l2.4-2.8l-6.6-1.1z"/><path fill="#adad8b" d="M616.3 1181.4l6.7 1v-56.9l-6.6-1z"/><path fill="#f5f5c4" d="M623 1182.4l2.4-2.8v-56.9l-2.4 2.8z"/><path fill="#d6d6ab" d="M616.4 1124.5l6.6 1l2.4-2.8l-6.6-1z"/><path fill="#682345" d="M633 1184l6.6 1.1v-57.9l-6.6-1.1z"/><path fill="#933162" d="M639.6 1185.1l2.4-2.9v-57.9l-2.4 2.9z"/><path fill="#812b56" d="M633 1126.1l6.6 1.1l2.4-2.9l-6.6-1z"/><path fill="#6868ad" d="M649.6 1186.6l6.6 1.1v-51.2l-6.6-1z"/><path fill="#9393f5" d="M656.2 1187.7l2.4-2.9l0.1-51.1l-2.5 2.8z"/><path fill="#8181d6" d="M649.6 1135.5l6.6 1l2.5-2.8l-6.7-1z"/><path fill="#688bad" d="M311.4 1141.3l6.7 1.1v-20.7l-6.7-1z"/><path fill="#93c4f5" d="M318.1 1142.4l2.4-2.8v-20.7l-2.4 2.8z"/><path fill="#81abd6" d="M311.4 1120.7l6.7 1l2.4-2.8l-6.7-1z"/><path fill="#adad68" d="M328 1144l6.7 1v-21l-6.7-1.1z"/><path fill="#f5f593" d="M334.7 1145l2.4-2.8v-21.1l-2.4 2.9z"/><path fill="#d6d681" d="M328 1122.9l6.7 1.1l2.4-2.9l-6.7-1z"/><path fill="#8bad8b" d="M344.6 1146.6l6.7 1v-21.6l-6.7-1.1z"/><path fill="#c4f5c4" d="M351.3 1147.6l2.4-2.8v-21.7l-2.4 2.9z"/><path fill="#abd6ab" d="M344.6 1124.9l6.7 1.1l2.4-2.9l-6.7-1z"/><path fill="#8badad" d="M361.2 1149.2l6.7 1v-22.3l-6.7-1.1z"/><path fill="#c4f5f5" d="M367.9 1150.2l2.4-2.8v-22.4l-2.4 2.9z"/><path fill="#abd6d6" d="M361.2 1126.8l6.7 1.1l2.4-2.9l-6.6-1z"/><path fill="#008bad" d="M377.8 1151.8l6.7 1.1v-23.5l-6.7-1z"/><path fill="#00c4f5" d="M384.5 1152.9l2.4-2.9v-23.4l-2.4 2.8z"/><path fill="#00abd6" d="M377.8 1128.4l6.7 1l2.4-2.8l-6.6-1z"/><path fill="#0000ad" d="M394.4 1154.4l6.7 1.1v-25.5l-6.7-1z"/><path fill="#0000f5" d="M401.1 1155.5l2.4-2.8v-25.5l-2.4 2.8z"/><path fill="#0000d6" d="M394.4 1129l6.7 1l2.4-2.8l-6.6-1z"/><path fill="#005757" d="M411 1157l6.7 1.1v-27.9l-6.7-1.1z"/><path fill="#007b7b" d="M417.7 1158.1l2.4-2.8v-28l-2.4 2.9z"/><path fill="#006c6c" d="M411 1129.1l6.7 1.1l2.4-2.9l-6.6-1z"/><path fill="#570000" d="M427.6 1159.7l6.7 1v-30.9l-6.7-1.1z"/><path fill="#7b0000" d="M434.3 1160.7l2.4-2.8v-30.9l-2.4 2.8z"/><path fill="#6c0000" d="M427.6 1128.7l6.7 1.1l2.4-2.8l-6.6-1.1z"/><path fill="#570057" d="M444.2 1162.3l6.7 1v-34.4l-6.6-1z"/><path fill="#7b007b" d="M450.9 1163.3l2.4-2.8v-34.4l-2.4 2.8z"/><path fill="#6c006c" d="M444.3 1127.9l6.6 1l2.4-2.8l-6.6-1z"/><path fill="#00adad" d="M460.8 1164.9l6.7 1.1v-38.4l-6.6-1.1z"/><path fill="#00f5f5" d="M467.5 1166l2.4-2.9v-38.4l-2.4 2.9z"/><path fill="#00d6d6" d="M460.9 1126.5l6.6 1.1l2.4-2.9l-6.6-1z"/><path fill="#adad00" d="M477.5 1167.5l6.6 1.1v-42.4l-6.6-1z"/><path fill="#f5f500" d="M484.1 1168.6l2.4-2.9v-42.3l-2.4 2.8z"/><path fill="#d6d600" d="M477.5 1125.2l6.6 1l2.4-2.8l-6.6-1.1z"/><path fill="#ad00ad" d="M494.1 1170.1l6.6 1.1v-46.2l-6.6-1.1z"/><path fill="#f500f5" d="M500.7 1171.2l2.4-2.8v-46.3l-2.4 2.9z"/><path fill="#d600d6" d="M494.1 1123.9l6.6 1.1l2.4-2.9l-6.6-1z"/><path fill="#000057" d="M510.7 1172.8l6.6 1v-50.1l-6.6-1z"/><path fill="#00007b" d="M517.3 1173.8l2.4-2.8v-50.1l-2.4 2.8z"/><path fill="#00006c" d="M510.7 1122.7l6.6 1l2.4-2.8l-6.6-1z"/><path fill="#8b8bad" d="M527.3 1175.4l6.6 1v-53.9l-6.6-1.1z"/><path fill="#c4c4f5" d="M533.9 1176.4l2.4-2.8v-54l-2.4 2.9z"/><path fill="#ababd6" d="M527.3 1121.4l6.6 1.1l2.4-2.9l-6.6-1z"/><path fill="#00458b" d="M543.9 1178l6.6 1v-59.7l-6.6-1z"/><path fill="#0062c4" d="M550.5 1179l2.4-2.8l0.1-59.7l-2.5 2.8z"/><path fill="#0056ab" d="M543.9 1118.3l6.6 1l2.5-2.8l-6.7-1.1z"/><path fill="#ad5757" d="M560.5 1180.6l6.6 1.1v-63.7l-6.6-1z"/><path fill="#f57b7b" d="M567.1 1181.7l2.4-2.9l0.1-63.6l-2.5 2.8z"/><path fill="#d66c6c" d="M560.5 1117l6.6 1l2.5-2.8l-6.7-1z"/><path fill="#450045" d="M577.1 1183.2l6.6 1.1v-73.3l-6.6-1z"/><path fill="#620062" d="M583.7 1184.3l2.4-2.8l0.1-73.3l-2.5 2.8z"/><path fill="#560056" d="M577.1 1110l6.6 1l2.5-2.8l-6.7-1.1z"/><path fill="#8badad" d="M593.7 1185.9l6.6 1v-58.8l-6.6-1.1z"/><path fill="#c4f5f5" d="M600.3 1186.9l2.4-2.8l0.1-58.9l-2.5 2.9z"/><path fill="#abd6d6" d="M593.7 1127l6.6 1.1l2.5-2.9l-6.7-1z"/><path fill="#adad8b" d="M610.3 1188.5l6.6 1v-59.8l-6.6-1z"/><path fill="#f5f5c4" d="M616.9 1189.5l2.4-2.8l0.1-59.8l-2.5 2.8z"/><path fill="#d6d6ab" d="M610.3 1128.7l6.6 1l2.5-2.8l-6.7-1.1z"/><path fill="#682345" d="M626.9 1191.1l6.6 1l0.1-60.8l-6.7-1z"/><path fill="#933162" d="M633.5 1192.1l2.5-2.8v-60.8l-2.4 2.8z"/><path fill="#812b56" d="M626.9 1130.3l6.7 1l2.4-2.8l-6.7-1z"/><path fill="#6868ad" d="M643.5 1193.7l6.6 1.1l0.1-54.1l-6.7-1z"/><path fill="#9393f5" d="M650.1 1194.8l2.5-2.9v-54l-2.4 2.8z"/><path fill="#8181d6" d="M643.5 1139.7l6.7 1l2.4-2.8l-6.7-1.1z"/><path fill="#688bad" d="M305.4 1148.4l6.6 1v-18.2l-6.6-1z"/><path fill="#93c4f5" d="M312 1149.4l2.4-2.8v-18.2l-2.4 2.8z"/><path fill="#81abd6" d="M305.4 1130.2l6.6 1l2.4-2.8l-6.6-1.1z"/><path fill="#adad68" d="M322 1151l6.6 1.1v-18.6l-6.6-1.1z"/><path fill="#f5f593" d="M328.6 1152.1l2.4-2.9v-18.5l-2.4 2.8z"/><path fill="#d6d681" d="M322 1132.4l6.6 1.1l2.4-2.8l-6.6-1.1z"/><path fill="#8bad8b" d="M338.6 1153.6l6.6 1.1v-19.1l-6.6-1.1z"/><path fill="#c4f5c4" d="M345.2 1154.7l2.4-2.8v-19.2l-2.4 2.9z"/><path fill="#abd6ab" d="M338.6 1134.5l6.6 1.1l2.4-2.9l-6.6-1z"/><path fill="#8badad" d="M355.2 1156.3l6.6 1v-19.8l-6.6-1.1z"/><path fill="#c4f5f5" d="M361.8 1157.3l2.4-2.8v-19.8l-2.4 2.8z"/><path fill="#abd6d6" d="M355.2 1136.4l6.6 1.1l2.4-2.8l-6.6-1.1z"/><path fill="#008bad" d="M371.8 1158.9l6.6 1v-20.9l-6.6-1z"/><path fill="#00c4f5" d="M378.4 1159.9l2.4-2.8v-20.9l-2.4 2.8z"/><path fill="#00abd6" d="M371.8 1138l6.6 1l2.4-2.8l-6.6-1z"/><path fill="#0000ad" d="M388.4 1161.5l6.6 1v-22.7l-6.6-1.1z"/><path fill="#0000f5" d="M395 1162.5l2.4-2.8v-22.8l-2.4 2.9z"/><path fill="#0000d6" d="M388.4 1138.7l6.6 1.1l2.4-2.9l-6.6-1z"/><path fill="#005757" d="M405 1164.1l6.6 1.1v-25.2l-6.6-1.1z"/><path fill="#007b7b" d="M411.6 1165.2l2.4-2.9l0.1-25.2l-2.5 2.9z"/><path fill="#006c6c" d="M405 1138.9l6.6 1.1l2.5-2.9l-6.7-1z"/><path fill="#570000" d="M421.6 1166.7l6.6 1.1v-28.1l-6.6-1.1z"/><path fill="#7b0000" d="M428.2 1167.8l2.4-2.8l0.1-28.1l-2.5 2.8z"/><path fill="#6c0000" d="M421.6 1138.6l6.6 1.1l2.5-2.8l-6.7-1.1z"/><path fill="#570057" d="M438.2 1169.4l6.6 1v-31.5l-6.6-1.1z"/><path fill="#7b007b" d="M444.8 1170.4l2.5-2.8v-31.5l-2.5 2.8z"/><path fill="#6c006c" d="M438.2 1137.8l6.6 1.1l2.5-2.8l-6.7-1.1z"/><path fill="#00adad" d="M454.8 1172l6.6 1v-35.4l-6.6-1.1z"/><path fill="#00f5f5" d="M461.4 1173l2.5-2.8v-35.5l-2.5 2.9z"/><path fill="#00d6d6" d="M454.8 1136.5l6.6 1.1l2.5-2.9l-6.7-1z"/><path fill="#adad00" d="M471.4 1174.6l6.6 1v-39.4l-6.6-1.1z"/><path fill="#f5f500" d="M478 1175.6l2.5-2.8v-39.5l-2.5 2.9z"/><path fill="#d6d600" d="M471.4 1135.1l6.6 1.1l2.5-2.9l-6.7-1z"/><path fill="#ad00ad" d="M488 1177.2l6.6 1.1v-44.3l-6.6-1.1z"/><path fill="#f500f5" d="M494.6 1178.3l2.5-2.9v-44.3l-2.5 2.9z"/><path fill="#d600d6" d="M488 1132.9l6.6 1.1l2.5-2.9l-6.7-1z"/><path fill="#000057" d="M504.6 1179.8l6.6 1.1l0.1-51.1l-6.7-1z"/><path fill="#00007b" d="M511.2 1180.9l2.5-2.9v-51l-2.4 2.8z"/><path fill="#00006c" d="M504.6 1128.8l6.7 1l2.4-2.8l-6.7-1z"/><path fill="#8b8bad" d="M521.2 1182.4l6.6 1.1l0.1-54.9l-6.7-1.1z"/><path fill="#c4c4f5" d="M527.8 1183.5l2.5-2.8v-55l-2.4 2.9z"/><path fill="#ababd6" d="M521.2 1127.5l6.7 1.1l2.4-2.9l-6.7-1z"/><path fill="#00458b" d="M537.8 1185.1l6.6 1l0.1-62.6l-6.7-1.1z"/><path fill="#0062c4" d="M544.4 1186.1l2.5-2.8v-62.7l-2.4 2.9z"/><path fill="#0056ab" d="M537.8 1122.4l6.7 1.1l2.4-2.9l-6.7-1z"/><path fill="#ad5757" d="M554.4 1187.7l6.6 1l0.1-67.5l-6.7-1z"/><path fill="#f57b7b" d="M561 1188.7l2.5-2.8v-67.5l-2.4 2.8z"/><path fill="#d66c6c" d="M554.4 1120.2l6.7 1l2.4-2.8l-6.6-1z"/><path fill="#450045" d="M571 1190.3l6.6 1.1l0.1-77.2l-6.7-1z"/><path fill="#620062" d="M577.6 1191.4l2.5-2.9v-77.1l-2.4 2.8z"/><path fill="#560056" d="M571 1113.2l6.7 1l2.4-2.8l-6.6-1.1z"/><path fill="#8badad" d="M587.6 1192.9l6.6 1.1l0.1-62.7l-6.7-1.1z"/><path fill="#c4f5f5" d="M594.2 1194l2.5-2.9v-62.7l-2.4 2.9z"/><path fill="#abd6d6" d="M587.6 1130.2l6.7 1.1l2.4-2.9l-6.6-1z"/><path fill="#adad8b" d="M604.2 1195.5l6.7 1.1v-63.7l-6.7-1z"/><path fill="#f5f5c4" d="M610.9 1196.6l2.4-2.8v-63.7l-2.4 2.8z"/><path fill="#d6d6ab" d="M604.2 1131.9l6.7 1l2.4-2.8l-6.6-1.1z"/><path fill="#682345" d="M620.8 1198.2l6.7 1v-62.7l-6.7-1.1z"/><path fill="#933162" d="M627.5 1199.2l2.4-2.8v-62.7l-2.4 2.8z"/><path fill="#812b56" d="M620.8 1135.4l6.7 1.1l2.4-2.8l-6.6-1.1z"/><path fill="#6868ad" d="M637.4 1200.8l6.7 1v-56.9l-6.7-1.1z"/><path fill="#9393f5" d="M644.1 1201.8l2.4-2.8v-57l-2.4 2.9z"/><path fill="#8181d6" d="M637.4 1143.8l6.7 1.1l2.4-2.9l-6.6-1z"/><path fill="#688bad" d="M299.3 1155.5l6.7 1v-15.4l-6.7-1z"/><path fill="#93c4f5" d="M306 1156.5l2.4-2.8v-15.4l-2.4 2.8z"/><path fill="#81abd6" d="M299.3 1140.1l6.7 1l2.4-2.8l-6.7-1z"/><path fill="#adad68" d="M315.9 1158.1l6.7 1v-15.6l-6.7-1.1z"/><path fill="#f5f593" d="M322.6 1159.1l2.4-2.8v-15.6l-2.4 2.8z"/><path fill="#d6d681" d="M315.9 1142.4l6.7 1.1l2.4-2.8l-6.7-1.1z"/><path fill="#8bad8b" d="M332.5 1160.7l6.7 1v-16.1l-6.7-1z"/><path fill="#c4f5c4" d="M339.2 1161.7l2.4-2.8v-16.1l-2.4 2.8z"/><path fill="#abd6ab" d="M332.5 1144.6l6.7 1l2.4-2.8l-6.7-1z"/><path fill="#8badad" d="M349.1 1163.3l6.7 1.1v-16.8l-6.7-1z"/><path fill="#c4f5f5" d="M355.8 1164.4l2.4-2.9v-16.7l-2.4 2.8z"/><path fill="#abd6d6" d="M349.1 1146.6l6.7 1l2.4-2.8l-6.7-1.1z"/><path fill="#008bad" d="M365.7 1165.9l6.7 1.1v-17.8l-6.7-1z"/><path fill="#00c4f5" d="M372.4 1167l2.4-2.8v-17.8l-2.4 2.8z"/><path fill="#00abd6" d="M365.7 1148.2l6.7 1l2.4-2.8l-6.7-1.1z"/><path fill="#0000ad" d="M382.3 1168.6l6.7 1v-19.6l-6.7-1z"/><path fill="#0000f5" d="M389 1169.6l2.4-2.8v-19.6l-2.4 2.8z"/><path fill="#0000d6" d="M382.3 1149l6.7 1l2.4-2.8l-6.6-1z"/><path fill="#005757" d="M398.9 1171.2l6.7 1v-21.8l-6.7-1z"/><path fill="#007b7b" d="M405.6 1172.2l2.4-2.8v-21.8l-2.4 2.8z"/><path fill="#006c6c" d="M398.9 1149.4l6.7 1l2.4-2.8l-6.6-1.1z"/><path fill="#570000" d="M415.5 1173.8l6.7 1v-24.5l-6.7-1.1z"/><path fill="#7b0000" d="M422.2 1174.8l2.4-2.8v-24.6l-2.4 2.9z"/><path fill="#6c0000" d="M415.5 1149.2l6.7 1.1l2.4-2.9l-6.6-1z"/><path fill="#570057" d="M432.1 1176.4l6.7 1.1v-27.9l-6.7-1z"/><path fill="#7b007b" d="M438.8 1177.5l2.4-2.9v-27.8l-2.4 2.8z"/><path fill="#6c006c" d="M432.1 1148.6l6.7 1l2.4-2.8l-6.6-1.1z"/><path fill="#00adad" d="M448.7 1179l6.7 1.1v-31.7l-6.7-1z"/><path fill="#00f5f5" d="M455.4 1180.1l2.4-2.8v-31.7l-2.4 2.8z"/><path fill="#00d6d6" d="M448.7 1147.4l6.7 1l2.4-2.8l-6.6-1z"/><path fill="#adad00" d="M465.3 1181.7l6.7 1v-35.6l-6.7-1.1z"/><path fill="#f5f500" d="M472 1182.7l2.4-2.8v-35.6l-2.4 2.8z"/><path fill="#d6d600" d="M465.3 1146l6.7 1.1l2.4-2.8l-6.6-1.1z"/><path fill="#ad00ad" d="M481.9 1184.3l6.7 1v-41.4l-6.7-1z"/><path fill="#f500f5" d="M488.6 1185.3l2.4-2.8v-41.4l-2.4 2.8z"/><path fill="#d600d6" d="M481.9 1142.9l6.7 1l2.4-2.8l-6.6-1.1z"/><path fill="#000057" d="M498.5 1186.9l6.7 1v-49.1l-6.7-1z"/><path fill="#00007b" d="M505.2 1187.9l2.4-2.8v-49.1l-2.4 2.8z"/><path fill="#00006c" d="M498.5 1137.8l6.7 1l2.4-2.8l-6.6-1.1z"/><path fill="#8b8bad" d="M515.1 1189.5l6.7 1.1v-55l-6.6-1z"/><path fill="#c4c4f5" d="M521.8 1190.6l2.4-2.9v-54.9l-2.4 2.8z"/><path fill="#ababd6" d="M515.2 1134.6l6.6 1l2.4-2.8l-6.6-1z"/><path fill="#00458b" d="M531.7 1192.1l6.7 1.1v-64.6l-6.6-1z"/><path fill="#0062c4" d="M538.4 1193.2l2.4-2.8v-64.6l-2.4 2.8z"/><path fill="#0056ab" d="M531.8 1127.6l6.6 1l2.4-2.8l-6.6-1.1z"/><path fill="#ad5757" d="M548.3 1194.8l6.7 1v-71.3l-6.6-1.1z"/><path fill="#f57b7b" d="M555 1195.8l2.4-2.8v-71.4l-2.4 2.9z"/><path fill="#d66c6c" d="M548.4 1123.4l6.6 1.1l2.4-2.9l-6.6-1z"/><path fill="#450045" d="M564.9 1197.4l6.7 1v-81l-6.6-1z"/><path fill="#620062" d="M571.6 1198.4l2.4-2.8v-81l-2.4 2.8z"/><path fill="#560056" d="M565 1116.4l6.6 1l2.4-2.8l-6.6-1.1z"/><path fill="#8badad" d="M581.5 1200l6.7 1v-67.5l-6.6-1z"/><path fill="#c4f5f5" d="M588.2 1201l2.4-2.8v-67.5l-2.4 2.8z"/><path fill="#abd6d6" d="M581.6 1132.5l6.6 1l2.4-2.8l-6.6-1.1z"/><path fill="#adad8b" d="M598.1 1202.6l6.7 1.1v-69.5l-6.6-1.1z"/><path fill="#f5f5c4" d="M604.8 1203.7l2.4-2.9v-69.4l-2.4 2.8z"/><path fill="#d6d6ab" d="M598.2 1133.1l6.6 1.1l2.4-2.8l-6.6-1.1z"/><path fill="#682345" d="M614.7 1205.2l6.7 1.1v-67.6l-6.6-1z"/><path fill="#933162" d="M621.4 1206.3l2.4-2.8v-67.6l-2.4 2.8z"/><path fill="#812b56" d="M614.8 1137.7l6.6 1l2.4-2.8l-6.6-1.1z"/><path fill="#6868ad" d="M631.3 1207.9l6.7 1v-60.8l-6.6-1.1z"/><path fill="#9393f5" d="M638 1208.9l2.4-2.8v-60.9l-2.4 2.9z"/><path fill="#8181d6" d="M631.4 1147l6.6 1.1l2.4-2.9l-6.6-1z"/><path fill="#688bad" d="M293.3 1162.5l6.6 1.1v-13l-6.6-1z"/><path fill="#93c4f5" d="M299.9 1163.6l2.4-2.9v-12.9l-2.4 2.8z"/><path fill="#81abd6" d="M293.3 1149.6l6.6 1l2.4-2.8l-6.6-1.1z"/><path fill="#adad68" d="M309.9 1165.1l6.6 1.1v-13.2l-6.6-1z"/><path fill="#f5f593" d="M316.5 1166.2l2.4-2.8v-13.2l-2.4 2.8z"/><path fill="#d6d681" d="M309.9 1152l6.6 1l2.4-2.8l-6.6-1.1z"/><path fill="#8bad8b" d="M326.5 1167.8l6.6 1v-13.6l-6.6-1z"/><path fill="#c4f5c4" d="M333.1 1168.8l2.4-2.8v-13.6l-2.4 2.8z"/><path fill="#abd6ab" d="M326.5 1154.2l6.6 1l2.4-2.8l-6.6-1.1z"/><path fill="#8badad" d="M343.1 1170.4l6.6 1v-14.2l-6.6-1.1z"/><path fill="#c4f5f5" d="M349.7 1171.4l2.4-2.8v-14.2l-2.4 2.8z"/><path fill="#abd6d6" d="M343.1 1156.1l6.6 1.1l2.4-2.8l-6.6-1.1z"/><path fill="#008bad" d="M359.7 1173l6.6 1v-15.2l-6.6-1z"/><path fill="#00c4f5" d="M366.3 1174l2.4-2.8v-15.2l-2.4 2.8z"/><path fill="#00abd6" d="M359.7 1157.8l6.6 1l2.4-2.8l-6.6-1.1z"/><path fill="#0000ad" d="M376.3 1175.6l6.6 1.1v-17l-6.6-1z"/><path fill="#0000f5" d="M382.9 1176.7l2.4-2.9v-16.9l-2.4 2.8z"/><path fill="#0000d6" d="M376.3 1158.7l6.6 1l2.4-2.8l-6.6-1z"/><path fill="#005757" d="M392.9 1178.2l6.6 1.1v-19.1l-6.6-1.1z"/><path fill="#007b7b" d="M399.5 1179.3l2.4-2.8v-19.1l-2.4 2.8z"/><path fill="#006c6c" d="M392.9 1159.1l6.6 1.1l2.4-2.8l-6.6-1.1z"/><path fill="#570000" d="M409.5 1180.9l6.6 1v-21.8l-6.6-1z"/><path fill="#7b0000" d="M416.1 1181.9l2.4-2.8v-21.8l-2.4 2.8z"/><path fill="#6c0000" d="M409.5 1159.1l6.6 1l2.4-2.8l-6.6-1z"/><path fill="#570057" d="M426.1 1183.5l6.6 1v-25l-6.6-1z"/><path fill="#7b007b" d="M432.7 1184.5l2.4-2.8v-25l-2.4 2.8z"/><path fill="#6c006c" d="M426.1 1158.5l6.6 1l2.4-2.8l-6.6-1z"/><path fill="#00adad" d="M442.7 1186.1l6.6 1v-28.7l-6.6-1z"/><path fill="#00f5f5" d="M449.3 1187.1l2.4-2.8v-28.7l-2.4 2.8z"/><path fill="#00d6d6" d="M442.7 1157.4l6.6 1l2.4-2.8l-6.6-1.1z"/><path fill="#adad00" d="M459.3 1188.7l6.6 1.1v-32.8l-6.6-1z"/><path fill="#f5f500" d="M465.9 1189.8l2.4-2.9v-32.7l-2.4 2.8z"/><path fill="#d6d600" d="M459.3 1156l6.6 1l2.4-2.8l-6.6-1z"/><path fill="#ad00ad" d="M475.9 1191.3l6.6 1.1v-38.5l-6.6-1.1z"/><path fill="#f500f5" d="M482.5 1192.4l2.4-2.8v-38.6l-2.4 2.9z"/><path fill="#d600d6" d="M475.9 1152.8l6.6 1.1l2.4-2.9l-6.6-1z"/><path fill="#000057" d="M492.5 1194l6.6 1v-46.2l-6.6-1.1z"/><path fill="#00007b" d="M499.1 1195l2.4-2.8v-46.3l-2.4 2.9z"/><path fill="#00006c" d="M492.5 1147.7l6.6 1.1l2.4-2.9l-6.6-1z"/><path fill="#8b8bad" d="M509.1 1196.6l6.6 1v-53.9l-6.6-1.1z"/><path fill="#c4c4f5" d="M515.7 1197.6l2.4-2.8l0.1-54l-2.5 2.9z"/><path fill="#ababd6" d="M509.1 1142.6l6.6 1.1l2.5-2.9l-6.7-1z"/><path fill="#00458b" d="M525.7 1199.2l6.6 1.1v-65.6l-6.6-1z"/><path fill="#0062c4" d="M532.3 1200.3l2.4-2.9l0.1-65.5l-2.5 2.8z"/><path fill="#0056ab" d="M525.7 1133.7l6.6 1l2.5-2.8l-6.7-1.1z"/><path fill="#ad5757" d="M542.3 1201.8l6.6 1.1v-74.3l-6.6-1z"/><path fill="#f57b7b" d="M548.9 1202.9l2.4-2.9l0.1-74.2l-2.5 2.8z"/><path fill="#d66c6c" d="M542.3 1127.6l6.6 1l2.5-2.8l-6.7-1z"/><path fill="#450045" d="M558.9 1204.4l6.6 1.1v-83.9l-6.6-1.1z"/><path fill="#620062" d="M565.5 1205.5l2.4-2.8l0.1-83.9l-2.5 2.8z"/><path fill="#560056" d="M558.9 1120.5l6.6 1.1l2.5-2.8l-6.7-1.1z"/><path fill="#8badad" d="M575.5 1207.1l6.6 1v-75.2l-6.6-1.1z"/><path fill="#c4f5f5" d="M582.1 1208.1l2.4-2.8l0.1-75.3l-2.5 2.9z"/><path fill="#abd6d6" d="M575.5 1131.8l6.6 1.1l2.5-2.9l-6.7-1z"/><path fill="#adad8b" d="M592.1 1209.7l6.6 1v-77.2l-6.6-1z"/><path fill="#f5f5c4" d="M598.7 1210.7l2.4-2.8l0.1-77.2l-2.5 2.8z"/><path fill="#d6d6ab" d="M592.1 1132.5l6.6 1l2.5-2.8l-6.7-1z"/><path fill="#682345" d="M608.7 1212.3l6.6 1.1v-75.3l-6.6-1.1z"/><path fill="#933162" d="M615.3 1213.4l2.4-2.9l0.1-75.3l-2.5 2.9z"/><path fill="#812b56" d="M608.7 1137l6.6 1.1l2.5-2.9l-6.7-1z"/><path fill="#6868ad" d="M625.3 1214.9l6.6 1.1v-65.7l-6.6-1z"/><path fill="#9393f5" d="M631.9 1216l2.4-2.8l0.1-65.7l-2.5 2.8z"/><path fill="#8181d6" d="M625.3 1149.3l6.6 1l2.5-2.8l-6.7-1.1z"/><path fill="#688bad" d="M287.2 1169.6l6.7 1v-10.5l-6.7-1.1z"/><path fill="#93c4f5" d="M293.9 1170.6l2.4-2.8v-10.6l-2.4 2.9z"/><path fill="#81abd6" d="M287.2 1159l6.7 1.1l2.4-2.9l-6.7-1z"/><path fill="#adad68" d="M303.8 1172.2l6.7 1v-10.7l-6.7-1z"/><path fill="#f5f593" d="M310.5 1173.2l2.4-2.8v-10.7l-2.4 2.8z"/><path fill="#d6d681" d="M303.8 1161.5l6.7 1l2.4-2.8l-6.7-1.1z"/><path fill="#8bad8b" d="M320.4 1174.8l6.7 1.1v-11.1l-6.7-1z"/><path fill="#c4f5c4" d="M327.1 1175.9l2.4-2.9v-11l-2.4 2.8z"/><path fill="#abd6ab" d="M320.4 1163.8l6.7 1l2.4-2.8l-6.7-1.1z"/><path fill="#8badad" d="M337 1177.4l6.7 1.1v-11.6l-6.7-1.1z"/><path fill="#c4f5f5" d="M343.7 1178.5l2.4-2.8v-11.6l-2.4 2.8z"/><path fill="#abd6d6" d="M337 1165.8l6.7 1.1l2.4-2.8l-6.7-1.1z"/><path fill="#008bad" d="M353.6 1180.1l6.7 1v-12.4l-6.7-1.1z"/><path fill="#00c4f5" d="M360.3 1181.1l2.4-2.8v-12.4l-2.4 2.8z"/><path fill="#00abd6" d="M353.6 1167.6l6.7 1.1l2.4-2.8l-6.7-1.1z"/><path fill="#0000ad" d="M370.2 1182.7l6.7 1v-13.8l-6.7-1z"/><path fill="#0000f5" d="M376.9 1183.7l2.4-2.8v-13.8l-2.4 2.8z"/><path fill="#0000d6" d="M370.2 1168.9l6.7 1l2.4-2.8l-6.7-1z"/><path fill="#005757" d="M386.8 1185.3l6.7 1v-15.5l-6.7-1.1z"/><path fill="#007b7b" d="M393.5 1186.3l2.4-2.8v-15.6l-2.4 2.9z"/><path fill="#006c6c" d="M386.8 1169.7l6.7 1.1l2.4-2.9l-6.7-1z"/><path fill="#570000" d="M403.4 1187.9l6.7 1.1v-17.8l-6.7-1.1z"/><path fill="#7b0000" d="M410.1 1189l2.4-2.9v-17.8l-2.4 2.9z"/><path fill="#6c0000" d="M403.4 1170.1l6.7 1.1l2.4-2.9l-6.7-1z"/><path fill="#570057" d="M420 1190.5l6.7 1.1v-20.5l-6.7-1z"/><path fill="#7b007b" d="M426.7 1191.6l2.4-2.8v-20.5l-2.4 2.8z"/><path fill="#6c006c" d="M420 1170.1l6.7 1l2.4-2.8l-6.7-1z"/><path fill="#00adad" d="M436.6 1193.2l6.7 1v-23.6l-6.7-1z"/><path fill="#00f5f5" d="M443.3 1194.2l2.4-2.8v-23.6l-2.4 2.8z"/><path fill="#00d6d6" d="M436.6 1169.6l6.7 1l2.4-2.8l-6.7-1z"/><path fill="#adad00" d="M453.2 1195.8l6.7 1v-26.9l-6.7-1.1z"/><path fill="#f5f500" d="M459.9 1196.8l2.4-2.8v-27l-2.4 2.9z"/><path fill="#d6d600" d="M453.2 1168.8l6.7 1.1l2.4-2.9l-6.7-1z"/><path fill="#ad00ad" d="M469.8 1198.4l6.7 1.1v-33.8l-6.7-1z"/><path fill="#f500f5" d="M476.5 1199.5l2.4-2.9v-33.7l-2.4 2.8z"/><path fill="#d600d6" d="M469.8 1164.7l6.7 1l2.4-2.8l-6.7-1z"/><path fill="#000057" d="M486.4 1201l6.7 1.1v-41.5l-6.7-1z"/><path fill="#00007b" d="M493.1 1202.1l2.4-2.8v-41.5l-2.4 2.8z"/><path fill="#00006c" d="M486.4 1159.6l6.7 1l2.4-2.8l-6.7-1z"/><path fill="#8b8bad" d="M503 1203.7l6.7 1v-51.1l-6.7-1z"/><path fill="#c4c4f5" d="M509.7 1204.7l2.4-2.8v-51.1l-2.4 2.8z"/><path fill="#ababd6" d="M503 1152.6l6.7 1l2.4-2.8l-6.7-1z"/><path fill="#00458b" d="M519.6 1206.3l6.6 1l0.1-63.6l-6.7-1z"/><path fill="#0062c4" d="M526.2 1207.3l2.5-2.8v-63.6l-2.4 2.8z"/><path fill="#0056ab" d="M519.6 1142.7l6.7 1l2.4-2.8l-6.7-1.1z"/><path fill="#ad5757" d="M536.2 1208.9l6.6 1l0.1-76.1l-6.7-1.1z"/><path fill="#f57b7b" d="M542.8 1209.9l2.5-2.8v-76.2l-2.4 2.9z"/><path fill="#d66c6c" d="M536.2 1132.7l6.7 1.1l2.4-2.9l-6.6-1z"/><path fill="#450045" d="M552.8 1211.5l6.6 1.1l0.1-86.9l-6.7-1z"/><path fill="#620062" d="M559.4 1212.6l2.5-2.9v-86.8l-2.4 2.8z"/><path fill="#560056" d="M552.8 1124.7l6.7 1l2.4-2.8l-6.6-1z"/><path fill="#8badad" d="M569.4 1214.1l6.6 1.1l0.1-86.9l-6.7-1z"/><path fill="#c4f5f5" d="M576 1215.2l2.5-2.8v-86.9l-2.4 2.8z"/><path fill="#abd6d6" d="M569.4 1127.3l6.7 1l2.4-2.8l-6.6-1z"/><path fill="#adad8b" d="M586 1216.8l6.6 1l0.1-91.7l-6.7-1z"/><path fill="#f5f5c4" d="M592.6 1217.8l2.5-2.8v-91.7l-2.4 2.8z"/><path fill="#d6d6ab" d="M586 1125.1l6.7 1l2.4-2.8l-6.6-1.1z"/><path fill="#682345" d="M602.6 1219.4l6.6 1l0.1-86.9l-6.7-1z"/><path fill="#933162" d="M609.2 1220.4l2.5-2.8v-86.9l-2.4 2.8z"/><path fill="#812b56" d="M602.6 1132.5l6.7 1l2.4-2.8l-6.6-1z"/><path fill="#6868ad" d="M619.2 1222l6.6 1.1l0.1-70.6l-6.7-1z"/><path fill="#9393f5" d="M625.8 1223.1l2.5-2.9v-70.5l-2.4 2.8z"/><path fill="#8181d6" d="M619.2 1151.5l6.7 1l2.4-2.8l-6.6-1z"/><path fill="#688bad" d="M281.2 1176.6l6.6 1.1v-8.2l-6.6-1z"/><path fill="#93c4f5" d="M287.8 1177.7l2.4-2.8v-8.2l-2.4 2.8z"/><path fill="#81abd6" d="M281.2 1168.5l6.6 1l2.4-2.8l-6.6-1.1z"/><path fill="#adad68" d="M297.8 1179.2l6.6 1.1v-8.3l-6.6-1z"/><path fill="#f5f593" d="M304.4 1180.3l2.4-2.8v-8.3l-2.4 2.8z"/><path fill="#d6d681" d="M297.8 1171l6.6 1l2.4-2.8l-6.6-1z"/><path fill="#8bad8b" d="M314.4 1181.9l6.6 1v-8.5l-6.6-1.1z"/><path fill="#c4f5c4" d="M321 1182.9l2.4-2.8v-8.5l-2.4 2.8z"/><path fill="#abd6ab" d="M314.4 1173.3l6.6 1.1l2.4-2.8l-6.6-1.1z"/><path fill="#8badad" d="M331 1184.5l6.6 1v-8.9l-6.6-1.1z"/><path fill="#c4f5f5" d="M337.6 1185.5l2.4-2.8v-8.9l-2.4 2.8z"/><path fill="#abd6d6" d="M331 1175.5l6.6 1.1l2.4-2.8l-6.6-1.1z"/><path fill="#008bad" d="M347.6 1187.1l6.6 1.1v-9.6l-6.6-1.1z"/><path fill="#00c4f5" d="M354.2 1188.2l2.4-2.9v-9.6l-2.4 2.9z"/><path fill="#00abd6" d="M347.6 1177.5l6.6 1.1l2.4-2.9l-6.6-1z"/><path fill="#0000ad" d="M364.2 1189.7l6.6 1.1v-10.7l-6.6-1z"/><path fill="#0000f5" d="M370.8 1190.8l2.4-2.8v-10.7l-2.4 2.8z"/><path fill="#0000d6" d="M364.2 1179.1l6.6 1l2.4-2.8l-6.6-1.1z"/><path fill="#005757" d="M380.8 1192.4l6.6 1v-12.1l-6.6-1z"/><path fill="#007b7b" d="M387.4 1193.4l2.4-2.8v-12.1l-2.4 2.8z"/><path fill="#006c6c" d="M380.8 1180.3l6.6 1l2.4-2.8l-6.6-1.1z"/><path fill="#570000" d="M397.4 1195l6.6 1v-13.8l-6.6-1.1z"/><path fill="#7b0000" d="M404 1196l2.4-2.8v-13.8l-2.4 2.8z"/><path fill="#6c0000" d="M397.4 1181.1l6.6 1.1l2.4-2.8l-6.6-1.1z"/><path fill="#570057" d="M414 1197.6l6.6 1.1v-16l-6.6-1z"/><path fill="#7b007b" d="M420.6 1198.7l2.4-2.9v-15.9l-2.4 2.8z"/><path fill="#6c006c" d="M414 1181.7l6.6 1l2.4-2.8l-6.6-1.1z"/><path fill="#00adad" d="M430.6 1200.2l6.6 1.1v-18.5l-6.6-1z"/><path fill="#00f5f5" d="M437.2 1201.3l2.4-2.8v-18.5l-2.4 2.8z"/><path fill="#00d6d6" d="M430.6 1181.8l6.6 1l2.4-2.8l-6.6-1z"/><path fill="#adad00" d="M447.2 1202.9l6.6 1v-21.2l-6.6-1z"/><path fill="#f5f500" d="M453.8 1203.9l2.4-2.8v-21.2l-2.4 2.8z"/><path fill="#d6d600" d="M447.2 1181.7l6.6 1l2.4-2.8l-6.6-1.1z"/><path fill="#ad00ad" d="M463.8 1205.5l6.6 1v-27.9l-6.6-1.1z"/><path fill="#f500f5" d="M470.4 1206.5l2.4-2.8v-27.9l-2.4 2.8z"/><path fill="#d600d6" d="M463.8 1177.5l6.6 1.1l2.4-2.8l-6.6-1.1z"/><path fill="#000057" d="M480.4 1208.1l6.6 1.1v-35.7l-6.6-1z"/><path fill="#00007b" d="M487 1209.2l2.4-2.9v-35.6l-2.4 2.8z"/><path fill="#00006c" d="M480.4 1172.5l6.6 1l2.4-2.8l-6.6-1.1z"/><path fill="#8b8bad" d="M496.9 1210.7l6.7 1.1v-46.3l-6.6-1z"/><path fill="#c4c4f5" d="M503.6 1211.8l2.4-2.9v-46.2l-2.4 2.8z"/><path fill="#ababd6" d="M497 1164.5l6.6 1l2.4-2.8l-6.6-1.1z"/><path fill="#00458b" d="M513.5 1213.3l6.7 1.1v-59.8l-6.6-1z"/><path fill="#0062c4" d="M520.2 1214.4l2.4-2.8v-59.8l-2.4 2.8z"/><path fill="#0056ab" d="M513.6 1153.6l6.6 1l2.4-2.8l-6.6-1.1z"/><path fill="#ad5757" d="M530.1 1216l6.7 1v-76.2l-6.6-1z"/><path fill="#f57b7b" d="M536.8 1217l2.4-2.8v-76.2l-2.4 2.8z"/><path fill="#d66c6c" d="M530.2 1139.8l6.6 1l2.4-2.8l-6.6-1z"/><path fill="#450045" d="M546.7 1218.6l6.7 1v-88.7l-6.6-1.1z"/><path fill="#620062" d="M553.4 1219.6l2.4-2.8v-88.7l-2.4 2.8z"/><path fill="#560056" d="M546.8 1129.8l6.6 1.1l2.4-2.8l-6.6-1.1z"/><path fill="#8badad" d="M563.3 1221.2l6.7 1.1v-107.2l-6.6-1z"/><path fill="#c4f5f5" d="M570 1222.3l2.4-2.9v-107.1l-2.4 2.8z"/><path fill="#abd6d6" d="M563.4 1114.1l6.6 1l2.4-2.8l-6.6-1z"/><path fill="#adad8b" d="M579.9 1223.8l6.7 1.1v-115.9l-6.6-1z"/><path fill="#f5f5c4" d="M586.6 1224.9l2.4-2.8v-115.9l-2.4 2.8z"/><path fill="#d6d6ab" d="M580 1108l6.6 1l2.4-2.8l-6.6-1z"/><path fill="#682345" d="M596.5 1226.5l6.7 1v-106.2l-6.6-1.1z"/><path fill="#933162" d="M603.2 1227.5l2.4-2.8v-106.2l-2.4 2.8z"/><path fill="#812b56" d="M596.6 1120.2l6.6 1.1l2.4-2.8l-6.6-1.1z"/><path fill="#6868ad" d="M613.1 1229.1l6.7 1v-78.2l-6.6-1.1z"/><path fill="#9393f5" d="M619.8 1230.1l2.4-2.8v-78.2l-2.4 2.8z"/><path fill="#8181d6" d="M613.2 1150.8l6.6 1.1l2.4-2.8l-6.6-1.1z"/><path fill="#688bad" d="M275.1 1183.7l6.7 1v-5.7l-6.7-1.1z"/><path fill="#93c4f5" d="M281.8 1184.7l2.4-2.8v-5.7l-2.4 2.8z"/><path fill="#81abd6" d="M275.1 1177.9l6.7 1.1l2.4-2.8l-6.6-1.1z"/><path fill="#adad68" d="M291.7 1186.3l6.7 1.1v-5.9l-6.7-1z"/><path fill="#f5f593" d="M298.4 1187.4l2.4-2.9v-5.8l-2.4 2.8z"/><path fill="#d6d681" d="M291.7 1180.5l6.7 1l2.4-2.8l-6.7-1z"/><path fill="#8bad8b" d="M308.3 1188.9l6.7 1.1v-6l-6.7-1.1z"/><path fill="#c4f5c4" d="M315 1190l2.4-2.8v-6.1l-2.4 2.9z"/><path fill="#abd6ab" d="M308.3 1182.9l6.7 1.1l2.4-2.9l-6.7-1z"/><path fill="#8badad" d="M324.9 1191.6l6.7 1v-6.3l-6.7-1.1z"/><path fill="#c4f5f5" d="M331.6 1192.6l2.4-2.8v-6.3l-2.4 2.8z"/><path fill="#abd6d6" d="M324.9 1185.2l6.7 1.1l2.4-2.8l-6.7-1.1z"/><path fill="#008bad" d="M341.5 1194.2l6.7 1v-6.8l-6.7-1z"/><path fill="#00c4f5" d="M348.2 1195.2l2.4-2.8v-6.8l-2.4 2.8z"/><path fill="#00abd6" d="M341.5 1187.4l6.7 1l2.4-2.8l-6.7-1.1z"/><path fill="#0000ad" d="M358.1 1196.8l6.7 1.1v-7.6l-6.7-1.1z"/><path fill="#0000f5" d="M364.8 1197.9l2.4-2.9v-7.6l-2.4 2.9z"/><path fill="#0000d6" d="M358.1 1189.2l6.7 1.1l2.4-2.9l-6.7-1z"/><path fill="#005757" d="M374.7 1199.4l6.6 1.1v-8.7l-6.6-1z"/><path fill="#007b7b" d="M381.3 1200.5l2.5-2.8v-8.7l-2.5 2.8z"/><path fill="#006c6c" d="M374.7 1190.8l6.6 1l2.5-2.8l-6.7-1z"/><path fill="#570000" d="M391.3 1202.1l6.6 1v-9.9l-6.6-1.1z"/><path fill="#7b0000" d="M397.9 1203.1l2.5-2.8v-9.9l-2.5 2.8z"/><path fill="#6c0000" d="M391.3 1192.1l6.6 1.1l2.5-2.8l-6.7-1.1z"/><path fill="#570057" d="M407.9 1204.7l6.6 1v-11.5l-6.6-1z"/><path fill="#7b007b" d="M414.5 1205.7l2.5-2.8v-11.5l-2.5 2.8z"/><path fill="#6c006c" d="M407.9 1193.2l6.6 1l2.5-2.8l-6.7-1z"/><path fill="#00adad" d="M424.5 1207.3l6.6 1v-13.3l-6.6-1z"/><path fill="#00f5f5" d="M431.1 1208.3l2.5-2.8v-13.3l-2.5 2.8z"/><path fill="#00d6d6" d="M424.5 1194l6.6 1l2.5-2.8l-6.7-1.1z"/><path fill="#adad00" d="M441.1 1209.9l6.6 1.1v-15.4l-6.6-1.1z"/><path fill="#f5f500" d="M447.7 1211l2.5-2.9v-15.4l-2.5 2.9z"/><path fill="#d6d600" d="M441.1 1194.5l6.6 1.1l2.5-2.9l-6.7-1z"/><path fill="#ad00ad" d="M457.7 1212.5l6.6 1.1v-21.2l-6.6-1z"/><path fill="#f500f5" d="M464.3 1213.6l2.5-2.8v-21.2l-2.5 2.8z"/><path fill="#d600d6" d="M457.7 1191.4l6.6 1l2.5-2.8l-6.7-1.1z"/><path fill="#000057" d="M474.3 1215.2l6.6 1v-28.9l-6.6-1z"/><path fill="#00007b" d="M480.9 1216.2l2.5-2.8v-28.9l-2.5 2.8z"/><path fill="#00006c" d="M474.3 1186.3l6.6 1l2.5-2.8l-6.7-1.1z"/><path fill="#8b8bad" d="M490.9 1217.8l6.6 1v-39.5l-6.6-1z"/><path fill="#c4c4f5" d="M497.5 1218.8l2.4-2.8l0.1-39.5l-2.5 2.8z"/><path fill="#ababd6" d="M490.9 1178.3l6.6 1l2.5-2.8l-6.7-1.1z"/><path fill="#00458b" d="M507.5 1220.4l6.6 1.1v-53.1l-6.6-1z"/><path fill="#0062c4" d="M514.1 1221.5l2.4-2.9l0.1-53l-2.5 2.8z"/><path fill="#0056ab" d="M507.5 1167.4l6.6 1l2.5-2.8l-6.7-1z"/><path fill="#ad5757" d="M524.1 1223l6.6 1.1v-76.2l-6.6-1.1z"/><path fill="#f57b7b" d="M530.7 1224.1l2.4-2.8l0.1-76.2l-2.5 2.8z"/><path fill="#d66c6c" d="M524.1 1146.8l6.6 1.1l2.5-2.8l-6.7-1.1z"/><path fill="#450045" d="M540.7 1225.7l6.6 1v-89.7l-6.6-1.1z"/><path fill="#620062" d="M547.3 1226.7l2.4-2.8l0.1-89.8l-2.5 2.9z"/><path fill="#560056" d="M540.7 1135.9l6.6 1.1l2.5-2.9l-6.7-1z"/><path fill="#8badad" d="M557.3 1228.3l6.6 1v-113.9l-6.6-1z"/><path fill="#c4f5f5" d="M563.9 1229.3l2.4-2.8l0.1-113.9l-2.5 2.8z"/><path fill="#abd6d6" d="M557.3 1114.4l6.6 1l2.5-2.8l-6.7-1z"/><path fill="#adad8b" d="M573.9 1230.9l6.6 1.1v-131.4l-6.6-1z"/><path fill="#f5f5c4" d="M580.5 1232l2.4-2.9l0.1-131.3l-2.5 2.8z"/><path fill="#d6d6ab" d="M573.9 1099.6l6.6 1l2.5-2.8l-6.7-1z"/><path fill="#682345" d="M590.5 1233.5l6.6 1.1v-147.8l-6.6-1z"/><path fill="#933162" d="M597.1 1234.6l2.4-2.8l0.1-147.8l-2.5 2.8z"/><path fill="#812b56" d="M590.5 1085.8l6.6 1l2.5-2.8l-6.7-1z"/><path fill="#6868ad" d="M607.1 1236.2l6.6 1v-111.1l-6.6-1z"/><path fill="#9393f5" d="M613.7 1237.2l2.4-2.8l0.1-111.1l-2.5 2.8z"/><path fill="#8181d6" d="M607.1 1125.1l6.6 1l2.5-2.8l-6.7-1.1z"/><path fill="#688bad" d="M269.1 1190.7l6.6 1.1v-1.9l-6.6-1.1z"/><path fill="#93c4f5" d="M275.7 1191.8l2.4-2.8v-2l-2.4 2.9z"/><path fill="#81abd6" d="M269.1 1188.8l6.6 1.1l2.4-2.9l-6.6-1z"/><path fill="#adad68" d="M285.7 1193.4l6.6 1v-1.9l-6.6-1.1z"/><path fill="#f5f593" d="M292.3 1194.4l2.4-2.8v-2l-2.4 2.9z"/><path fill="#d6d681" d="M285.7 1191.4l6.6 1.1l2.4-2.9l-6.6-1z"/><path fill="#8bad8b" d="M302.3 1196l6.6 1v-2l-6.6-1.1z"/><path fill="#c4f5c4" d="M308.9 1197l2.4-2.8v-2.1l-2.4 2.9z"/><path fill="#abd6ab" d="M302.3 1193.9l6.6 1.1l2.4-2.9l-6.6-1z"/><path fill="#8badad" d="M318.9 1198.6l6.6 1.1v-2.4l-6.6-1z"/><path fill="#c4f5f5" d="M325.5 1199.7l2.4-2.9v-2.3l-2.4 2.8z"/><path fill="#abd6d6" d="M318.9 1196.3l6.6 1l2.4-2.8l-6.6-1z"/><path fill="#008bad" d="M335.5 1201.2l6.6 1.1v-2.7l-6.6-1.1z"/><path fill="#00c4f5" d="M342.1 1202.3l2.4-2.8v-2.8l-2.4 2.9z"/><path fill="#00abd6" d="M335.5 1198.5l6.6 1.1l2.4-2.9l-6.6-1z"/><path fill="#0000ad" d="M352.1 1203.9l6.6 1v-3.3l-6.6-1.1z"/><path fill="#0000f5" d="M358.7 1204.9l2.4-2.8v-3.3l-2.4 2.8z"/><path fill="#0000d6" d="M352.1 1200.5l6.6 1.1l2.4-2.8l-6.6-1.1z"/><path fill="#005757" d="M368.7 1206.5l6.6 1v-4.1l-6.6-1z"/><path fill="#007b7b" d="M375.3 1207.5l2.4-2.8v-4.1l-2.4 2.8z"/><path fill="#006c6c" d="M368.7 1202.4l6.6 1l2.4-2.8l-6.6-1.1z"/><path fill="#570000" d="M385.3 1209.1l6.6 1.1v-5.2l-6.6-1.1z"/><path fill="#7b0000" d="M391.9 1210.2l2.4-2.9v-5.1l-2.4 2.8z"/><path fill="#6c0000" d="M385.3 1203.9l6.6 1.1l2.4-2.8l-6.6-1.1z"/><path fill="#570057" d="M401.8 1211.7l6.7 1.1v-6.4l-6.7-1.1z"/><path fill="#7b007b" d="M408.5 1212.8l2.4-2.8v-6.5l-2.4 2.9z"/><path fill="#6c006c" d="M401.8 1205.3l6.7 1.1l2.4-2.9l-6.6-1z"/><path fill="#00adad" d="M418.4 1214.4l6.7 1v-7.9l-6.7-1.1z"/><path fill="#00f5f5" d="M425.1 1215.4l2.4-2.8v-7.9l-2.4 2.8z"/><path fill="#00d6d6" d="M418.4 1206.4l6.7 1.1l2.4-2.8l-6.6-1.1z"/><path fill="#adad00" d="M435 1217l6.7 1v-9.6l-6.7-1z"/><path fill="#f5f500" d="M441.7 1218l2.4-2.8v-9.6l-2.4 2.8z"/><path fill="#d6d600" d="M435 1207.4l6.7 1l2.4-2.8l-6.6-1.1z"/><path fill="#ad00ad" d="M451.6 1219.6l6.7 1.1v-13.5l-6.7-1.1z"/><path fill="#f500f5" d="M458.3 1220.7l2.4-2.9v-13.5l-2.4 2.9z"/><path fill="#d600d6" d="M451.6 1206.1l6.7 1.1l2.4-2.9l-6.6-1z"/><path fill="#000057" d="M468.2 1222.2l6.7 1.1v-20.3l-6.7-1z"/><path fill="#00007b" d="M474.9 1223.3l2.4-2.8v-20.3l-2.4 2.8z"/><path fill="#00006c" d="M468.2 1202l6.7 1l2.4-2.8l-6.6-1z"/><path fill="#8b8bad" d="M484.8 1224.9l6.7 1v-29.9l-6.7-1z"/><path fill="#c4c4f5" d="M491.5 1225.9l2.4-2.8v-29.9l-2.4 2.8z"/><path fill="#ababd6" d="M484.8 1195l6.7 1l2.4-2.8l-6.6-1z"/><path fill="#00458b" d="M501.4 1227.5l6.7 1v-44.3l-6.7-1.1z"/><path fill="#0062c4" d="M508.1 1228.5l2.4-2.8v-44.4l-2.4 2.9z"/><path fill="#0056ab" d="M501.4 1183.1l6.7 1.1l2.4-2.9l-6.7-1z"/><path fill="#ad5757" d="M518 1230.1l6.7 1.1v-72.4l-6.7-1z"/><path fill="#f57b7b" d="M524.7 1231.2l2.4-2.9v-72.3l-2.4 2.8z"/><path fill="#d66c6c" d="M518 1157.8l6.7 1l2.4-2.8l-6.6-1.1z"/><path fill="#450045" d="M534.6 1232.7l6.6 1.1l0.1-89.8l-6.7-1z"/><path fill="#620062" d="M541.2 1233.8l2.5-2.8v-89.8l-2.4 2.8z"/><path fill="#560056" d="M534.6 1143l6.7 1l2.4-2.8l-6.7-1z"/><path fill="#8badad" d="M551.2 1235.4l6.6 1l0.1-116.8l-6.7-1z"/><path fill="#c4f5f5" d="M557.8 1236.4l2.5-2.8v-116.8l-2.4 2.8z"/><path fill="#abd6d6" d="M551.2 1118.6l6.7 1l2.4-2.8l-6.6-1.1z"/><path fill="#adad8b" d="M567.8 1238l6.6 1l0.1-138.1l-6.7-1z"/><path fill="#f5f5c4" d="M574.4 1239l2.5-2.8v-138.1l-2.4 2.8z"/><path fill="#d6d6ab" d="M567.8 1099.9l6.7 1l2.4-2.8l-6.6-1z"/><path fill="#682345" d="M584.4 1240.6l6.6 1.1l0.1-168.1l-6.7-1.1z"/><path fill="#933162" d="M591 1241.7l2.5-2.9v-168l-2.4 2.8z"/><path fill="#812b56" d="M584.4 1072.5l6.7 1.1l2.4-2.8l-6.6-1.1z"/><path fill="#6868ad" d="M601 1243.2l6.6 1.1l0.1-256.1l-6.7-1z"/><path fill="#9393f5" d="M607.6 1244.3l2.5-2.8v-256.1l-2.4 2.8z"/><path fill="#8181d6" d="M601 987.2l6.7 1l2.4-2.8l-6.6-1z"/><path class="z" fill="#81abd6" d="M263 1197.8l6.7 1l2.4-2.8l-6.6-1z"/><path class="z" fill="#d6d681" d="M279.6 1200.4l6.7 1.1l2.4-2.9l-6.7-1z"/><path class="z" fill="#abd6ab" d="M296.2 1202.9l6.7 1.1l2.4-2.8l-6.7-1.1z"/><path class="z" fill="#abd6d6" d="M312.8 1205.4l6.7 1l2.4-2.8l-6.7-1z"/><path class="z" fill="#00abd6" d="M329.4 1207.7l6.6 1.1l2.5-2.9l-6.7-1z"/><path fill="#0000ad" d="M346 1210.9l6.6 1.1v-1.1l-6.6-1z"/><path fill="#0000f5" d="M352.6 1212l2.5-2.8v-1.1l-2.5 2.8z"/><path fill="#0000d6" d="M346 1209.9l6.6 1l2.5-2.8l-6.7-1z"/><path fill="#005757" d="M362.6 1213.6l6.6 1v-1.6l-6.6-1.1z"/><path fill="#007b7b" d="M369.2 1214.6l2.5-2.8v-1.7l-2.5 2.9z"/><path fill="#006c6c" d="M362.6 1211.9l6.6 1.1l2.5-2.9l-6.7-1z"/><path fill="#570000" d="M379.2 1216.2l6.6 1v-2.4l-6.6-1z"/><path fill="#7b0000" d="M385.8 1217.2l2.5-2.8v-2.4l-2.5 2.8z"/><path fill="#6c0000" d="M379.2 1213.8l6.6 1l2.5-2.8l-6.7-1z"/><path fill="#570057" d="M395.8 1218.8l6.6 1.1v-3.4l-6.6-1z"/><path fill="#7b007b" d="M402.4 1219.9l2.4-2.9l0.1-3.3l-2.5 2.8z"/><path fill="#6c006c" d="M395.8 1215.5l6.6 1l2.5-2.8l-6.7-1.1z"/><path fill="#00adad" d="M412.4 1221.4l6.6 1.1v-4.5l-6.6-1z"/><path fill="#00f5f5" d="M419 1222.5l2.4-2.8v-4.5l-2.4 2.8z"/><path fill="#00d6d6" d="M412.4 1217l6.6 1l2.4-2.8l-6.6-1.1z"/><path fill="#adad00" d="M429 1224.1l6.6 1v-5.8l-6.6-1z"/><path fill="#f5f500" d="M435.6 1225.1l2.4-2.8v-5.8l-2.4 2.8z"/><path fill="#d6d600" d="M429 1218.3l6.6 1l2.4-2.8l-6.6-1.1z"/><path fill="#ad00ad" d="M445.6 1226.7l6.6 1v-7.7l-6.6-1z"/><path fill="#f500f5" d="M452.2 1227.7l2.4-2.8v-7.7l-2.4 2.8z"/><path fill="#d600d6" d="M445.6 1219l6.6 1l2.4-2.8l-6.6-1.1z"/><path fill="#000057" d="M462.2 1229.3l6.6 1.1v-12.6l-6.6-1z"/><path fill="#00007b" d="M468.8 1230.4l2.4-2.9v-12.5l-2.4 2.8z"/><path fill="#00006c" d="M462.2 1216.8l6.6 1l2.4-2.8l-6.6-1.1z"/><path fill="#8b8bad" d="M478.8 1231.9l6.6 1.1v-19.3l-6.6-1.1z"/><path fill="#c4c4f5" d="M485.4 1233l2.4-2.8v-19.3l-2.4 2.8z"/><path fill="#ababd6" d="M478.8 1212.6l6.6 1.1l2.4-2.8l-6.6-1.1z"/><path fill="#00458b" d="M495.4 1234.6l6.6 1v-32.8l-6.6-1z"/><path fill="#0062c4" d="M502 1235.6l2.4-2.8v-32.8l-2.4 2.8z"/><path fill="#0056ab" d="M495.4 1201.8l6.6 1l2.4-2.8l-6.6-1.1z"/><path fill="#ad5757" d="M511.9 1237.2l6.7 1v-62.7l-6.6-1z"/><path fill="#f57b7b" d="M518.6 1238.2l2.4-2.8v-62.7l-2.4 2.8z"/><path fill="#d66c6c" d="M512 1174.5l6.6 1l2.4-2.8l-6.6-1.1z"/><path fill="#450045" d="M528.5 1239.8l6.7 1.1v-89.8l-6.6-1z"/><path fill="#620062" d="M535.2 1240.9l2.4-2.9v-89.7l-2.4 2.8z"/><path fill="#560056" d="M528.6 1150.1l6.6 1l2.4-2.8l-6.6-1.1z"/><path class="z" fill="#abd6d6" d="M545.1 1242.4l6.7 1.1l2.4-2.8l-6.6-1.1z"/><path class="z" fill="#d6d6ab" d="M561.7 1245.1l6.7 1l2.4-2.8l-6.6-1.1z"/><path class="z" fill="#812b56" d="M578.3 1247.7l6.7 1l2.4-2.8l-6.6-1z"/><path class="z" fill="#8181d6" d="M594.9 1250.3l6.7 1.1l2.4-2.9l-6.7-1z"/><path class="z" fill="#81abd6" d="M257 1204.9l6.6 1l2.4-2.8l-6.6-1.1z"/><path class="z" fill="#d6d681" d="M273.6 1207.5l6.6 1l2.4-2.8l-6.6-1z"/><path class="z" fill="#abd6ab" d="M290.2 1210.1l6.6 1l2.4-2.8l-6.6-1.1z"/><path class="z" fill="#abd6d6" d="M306.8 1212.6l6.6 1l2.4-2.8l-6.6-1z"/><path class="z" fill="#00abd6" d="M323.4 1215.1l6.6 1l2.4-2.8l-6.6-1.1z"/><path class="z" fill="#0000d6" d="M340 1217.5l6.6 1l2.4-2.8l-6.6-1z"/><path fill="#005757" d="M356.5 1220.6l6.7 1.1v-0.8l-6.7-1.1z"/><path fill="#007b7b" d="M363.2 1221.7l2.4-2.9v-0.8l-2.4 2.9z"/><path fill="#006c6c" d="M356.5 1219.8l6.7 1.1l2.4-2.9l-6.6-1z"/><path fill="#570000" d="M373.1 1223.2l6.7 1.1v-1.2l-6.7-1.1z"/><path fill="#7b0000" d="M379.8 1224.3l2.4-2.8v-1.2l-2.4 2.8z"/><path fill="#6c0000" d="M373.1 1222l6.7 1.1l2.4-2.8l-6.6-1.1z"/><path fill="#570057" d="M389.7 1225.9l6.7 1v-1.6l-6.7-1.1z"/><path fill="#7b007b" d="M396.4 1226.9l2.4-2.8v-1.7l-2.4 2.9z"/><path fill="#6c006c" d="M389.7 1224.2l6.7 1.1l2.4-2.9l-6.6-1z"/><path fill="#00adad" d="M406.3 1228.5l6.7 1v-2.2l-6.7-1z"/><path fill="#00f5f5" d="M413 1229.5l2.4-2.8v-2.2l-2.4 2.8z"/><path fill="#00d6d6" d="M406.3 1226.3l6.7 1l2.4-2.8l-6.7-1.1z"/><path fill="#adad00" d="M422.9 1231.1l6.7 1.1v-2.9l-6.7-1.1z"/><path fill="#f5f500" d="M429.6 1232.2l2.4-2.9v-2.8l-2.4 2.8z"/><path fill="#d6d600" d="M422.9 1228.2l6.7 1.1l2.4-2.8l-6.7-1.1z"/><path fill="#ad00ad" d="M439.5 1233.7l6.6 1.1v-3.9l-6.6-1z"/><path fill="#f500f5" d="M446.1 1234.8l2.5-2.8v-3.9l-2.5 2.8z"/><path fill="#d600d6" d="M439.5 1229.9l6.6 1l2.5-2.8l-6.7-1z"/><path fill="#000057" d="M456.1 1236.4l6.6 1v-5.8l-6.6-1z"/><path fill="#00007b" d="M462.7 1237.4l2.5-2.8v-5.8l-2.5 2.8z"/><path fill="#00006c" d="M456.1 1230.6l6.6 1l2.5-2.8l-6.7-1z"/><path fill="#8b8bad" d="M472.7 1239l6.6 1.1v-9.7l-6.6-1z"/><path fill="#c4c4f5" d="M479.3 1240.1l2.5-2.9v-9.6l-2.5 2.8z"/><path fill="#ababd6" d="M472.7 1229.4l6.6 1l2.5-2.8l-6.7-1.1z"/><path fill="#00458b" d="M489.3 1241.6l6.6 1.1v-17.4l-6.6-1z"/><path fill="#0062c4" d="M495.9 1242.7l2.5-2.9v-17.3l-2.5 2.8z"/><path fill="#0056ab" d="M489.3 1224.3l6.6 1l2.5-2.8l-6.7-1.1z"/><path fill="#ad5757" d="M505.9 1244.3l6.6 1v-46.3l-6.6-1.1z"/><path fill="#f57b7b" d="M512.5 1245.3l2.4-2.8l0.1-46.3l-2.5 2.8z"/><path fill="#d66c6c" d="M505.9 1197.9l6.6 1.1l2.5-2.8l-6.7-1.1z"/><path fill="#450045" d="M522.5 1246.9l6.6 1v-88.8l-6.6-1z"/><path fill="#620062" d="M529.1 1247.9l2.4-2.8v-88.8l-2.4 2.8z"/><path fill="#560056" d="M522.5 1158.1l6.6 1l2.4-2.8l-6.6-1z"/><path class="z" fill="#abd6d6" d="M539.1 1249.5l6.6 1.1l2.4-2.9l-6.6-1z"/><path class="z" fill="#d6d6ab" d="M555.7 1252.1l6.6 1.1l2.4-2.8l-6.6-1.1z"/><path class="z" fill="#812b56" d="M572.3 1254.8l6.6 1l2.4-2.8l-6.6-1.1z"/><path class="z" fill="#8181d6" d="M588.8 1257.4l6.7 1l2.4-2.8l-6.6-1z"/><path class="z" fill="#81abd6" d="M250.9 1211.9l6.7 1.1l2.4-2.9l-6.6-1z"/><path class="z" fill="#d6d681" d="M267.5 1214.5l6.7 1.1l2.4-2.8l-6.6-1.1z"/><path class="z" fill="#abd6ab" d="M284.1 1217.1l6.7 1.1l2.4-2.8l-6.7-1.1z"/><path class="z" fill="#abd6d6" d="M300.7 1219.7l6.7 1.1l2.4-2.9l-6.7-1z"/><path class="z" fill="#00abd6" d="M317.3 1222.2l6.6 1.1l2.5-2.8l-6.7-1.1z"/><path class="z" fill="#0000d6" d="M333.9 1224.7l6.6 1.1l2.5-2.9l-6.7-1z"/><path class="z" fill="#006c6c" d="M350.5 1227.1l6.6 1.1l2.5-2.8l-6.7-1.1z"/><path fill="#570000" d="M367.1 1230.3l6.6 1.1v-7.7l-6.6-1.1z"/><path fill="#7b0000" d="M373.7 1231.4l2.4-2.9v-7.7l-2.4 2.9z"/><path fill="#6c0000" d="M367.1 1222.6l6.6 1.1l2.4-2.9l-6.6-1z"/><path fill="#570057" d="M383.7 1232.9l6.6 1.1v-1.1l-6.6-1.1z"/><path fill="#7b007b" d="M390.3 1234l2.4-2.8v-1.1l-2.4 2.8z"/><path fill="#6c006c" d="M383.7 1231.8l6.6 1.1l2.4-2.8l-6.6-1.1z"/><path fill="#00adad" d="M400.3 1235.6l6.6 1v-1.5l-6.6-1z"/><path fill="#00f5f5" d="M406.9 1236.6l2.4-2.8v-1.5l-2.4 2.8z"/><path fill="#00d6d6" d="M400.3 1234.1l6.6 1l2.4-2.8l-6.6-1z"/><path fill="#adad00" d="M416.9 1238.2l6.6 1v-1.9l-6.6-1z"/><path fill="#f5f500" d="M423.5 1239.2l2.4-2.8v-1.9l-2.4 2.8z"/><path fill="#d6d600" d="M416.9 1236.3l6.6 1l2.4-2.8l-6.6-1.1z"/><path fill="#ad00ad" d="M433.5 1240.8l6.6 1.1v-2l-6.6-1z"/><path fill="#f500f5" d="M440.1 1241.9l2.4-2.9v-1.9l-2.4 2.8z"/><path fill="#d600d6" d="M433.5 1238.9l6.6 1l2.4-2.8l-6.6-1z"/><path fill="#000057" d="M450 1243.4l6.7 1.1v-1.9l-6.7-1.1z"/><path fill="#00007b" d="M456.7 1244.5l2.4-2.8v-2l-2.4 2.9z"/><path fill="#00006c" d="M450 1241.5l6.7 1.1l2.4-2.9l-6.6-1z"/><path fill="#8b8bad" d="M466.6 1246.1l6.7 1v-2.9l-6.7-1z"/><path fill="#c4c4f5" d="M473.3 1247.1l2.4-2.8v-2.9l-2.4 2.8z"/><path fill="#ababd6" d="M466.6 1243.2l6.7 1l2.4-2.8l-6.6-1.1z"/><path fill="#00458b" d="M483.2 1248.7l6.7 1v-7.7l-6.7-1z"/><path fill="#0062c4" d="M489.9 1249.7l2.4-2.8v-7.7l-2.4 2.8z"/><path fill="#0056ab" d="M483.2 1241l6.7 1l2.4-2.8l-6.6-1z"/><path fill="#ad5757" d="M499.8 1251.3l6.7 1.1v-2.9l-6.7-1.1z"/><path fill="#f57b7b" d="M506.5 1252.4l2.4-2.9v-2.8l-2.4 2.8z"/><path fill="#d66c6c" d="M499.8 1248.4l6.7 1.1l2.4-2.8l-6.7-1.1z"/><path fill="#450045" d="M516.4 1254l6.6 1l0.1-193.1l-6.7-1z"/><path fill="#620062" d="M523 1255l2.5-2.8v-193.1l-2.4 2.8z"/><path fill="#560056" d="M516.4 1060.9l6.7 1l2.4-2.8l-6.7-1z"/><path class="z" fill="#abd6d6" d="M533 1256.6l6.6 1l2.5-2.8l-6.7-1z"/><path class="z" fill="#d6d6ab" d="M549.6 1259.2l6.6 1.1l2.5-2.9l-6.7-1z"/><path class="z" fill="#812b56" d="M566.2 1261.8l6.6 1.1l2.5-2.8l-6.7-1.1z"/><path class="z" fill="#8181d6" d="M582.8 1264.5l6.6 1l2.4-2.8l-6.6-1.1z"/><path class="z" fill="#81abd6" d="M244.9 1219l6.6 1l2.4-2.8l-6.6-1.1z"/><path class="z" fill="#d6d681" d="M261.5 1221.6l6.6 1.1l2.4-2.9l-6.6-1z"/><path class="z" fill="#abd6ab" d="M278.1 1224.2l6.6 1.1l2.4-2.8l-6.6-1.1z"/><path class="z" fill="#abd6d6" d="M294.7 1226.9l6.6 1l2.4-2.8l-6.6-1.1z"/><path class="z" fill="#00abd6" d="M311.3 1229.5l6.6 1l2.4-2.8l-6.6-1z"/><path class="z" fill="#0000d6" d="M327.8 1232.1l6.7 1.1l2.4-2.9l-6.6-1z"/><path class="z" fill="#006c6c" d="M344.4 1234.7l6.7 1.1l2.4-2.8l-6.6-1.1z"/><path class="z" fill="#6c0000" d="M361 1237.4l6.7 1l2.4-2.8l-6.7-1.1z"/><path class="z" fill="#6c006c" d="M377.6 1240l6.7 1l2.4-2.8l-6.7-1z"/><path class="z" fill="#00d6d6" d="M394.2 1242.6l6.6 1.1l2.5-2.8l-6.7-1.1z"/><path class="z" fill="#d6d600" d="M410.8 1245.3l6.6 1l2.5-2.8l-6.7-1.1z"/><path class="z" fill="#d600d6" d="M427.4 1247.9l6.6 1l2.5-2.8l-6.7-1z"/><path class="z" fill="#00006c" d="M444 1250.5l6.6 1.1l2.4-2.9l-6.6-1z"/><path class="z" fill="#ababd6" d="M460.6 1253.1l6.6 1.1l2.4-2.8l-6.6-1.1z"/><path fill="#00458b" d="M477.2 1255.8l6.6 1v-9.6l-6.6-1.1z"/><path fill="#0062c4" d="M483.8 1256.8l2.4-2.8v-9.7l-2.4 2.9z"/><path fill="#0056ab" d="M477.2 1246.1l6.6 1.1l2.4-2.9l-6.6-1z"/><path fill="#ad5757" d="M493.8 1258.4l6.6 1v-30.8l-6.6-1.1z"/><path fill="#f57b7b" d="M500.4 1259.4l2.4-2.8v-30.9l-2.4 2.9z"/><path fill="#d66c6c" d="M493.8 1227.5l6.6 1.1l2.4-2.9l-6.6-1z"/><path fill="#450045" d="M510.3 1261l6.7 1.1v-318.7l-6.7-1z"/><path fill="#620062" d="M517 1262.1l2.4-2.9v-318.6l-2.4 2.8z"/><path fill="#560056" d="M510.3 942.4l6.7 1l2.4-2.8l-6.6-1z"/><path class="z" fill="#abd6d6" d="M526.9 1263.7l6.7 1l2.4-2.8l-6.6-1.1z"/><path class="z" fill="#d6d6ab" d="M543.5 1266.3l6.7 1l2.4-2.8l-6.6-1z"/><path class="z" fill="#812b56" d="M560.1 1268.9l6.7 1.1l2.4-2.9l-6.7-1z"/><path class="z" fill="#8181d6" d="M576.7 1271.5l6.6 1.1l2.5-2.8l-6.7-1.1z"/></g>
<path d="M238.1,1220.3 L586.5,1275.5" fill="none" stroke="#8a8a8a" stroke-width="1.1"/>
<path d="M586.5,1275.5 L714,1126.9" fill="none" stroke="#000" stroke-width="1"/>
<path d="M238.1 1219.9v7.3 M254.7 1222.5v7.3 M271.3 1225.2v7.3 M287.9 1227.8v7.3 M304.5 1230.4v7.3 M321.1 1233v7.3 M337.6 1235.7v7.3 M354.2 1238.3v7.3 M370.8 1240.9v7.3 M387.4 1243.6v7.3 M404 1246.2v7.3 M420.6 1248.8v7.3 M437.2 1251.4v7.3 M453.8 1254.1v7.3 M470.4 1256.7v7.3 M487 1259.3v7.3 M503.5 1262v7.3 M520.1 1264.6v7.3 M536.7 1267.2v7.3 M553.3 1269.8v7.3 M569.9 1272.5v7.3 M586.5 1275.1v7.3 M586.1 1275.5h5.6 M592.2 1268.4h5.6 M598.2 1261.3h5.6 M604.3 1254.3h5.6 M610.4 1247.2h5.6 M616.5 1240.1h5.6 M622.5 1233h5.6 M628.6 1226h5.6 M634.7 1218.9h5.6 M640.7 1211.8h5.6 M646.8 1204.7h5.6 M652.9 1197.7h5.6 M659 1190.6h5.6 M665 1183.5h5.6 M671.1 1176.4h5.6 M677.2 1169.4h5.6 M683.2 1162.3h5.6 M689.3 1155.2h5.6 M695.4 1148.1h5.6 M701.5 1141.1h5.6 M707.5 1134h5.6 M713.6 1126.9h5.6 M238.6 1220.3h-7.3 M238.6 1172.3h-7.3 M238.6 1124.3h-7.3 M238.6 1076.3h-7.3 M238.6 1028.4h-7.3 M238.6 980.4h-7.3 M238.6 932.4h-7.3 M238.6 884.4h-7.3" fill="none" stroke="#000" stroke-width="1.3"/>
<g class="tk"><text x="222.8" y="1227.1" text-anchor="end">0</text><text x="222.8" y="1179.1" text-anchor="end">0.5</text><text x="222.8" y="1131.1" text-anchor="end">1</text><text x="222.8" y="1083.1" text-anchor="end">1.5</text><text x="222.8" y="1035.2" text-anchor="end">2</text><text x="222.8" y="987.2" text-anchor="end">2.5</text><text x="222.8" y="939.2" text-anchor="end">3</text><text x="222.8" y="891.2" text-anchor="end">3.5</text><text x="246" y="1251.6" text-anchor="middle">Y=100</text><text x="312.4" y="1262.1" text-anchor="middle">Y=80</text><text x="378.7" y="1272.6" text-anchor="middle">Y=60</text><text x="445.1" y="1283.2" text-anchor="middle">Y=40</text><text x="511.4" y="1293.7" text-anchor="middle">Y=20</text><text x="577.8" y="1304.2" text-anchor="middle">Y=0</text><text x="605.5" y="1278">0</text><text x="635.9" y="1242.6">25</text><text x="666.2" y="1207.2">50</text><text x="696.6" y="1171.8">75</text><text x="721.5" y="1136.4">100</text></g></g>
<g id="chartD"><path d="M1136.1,1215 L1262.5,1067.5 L1263,732.3 L1136.3,880.4 z" fill="#fff" stroke="none"/>
<path d="M1262.5,1067.5 L1610,1120.6 L1610.3,784.6 L1263,732.3 z" fill="#a5a5a5" stroke="#808080" stroke-width="1"/>
<path d="M1136.1,1167.2 L1262.6,1019.6 L1610,1072.6 M1136.2,1119.4 L1262.6,971.7 L1610.1,1024.6 M1136.2,1071.6 L1262.7,923.8 L1610.1,976.6 M1136.2,1023.8 L1262.8,876 L1610.2,928.6 M1136.2,976 L1262.9,828.1 L1610.2,880.6 M1136.3,928.2 L1262.9,780.2 L1610.3,832.6 M1136.3,880.4 L1263,732.3 L1610.3,784.6" fill="none" stroke="#222" stroke-width="1"/>
<path d="M1136.1,1215 L1136.3,880.4 M1262.5,1067.5 L1263,732.3" fill="none" stroke="#6e6e6e" stroke-width="1.3"/>
<path d="M1136.1,1215 L1262.5,1067.5" fill="none" stroke="#333" stroke-width="0.8"/>
<path d="M1610,1120.6 L1262.5,1067.5" fill="none" stroke="#555" stroke-width="1"/>
<path d="M1609 1120.6 L1609 784.6" fill="none" stroke="#858585" stroke-width="2"/>
<g stroke="#000" stroke-opacity=".85" stroke-width=".8" stroke-linejoin="round"><path fill="#688bad" d="M1263.3 1073.2l6.6 1v-31.6l-6.6-1z"/><path fill="#93c4f5" d="M1269.9 1074.2l2.4-2.8v-31.6l-2.4 2.8z"/><path fill="#81abd6" d="M1263.3 1041.6l6.6 1l2.4-2.8l-6.6-1z"/><path fill="#adad68" d="M1279.8 1075.7l6.6 1l0.1-31.3l-6.7-1z"/><path fill="#f5f593" d="M1286.4 1076.7l2.4-2.8l0.1-31.3l-2.4 2.8z"/><path fill="#d6d681" d="M1279.8 1044.4l6.7 1l2.4-2.8l-6.6-1z"/><path fill="#8bad8b" d="M1296.3 1078.2l6.7 1v-30.7l-6.6-1z"/><path fill="#c4f5c4" d="M1303 1079.2l2.4-2.8v-30.7l-2.4 2.8z"/><path fill="#abd6ab" d="M1296.4 1047.5l6.6 1l2.4-2.8l-6.6-1z"/><path fill="#8badad" d="M1312.9 1080.8l6.6 1l0.1-29.9l-6.7-1.1z"/><path fill="#c4f5f5" d="M1319.5 1081.8l2.4-2.8l0.1-30l-2.4 2.9z"/><path fill="#abd6d6" d="M1312.9 1050.8l6.7 1.1l2.4-2.9l-6.7-1z"/><path fill="#008bad" d="M1329.4 1083.3l6.7 1v-28.9l-6.6-1z"/><path fill="#00c4f5" d="M1336.1 1084.3l2.4-2.8v-28.9l-2.4 2.8z"/><path fill="#00abd6" d="M1329.5 1054.4l6.6 1l2.4-2.8l-6.6-1.1z"/><path fill="#0000ad" d="M1346 1085.8l6.6 1v-27.8l-6.6-1z"/><path fill="#0000f5" d="M1352.6 1086.8l2.4-2.8l0.1-27.8l-2.5 2.8z"/><path fill="#0000d6" d="M1346 1058l6.6 1l2.5-2.8l-6.7-1z"/><path fill="#005757" d="M1362.5 1088.4l6.7 1v-25.9l-6.6-1z"/><path fill="#007b7b" d="M1369.2 1089.4l2.4-2.8v-25.9l-2.4 2.8z"/><path fill="#006c6c" d="M1362.6 1062.5l6.6 1l2.4-2.8l-6.6-1z"/><path fill="#570000" d="M1379.1 1090.9l6.6 1v-24l-6.6-1z"/><path fill="#7b0000" d="M1385.7 1091.9l2.4-2.8v-24l-2.4 2.8z"/><path fill="#6c0000" d="M1379.1 1066.9l6.6 1l2.4-2.8l-6.6-1z"/><path fill="#570057" d="M1395.6 1093.4l6.7 1v-21.1l-6.6-1z"/><path fill="#7b007b" d="M1402.3 1094.4l2.4-2.8v-21.1l-2.4 2.8z"/><path fill="#6c006c" d="M1395.7 1072.3l6.6 1l2.4-2.8l-6.6-1z"/><path fill="#00adad" d="M1412.2 1095.9l6.6 1.1v-18.3l-6.6-1z"/><path fill="#00f5f5" d="M1418.8 1097l2.4-2.9v-18.2l-2.4 2.8z"/><path fill="#00d6d6" d="M1412.2 1077.7l6.6 1l2.4-2.8l-6.6-1z"/><path fill="#adad00" d="M1428.7 1098.5l6.7 1v-18.2l-6.6-1z"/><path fill="#f5f500" d="M1435.4 1099.5l2.4-2.8v-18.3l-2.4 2.9z"/><path fill="#d6d600" d="M1428.8 1080.3l6.6 1l2.4-2.9l-6.6-1z"/><path fill="#ad00ad" d="M1445.3 1101l6.6 1v-15.3l-6.6-1z"/><path fill="#f500f5" d="M1451.9 1102l2.4-2.8v-15.3l-2.4 2.8z"/><path fill="#d600d6" d="M1445.3 1085.7l6.6 1l2.4-2.8l-6.6-1.1z"/><path fill="#000057" d="M1461.8 1103.5l6.6 1l0.1-11.5l-6.7-1z"/><path fill="#00007b" d="M1468.4 1104.5l2.5-2.8v-11.5l-2.4 2.8z"/><path fill="#00006c" d="M1461.8 1092l6.7 1l2.4-2.8l-6.7-1z"/><path fill="#8b8bad" d="M1478.4 1106.1l6.6 1v-8.7l-6.6-1z"/><path fill="#c4c4f5" d="M1485 1107.1l2.4-2.8v-8.7l-2.4 2.8z"/><path fill="#ababd6" d="M1478.4 1097.4l6.6 1l2.4-2.8l-6.6-1z"/><path fill="#00458b" d="M1494.9 1108.6l6.6 1l0.1-6.7l-6.7-1z"/><path fill="#0062c4" d="M1501.5 1109.6l2.4-2.8l0.1-6.7l-2.4 2.8z"/><path fill="#0056ab" d="M1494.9 1101.9l6.7 1l2.4-2.8l-6.7-1z"/><path fill="#ad5757" d="M1511.5 1111.1l6.6 1v-3.8l-6.6-1z"/><path fill="#f57b7b" d="M1518.1 1112.1l2.4-2.8v-3.8l-2.4 2.8z"/><path fill="#d66c6c" d="M1511.5 1107.3l6.6 1l2.4-2.8l-6.6-1z"/><path fill="#450045" d="M1528 1113.6l6.6 1.1v-2.9l-6.6-1z"/><path fill="#620062" d="M1534.6 1114.7l2.4-2.9v-2.8l-2.4 2.8z"/><path fill="#560056" d="M1528 1110.8l6.6 1l2.4-2.8l-6.6-1.1z"/><path fill="#8badad" d="M1544.6 1116.2l6.6 1v-1.9l-6.6-1z"/><path fill="#c4f5f5" d="M1551.2 1117.2l2.4-2.8v-2l-2.4 2.9z"/><path fill="#abd6d6" d="M1544.6 1114.3l6.6 1l2.4-2.9l-6.6-1z"/><path class="z" fill="#d6d6ab" d="M1561.1 1118.7l6.6 1l2.4-2.8l-6.6-1z"/><path class="z" fill="#812b56" d="M1577.7 1121.2l6.6 1l2.4-2.8l-6.6-1z"/><path class="z" fill="#8181d6" d="M1594.2 1123.8l6.6 1l2.4-2.8l-6.6-1.1z"/><path fill="#688bad" d="M1257.2 1080.2l6.7 1v-33.5l-6.6-1z"/><path fill="#93c4f5" d="M1263.9 1081.2l2.4-2.8v-33.5l-2.4 2.8z"/><path fill="#81abd6" d="M1257.3 1046.7l6.6 1l2.4-2.8l-6.6-1z"/><path fill="#adad68" d="M1273.8 1082.7l6.6 1v-33.2l-6.6-1z"/><path fill="#f5f593" d="M1280.4 1083.7l2.4-2.8l0.1-33.2l-2.5 2.8z"/><path fill="#d6d681" d="M1273.8 1049.5l6.6 1l2.5-2.8l-6.7-1z"/><path fill="#8bad8b" d="M1290.3 1085.3l6.7 1v-32.7l-6.6-1z"/><path fill="#c4f5c4" d="M1297 1086.3l2.4-2.8v-32.7l-2.4 2.8z"/><path fill="#abd6ab" d="M1290.4 1052.6l6.6 1l2.4-2.8l-6.6-1z"/><path fill="#8badad" d="M1306.9 1087.8l6.6 1v-31.8l-6.6-1z"/><path fill="#c4f5f5" d="M1313.5 1088.8l2.4-2.8v-31.8l-2.4 2.8z"/><path fill="#abd6d6" d="M1306.9 1056l6.6 1l2.4-2.8l-6.6-1.1z"/><path fill="#008bad" d="M1323.4 1090.3l6.6 1l0.1-30.8l-6.6-1z"/><path fill="#00c4f5" d="M1330 1091.3l2.5-2.8v-30.8l-2.4 2.8z"/><path fill="#00abd6" d="M1323.5 1059.5l6.6 1l2.4-2.8l-6.6-1z"/><path fill="#0000ad" d="M1340 1092.9l6.6 1v-29.7l-6.6-1.1z"/><path fill="#0000f5" d="M1346.6 1093.9l2.4-2.8v-29.8l-2.4 2.9z"/><path fill="#0000d6" d="M1340 1063.1l6.6 1.1l2.4-2.9l-6.6-1z"/><path fill="#005757" d="M1356.5 1095.4l6.6 1l0.1-26.8l-6.6-1.1z"/><path fill="#007b7b" d="M1363.1 1096.4l2.5-2.8v-26.9l-2.4 2.9z"/><path fill="#006c6c" d="M1356.6 1068.5l6.6 1.1l2.4-2.9l-6.6-1z"/><path fill="#570000" d="M1373.1 1097.9l6.6 1v-23.9l-6.6-1z"/><path fill="#7b0000" d="M1379.7 1098.9l2.4-2.8v-24l-2.4 2.9z"/><path fill="#6c0000" d="M1373.1 1074l6.6 1l2.4-2.9l-6.6-1z"/><path fill="#570057" d="M1389.6 1100.4l6.6 1.1l0.1-21.1l-6.6-1z"/><path fill="#7b007b" d="M1396.2 1101.5l2.4-2.9l0.1-21l-2.4 2.8z"/><path fill="#6c006c" d="M1389.7 1079.4l6.6 1l2.4-2.8l-6.6-1.1z"/><path fill="#00adad" d="M1406.2 1103l6.6 1v-18.2l-6.6-1z"/><path fill="#00f5f5" d="M1412.8 1104l2.4-2.8v-18.2l-2.4 2.8z"/><path fill="#00d6d6" d="M1406.2 1084.8l6.6 1l2.4-2.8l-6.6-1.1z"/><path fill="#adad00" d="M1422.7 1105.5l6.6 1l0.1-17.2l-6.7-1.1z"/><path fill="#f5f500" d="M1429.3 1106.5l2.4-2.8l0.1-17.3l-2.4 2.9z"/><path fill="#d6d600" d="M1422.7 1088.2l6.7 1.1l2.4-2.9l-6.7-1z"/><path fill="#ad00ad" d="M1439.3 1108l6.6 1v-15.3l-6.6-1z"/><path fill="#f500f5" d="M1445.9 1109l2.4-2.8v-15.3l-2.4 2.8z"/><path fill="#d600d6" d="M1439.3 1092.7l6.6 1l2.4-2.8l-6.6-1z"/><path fill="#000057" d="M1455.8 1110.6l6.6 1l0.1-12.5l-6.7-1z"/><path fill="#00007b" d="M1462.4 1111.6l2.4-2.8l0.1-12.5l-2.4 2.8z"/><path fill="#00006c" d="M1455.8 1098.1l6.7 1l2.4-2.8l-6.7-1z"/><path fill="#8b8bad" d="M1472.4 1113.1l6.6 1v-8.6l-6.6-1z"/><path fill="#c4c4f5" d="M1479 1114.1l2.4-2.8v-8.6l-2.4 2.8z"/><path fill="#ababd6" d="M1472.4 1104.5l6.6 1l2.4-2.8l-6.6-1.1z"/><path fill="#00458b" d="M1488.9 1115.6l6.6 1v-6.7l-6.6-1z"/><path fill="#0062c4" d="M1495.5 1116.6l2.4-2.8v-6.7l-2.4 2.8z"/><path fill="#0056ab" d="M1488.9 1108.9l6.6 1l2.4-2.8l-6.6-1z"/><path fill="#ad5757" d="M1505.5 1118.2l6.6 1v-4.8l-6.6-1z"/><path fill="#f57b7b" d="M1512.1 1119.2l2.4-2.8v-4.8l-2.4 2.8z"/><path fill="#d66c6c" d="M1505.5 1113.4l6.6 1l2.4-2.8l-6.6-1.1z"/><path fill="#450045" d="M1522 1120.7l6.6 1v-3.8l-6.6-1.1z"/><path fill="#620062" d="M1528.6 1121.7l2.4-2.8v-3.9l-2.4 2.9z"/><path fill="#560056" d="M1522 1116.8l6.6 1.1l2.4-2.9l-6.6-1z"/><path fill="#8badad" d="M1538.6 1123.2l6.6 1v-1.9l-6.6-1z"/><path fill="#c4f5f5" d="M1545.2 1124.2l2.4-2.8v-1.9l-2.4 2.8z"/><path fill="#abd6d6" d="M1538.6 1121.3l6.6 1l2.4-2.8l-6.6-1z"/><path fill="#adad8b" d="M1555.1 1125.7l6.6 1.1v-1l-6.6-1z"/><path fill="#f5f5c4" d="M1561.7 1126.8l2.4-2.9v-0.9l-2.4 2.8z"/><path fill="#d6d6ab" d="M1555.1 1124.8l6.6 1l2.4-2.8l-6.6-1z"/><path class="z" fill="#812b56" d="M1571.7 1128.3l6.6 1l2.4-2.8l-6.6-1z"/><path class="z" fill="#8181d6" d="M1588.2 1130.8l6.6 1l2.4-2.8l-6.6-1z"/><path fill="#688bad" d="M1251.2 1087.2l6.6 1l0.1-36.4l-6.6-1z"/><path fill="#93c4f5" d="M1257.8 1088.2l2.4-2.8l0.1-36.4l-2.4 2.8z"/><path fill="#81abd6" d="M1251.3 1050.8l6.6 1l2.4-2.8l-6.6-1z"/><path fill="#adad68" d="M1267.8 1089.8l6.6 1v-36.1l-6.6-1z"/><path fill="#f5f593" d="M1274.4 1090.8l2.4-2.8v-36.1l-2.4 2.8z"/><path fill="#d6d681" d="M1267.8 1053.7l6.6 1l2.4-2.8l-6.6-1z"/><path fill="#8bad8b" d="M1284.3 1092.3l6.6 1l0.1-35.3l-6.6-1z"/><path fill="#c4f5c4" d="M1290.9 1093.3l2.4-2.8l0.1-35.3l-2.4 2.8z"/><path fill="#abd6ab" d="M1284.4 1057l6.6 1l2.4-2.8l-6.6-1z"/><path fill="#8badad" d="M1300.9 1094.8l6.6 1v-34.3l-6.6-1z"/><path fill="#c4f5f5" d="M1307.5 1095.8l2.4-2.8v-34.3l-2.4 2.8z"/><path fill="#abd6d6" d="M1300.9 1060.5l6.6 1l2.4-2.8l-6.6-1z"/><path fill="#008bad" d="M1317.4 1097.4l6.6 1l0.1-33.1l-6.6-1z"/><path fill="#00c4f5" d="M1324 1098.4l2.4-2.8l0.1-33.1l-2.4 2.8z"/><path fill="#00abd6" d="M1317.5 1064.3l6.6 1l2.4-2.8l-6.6-1z"/><path fill="#0000ad" d="M1334 1099.9l6.6 1v-31.6l-6.6-1z"/><path fill="#0000f5" d="M1340.6 1100.9l2.4-2.8v-31.6l-2.4 2.8z"/><path fill="#0000d6" d="M1334 1068.3l6.6 1l2.4-2.8l-6.6-1.1z"/><path fill="#005757" d="M1350.5 1102.4l6.6 1l0.1-28.2l-6.7-1.1z"/><path fill="#007b7b" d="M1357.1 1103.4l2.4-2.8l0.1-28.3l-2.4 2.9z"/><path fill="#006c6c" d="M1350.5 1074.1l6.7 1.1l2.4-2.9l-6.6-1z"/><path fill="#570000" d="M1367.1 1104.9l6.6 1.1v-25l-6.6-1z"/><path fill="#7b0000" d="M1373.7 1106l2.4-2.9v-24.9l-2.4 2.8z"/><path fill="#6c0000" d="M1367.1 1080l6.6 1l2.4-2.8l-6.6-1z"/><path fill="#570057" d="M1383.6 1107.5l6.6 1l0.1-21.1l-6.7-1z"/><path fill="#7b007b" d="M1390.2 1108.5l2.4-2.8l0.1-21.1l-2.4 2.8z"/><path fill="#6c006c" d="M1383.6 1086.4l6.7 1l2.4-2.8l-6.7-1z"/><path fill="#00adad" d="M1400.2 1110l6.6 1v-19.2l-6.6-1z"/><path fill="#00f5f5" d="M1406.8 1111l2.4-2.8v-19.2l-2.4 2.8z"/><path fill="#00d6d6" d="M1400.2 1090.8l6.6 1l2.4-2.8l-6.6-1z"/><path fill="#adad00" d="M1416.7 1112.5l6.6 1.1l0.1-17.3l-6.7-1z"/><path fill="#f5f500" d="M1423.3 1113.6l2.4-2.9l0.1-17.2l-2.4 2.8z"/><path fill="#d6d600" d="M1416.7 1095.3l6.7 1l2.4-2.8l-6.7-1z"/><path fill="#ad00ad" d="M1433.3 1115.1l6.6 1v-15.4l-6.6-1z"/><path fill="#f500f5" d="M1439.9 1116.1l2.4-2.8v-15.4l-2.4 2.8z"/><path fill="#d600d6" d="M1433.3 1099.7l6.6 1l2.4-2.8l-6.6-1z"/><path fill="#000057" d="M1449.8 1117.6l6.6 1v-13.4l-6.6-1z"/><path fill="#00007b" d="M1456.4 1118.6l2.4-2.8l0.1-13.4l-2.5 2.8z"/><path fill="#00006c" d="M1449.8 1104.2l6.6 1l2.5-2.8l-6.7-1z"/><path fill="#8b8bad" d="M1466.4 1120.1l6.6 1v-9.5l-6.6-1.1z"/><path fill="#c4c4f5" d="M1473 1121.1l2.4-2.8v-9.6l-2.4 2.9z"/><path fill="#ababd6" d="M1466.4 1110.5l6.6 1.1l2.4-2.9l-6.6-1z"/><path fill="#00458b" d="M1482.9 1122.7l6.6 1v-6.7l-6.6-1z"/><path fill="#0062c4" d="M1489.5 1123.7l2.4-2.8v-6.8l-2.4 2.9z"/><path fill="#0056ab" d="M1482.9 1116l6.6 1l2.4-2.9l-6.6-1z"/><path fill="#ad5757" d="M1499.5 1125.2l6.6 1v-4.8l-6.6-1z"/><path fill="#f57b7b" d="M1506.1 1126.2l2.4-2.8v-4.8l-2.4 2.8z"/><path fill="#d66c6c" d="M1499.5 1120.4l6.6 1l2.4-2.8l-6.6-1z"/><path fill="#450045" d="M1516 1127.7l6.6 1v-2.8l-6.6-1z"/><path fill="#620062" d="M1522.6 1128.7l2.4-2.8v-2.9l-2.4 2.9z"/><path fill="#560056" d="M1516 1124.9l6.6 1l2.4-2.9l-6.6-1z"/><path fill="#8badad" d="M1532.6 1130.3l6.6 1v-1.9l-6.6-1.1z"/><path fill="#c4f5f5" d="M1539.2 1131.3l2.4-2.8v-2l-2.4 2.9z"/><path fill="#abd6d6" d="M1532.6 1128.3l6.6 1.1l2.4-2.9l-6.6-1z"/><path fill="#adad8b" d="M1549.1 1132.8l6.6 1v-1l-6.6-1z"/><path fill="#f5f5c4" d="M1555.7 1133.8l2.4-2.8v-1l-2.4 2.8z"/><path fill="#d6d6ab" d="M1549.1 1131.8l6.6 1l2.4-2.8l-6.6-1z"/><path class="z" fill="#812b56" d="M1565.7 1135.3l6.6 1l2.4-2.8l-6.6-1z"/><path class="z" fill="#8181d6" d="M1582.2 1137.9l6.6 1l2.4-2.8l-6.6-1.1z"/><path fill="#688bad" d="M1245.2 1094.2l6.6 1.1l0.1-37.4l-6.7-1z"/><path fill="#93c4f5" d="M1251.8 1095.3l2.4-2.8l0.1-37.4l-2.4 2.8z"/><path fill="#81abd6" d="M1245.2 1056.9l6.7 1l2.4-2.8l-6.6-1z"/><path fill="#adad68" d="M1261.7 1096.8l6.7 1v-37.1l-6.6-1z"/><path fill="#f5f593" d="M1268.4 1097.8l2.4-2.8v-37.1l-2.4 2.8z"/><path fill="#d6d681" d="M1261.8 1059.7l6.6 1l2.4-2.8l-6.6-1z"/><path fill="#8bad8b" d="M1278.3 1099.3l6.6 1l0.1-36.4l-6.7-1.1z"/><path fill="#c4f5c4" d="M1284.9 1100.3l2.4-2.8l0.1-36.5l-2.4 2.9z"/><path fill="#abd6ab" d="M1278.3 1062.8l6.7 1.1l2.4-2.9l-6.6-1z"/><path fill="#8badad" d="M1294.8 1101.8l6.7 1.1v-35.7l-6.6-1z"/><path fill="#c4f5f5" d="M1301.5 1102.9l2.4-2.9v-35.6l-2.4 2.8z"/><path fill="#abd6d6" d="M1294.9 1066.2l6.6 1l2.4-2.8l-6.6-1z"/><path fill="#008bad" d="M1311.4 1104.4l6.6 1l0.1-34.7l-6.7-1z"/><path fill="#00c4f5" d="M1318 1105.4l2.4-2.8l0.1-34.7l-2.4 2.8z"/><path fill="#00abd6" d="M1311.4 1069.7l6.7 1l2.4-2.8l-6.7-1z"/><path fill="#0000ad" d="M1327.9 1106.9l6.7 1v-33.5l-6.6-1z"/><path fill="#0000f5" d="M1334.6 1107.9l2.4-2.8v-33.5l-2.4 2.8z"/><path fill="#0000d6" d="M1328 1073.4l6.6 1l2.4-2.8l-6.6-1z"/><path fill="#005757" d="M1344.5 1109.4l6.6 1.1l0.1-30.2l-6.7-1z"/><path fill="#007b7b" d="M1351.1 1110.5l2.4-2.9l0.1-30.1l-2.4 2.8z"/><path fill="#006c6c" d="M1344.5 1079.3l6.7 1l2.4-2.8l-6.7-1.1z"/><path fill="#570000" d="M1361.1 1112l6.6 1v-26.8l-6.6-1.1z"/><path fill="#7b0000" d="M1367.7 1113l2.4-2.8v-26.9l-2.4 2.9z"/><path fill="#6c0000" d="M1361.1 1085.1l6.6 1.1l2.4-2.9l-6.6-1z"/><path fill="#570057" d="M1377.6 1114.5l6.6 1v-22l-6.6-1z"/><path fill="#7b007b" d="M1384.2 1115.5l2.4-2.8l0.1-22l-2.5 2.8z"/><path fill="#6c006c" d="M1377.6 1092.5l6.6 1l2.5-2.8l-6.7-1.1z"/><path fill="#00adad" d="M1394.2 1117l6.6 1.1v-20.2l-6.6-1z"/><path fill="#00f5f5" d="M1400.8 1118.1l2.4-2.9v-20.1l-2.4 2.8z"/><path fill="#00d6d6" d="M1394.2 1096.9l6.6 1l2.4-2.8l-6.6-1z"/><path fill="#adad00" d="M1410.7 1119.6l6.6 1v-18.2l-6.6-1z"/><path fill="#f5f500" d="M1417.3 1120.6l2.4-2.8v-18.2l-2.4 2.8z"/><path fill="#d6d600" d="M1410.7 1101.4l6.6 1l2.4-2.8l-6.6-1.1z"/><path fill="#ad00ad" d="M1427.3 1122.1l6.6 1v-14.4l-6.6-1z"/><path fill="#f500f5" d="M1433.9 1123.1l2.4-2.8v-14.4l-2.4 2.8z"/><path fill="#d600d6" d="M1427.3 1107.7l6.6 1l2.4-2.8l-6.6-1z"/><path fill="#000057" d="M1443.8 1124.6l6.6 1.1v-13.5l-6.6-1z"/><path fill="#00007b" d="M1450.4 1125.7l2.4-2.9v-13.4l-2.4 2.8z"/><path fill="#00006c" d="M1443.8 1111.2l6.6 1l2.4-2.8l-6.6-1z"/><path fill="#8b8bad" d="M1460.4 1127.2l6.6 1v-11.5l-6.6-1z"/><path fill="#c4c4f5" d="M1467 1128.2l2.4-2.8v-11.5l-2.4 2.8z"/><path fill="#ababd6" d="M1460.4 1115.7l6.6 1l2.4-2.8l-6.6-1.1z"/><path fill="#00458b" d="M1476.9 1129.7l6.6 1v-6.7l-6.6-1z"/><path fill="#0062c4" d="M1483.5 1130.7l2.4-2.8v-6.7l-2.4 2.8z"/><path fill="#0056ab" d="M1476.9 1123l6.6 1l2.4-2.8l-6.6-1z"/><path fill="#ad5757" d="M1493.5 1132.2l6.6 1.1v-5.8l-6.6-1z"/><path fill="#f57b7b" d="M1500.1 1133.3l2.4-2.9v-5.7l-2.4 2.8z"/><path fill="#d66c6c" d="M1493.5 1126.5l6.6 1l2.4-2.8l-6.6-1z"/><path fill="#450045" d="M1510 1134.8l6.6 1v-2.9l-6.6-1z"/><path fill="#620062" d="M1516.6 1135.8l2.4-2.8v-2.9l-2.4 2.8z"/><path fill="#560056" d="M1510 1131.9l6.6 1l2.4-2.8l-6.6-1z"/><path fill="#8badad" d="M1526.6 1137.3l6.6 1v-1.9l-6.6-1z"/><path fill="#c4f5f5" d="M1533.2 1138.3l2.4-2.8v-1.9l-2.4 2.8z"/><path fill="#abd6d6" d="M1526.6 1135.4l6.6 1l2.4-2.8l-6.6-1z"/><path fill="#adad8b" d="M1543.1 1139.8l6.6 1.1v-1l-6.6-1z"/><path fill="#f5f5c4" d="M1549.7 1140.9l2.4-2.9v-0.9l-2.4 2.8z"/><path fill="#d6d6ab" d="M1543.1 1138.9l6.6 1l2.4-2.8l-6.6-1z"/><path class="z" fill="#812b56" d="M1559.7 1142.4l6.6 1l2.4-2.8l-6.6-1z"/><path class="z" fill="#8181d6" d="M1576.2 1144.9l6.6 1l2.4-2.8l-6.6-1z"/><path fill="#688bad" d="M1239.2 1101.3l6.6 1v-40.2l-6.6-1z"/><path fill="#93c4f5" d="M1245.8 1102.3l2.4-2.8l0.1-40.2l-2.5 2.8z"/><path fill="#81abd6" d="M1239.2 1061.1l6.6 1l2.5-2.8l-6.7-1z"/><path fill="#adad68" d="M1255.7 1103.8l6.6 1l0.1-39.8l-6.6-1z"/><path fill="#f5f593" d="M1262.3 1104.8l2.5-2.8v-39.8l-2.4 2.8z"/><path fill="#d6d681" d="M1255.8 1064l6.6 1l2.4-2.8l-6.6-1.1z"/><path fill="#8bad8b" d="M1272.3 1106.3l6.6 1.1v-39.2l-6.6-1z"/><path fill="#c4f5c4" d="M1278.9 1107.4l2.4-2.9l0.1-39.1l-2.5 2.8z"/><path fill="#abd6ab" d="M1272.3 1067.2l6.6 1l2.5-2.8l-6.7-1z"/><path fill="#8badad" d="M1288.8 1108.9l6.7 1v-38.1l-6.6-1z"/><path fill="#c4f5f5" d="M1295.5 1109.9l2.4-2.8v-38.1l-2.4 2.8z"/><path fill="#abd6d6" d="M1288.9 1070.8l6.6 1l2.4-2.8l-6.6-1.1z"/><path fill="#008bad" d="M1305.4 1111.4l6.6 1v-36.9l-6.6-1z"/><path fill="#00c4f5" d="M1312 1112.4l2.4-2.8l0.1-36.9l-2.5 2.8z"/><path fill="#00abd6" d="M1305.4 1074.5l6.6 1l2.5-2.8l-6.7-1z"/><path fill="#0000ad" d="M1321.9 1113.9l6.7 1.1v-35.5l-6.6-1z"/><path fill="#0000f5" d="M1328.6 1115l2.4-2.9v-35.4l-2.4 2.8z"/><path fill="#0000d6" d="M1322 1078.5l6.6 1l2.4-2.8l-6.6-1z"/><path fill="#005757" d="M1338.5 1116.5l6.6 1v-32.1l-6.6-1z"/><path fill="#007b7b" d="M1345.1 1117.5l2.4-2.8v-32.1l-2.4 2.8z"/><path fill="#006c6c" d="M1338.5 1084.4l6.6 1l2.4-2.8l-6.6-1z"/><path fill="#570000" d="M1355 1119l6.7 1v-28.7l-6.6-1z"/><path fill="#7b0000" d="M1361.7 1120l2.4-2.8v-28.7l-2.4 2.8z"/><path fill="#6c0000" d="M1355.1 1090.3l6.6 1l2.4-2.8l-6.6-1.1z"/><path fill="#570057" d="M1371.6 1121.5l6.6 1.1v-24l-6.6-1z"/><path fill="#7b007b" d="M1378.2 1122.6l2.4-2.9v-23.9l-2.4 2.8z"/><path fill="#6c006c" d="M1371.6 1097.6l6.6 1l2.4-2.8l-6.6-1z"/><path fill="#00adad" d="M1388.1 1124.1l6.7 1v-21.1l-6.6-1z"/><path fill="#00f5f5" d="M1394.8 1125.1l2.4-2.8v-21.1l-2.4 2.8z"/><path fill="#00d6d6" d="M1388.2 1103l6.6 1l2.4-2.8l-6.6-1z"/><path fill="#adad00" d="M1404.7 1126.6l6.6 1v-19.2l-6.6-1z"/><path fill="#f5f500" d="M1411.3 1127.6l2.4-2.8v-19.2l-2.4 2.8z"/><path fill="#d6d600" d="M1404.7 1107.4l6.6 1l2.4-2.8l-6.6-1z"/><path fill="#ad00ad" d="M1421.2 1129.1l6.7 1.1v-15.4l-6.6-1z"/><path fill="#f500f5" d="M1427.9 1130.2l2.4-2.9v-15.3l-2.4 2.8z"/><path fill="#d600d6" d="M1421.3 1113.8l6.6 1l2.4-2.8l-6.6-1z"/><path fill="#000057" d="M1437.8 1131.7l6.6 1v-14.4l-6.6-1z"/><path fill="#00007b" d="M1444.4 1132.7l2.4-2.8v-14.4l-2.4 2.8z"/><path fill="#00006c" d="M1437.8 1117.3l6.6 1l2.4-2.8l-6.6-1z"/><path fill="#8b8bad" d="M1454.4 1134.2l6.6 1v-11.5l-6.6-1z"/><path fill="#c4c4f5" d="M1461 1135.2l2.4-2.8v-11.5l-2.4 2.8z"/><path fill="#ababd6" d="M1454.4 1122.7l6.6 1l2.4-2.8l-6.6-1z"/><path fill="#00458b" d="M1470.9 1136.7l6.6 1.1v-7.7l-6.6-1z"/><path fill="#0062c4" d="M1477.5 1137.8l2.4-2.9v-7.6l-2.4 2.8z"/><path fill="#0056ab" d="M1470.9 1129.1l6.6 1l2.4-2.8l-6.6-1z"/><path fill="#ad5757" d="M1487.5 1139.3l6.6 1v-6.7l-6.6-1z"/><path fill="#f57b7b" d="M1494.1 1140.3l2.4-2.8v-6.7l-2.4 2.8z"/><path fill="#d66c6c" d="M1487.5 1132.6l6.6 1l2.4-2.8l-6.6-1.1z"/><path fill="#450045" d="M1504 1141.8l6.6 1v-3.8l-6.6-1z"/><path fill="#620062" d="M1510.6 1142.8l2.4-2.8v-3.8l-2.4 2.8z"/><path fill="#560056" d="M1504 1138l6.6 1l2.4-2.8l-6.6-1z"/><path fill="#8badad" d="M1520.6 1144.3l6.6 1.1v-2.9l-6.6-1z"/><path fill="#c4f5f5" d="M1527.2 1145.4l2.4-2.9v-2.8l-2.4 2.8z"/><path fill="#abd6d6" d="M1520.6 1141.5l6.6 1l2.4-2.8l-6.6-1z"/><path fill="#adad8b" d="M1537.1 1146.9l6.6 1v-1.9l-6.6-1z"/><path fill="#f5f5c4" d="M1543.7 1147.9l2.4-2.8v-1.9l-2.4 2.8z"/><path fill="#d6d6ab" d="M1537.1 1145l6.6 1l2.4-2.8l-6.6-1.1z"/><path class="z" fill="#812b56" d="M1553.7 1149.4l6.6 1l2.4-2.8l-6.6-1z"/><path class="z" fill="#8181d6" d="M1570.2 1152l6.6 1l2.4-2.9l-6.6-1z"/><path fill="#688bad" d="M1233.2 1108.3l6.6 1v-42.1l-6.6-1z"/><path fill="#93c4f5" d="M1239.8 1109.3l2.4-2.8v-42.1l-2.4 2.8z"/><path fill="#81abd6" d="M1233.2 1066.2l6.6 1l2.4-2.8l-6.6-1z"/><path fill="#adad68" d="M1249.7 1110.8l6.6 1l0.1-41.8l-6.6-1z"/><path fill="#f5f593" d="M1256.3 1111.8l2.4-2.8l0.1-41.8l-2.4 2.8z"/><path fill="#d6d681" d="M1249.8 1069l6.6 1l2.4-2.8l-6.6-1z"/><path fill="#8bad8b" d="M1266.3 1113.4l6.6 1v-41.3l-6.6-1z"/><path fill="#c4f5c4" d="M1272.9 1114.4l2.4-2.8v-41.3l-2.4 2.8z"/><path fill="#abd6ab" d="M1266.3 1072.1l6.6 1l2.4-2.8l-6.6-1z"/><path fill="#8badad" d="M1282.8 1115.9l6.6 1l0.1-40.4l-6.6-1.1z"/><path fill="#c4f5f5" d="M1289.4 1116.9l2.4-2.8l0.1-40.5l-2.4 2.9z"/><path fill="#abd6d6" d="M1282.9 1075.4l6.6 1.1l2.4-2.9l-6.6-1z"/><path fill="#008bad" d="M1299.4 1118.4l6.6 1.1v-39.5l-6.6-1z"/><path fill="#00c4f5" d="M1306 1119.5l2.4-2.9v-39.4l-2.4 2.8z"/><path fill="#00abd6" d="M1299.4 1079l6.6 1l2.4-2.8l-6.6-1z"/><path fill="#0000ad" d="M1315.9 1121l6.6 1l0.1-38.3l-6.6-1.1z"/><path fill="#0000f5" d="M1322.5 1122l2.4-2.8l0.1-38.4l-2.4 2.9z"/><path fill="#0000d6" d="M1316 1082.6l6.6 1.1l2.4-2.9l-6.6-1z"/><path fill="#005757" d="M1332.5 1123.5l6.6 1v-34.5l-6.6-1z"/><path fill="#007b7b" d="M1339.1 1124.5l2.4-2.8v-34.5l-2.4 2.8z"/><path fill="#006c6c" d="M1332.5 1089l6.6 1l2.4-2.8l-6.6-1z"/><path fill="#570000" d="M1349 1126l6.6 1.1l0.1-30.7l-6.6-1z"/><path fill="#7b0000" d="M1355.6 1127.1l2.5-2.9v-30.6l-2.4 2.8z"/><path fill="#6c0000" d="M1349.1 1095.4l6.6 1l2.4-2.8l-6.6-1z"/><path fill="#570057" d="M1365.6 1128.6l6.6 1v-25.9l-6.6-1z"/><path fill="#7b007b" d="M1372.2 1129.6l2.4-2.8v-25.9l-2.4 2.8z"/><path fill="#6c006c" d="M1365.6 1102.7l6.6 1l2.4-2.8l-6.6-1z"/><path fill="#00adad" d="M1382.1 1131.1l6.7 1v-23l-6.6-1z"/><path fill="#00f5f5" d="M1388.8 1132.1l2.4-2.8v-23l-2.4 2.8z"/><path fill="#00d6d6" d="M1382.2 1108.1l6.6 1l2.4-2.8l-6.6-1z"/><path fill="#adad00" d="M1398.7 1133.6l6.6 1.1v-21.1l-6.6-1.1z"/><path fill="#f5f500" d="M1405.3 1134.7l2.4-2.9v-21.1l-2.4 2.9z"/><path fill="#d6d600" d="M1398.7 1112.5l6.6 1.1l2.4-2.9l-6.6-1z"/><path fill="#ad00ad" d="M1415.2 1136.2l6.7 1v-17.3l-6.6-1z"/><path fill="#f500f5" d="M1421.9 1137.2l2.4-2.8v-17.3l-2.4 2.8z"/><path fill="#d600d6" d="M1415.3 1118.9l6.6 1l2.4-2.8l-6.6-1z"/><path fill="#000057" d="M1431.8 1138.7l6.6 1v-15.3l-6.6-1z"/><path fill="#00007b" d="M1438.4 1139.7l2.4-2.8v-15.3l-2.4 2.8z"/><path fill="#00006c" d="M1431.8 1123.4l6.6 1l2.4-2.8l-6.6-1z"/><path fill="#8b8bad" d="M1448.3 1141.3l6.7 1v-12.5l-6.6-1z"/><path fill="#c4c4f5" d="M1455 1142.3l2.4-2.9v-12.4l-2.4 2.8z"/><path fill="#ababd6" d="M1448.4 1128.8l6.6 1l2.4-2.8l-6.6-1z"/><path fill="#00458b" d="M1464.9 1143.8l6.6 1v-8.6l-6.6-1.1z"/><path fill="#0062c4" d="M1471.5 1144.8l2.4-2.8v-8.7l-2.4 2.9z"/><path fill="#0056ab" d="M1464.9 1135.1l6.6 1.1l2.4-2.9l-6.6-1z"/><path fill="#ad5757" d="M1481.4 1146.3l6.7 1v-7.6l-6.6-1.1z"/><path fill="#f57b7b" d="M1488.1 1147.3l2.4-2.8v-7.7l-2.4 2.9z"/><path fill="#d66c6c" d="M1481.5 1138.6l6.6 1.1l2.4-2.9l-6.6-1z"/><path fill="#450045" d="M1498 1148.9l6.6 1v-3.9l-6.6-1z"/><path fill="#620062" d="M1504.6 1149.9l2.4-2.8v-3.9l-2.4 2.8z"/><path fill="#560056" d="M1498 1145l6.6 1l2.4-2.8l-6.6-1z"/><path fill="#8badad" d="M1514.6 1151.4l6.6 1v-2.9l-6.6-1z"/><path fill="#c4f5f5" d="M1521.2 1152.4l2.4-2.8v-2.9l-2.4 2.8z"/><path fill="#abd6d6" d="M1514.6 1148.5l6.6 1l2.4-2.8l-6.6-1z"/><path fill="#adad8b" d="M1531.1 1153.9l6.6 1v-1.9l-6.6-1z"/><path fill="#f5f5c4" d="M1537.7 1154.9l2.4-2.8v-1.9l-2.4 2.8z"/><path fill="#d6d6ab" d="M1531.1 1152l6.6 1l2.4-2.8l-6.6-1z"/><path class="z" fill="#812b56" d="M1547.7 1156.5l6.6 1l2.4-2.8l-6.6-1.1z"/><path class="z" fill="#8181d6" d="M1564.2 1159l6.6 1l2.4-2.8l-6.6-1z"/><path fill="#688bad" d="M1227.1 1115.3l6.7 1v-43l-6.6-1.1z"/><path fill="#93c4f5" d="M1233.8 1116.3l2.4-2.8v-43.1l-2.4 2.9z"/><path fill="#81abd6" d="M1227.2 1072.2l6.6 1.1l2.4-2.9l-6.6-1z"/><path fill="#adad68" d="M1243.7 1117.9l6.6 1l0.1-42.9l-6.7-1z"/><path fill="#f5f593" d="M1250.3 1118.9l2.4-2.8l0.1-42.9l-2.4 2.8z"/><path fill="#d6d681" d="M1243.7 1075l6.7 1l2.4-2.8l-6.6-1z"/><path fill="#8bad8b" d="M1260.2 1120.4l6.7 1v-42.4l-6.6-1z"/><path fill="#c4f5c4" d="M1266.9 1121.4l2.4-2.8v-42.4l-2.4 2.8z"/><path fill="#abd6ab" d="M1260.3 1078l6.6 1l2.4-2.8l-6.6-1z"/><path fill="#8badad" d="M1276.8 1122.9l6.6 1l0.1-41.8l-6.7-1z"/><path fill="#c4f5f5" d="M1283.4 1123.9l2.4-2.8l0.1-41.8l-2.4 2.8z"/><path fill="#abd6d6" d="M1276.8 1081.1l6.7 1l2.4-2.8l-6.6-1z"/><path fill="#008bad" d="M1293.4 1125.5l6.6 1v-41.1l-6.6-1z"/><path fill="#00c4f5" d="M1300 1126.5l2.4-2.8v-41.1l-2.4 2.8z"/><path fill="#00abd6" d="M1293.4 1084.4l6.6 1l2.4-2.8l-6.6-1z"/><path fill="#0000ad" d="M1309.9 1128l6.6 1l0.1-40.2l-6.7-1z"/><path fill="#0000f5" d="M1316.5 1129l2.4-2.8l0.1-40.2l-2.4 2.8z"/><path fill="#0000d6" d="M1309.9 1087.8l6.7 1l2.4-2.8l-6.6-1.1z"/><path fill="#005757" d="M1326.5 1130.5l6.6 1.1v-36.5l-6.6-1z"/><path fill="#007b7b" d="M1333.1 1131.6l2.4-2.9v-36.4l-2.4 2.8z"/><path fill="#006c6c" d="M1326.5 1094.1l6.6 1l2.4-2.8l-6.6-1z"/><path fill="#570000" d="M1343 1133.1l6.6 1l0.1-32.6l-6.7-1z"/><path fill="#7b0000" d="M1349.6 1134.1l2.4-2.8l0.1-32.6l-2.4 2.8z"/><path fill="#6c0000" d="M1343 1100.5l6.7 1l2.4-2.8l-6.6-1z"/><path fill="#570057" d="M1359.6 1135.6l6.6 1v-28.7l-6.6-1.1z"/><path fill="#7b007b" d="M1366.2 1136.6l2.4-2.8v-28.8l-2.4 2.9z"/><path fill="#6c006c" d="M1359.6 1106.8l6.6 1.1l2.4-2.9l-6.6-1z"/><path fill="#00adad" d="M1376.1 1138.1l6.6 1.1l0.1-25.9l-6.7-1z"/><path fill="#00f5f5" d="M1382.7 1139.2l2.4-2.9l0.1-25.8l-2.4 2.8z"/><path fill="#00d6d6" d="M1376.1 1112.3l6.7 1l2.4-2.8l-6.6-1.1z"/><path fill="#adad00" d="M1392.7 1140.7l6.6 1v-24l-6.6-1z"/><path fill="#f5f500" d="M1399.3 1141.7l2.4-2.8v-24l-2.4 2.8z"/><path fill="#d6d600" d="M1392.7 1116.7l6.6 1l2.4-2.8l-6.6-1z"/><path fill="#ad00ad" d="M1409.2 1143.2l6.7 1v-19.2l-6.7-1z"/><path fill="#f500f5" d="M1415.9 1144.2l2.4-2.8v-19.2l-2.4 2.8z"/><path fill="#d600d6" d="M1409.2 1124l6.7 1l2.4-2.8l-6.7-1z"/><path fill="#000057" d="M1425.8 1145.8l6.6 1v-16.3l-6.6-1.1z"/><path fill="#00007b" d="M1432.4 1146.8l2.4-2.8v-16.4l-2.4 2.9z"/><path fill="#00006c" d="M1425.8 1129.4l6.6 1.1l2.4-2.9l-6.6-1z"/><path fill="#8b8bad" d="M1442.3 1148.3l6.7 1v-12.5l-6.7-1z"/><path fill="#c4c4f5" d="M1449 1149.3l2.4-2.8v-12.5l-2.4 2.8z"/><path fill="#ababd6" d="M1442.3 1135.8l6.7 1l2.4-2.8l-6.7-1z"/><path fill="#00458b" d="M1458.9 1150.8l6.6 1v-9.6l-6.6-1z"/><path fill="#0062c4" d="M1465.5 1151.8l2.4-2.8v-9.6l-2.4 2.8z"/><path fill="#0056ab" d="M1458.9 1141.2l6.6 1l2.4-2.8l-6.6-1z"/><path fill="#ad5757" d="M1475.4 1153.4l6.7 1v-9.6l-6.6-1z"/><path fill="#f57b7b" d="M1482.1 1154.4l2.4-2.8v-9.6l-2.4 2.8z"/><path fill="#d66c6c" d="M1475.5 1143.8l6.6 1l2.4-2.8l-6.6-1.1z"/><path fill="#450045" d="M1492 1155.9l6.6 1v-3.8l-6.6-1z"/><path fill="#620062" d="M1498.6 1156.9l2.4-2.8v-3.8l-2.4 2.8z"/><path fill="#560056" d="M1492 1152.1l6.6 1l2.4-2.8l-6.6-1.1z"/><path fill="#8badad" d="M1508.6 1158.4l6.6 1v-2.8l-6.6-1z"/><path fill="#c4f5f5" d="M1515.2 1159.4l2.4-2.8v-2.8l-2.4 2.8z"/><path fill="#abd6d6" d="M1508.6 1155.6l6.6 1l2.4-2.8l-6.6-1.1z"/><path fill="#adad8b" d="M1525.1 1161l6.6 1v-1.9l-6.6-1z"/><path fill="#f5f5c4" d="M1531.7 1162l2.4-2.8v-2l-2.4 2.9z"/><path fill="#d6d6ab" d="M1525.1 1159.1l6.6 1l2.4-2.9l-6.6-1z"/><path class="z" fill="#812b56" d="M1541.7 1163.5l6.6 1l2.4-2.8l-6.6-1z"/><path class="z" fill="#8181d6" d="M1558.2 1166l6.6 1.1l2.4-2.9l-6.6-1z"/><path fill="#688bad" d="M1221.1 1122.3l6.6 1.1l0.1-45l-6.6-1z"/><path fill="#93c4f5" d="M1227.7 1123.4l2.4-2.9l0.1-44.9l-2.4 2.8z"/><path fill="#81abd6" d="M1221.2 1077.4l6.6 1l2.4-2.8l-6.6-1.1z"/><path fill="#adad68" d="M1237.7 1124.9l6.6 1v-44.8l-6.6-1z"/><path fill="#f5f593" d="M1244.3 1125.9l2.4-2.8l0.1-44.8l-2.5 2.8z"/><path fill="#d6d681" d="M1237.7 1080.1l6.6 1l2.5-2.8l-6.7-1z"/><path fill="#8bad8b" d="M1254.2 1127.4l6.7 1v-44.3l-6.6-1z"/><path fill="#c4f5c4" d="M1260.9 1128.4l2.4-2.8v-44.3l-2.4 2.8z"/><path fill="#abd6ab" d="M1254.3 1083.1l6.6 1l2.4-2.8l-6.6-1z"/><path fill="#8badad" d="M1270.8 1130l6.6 1l0.1-43.8l-6.7-1z"/><path fill="#c4f5f5" d="M1277.4 1131l2.4-2.8l0.1-43.8l-2.4 2.8z"/><path fill="#abd6d6" d="M1270.8 1086.2l6.7 1l2.4-2.8l-6.7-1z"/><path fill="#008bad" d="M1287.3 1132.5l6.7 1v-43l-6.6-1z"/><path fill="#00c4f5" d="M1294 1133.5l2.4-2.8v-43l-2.4 2.8z"/><path fill="#00abd6" d="M1287.4 1089.5l6.6 1l2.4-2.8l-6.6-1z"/><path fill="#0000ad" d="M1303.9 1135l6.6 1l0.1-42.1l-6.7-1z"/><path fill="#0000f5" d="M1310.5 1136l2.4-2.8l0.1-42.1l-2.4 2.8z"/><path fill="#0000d6" d="M1303.9 1092.9l6.7 1l2.4-2.8l-6.7-1z"/><path fill="#005757" d="M1320.4 1137.6l6.7 1v-38.4l-6.6-1z"/><path fill="#007b7b" d="M1327.1 1138.6l2.4-2.8v-38.4l-2.4 2.8z"/><path fill="#006c6c" d="M1320.5 1099.2l6.6 1l2.4-2.8l-6.6-1z"/><path fill="#570000" d="M1337 1140.1l6.6 1l0.1-34.5l-6.7-1z"/><path fill="#7b0000" d="M1343.6 1141.1l2.4-2.8l0.1-34.5l-2.4 2.8z"/><path fill="#6c0000" d="M1337 1105.6l6.7 1l2.4-2.8l-6.7-1z"/><path fill="#570057" d="M1353.6 1142.6l6.6 1.1v-30.7l-6.6-1z"/><path fill="#7b007b" d="M1360.2 1143.7l2.4-2.9v-30.6l-2.4 2.8z"/><path fill="#6c006c" d="M1353.6 1112l6.6 1l2.4-2.8l-6.6-1z"/><path fill="#00adad" d="M1370.1 1145.2l6.6 1l0.1-28.8l-6.7-1z"/><path fill="#00f5f5" d="M1376.7 1146.2l2.4-2.8l0.1-28.8l-2.4 2.8z"/><path fill="#00d6d6" d="M1370.1 1116.4l6.7 1l2.4-2.8l-6.7-1z"/><path fill="#adad00" d="M1386.7 1147.7l6.6 1v-26.8l-6.6-1z"/><path fill="#f5f500" d="M1393.3 1148.7l2.4-2.8v-26.8l-2.4 2.8z"/><path fill="#d6d600" d="M1386.7 1120.9l6.6 1l2.4-2.8l-6.6-1.1z"/><path fill="#ad00ad" d="M1403.2 1150.3l6.6 1l0.1-22.1l-6.7-1z"/><path fill="#f500f5" d="M1409.8 1151.3l2.4-2.8l0.1-22.1l-2.4 2.8z"/><path fill="#d600d6" d="M1403.2 1128.2l6.7 1l2.4-2.8l-6.7-1z"/><path fill="#000057" d="M1419.8 1152.8l6.6 1v-18.2l-6.6-1z"/><path fill="#00007b" d="M1426.4 1153.8l2.4-2.8v-18.2l-2.4 2.8z"/><path fill="#00006c" d="M1419.8 1134.6l6.6 1l2.4-2.8l-6.6-1.1z"/><path fill="#8b8bad" d="M1436.3 1155.3l6.7 1v-15.3l-6.7-1z"/><path fill="#c4c4f5" d="M1443 1156.3l2.4-2.8v-15.3l-2.4 2.8z"/><path fill="#ababd6" d="M1436.3 1140l6.7 1l2.4-2.8l-6.7-1z"/><path fill="#00458b" d="M1452.9 1157.9l6.6 1v-12.5l-6.6-1z"/><path fill="#0062c4" d="M1459.5 1158.9l2.4-2.8v-12.5l-2.4 2.8z"/><path fill="#0056ab" d="M1452.9 1145.4l6.6 1l2.4-2.8l-6.6-1z"/><path fill="#ad5757" d="M1469.4 1160.4l6.7 1v-11.5l-6.7-1z"/><path fill="#f57b7b" d="M1476.1 1161.4l2.4-2.8v-11.5l-2.4 2.8z"/><path fill="#d66c6c" d="M1469.4 1148.9l6.7 1l2.4-2.8l-6.7-1z"/><path fill="#450045" d="M1486 1162.9l6.6 1.1v-4.8l-6.6-1.1z"/><path fill="#620062" d="M1492.6 1164l2.4-2.9v-4.8l-2.4 2.9z"/><path fill="#560056" d="M1486 1158.1l6.6 1.1l2.4-2.9l-6.6-1z"/><path fill="#8badad" d="M1502.5 1165.5l6.7 1v-3.8l-6.6-1.1z"/><path fill="#c4f5f5" d="M1509.2 1166.5l2.4-2.8v-3.9l-2.4 2.9z"/><path fill="#abd6d6" d="M1502.6 1161.6l6.6 1.1l2.4-2.9l-6.6-1z"/><path fill="#adad8b" d="M1519.1 1168l6.6 1v-2.9l-6.6-1z"/><path fill="#f5f5c4" d="M1525.7 1169l2.4-2.8v-2.9l-2.4 2.8z"/><path fill="#d6d6ab" d="M1519.1 1165.1l6.6 1l2.4-2.8l-6.6-1z"/><path class="z" fill="#812b56" d="M1535.7 1170.6l6.6 1l2.4-2.9l-6.6-1z"/><path class="z" fill="#8181d6" d="M1552.2 1173.1l6.6 1l2.4-2.8l-6.6-1z"/><path fill="#688bad" d="M1215.1 1129.4l6.6 1l0.1-46l-6.6-1z"/><path fill="#93c4f5" d="M1221.7 1130.4l2.4-2.8l0.1-46l-2.4 2.8z"/><path fill="#81abd6" d="M1215.2 1083.4l6.6 1l2.4-2.8l-6.6-1z"/><path fill="#adad68" d="M1231.7 1131.9l6.6 1v-45.8l-6.6-1z"/><path fill="#f5f593" d="M1238.3 1132.9l2.4-2.8v-45.8l-2.4 2.8z"/><path fill="#d6d681" d="M1231.7 1086.1l6.6 1l2.4-2.8l-6.6-1z"/><path fill="#8bad8b" d="M1248.2 1134.4l6.6 1.1l0.1-45.6l-6.6-1z"/><path fill="#c4f5c4" d="M1254.8 1135.5l2.4-2.8l0.1-45.6l-2.4 2.8z"/><path fill="#abd6ab" d="M1248.3 1088.9l6.6 1l2.4-2.8l-6.6-1z"/><path fill="#8badad" d="M1264.8 1137l6.6 1v-45.1l-6.6-1z"/><path fill="#c4f5f5" d="M1271.4 1138l2.4-2.8v-45.1l-2.4 2.8z"/><path fill="#abd6d6" d="M1264.8 1091.9l6.6 1l2.4-2.8l-6.6-1.1z"/><path fill="#008bad" d="M1281.3 1139.5l6.6 1l0.1-44.6l-6.6-1z"/><path fill="#00c4f5" d="M1287.9 1140.5l2.5-2.8v-44.6l-2.4 2.8z"/><path fill="#00abd6" d="M1281.4 1094.9l6.6 1l2.4-2.8l-6.6-1z"/><path fill="#0000ad" d="M1297.9 1142.1l6.6 1v-44.1l-6.6-1z"/><path fill="#0000f5" d="M1304.5 1143.1l2.4-2.8v-44.1l-2.4 2.8z"/><path fill="#0000d6" d="M1297.9 1098l6.6 1l2.4-2.8l-6.6-1z"/><path fill="#005757" d="M1314.4 1144.6l6.7 1v-40.7l-6.6-1z"/><path fill="#007b7b" d="M1321.1 1145.6l2.4-2.8v-40.7l-2.4 2.8z"/><path fill="#006c6c" d="M1314.5 1103.9l6.6 1l2.4-2.8l-6.6-1z"/><path fill="#570000" d="M1331 1147.1l6.6 1.1v-37.4l-6.6-1z"/><path fill="#7b0000" d="M1337.6 1148.2l2.4-2.9l0.1-37.3l-2.5 2.8z"/><path fill="#6c0000" d="M1331 1109.8l6.6 1l2.5-2.8l-6.7-1.1z"/><path fill="#570057" d="M1347.5 1149.7l6.7 1v-33.6l-6.6-1z"/><path fill="#7b007b" d="M1354.2 1150.7l2.4-2.8v-33.6l-2.4 2.8z"/><path fill="#6c006c" d="M1347.6 1116.1l6.6 1l2.4-2.8l-6.6-1z"/><path fill="#00adad" d="M1364.1 1152.2l6.6 1l0.1-32.6l-6.7-1z"/><path fill="#00f5f5" d="M1370.7 1153.2l2.4-2.8l0.1-32.6l-2.4 2.8z"/><path fill="#00d6d6" d="M1364.1 1119.6l6.7 1l2.4-2.8l-6.7-1z"/><path fill="#adad00" d="M1380.7 1154.8l6.6 1v-30.7l-6.6-1z"/><path fill="#f5f500" d="M1387.3 1155.8l2.4-2.8v-30.7l-2.4 2.8z"/><path fill="#d6d600" d="M1380.7 1124.1l6.6 1l2.4-2.8l-6.6-1.1z"/><path fill="#ad00ad" d="M1397.2 1157.3l6.6 1l0.1-25.9l-6.7-1z"/><path fill="#f500f5" d="M1403.8 1158.3l2.4-2.8l0.1-25.9l-2.4 2.8z"/><path fill="#d600d6" d="M1397.2 1131.4l6.7 1l2.4-2.8l-6.7-1z"/><path fill="#000057" d="M1413.8 1159.8l6.6 1v-22l-6.6-1z"/><path fill="#00007b" d="M1420.4 1160.8l2.4-2.8v-22l-2.4 2.8z"/><path fill="#00006c" d="M1413.8 1137.8l6.6 1l2.4-2.8l-6.6-1.1z"/><path fill="#8b8bad" d="M1430.3 1162.4l6.6 1l0.1-19.2l-6.7-1z"/><path fill="#c4c4f5" d="M1436.9 1163.4l2.4-2.8l0.1-19.2l-2.4 2.8z"/><path fill="#ababd6" d="M1430.3 1143.2l6.7 1l2.4-2.8l-6.7-1z"/><path fill="#00458b" d="M1446.9 1164.9l6.6 1v-16.3l-6.6-1z"/><path fill="#0062c4" d="M1453.5 1165.9l2.4-2.8v-16.3l-2.4 2.8z"/><path fill="#0056ab" d="M1446.9 1148.6l6.6 1l2.4-2.8l-6.6-1z"/><path fill="#ad5757" d="M1463.4 1167.4l6.7 1.1v-14.4l-6.7-1.1z"/><path fill="#f57b7b" d="M1470.1 1168.5l2.4-2.9v-14.4l-2.4 2.9z"/><path fill="#d66c6c" d="M1463.4 1153l6.7 1.1l2.4-2.9l-6.7-1z"/><path fill="#450045" d="M1480 1170l6.6 1v-5.8l-6.6-1z"/><path fill="#620062" d="M1486.6 1171l2.4-2.8v-5.8l-2.4 2.8z"/><path fill="#560056" d="M1480 1164.2l6.6 1l2.4-2.8l-6.6-1z"/><path fill="#8badad" d="M1496.5 1172.5l6.7 1v-4.8l-6.7-1z"/><path fill="#c4f5f5" d="M1503.2 1173.5l2.4-2.8v-4.8l-2.4 2.8z"/><path fill="#abd6d6" d="M1496.5 1167.7l6.7 1l2.4-2.8l-6.7-1z"/><path fill="#adad8b" d="M1513.1 1175.1l6.6 1v-2.9l-6.6-1z"/><path fill="#f5f5c4" d="M1519.7 1176.1l2.4-2.8v-2.9l-2.4 2.8z"/><path fill="#d6d6ab" d="M1513.1 1172.2l6.6 1l2.4-2.8l-6.6-1z"/><path class="z" fill="#812b56" d="M1529.7 1177.6l6.6 1l2.4-2.8l-6.6-1z"/><path class="z" fill="#8181d6" d="M1546.2 1180.1l6.6 1.1l2.4-2.9l-6.6-1z"/><path fill="#688bad" d="M1209.1 1136.4l6.6 1l0.1-46.9l-6.7-1z"/><path fill="#93c4f5" d="M1215.7 1137.4l2.4-2.8l0.1-46.9l-2.4 2.8z"/><path fill="#81abd6" d="M1209.1 1089.5l6.7 1l2.4-2.8l-6.7-1z"/><path fill="#adad68" d="M1225.6 1138.9l6.7 1v-46.8l-6.6-1z"/><path fill="#f5f593" d="M1232.3 1139.9l2.4-2.8v-46.8l-2.4 2.8z"/><path fill="#d6d681" d="M1225.7 1092.1l6.6 1l2.4-2.8l-6.6-1z"/><path fill="#8bad8b" d="M1242.2 1141.5l6.6 1l0.1-46.7l-6.7-1z"/><path fill="#c4f5c4" d="M1248.8 1142.5l2.4-2.8l0.1-46.7l-2.4 2.8z"/><path fill="#abd6ab" d="M1242.2 1094.8l6.7 1l2.4-2.8l-6.7-1z"/><path fill="#8badad" d="M1258.8 1144l6.6 1v-46.5l-6.6-1z"/><path fill="#c4f5f5" d="M1265.4 1145l2.4-2.8v-46.5l-2.4 2.8z"/><path fill="#abd6d6" d="M1258.8 1097.5l6.6 1l2.4-2.8l-6.6-1z"/><path fill="#008bad" d="M1275.3 1146.6l6.6 1l0.1-46.3l-6.6-1z"/><path fill="#00c4f5" d="M1281.9 1147.6l2.4-2.8l0.1-46.3l-2.4 2.8z"/><path fill="#00abd6" d="M1275.4 1100.3l6.6 1l2.4-2.8l-6.6-1z"/><path fill="#0000ad" d="M1291.9 1149.1l6.6 1v-46l-6.6-1z"/><path fill="#0000f5" d="M1298.5 1150.1l2.4-2.8v-46l-2.4 2.8z"/><path fill="#0000d6" d="M1291.9 1103.1l6.6 1l2.4-2.8l-6.6-1z"/><path fill="#005757" d="M1308.4 1151.6l6.6 1l0.1-43.1l-6.6-1z"/><path fill="#007b7b" d="M1315 1152.6l2.4-2.8l0.1-43.1l-2.4 2.8z"/><path fill="#006c6c" d="M1308.5 1108.5l6.6 1l2.4-2.8l-6.6-1z"/><path fill="#570000" d="M1325 1154.2l6.6 1v-40.3l-6.6-1z"/><path fill="#7b0000" d="M1331.6 1155.2l2.4-2.8v-40.3l-2.4 2.8z"/><path fill="#6c0000" d="M1325 1113.9l6.6 1l2.4-2.8l-6.6-1z"/><path fill="#570057" d="M1341.5 1156.7l6.7 1v-37.4l-6.6-1z"/><path fill="#7b007b" d="M1348.2 1157.7l2.4-2.8v-37.4l-2.4 2.8z"/><path fill="#6c006c" d="M1341.6 1119.3l6.6 1l2.4-2.8l-6.6-1z"/><path fill="#00adad" d="M1358.1 1159.2l6.6 1.1v-36.5l-6.6-1z"/><path fill="#00f5f5" d="M1364.7 1160.3l2.4-2.8v-36.5l-2.4 2.8z"/><path fill="#00d6d6" d="M1358.1 1122.8l6.6 1l2.4-2.8l-6.6-1z"/><path fill="#adad00" d="M1374.6 1161.8l6.7 1v-35.5l-6.6-1z"/><path fill="#f5f500" d="M1381.3 1162.8l2.4-2.8v-35.5l-2.4 2.8z"/><path fill="#d6d600" d="M1374.7 1126.3l6.6 1l2.4-2.8l-6.6-1z"/><path fill="#ad00ad" d="M1391.2 1164.3l6.6 1v-30.7l-6.6-1z"/><path fill="#f500f5" d="M1397.8 1165.3l2.4-2.8l0.1-30.7l-2.5 2.8z"/><path fill="#d600d6" d="M1391.2 1133.6l6.6 1l2.5-2.8l-6.7-1z"/><path fill="#000057" d="M1407.8 1166.9l6.6 1v-26.9l-6.6-1z"/><path fill="#00007b" d="M1414.4 1167.9l2.4-2.8v-26.9l-2.4 2.8z"/><path fill="#00006c" d="M1407.8 1140l6.6 1l2.4-2.8l-6.6-1z"/><path fill="#8b8bad" d="M1424.3 1169.4l6.6 1l0.1-24l-6.7-1z"/><path fill="#c4c4f5" d="M1430.9 1170.4l2.4-2.8l0.1-24l-2.4 2.8z"/><path fill="#ababd6" d="M1424.3 1145.4l6.7 1l2.4-2.8l-6.7-1z"/><path fill="#00458b" d="M1440.9 1171.9l6.6 1.1v-21.2l-6.6-1z"/><path fill="#0062c4" d="M1447.5 1173l2.4-2.9v-21.1l-2.4 2.8z"/><path fill="#0056ab" d="M1440.9 1150.8l6.6 1l2.4-2.8l-6.6-1z"/><path fill="#ad5757" d="M1457.4 1174.5l6.7 1v-18.2l-6.7-1.1z"/><path fill="#f57b7b" d="M1464.1 1175.5l2.4-2.8v-18.3l-2.4 2.9z"/><path fill="#d66c6c" d="M1457.4 1156.2l6.7 1.1l2.4-2.9l-6.7-1z"/><path fill="#450045" d="M1474 1177l6.6 1v-7.2l-6.6-1z"/><path fill="#620062" d="M1480.6 1178l2.4-2.8v-7.2l-2.4 2.8z"/><path fill="#560056" d="M1474 1169.8l6.6 1l2.4-2.8l-6.6-1z"/><path fill="#8badad" d="M1490.5 1179.6l6.7 1v-5.8l-6.7-1z"/><path fill="#c4f5f5" d="M1497.2 1180.6l2.4-2.8v-5.8l-2.4 2.8z"/><path fill="#abd6d6" d="M1490.5 1173.8l6.7 1l2.4-2.8l-6.7-1z"/><path fill="#adad8b" d="M1507.1 1182.1l6.6 1v-3.8l-6.6-1z"/><path fill="#f5f5c4" d="M1513.7 1183.1l2.4-2.8v-3.8l-2.4 2.8z"/><path fill="#d6d6ab" d="M1507.1 1178.3l6.6 1l2.4-2.8l-6.6-1.1z"/><path class="z" fill="#812b56" d="M1523.7 1184.6l6.6 1.1l2.4-2.9l-6.6-1z"/><path class="z" fill="#8181d6" d="M1540.2 1187.2l6.6 1l2.4-2.8l-6.6-1z"/><path fill="#688bad" d="M1203.1 1143.4l6.6 1v-47.8l-6.6-1z"/><path fill="#93c4f5" d="M1209.7 1144.4l2.4-2.8v-47.8l-2.4 2.8z"/><path fill="#81abd6" d="M1203.1 1095.6l6.6 1l2.4-2.8l-6.6-1z"/><path fill="#adad68" d="M1219.6 1146l6.6 1l0.1-47.9l-6.6-1z"/><path fill="#f5f593" d="M1226.2 1147l2.5-2.8v-47.9l-2.4 2.8z"/><path fill="#d6d681" d="M1219.7 1098.1l6.6 1l2.4-2.8l-6.6-1z"/><path fill="#8bad8b" d="M1236.2 1148.5l6.6 1v-47.9l-6.6-1z"/><path fill="#c4f5c4" d="M1242.8 1149.5l2.4-2.8l0.1-47.9l-2.5 2.8z"/><path fill="#abd6ab" d="M1236.2 1100.6l6.6 1l2.5-2.8l-6.7-1z"/><path fill="#8badad" d="M1252.7 1151l6.7 1.1v-47.9l-6.6-1z"/><path fill="#c4f5f5" d="M1259.4 1152.1l2.4-2.9v-47.8l-2.4 2.8z"/><path fill="#abd6d6" d="M1252.8 1103.2l6.6 1l2.4-2.8l-6.6-1.1z"/><path fill="#008bad" d="M1269.3 1153.6l6.6 1l0.1-47.9l-6.7-1z"/><path fill="#00c4f5" d="M1275.9 1154.6l2.4-2.8l0.1-47.9l-2.4 2.8z"/><path fill="#00abd6" d="M1269.3 1105.7l6.7 1l2.4-2.8l-6.7-1z"/><path fill="#0000ad" d="M1285.9 1156.1l6.6 1v-47.9l-6.6-1z"/><path fill="#0000f5" d="M1292.5 1157.1l2.4-2.8v-47.9l-2.4 2.8z"/><path fill="#0000d6" d="M1285.9 1108.2l6.6 1l2.4-2.8l-6.6-1z"/><path fill="#005757" d="M1302.4 1158.7l6.6 1l0.1-45.5l-6.7-1.1z"/><path fill="#007b7b" d="M1309 1159.7l2.4-2.8l0.1-45.6l-2.4 2.9z"/><path fill="#006c6c" d="M1302.4 1113.1l6.7 1.1l2.4-2.9l-6.6-1z"/><path fill="#570000" d="M1319 1161.2l6.6 1v-43.1l-6.6-1z"/><path fill="#7b0000" d="M1325.6 1162.2l2.4-2.8v-43.1l-2.4 2.8z"/><path fill="#6c0000" d="M1319 1118.1l6.6 1l2.4-2.8l-6.6-1z"/><path fill="#570057" d="M1335.5 1163.7l6.6 1.1l0.1-40.3l-6.6-1z"/><path fill="#7b007b" d="M1342.1 1164.8l2.4-2.9l0.1-40.2l-2.4 2.8z"/><path fill="#6c006c" d="M1335.6 1123.5l6.6 1l2.4-2.8l-6.6-1z"/><path fill="#00adad" d="M1352.1 1166.3l6.6 1v-40.3l-6.6-1z"/><path fill="#00f5f5" d="M1358.7 1167.3l2.4-2.8v-40.3l-2.4 2.8z"/><path fill="#00d6d6" d="M1352.1 1126l6.6 1l2.4-2.8l-6.6-1z"/><path fill="#adad00" d="M1368.6 1168.8l6.7 1v-40.3l-6.6-1z"/><path fill="#f5f500" d="M1375.3 1169.8l2.4-2.8v-40.3l-2.4 2.8z"/><path fill="#d6d600" d="M1368.7 1128.5l6.6 1l2.4-2.8l-6.6-1z"/><path fill="#ad00ad" d="M1385.2 1171.4l6.6 1v-36.5l-6.6-1z"/><path fill="#f500f5" d="M1391.8 1172.4l2.4-2.8v-36.5l-2.4 2.8z"/><path fill="#d600d6" d="M1385.2 1134.9l6.6 1l2.4-2.8l-6.6-1z"/><path fill="#000057" d="M1401.8 1173.9l6.6 1v-32.6l-6.6-1z"/><path fill="#00007b" d="M1408.4 1174.9l2.4-2.8v-32.6l-2.4 2.8z"/><path fill="#00006c" d="M1401.8 1141.3l6.6 1l2.4-2.8l-6.6-1z"/><path fill="#8b8bad" d="M1418.3 1176.4l6.6 1.1l0.1-30.8l-6.7-1z"/><path fill="#c4c4f5" d="M1424.9 1177.5l2.4-2.9l0.1-30.7l-2.4 2.8z"/><path fill="#ababd6" d="M1418.3 1145.7l6.7 1l2.4-2.8l-6.7-1z"/><path fill="#00458b" d="M1434.9 1179l6.6 1v-27.8l-6.6-1.1z"/><path fill="#0062c4" d="M1441.5 1180l2.4-2.8v-27.9l-2.4 2.9z"/><path fill="#0056ab" d="M1434.9 1151.1l6.6 1.1l2.4-2.9l-6.6-1z"/><path fill="#ad5757" d="M1451.4 1181.5l6.6 1l0.1-24l-6.7-1z"/><path fill="#f57b7b" d="M1458 1182.5l2.4-2.8l0.1-24l-2.4 2.8z"/><path fill="#d66c6c" d="M1451.4 1157.5l6.7 1l2.4-2.8l-6.7-1z"/><path fill="#450045" d="M1468 1184.1l6.6 1v-8.7l-6.6-1z"/><path fill="#620062" d="M1474.6 1185.1l2.4-2.8v-8.7l-2.4 2.8z"/><path fill="#560056" d="M1468 1175.4l6.6 1l2.4-2.8l-6.6-1z"/><path fill="#8badad" d="M1484.5 1186.6l6.7 1v-7.7l-6.7-1z"/><path fill="#c4f5f5" d="M1491.2 1187.6l2.4-2.8v-7.7l-2.4 2.8z"/><path fill="#abd6d6" d="M1484.5 1178.9l6.7 1l2.4-2.8l-6.7-1z"/><path fill="#adad8b" d="M1501.1 1189.1l6.6 1.1v-3.9l-6.6-1z"/><path fill="#f5f5c4" d="M1507.7 1190.2l2.4-2.9v-3.8l-2.4 2.8z"/><path fill="#d6d6ab" d="M1501.1 1185.3l6.6 1l2.4-2.8l-6.6-1z"/><path class="z" fill="#812b56" d="M1517.7 1191.7l6.6 1l2.4-2.8l-6.6-1z"/><path class="z" fill="#8181d6" d="M1534.2 1194.2l6.6 1l2.4-2.8l-6.6-1z"/><path fill="#688bad" d="M1197 1150.4l6.7 1.1v-48.8l-6.6-1.1z"/><path fill="#93c4f5" d="M1203.7 1151.5l2.4-2.9v-48.8l-2.4 2.9z"/><path fill="#81abd6" d="M1197.1 1101.6l6.6 1.1l2.4-2.9l-6.6-1z"/><path fill="#adad68" d="M1213.6 1153l6.6 1l0.1-48.9l-6.7-1z"/><path fill="#f5f593" d="M1220.2 1154l2.4-2.8l0.1-48.9l-2.4 2.8z"/><path fill="#d6d681" d="M1213.6 1104.1l6.7 1l2.4-2.8l-6.6-1z"/><path fill="#8bad8b" d="M1230.2 1155.5l6.6 1v-49l-6.6-1z"/><path fill="#c4f5c4" d="M1236.8 1156.5l2.4-2.8v-49l-2.4 2.8z"/><path fill="#abd6ab" d="M1230.2 1106.5l6.6 1l2.4-2.8l-6.6-1z"/><path fill="#8badad" d="M1246.7 1158.1l6.6 1l0.1-49.3l-6.6-1z"/><path fill="#c4f5f5" d="M1253.3 1159.1l2.4-2.8l0.1-49.3l-2.4 2.8z"/><path fill="#abd6d6" d="M1246.8 1108.8l6.6 1l2.4-2.8l-6.6-1z"/><path fill="#008bad" d="M1263.3 1160.6l6.6 1v-49.5l-6.6-1z"/><path fill="#00c4f5" d="M1269.9 1161.6l2.4-2.8l0.1-49.5l-2.5 2.8z"/><path fill="#00abd6" d="M1263.3 1111.1l6.6 1l2.5-2.8l-6.7-1z"/><path fill="#0000ad" d="M1279.8 1163.2l6.7 1v-49.9l-6.6-1z"/><path fill="#0000f5" d="M1286.5 1164.2l2.4-2.8v-49.9l-2.4 2.8z"/><path fill="#0000d6" d="M1279.9 1113.3l6.6 1l2.4-2.8l-6.6-1z"/><path fill="#005757" d="M1296.4 1165.7l6.6 1l0.1-47.9l-6.7-1z"/><path fill="#007b7b" d="M1303 1166.7l2.4-2.8l0.1-47.9l-2.4 2.8z"/><path fill="#006c6c" d="M1296.4 1117.8l6.7 1l2.4-2.8l-6.7-1z"/><path fill="#570000" d="M1313 1168.2l6.6 1.1v-46.1l-6.6-1z"/><path fill="#7b0000" d="M1319.6 1169.3l2.4-2.9v-46l-2.4 2.8z"/><path fill="#6c0000" d="M1313 1122.2l6.6 1l2.4-2.8l-6.6-1z"/><path fill="#570057" d="M1329.5 1170.8l6.6 1l0.1-44.1l-6.7-1z"/><path fill="#7b007b" d="M1336.1 1171.8l2.4-2.8l0.1-44.1l-2.4 2.8z"/><path fill="#6c006c" d="M1329.5 1126.7l6.7 1l2.4-2.8l-6.7-1z"/><path fill="#00adad" d="M1346.1 1173.3l6.6 1v-44.1l-6.6-1z"/><path fill="#00f5f5" d="M1352.7 1174.3l2.4-2.8v-44.1l-2.4 2.8z"/><path fill="#00d6d6" d="M1346.1 1129.2l6.6 1l2.4-2.8l-6.6-1z"/><path fill="#adad00" d="M1362.6 1175.9l6.7 1v-46.1l-6.6-1z"/><path fill="#f5f500" d="M1369.3 1176.9l2.4-2.8v-46.1l-2.4 2.8z"/><path fill="#d6d600" d="M1362.7 1129.8l6.6 1l2.4-2.8l-6.6-1z"/><path fill="#ad00ad" d="M1379.2 1178.4l6.6 1v-43.2l-6.6-1z"/><path fill="#f500f5" d="M1385.8 1179.4l2.4-2.8v-43.2l-2.4 2.8z"/><path fill="#d600d6" d="M1379.2 1135.2l6.6 1l2.4-2.8l-6.6-1z"/><path fill="#000057" d="M1395.7 1180.9l6.7 1.1v-39.4l-6.6-1z"/><path fill="#00007b" d="M1402.4 1182l2.4-2.9v-39.3l-2.4 2.8z"/><path fill="#00006c" d="M1395.8 1141.6l6.6 1l2.4-2.8l-6.6-1z"/><path fill="#8b8bad" d="M1412.3 1183.5l6.6 1v-38.4l-6.6-1z"/><path fill="#c4c4f5" d="M1418.9 1184.5l2.4-2.8l0.1-38.4l-2.5 2.8z"/><path fill="#ababd6" d="M1412.3 1145.1l6.6 1l2.5-2.8l-6.7-1z"/><path fill="#00458b" d="M1428.9 1186l6.6 1v-35.5l-6.6-1z"/><path fill="#0062c4" d="M1435.5 1187l2.4-2.8v-35.5l-2.4 2.8z"/><path fill="#0056ab" d="M1428.9 1150.5l6.6 1l2.4-2.8l-6.6-1z"/><path fill="#ad5757" d="M1445.4 1188.6l6.6 1l0.1-31.7l-6.7-1z"/><path fill="#f57b7b" d="M1452 1189.6l2.4-2.8l0.1-31.7l-2.4 2.8z"/><path fill="#d66c6c" d="M1445.4 1156.9l6.7 1l2.4-2.8l-6.7-1z"/><path fill="#450045" d="M1462 1191.1l6.6 1v-12.5l-6.6-1z"/><path fill="#620062" d="M1468.6 1192.1l2.4-2.8v-12.5l-2.4 2.8z"/><path fill="#560056" d="M1462 1178.6l6.6 1l2.4-2.8l-6.6-1z"/><path fill="#8badad" d="M1478.5 1193.7l6.7 1v-9.6l-6.7-1.1z"/><path fill="#c4f5f5" d="M1485.2 1194.7l2.4-2.8v-9.7l-2.4 2.9z"/><path fill="#abd6d6" d="M1478.5 1184l6.7 1.1l2.4-2.9l-6.7-1z"/><path fill="#adad8b" d="M1495.1 1196.2l6.6 1v-4.8l-6.6-1z"/><path fill="#f5f5c4" d="M1501.7 1197.2l2.4-2.8v-4.8l-2.4 2.8z"/><path fill="#d6d6ab" d="M1495.1 1191.4l6.6 1l2.4-2.8l-6.6-1z"/><path class="z" fill="#812b56" d="M1511.7 1198.7l6.6 1.1l2.4-2.9l-6.6-1z"/><path class="z" fill="#8181d6" d="M1528.2 1201.3l6.6 1l2.4-2.8l-6.6-1z"/><path fill="#688bad" d="M1191 1157.5l6.6 1l0.1-49.8l-6.6-1z"/><path fill="#93c4f5" d="M1197.6 1158.5l2.5-2.8v-49.8l-2.4 2.8z"/><path fill="#81abd6" d="M1191.1 1107.7l6.6 1l2.4-2.8l-6.6-1z"/><path fill="#adad68" d="M1207.6 1160l6.6 1l0.1-49.8l-6.7-1z"/><path fill="#f5f593" d="M1214.2 1161l2.4-2.8l0.1-49.8l-2.4 2.8z"/><path fill="#d6d681" d="M1207.6 1110.2l6.7 1l2.4-2.8l-6.7-1z"/><path fill="#8bad8b" d="M1224.1 1162.6l6.7 1v-50l-6.6-1z"/><path fill="#c4f5c4" d="M1230.8 1163.6l2.4-2.8v-50l-2.4 2.8z"/><path fill="#abd6ab" d="M1224.2 1112.6l6.6 1l2.4-2.8l-6.6-1.1z"/><path fill="#8badad" d="M1240.7 1165.1l6.6 1l0.1-50.2l-6.7-1z"/><path fill="#c4f5f5" d="M1247.3 1166.1l2.4-2.8l0.1-50.2l-2.4 2.8z"/><path fill="#abd6d6" d="M1240.7 1114.9l6.7 1l2.4-2.8l-6.6-1z"/><path fill="#008bad" d="M1257.3 1167.6l6.6 1.1v-50.5l-6.6-1z"/><path fill="#00c4f5" d="M1263.9 1168.7l2.4-2.9v-50.4l-2.4 2.8z"/><path fill="#00abd6" d="M1257.3 1117.2l6.6 1l2.4-2.8l-6.6-1z"/><path fill="#0000ad" d="M1273.8 1170.2l6.6 1l0.1-50.8l-6.6-1z"/><path fill="#0000f5" d="M1280.4 1171.2l2.5-2.8v-50.8l-2.4 2.8z"/><path fill="#0000d6" d="M1273.9 1119.4l6.6 1l2.4-2.8l-6.6-1z"/><path fill="#005757" d="M1290.4 1172.7l6.6 1v-49.8l-6.6-1z"/><path fill="#007b7b" d="M1297 1173.7l2.4-2.8v-49.8l-2.4 2.8z"/><path fill="#006c6c" d="M1290.4 1122.9l6.6 1l2.4-2.8l-6.6-1z"/><path fill="#570000" d="M1306.9 1175.3l6.7 1v-48.9l-6.6-1z"/><path fill="#7b0000" d="M1313.6 1176.3l2.4-2.8v-48.9l-2.4 2.8z"/><path fill="#6c0000" d="M1307 1126.4l6.6 1l2.4-2.8l-6.6-1z"/><path fill="#570057" d="M1323.5 1177.8l6.6 1l0.1-47l-6.7-1z"/><path fill="#7b007b" d="M1330.1 1178.8l2.4-2.8l0.1-47l-2.4 2.8z"/><path fill="#6c006c" d="M1323.5 1130.8l6.7 1l2.4-2.8l-6.7-1z"/><path fill="#00adad" d="M1340.1 1180.4l6.6 1v-48.9l-6.6-1.1z"/><path fill="#00f5f5" d="M1346.7 1181.4l2.4-2.8v-49l-2.4 2.9z"/><path fill="#00d6d6" d="M1340.1 1131.4l6.6 1.1l2.4-2.9l-6.6-1z"/><path fill="#adad00" d="M1356.6 1182.9l6.6 1l0.1-51.8l-6.6-1z"/><path fill="#f5f500" d="M1363.2 1183.9l2.4-2.8l0.1-51.8l-2.4 2.8z"/><path fill="#d6d600" d="M1356.7 1131.1l6.6 1l2.4-2.8l-6.6-1z"/><path fill="#ad00ad" d="M1373.2 1185.4l6.6 1.1v-49.9l-6.6-1.1z"/><path fill="#f500f5" d="M1379.8 1186.5l2.4-2.9v-49.9l-2.4 2.9z"/><path fill="#d600d6" d="M1373.2 1135.5l6.6 1.1l2.4-2.9l-6.6-1z"/><path fill="#000057" d="M1389.7 1188l6.7 1v-47l-6.6-1.1z"/><path fill="#00007b" d="M1396.4 1189l2.4-2.8v-47.1l-2.4 2.9z"/><path fill="#00006c" d="M1389.8 1140.9l6.6 1.1l2.4-2.9l-6.6-1z"/><path fill="#8b8bad" d="M1406.3 1190.5l6.6 1v-47l-6.6-1z"/><path fill="#c4c4f5" d="M1412.9 1191.5l2.4-2.8v-47l-2.4 2.8z"/><path fill="#ababd6" d="M1406.3 1143.5l6.6 1l2.4-2.8l-6.6-1z"/><path fill="#00458b" d="M1422.9 1193.1l6.6 1v-44.2l-6.6-1z"/><path fill="#0062c4" d="M1429.5 1194.1l2.4-2.8v-44.2l-2.4 2.8z"/><path fill="#0056ab" d="M1422.9 1148.9l6.6 1l2.4-2.8l-6.6-1z"/><path fill="#ad5757" d="M1439.4 1195.6l6.6 1l0.1-41.3l-6.7-1z"/><path fill="#f57b7b" d="M1446 1196.6l2.4-2.8l0.1-41.3l-2.4 2.8z"/><path fill="#d66c6c" d="M1439.4 1154.3l6.7 1l2.4-2.8l-6.7-1z"/><path fill="#450045" d="M1456 1198.2l6.6 1v-19.2l-6.6-1.1z"/><path fill="#620062" d="M1462.6 1199.2l2.4-2.8v-19.3l-2.4 2.9z"/><path fill="#560056" d="M1456 1178.9l6.6 1.1l2.4-2.9l-6.6-1z"/><path fill="#8badad" d="M1472.5 1200.7l6.7 1v-12.5l-6.7-1z"/><path fill="#c4f5f5" d="M1479.2 1201.7l2.4-2.8v-12.5l-2.4 2.8z"/><path fill="#abd6d6" d="M1472.5 1188.2l6.7 1l2.4-2.8l-6.7-1z"/><path fill="#adad8b" d="M1489.1 1203.2l6.6 1.1v-6.8l-6.6-1z"/><path fill="#f5f5c4" d="M1495.7 1204.3l2.4-2.9v-6.7l-2.4 2.8z"/><path fill="#d6d6ab" d="M1489.1 1196.5l6.6 1l2.4-2.8l-6.6-1z"/><path class="z" fill="#812b56" d="M1505.6 1205.8l6.7 1l2.4-2.8l-6.6-1z"/><path class="z" fill="#8181d6" d="M1522.2 1208.3l6.6 1l2.4-2.8l-6.6-1z"/><path fill="#688bad" d="M1185 1164.5l6.6 1l0.1-48.8l-6.6-1z"/><path fill="#93c4f5" d="M1191.6 1165.5l2.4-2.8l0.1-48.8l-2.4 2.8z"/><path fill="#81abd6" d="M1185.1 1115.7l6.6 1l2.4-2.8l-6.6-1z"/><path fill="#adad68" d="M1201.6 1167l6.6 1.1v-49.1l-6.6-1z"/><path fill="#f5f593" d="M1208.2 1168.1l2.4-2.9v-49l-2.4 2.8z"/><path fill="#d6d681" d="M1201.6 1118l6.6 1l2.4-2.8l-6.6-1z"/><path fill="#8bad8b" d="M1218.1 1169.6l6.7 1v-49.5l-6.6-1z"/><path fill="#c4f5c4" d="M1224.8 1170.6l2.4-2.8v-49.5l-2.4 2.8z"/><path fill="#abd6ab" d="M1218.2 1120.1l6.6 1l2.4-2.8l-6.6-1z"/><path fill="#8badad" d="M1234.7 1172.1l6.6 1l0.1-50.1l-6.7-1z"/><path fill="#c4f5f5" d="M1241.3 1173.1l2.4-2.8l0.1-50.1l-2.4 2.8z"/><path fill="#abd6d6" d="M1234.7 1122l6.7 1l2.4-2.8l-6.7-1z"/><path fill="#008bad" d="M1251.2 1174.7l6.7 1v-50.9l-6.6-1z"/><path fill="#00c4f5" d="M1257.9 1175.7l2.4-2.8v-50.9l-2.4 2.8z"/><path fill="#00abd6" d="M1251.3 1123.8l6.6 1l2.4-2.8l-6.6-1z"/><path fill="#0000ad" d="M1267.8 1177.2l6.6 1l0.1-51.7l-6.7-1z"/><path fill="#0000f5" d="M1274.4 1178.2l2.4-2.8l0.1-51.7l-2.4 2.8z"/><path fill="#0000d6" d="M1267.8 1125.5l6.7 1l2.4-2.8l-6.6-1z"/><path fill="#005757" d="M1284.4 1179.8l6.6 1v-51.8l-6.6-1z"/><path fill="#007b7b" d="M1291 1180.8l2.4-2.8v-51.8l-2.4 2.8z"/><path fill="#006c6c" d="M1284.4 1128l6.6 1l2.4-2.8l-6.6-1z"/><path fill="#570000" d="M1300.9 1182.3l6.7 1v-51.8l-6.6-1z"/><path fill="#7b0000" d="M1307.6 1183.3l2.4-2.8v-51.8l-2.4 2.8z"/><path fill="#6c0000" d="M1301 1130.5l6.6 1l2.4-2.8l-6.6-1z"/><path fill="#570057" d="M1317.5 1184.8l6.6 1.1v-50.9l-6.6-1z"/><path fill="#7b007b" d="M1324.1 1185.9l2.4-2.9l0.1-50.8l-2.5 2.8z"/><path fill="#6c006c" d="M1317.5 1134l6.6 1l2.5-2.8l-6.7-1z"/><path fill="#00adad" d="M1334 1187.4l6.7 1v-52.8l-6.6-1z"/><path fill="#00f5f5" d="M1340.7 1188.4l2.4-2.8v-52.8l-2.4 2.8z"/><path fill="#00d6d6" d="M1334.1 1134.6l6.6 1l2.4-2.8l-6.6-1z"/><path fill="#adad00" d="M1350.6 1189.9l6.6 1l0.1-57.5l-6.7-1z"/><path fill="#f5f500" d="M1357.2 1190.9l2.4-2.8l0.1-57.5l-2.4 2.8z"/><path fill="#d6d600" d="M1350.6 1132.4l6.7 1l2.4-2.8l-6.7-1z"/><path fill="#ad00ad" d="M1367.2 1192.5l6.6 1v-57.6l-6.6-1z"/><path fill="#f500f5" d="M1373.8 1193.5l2.4-2.8v-57.6l-2.4 2.8z"/><path fill="#d600d6" d="M1367.2 1134.9l6.6 1l2.4-2.8l-6.6-1z"/><path fill="#000057" d="M1383.7 1195l6.7 1v-55.6l-6.6-1.1z"/><path fill="#00007b" d="M1390.4 1196l2.4-2.8v-55.7l-2.4 2.9z"/><path fill="#00006c" d="M1383.8 1139.3l6.6 1.1l2.4-2.9l-6.6-1z"/><path fill="#8b8bad" d="M1400.3 1197.6l6.6 1v-57.6l-6.6-1z"/><path fill="#c4c4f5" d="M1406.9 1198.6l2.4-2.8v-57.6l-2.4 2.8z"/><path fill="#ababd6" d="M1400.3 1140l6.6 1l2.4-2.8l-6.6-1.1z"/><path fill="#00458b" d="M1416.8 1200.1l6.7 1v-54.7l-6.6-1z"/><path fill="#0062c4" d="M1423.5 1201.1l2.4-2.8v-54.7l-2.4 2.8z"/><path fill="#0056ab" d="M1416.9 1145.4l6.6 1l2.4-2.8l-6.6-1.1z"/><path fill="#ad5757" d="M1433.4 1202.7l6.6 1l0.1-52.9l-6.7-1z"/><path fill="#f57b7b" d="M1440 1203.7l2.4-2.8l0.1-52.9l-2.4 2.8z"/><path fill="#d66c6c" d="M1433.4 1149.8l6.7 1l2.4-2.8l-6.7-1z"/><path fill="#450045" d="M1450 1205.2l6.6 1v-28.8l-6.6-1z"/><path fill="#620062" d="M1456.6 1206.2l2.4-2.8v-28.8l-2.4 2.8z"/><path fill="#560056" d="M1450 1176.4l6.6 1l2.4-2.8l-6.6-1z"/><path fill="#8badad" d="M1466.5 1207.7l6.7 1.1v-17.3l-6.7-1.1z"/><path fill="#c4f5f5" d="M1473.2 1208.8l2.4-2.9v-17.3l-2.4 2.9z"/><path fill="#abd6d6" d="M1466.5 1190.4l6.7 1.1l2.4-2.9l-6.7-1z"/><path fill="#adad8b" d="M1483.1 1210.3l6.6 1v-9.6l-6.6-1z"/><path fill="#f5f5c4" d="M1489.7 1211.3l2.4-2.8v-9.6l-2.4 2.8z"/><path fill="#d6d6ab" d="M1483.1 1200.7l6.6 1l2.4-2.8l-6.6-1z"/><path fill="#682345" d="M1499.6 1212.8l6.7 1v-4.8l-6.7-1z"/><path fill="#933162" d="M1506.3 1213.8l2.4-2.8v-4.8l-2.4 2.8z"/><path fill="#812b56" d="M1499.6 1208l6.7 1l2.4-2.8l-6.6-1z"/><path class="z" fill="#8181d6" d="M1516.2 1215.4l6.6 1l2.4-2.8l-6.6-1z"/><path fill="#688bad" d="M1179 1171.5l6.6 1l0.1-48.8l-6.7-1z"/><path fill="#93c4f5" d="M1185.6 1172.5l2.4-2.8l0.1-48.8l-2.4 2.8z"/><path fill="#81abd6" d="M1179 1122.7l6.7 1l2.4-2.8l-6.7-1z"/><path fill="#adad68" d="M1195.5 1174.1l6.7 1v-49.1l-6.6-1z"/><path fill="#f5f593" d="M1202.2 1175.1l2.4-2.8v-49.1l-2.4 2.8z"/><path fill="#d6d681" d="M1195.6 1125l6.6 1l2.4-2.8l-6.6-1z"/><path fill="#8bad8b" d="M1212.1 1176.6l6.6 1l0.1-49.7l-6.7-1z"/><path fill="#c4f5c4" d="M1218.7 1177.6l2.4-2.8l0.1-49.7l-2.4 2.8z"/><path fill="#abd6ab" d="M1212.1 1126.9l6.7 1l2.4-2.8l-6.6-1z"/><path fill="#8badad" d="M1228.7 1179.1l6.6 1.1v-50.6l-6.6-1z"/><path fill="#c4f5f5" d="M1235.3 1180.2l2.4-2.8v-50.6l-2.4 2.8z"/><path fill="#abd6d6" d="M1228.7 1128.6l6.6 1l2.4-2.8l-6.6-1z"/><path fill="#008bad" d="M1245.2 1181.7l6.7 1v-51.5l-6.6-1z"/><path fill="#00c4f5" d="M1251.9 1182.7l2.4-2.8v-51.5l-2.4 2.8z"/><path fill="#00abd6" d="M1245.3 1130.2l6.6 1l2.4-2.8l-6.6-1z"/><path fill="#0000ad" d="M1261.8 1184.2l6.6 1.1l0.1-52.7l-6.7-1.1z"/><path fill="#0000f5" d="M1268.4 1185.3l2.4-2.9l0.1-52.7l-2.4 2.9z"/><path fill="#0000d6" d="M1261.8 1131.5l6.7 1.1l2.4-2.9l-6.7-1z"/><path fill="#005757" d="M1278.4 1186.8l6.6 1v-53.7l-6.6-1z"/><path fill="#007b7b" d="M1285 1187.8l2.4-2.8v-53.7l-2.4 2.8z"/><path fill="#006c6c" d="M1278.4 1133.1l6.6 1l2.4-2.8l-6.6-1z"/><path fill="#570000" d="M1294.9 1189.3l6.6 1l0.1-54.6l-6.6-1z"/><path fill="#7b0000" d="M1301.5 1190.3l2.4-2.8l0.1-54.6l-2.4 2.8z"/><path fill="#6c0000" d="M1295 1134.7l6.6 1l2.4-2.8l-6.6-1z"/><path fill="#570057" d="M1311.5 1191.9l6.6 1v-53.7l-6.6-1z"/><path fill="#7b007b" d="M1318.1 1192.9l2.4-2.8v-53.7l-2.4 2.8z"/><path fill="#6c006c" d="M1311.5 1138.2l6.6 1l2.4-2.8l-6.6-1z"/><path fill="#00adad" d="M1328 1194.4l6.7 1v-57.5l-6.6-1z"/><path fill="#00f5f5" d="M1334.7 1195.4l2.4-2.8v-57.5l-2.4 2.8z"/><path fill="#00d6d6" d="M1328.1 1136.9l6.6 1l2.4-2.8l-6.6-1z"/><path fill="#adad00" d="M1344.6 1197l6.6 1l0.1-64.3l-6.7-1z"/><path fill="#f5f500" d="M1351.2 1198l2.4-2.8l0.1-64.3l-2.4 2.8z"/><path fill="#d6d600" d="M1344.6 1132.7l6.7 1l2.4-2.8l-6.7-1z"/><path fill="#ad00ad" d="M1361.2 1199.5l6.6 1v-65.2l-6.6-1z"/><path fill="#f500f5" d="M1367.8 1200.5l2.4-2.8v-65.3l-2.4 2.9z"/><path fill="#d600d6" d="M1361.2 1134.3l6.6 1l2.4-2.9l-6.6-1z"/><path fill="#000057" d="M1377.7 1202.1l6.6 1l0.1-65.3l-6.6-1z"/><path fill="#00007b" d="M1384.3 1203.1l2.4-2.8l0.1-65.3l-2.4 2.8z"/><path fill="#00006c" d="M1377.8 1136.8l6.6 1l2.4-2.8l-6.6-1z"/><path fill="#8b8bad" d="M1394.3 1204.6l6.6 1v-69.1l-6.6-1z"/><path fill="#c4c4f5" d="M1400.9 1205.6l2.4-2.8v-69.1l-2.4 2.8z"/><path fill="#ababd6" d="M1394.3 1135.5l6.6 1l2.4-2.8l-6.6-1z"/><path fill="#00458b" d="M1410.8 1207.1l6.7 1.1v-67.3l-6.6-1z"/><path fill="#0062c4" d="M1417.5 1208.2l2.4-2.9v-67.2l-2.4 2.8z"/><path fill="#0056ab" d="M1410.9 1139.9l6.6 1l2.4-2.8l-6.6-1z"/><path fill="#ad5757" d="M1427.4 1209.7l6.6 1l0.1-67.3l-6.7-1z"/><path fill="#f57b7b" d="M1434 1210.7l2.4-2.8l0.1-67.3l-2.4 2.8z"/><path fill="#d66c6c" d="M1427.4 1142.4l6.7 1l2.4-2.8l-6.7-1z"/><path fill="#450045" d="M1444 1212.2l6.6 1.1v-43.3l-6.6-1z"/><path fill="#620062" d="M1450.6 1213.3l2.4-2.9v-43.2l-2.4 2.8z"/><path fill="#560056" d="M1444 1169l6.6 1l2.4-2.8l-6.6-1z"/><path fill="#8badad" d="M1460.5 1214.8l6.6 1l0.1-28.8l-6.7-1.1z"/><path fill="#c4f5f5" d="M1467.1 1215.8l2.5-2.8v-28.9l-2.4 2.9z"/><path fill="#abd6d6" d="M1460.5 1185.9l6.7 1.1l2.4-2.9l-6.7-1z"/><path fill="#adad8b" d="M1477.1 1217.3l6.6 1v-19.2l-6.6-1z"/><path fill="#f5f5c4" d="M1483.7 1218.3l2.4-2.8v-19.2l-2.4 2.8z"/><path fill="#d6d6ab" d="M1477.1 1198.1l6.6 1l2.4-2.8l-6.6-1z"/><path fill="#682345" d="M1493.6 1219.9l6.7 1v-16.4l-6.6-1z"/><path fill="#933162" d="M1500.3 1220.9l2.4-2.8v-16.4l-2.4 2.8z"/><path fill="#812b56" d="M1493.7 1203.5l6.6 1l2.4-2.8l-6.6-1z"/><path fill="#6868ad" d="M1510.2 1222.4l6.6 1v-9.6l-6.6-1z"/><path fill="#9393f5" d="M1516.8 1223.4l2.4-2.8v-9.6l-2.4 2.8z"/><path fill="#8181d6" d="M1510.2 1212.8l6.6 1l2.4-2.8l-6.6-1z"/><path fill="#688bad" d="M1173 1178.5l6.6 1.1v-48.8l-6.6-1z"/><path fill="#93c4f5" d="M1179.6 1179.6l2.4-2.9v-48.7l-2.4 2.8z"/><path fill="#81abd6" d="M1173 1129.8l6.6 1l2.4-2.8l-6.6-1.1z"/><path fill="#adad68" d="M1189.5 1181.1l6.7 1v-49.1l-6.6-1z"/><path fill="#f5f593" d="M1196.2 1182.1l2.4-2.8v-49.1l-2.4 2.8z"/><path fill="#d6d681" d="M1189.6 1132l6.6 1l2.4-2.8l-6.6-1z"/><path fill="#8bad8b" d="M1206.1 1183.6l6.6 1l0.1-49.7l-6.7-1z"/><path fill="#c4f5c4" d="M1212.7 1184.6l2.4-2.8l0.1-49.7l-2.4 2.8z"/><path fill="#abd6ab" d="M1206.1 1133.9l6.7 1l2.4-2.8l-6.7-1z"/><path fill="#8badad" d="M1222.7 1186.2l6.6 1v-50.5l-6.6-1z"/><path fill="#c4f5f5" d="M1229.3 1187.2l2.4-2.8v-50.5l-2.4 2.8z"/><path fill="#abd6d6" d="M1222.7 1135.7l6.6 1l2.4-2.8l-6.6-1.1z"/><path fill="#008bad" d="M1239.2 1188.7l6.6 1l0.1-51.5l-6.6-1z"/><path fill="#00c4f5" d="M1245.8 1189.7l2.4-2.8l0.1-51.5l-2.4 2.8z"/><path fill="#00abd6" d="M1239.3 1137.2l6.6 1l2.4-2.8l-6.6-1z"/><path fill="#0000ad" d="M1255.8 1191.3l6.6 1v-52.7l-6.6-1z"/><path fill="#0000f5" d="M1262.4 1192.3l2.4-2.8v-52.7l-2.4 2.8z"/><path fill="#0000d6" d="M1255.8 1138.6l6.6 1l2.4-2.8l-6.6-1z"/><path fill="#005757" d="M1272.3 1193.8l6.7 1v-54.1l-6.6-1z"/><path fill="#007b7b" d="M1279 1194.8l2.4-2.8v-54.1l-2.4 2.8z"/><path fill="#006c6c" d="M1272.4 1139.7l6.6 1l2.4-2.8l-6.6-1z"/><path fill="#570000" d="M1288.9 1196.4l6.6 1l0.1-55.6l-6.7-1z"/><path fill="#7b0000" d="M1295.5 1197.4l2.4-2.8l0.1-55.6l-2.4 2.8z"/><path fill="#6c0000" d="M1288.9 1140.8l6.7 1l2.4-2.8l-6.7-1z"/><path fill="#570057" d="M1305.5 1198.9l6.6 1v-57.5l-6.6-1z"/><path fill="#7b007b" d="M1312.1 1199.9l2.4-2.8v-57.5l-2.4 2.8z"/><path fill="#6c006c" d="M1305.5 1141.4l6.6 1l2.4-2.8l-6.6-1z"/><path fill="#00adad" d="M1322 1201.5l6.7 1v-61.4l-6.6-1z"/><path fill="#00f5f5" d="M1328.7 1202.5l2.4-2.8v-61.4l-2.4 2.8z"/><path fill="#00d6d6" d="M1322.1 1140.1l6.6 1l2.4-2.8l-6.6-1z"/><path fill="#adad00" d="M1338.6 1204l6.6 1v-69.1l-6.6-1z"/><path fill="#f5f500" d="M1345.2 1205l2.4-2.8l0.1-69.1l-2.5 2.8z"/><path fill="#d6d600" d="M1338.6 1134.9l6.6 1l2.5-2.8l-6.7-1z"/><path fill="#ad00ad" d="M1355.1 1206.5l6.7 1.1v-73l-6.6-1z"/><path fill="#f500f5" d="M1361.8 1207.6l2.4-2.8v-73l-2.4 2.8z"/><path fill="#d600d6" d="M1355.2 1133.6l6.6 1l2.4-2.8l-6.6-1z"/><path fill="#000057" d="M1371.7 1209.1l6.6 1l0.1-74.9l-6.7-1z"/><path fill="#00007b" d="M1378.3 1210.1l2.4-2.8l0.1-74.9l-2.4 2.8z"/><path fill="#00006c" d="M1371.7 1134.2l6.7 1l2.4-2.8l-6.6-1z"/><path fill="#8b8bad" d="M1388.3 1211.6l6.6 1.1v-81.7l-6.6-1z"/><path fill="#c4c4f5" d="M1394.9 1212.7l2.4-2.9v-81.6l-2.4 2.8z"/><path fill="#ababd6" d="M1388.3 1130l6.6 1l2.4-2.8l-6.6-1z"/><path fill="#00458b" d="M1404.8 1214.2l6.7 1v-81.7l-6.6-1z"/><path fill="#0062c4" d="M1411.5 1215.2l2.4-2.8v-81.7l-2.4 2.8z"/><path fill="#0056ab" d="M1404.9 1132.5l6.6 1l2.4-2.8l-6.6-1z"/><path fill="#ad5757" d="M1421.4 1216.7l6.6 1.1l0.1-86.5l-6.7-1z"/><path fill="#f57b7b" d="M1428 1217.8l2.4-2.9l0.1-86.5l-2.4 2.9z"/><path fill="#d66c6c" d="M1421.4 1130.3l6.7 1l2.4-2.9l-6.7-1z"/><path fill="#450045" d="M1438 1219.3l6.6 1v-66.3l-6.6-1z"/><path fill="#620062" d="M1444.6 1220.3l2.4-2.8v-66.3l-2.4 2.8z"/><path fill="#560056" d="M1438 1153l6.6 1l2.4-2.8l-6.6-1.1z"/><path fill="#8badad" d="M1454.5 1221.8l6.6 1l0.1-58.6l-6.7-1z"/><path fill="#c4f5f5" d="M1461.1 1222.8l2.4-2.8l0.1-58.6l-2.4 2.8z"/><path fill="#abd6d6" d="M1454.5 1163.2l6.7 1l2.4-2.8l-6.7-1z"/><path fill="#adad8b" d="M1471.1 1224.4l6.6 1v-46.2l-6.6-1z"/><path fill="#f5f5c4" d="M1477.7 1225.4l2.4-2.8v-46.2l-2.4 2.8z"/><path fill="#d6d6ab" d="M1471.1 1178.2l6.6 1l2.4-2.8l-6.6-1z"/><path fill="#682345" d="M1487.6 1226.9l6.7 1v-6.7l-6.7-1z"/><path fill="#933162" d="M1494.3 1227.9l2.4-2.8v-6.7l-2.4 2.8z"/><path fill="#812b56" d="M1487.6 1220.2l6.7 1l2.4-2.8l-6.7-1z"/><path class="z" fill="#8181d6" d="M1504.2 1229.5l6.6 1l2.4-2.8l-6.6-1.1z"/><path fill="#688bad" d="M1167 1185.6l6.6 1v-47.8l-6.6-1.1z"/><path fill="#93c4f5" d="M1173.6 1186.6l2.4-2.8v-47.9l-2.4 2.9z"/><path fill="#81abd6" d="M1167 1137.7l6.6 1.1l2.4-2.9l-6.6-1z"/><path fill="#adad68" d="M1183.5 1188.1l6.6 1l0.1-48.2l-6.7-1z"/><path fill="#f5f593" d="M1190.1 1189.1l2.4-2.8l0.1-48.2l-2.4 2.8z"/><path fill="#d6d681" d="M1183.5 1139.9l6.7 1l2.4-2.8l-6.6-1z"/><path fill="#8bad8b" d="M1200.1 1190.7l6.6 1v-49l-6.6-1z"/><path fill="#c4f5c4" d="M1206.7 1191.7l2.4-2.8v-49l-2.4 2.8z"/><path fill="#abd6ab" d="M1200.1 1141.7l6.6 1l2.4-2.8l-6.6-1z"/><path fill="#8badad" d="M1216.6 1193.2l6.7 1v-50l-6.6-1z"/><path fill="#c4f5f5" d="M1223.3 1194.2l2.4-2.8v-50l-2.4 2.8z"/><path fill="#abd6d6" d="M1216.7 1143.2l6.6 1l2.4-2.8l-6.6-1z"/><path fill="#008bad" d="M1233.2 1195.8l6.6 1l0.1-51.3l-6.7-1z"/><path fill="#00c4f5" d="M1239.8 1196.8l2.4-2.8l0.1-51.3l-2.4 2.8z"/><path fill="#00abd6" d="M1233.2 1144.5l6.7 1l2.4-2.8l-6.7-1z"/><path fill="#0000ad" d="M1249.8 1198.3l6.6 1v-52.7l-6.6-1z"/><path fill="#0000f5" d="M1256.4 1199.3l2.4-2.8v-52.7l-2.4 2.8z"/><path fill="#0000d6" d="M1249.8 1145.6l6.6 1l2.4-2.8l-6.6-1z"/><path fill="#005757" d="M1266.3 1200.8l6.7 1.1v-55.1l-6.6-1.1z"/><path fill="#007b7b" d="M1273 1201.9l2.4-2.8v-55.2l-2.4 2.9z"/><path fill="#006c6c" d="M1266.4 1145.7l6.6 1.1l2.4-2.9l-6.6-1z"/><path fill="#570000" d="M1282.9 1203.4l6.6 1v-57.5l-6.6-1z"/><path fill="#7b0000" d="M1289.5 1204.4l2.4-2.8l0.1-57.5l-2.5 2.8z"/><path fill="#6c0000" d="M1282.9 1145.9l6.6 1l2.5-2.8l-6.7-1z"/><path fill="#570057" d="M1299.5 1205.9l6.6 1.1v-59.5l-6.6-1z"/><path fill="#7b007b" d="M1306.1 1207l2.4-2.9v-59.4l-2.4 2.8z"/><path fill="#6c006c" d="M1299.5 1146.5l6.6 1l2.4-2.8l-6.6-1z"/><path fill="#00adad" d="M1316 1208.5l6.6 1l0.1-64.3l-6.7-1z"/><path fill="#00f5f5" d="M1322.6 1209.5l2.4-2.8l0.1-64.3l-2.4 2.8z"/><path fill="#00d6d6" d="M1316 1144.2l6.7 1l2.4-2.8l-6.6-1z"/><path fill="#adad00" d="M1332.6 1211l6.6 1.1v-73l-6.6-1z"/><path fill="#f5f500" d="M1339.2 1212.1l2.4-2.9v-72.9l-2.4 2.8z"/><path fill="#d6d600" d="M1332.6 1138.1l6.6 1l2.4-2.8l-6.6-1z"/><path fill="#ad00ad" d="M1349.1 1213.6l6.7 1v-78.7l-6.6-1z"/><path fill="#f500f5" d="M1355.8 1214.6l2.4-2.8v-78.7l-2.4 2.8z"/><path fill="#d600d6" d="M1349.2 1134.9l6.6 1l2.4-2.8l-6.6-1z"/><path fill="#000057" d="M1365.7 1216.1l6.6 1.1l0.1-84.5l-6.7-1.1z"/><path fill="#00007b" d="M1372.3 1217.2l2.4-2.9l0.1-84.5l-2.4 2.9z"/><path fill="#00006c" d="M1365.7 1131.6l6.7 1.1l2.4-2.9l-6.7-1z"/><path fill="#8b8bad" d="M1382.3 1218.7l6.6 1v-94.1l-6.6-1z"/><path fill="#c4c4f5" d="M1388.9 1219.7l2.4-2.8v-94.1l-2.4 2.8z"/><path fill="#ababd6" d="M1382.3 1124.6l6.6 1l2.4-2.8l-6.6-1.1z"/><path fill="#00458b" d="M1398.8 1221.2l6.7 1v-96l-6.6-1z"/><path fill="#0062c4" d="M1405.5 1222.2l2.4-2.8v-96l-2.4 2.8z"/><path fill="#0056ab" d="M1398.9 1125.2l6.6 1l2.4-2.8l-6.6-1.1z"/><path fill="#ad5757" d="M1415.4 1223.8l6.6 1l0.1-105.7l-6.7-1z"/><path fill="#f57b7b" d="M1422 1224.8l2.4-2.8l0.1-105.7l-2.4 2.8z"/><path fill="#d66c6c" d="M1415.4 1118.1l6.7 1l2.4-2.8l-6.7-1z"/><path fill="#450045" d="M1432 1226.3l6.6 1v-93.2l-6.6-1z"/><path fill="#620062" d="M1438.6 1227.3l2.4-2.8v-93.2l-2.4 2.8z"/><path fill="#560056" d="M1432 1133.1l6.6 1l2.4-2.8l-6.6-1z"/><path fill="#8badad" d="M1448.5 1228.9l6.6 1l0.1-90.4l-6.7-1z"/><path fill="#c4f5f5" d="M1455.1 1229.9l2.4-2.8l0.1-90.4l-2.4 2.8z"/><path fill="#abd6d6" d="M1448.5 1138.5l6.7 1l2.4-2.8l-6.7-1z"/><path fill="#adad8b" d="M1465.1 1231.4l6.6 1v-87.5l-6.6-1z"/><path fill="#f5f5c4" d="M1471.7 1232.4l2.4-2.8v-87.5l-2.4 2.8z"/><path fill="#d6d6ab" d="M1465.1 1143.9l6.6 1l2.4-2.8l-6.6-1z"/><path fill="#682345" d="M1481.6 1234l6.7 1v-192.5l-6.6-1z"/><path fill="#933162" d="M1488.3 1235l2.4-2.8v-192.5l-2.4 2.8z"/><path fill="#812b56" d="M1481.7 1041.5l6.6 1l2.4-2.8l-6.6-1z"/><path fill="#6868ad" d="M1498.2 1236.5l6.6 1l0.1-318.6l-6.6-1z"/><path fill="#9393f5" d="M1504.8 1237.5l2.4-2.8l0.1-318.6l-2.4 2.8z"/><path fill="#8181d6" d="M1498.3 917.9l6.6 1l2.4-2.8l-6.6-1z"/><path fill="#688bad" d="M1160.9 1192.6l6.7 1v-45.9l-6.6-1z"/><path fill="#93c4f5" d="M1167.6 1193.6l2.4-2.8v-45.9l-2.4 2.8z"/><path fill="#81abd6" d="M1161 1146.7l6.6 1l2.4-2.8l-6.6-1z"/><path fill="#adad68" d="M1177.5 1195.1l6.6 1.1l0.1-46.4l-6.7-1z"/><path fill="#f5f593" d="M1184.1 1196.2l2.4-2.9l0.1-46.3l-2.4 2.8z"/><path fill="#d6d681" d="M1177.5 1148.8l6.7 1l2.4-2.8l-6.7-1z"/><path fill="#8bad8b" d="M1194.1 1197.7l6.6 1v-47.3l-6.6-1z"/><path fill="#c4f5c4" d="M1200.7 1198.7l2.4-2.8v-47.3l-2.4 2.8z"/><path fill="#abd6ab" d="M1194.1 1150.4l6.6 1l2.4-2.8l-6.6-1z"/><path fill="#8badad" d="M1210.6 1200.2l6.6 1.1l0.1-48.5l-6.6-1.1z"/><path fill="#c4f5f5" d="M1217.2 1201.3l2.5-2.9v-48.5l-2.4 2.9z"/><path fill="#abd6d6" d="M1210.7 1151.7l6.6 1.1l2.4-2.9l-6.6-1z"/><path fill="#008bad" d="M1227.2 1202.8l6.6 1v-50l-6.6-1z"/><path fill="#00c4f5" d="M1233.8 1203.8l2.4-2.8v-50l-2.4 2.8z"/><path fill="#00abd6" d="M1227.2 1152.8l6.6 1l2.4-2.8l-6.6-1z"/><path fill="#0000ad" d="M1243.8 1205.3l6.6 1v-51.7l-6.6-1z"/><path fill="#0000f5" d="M1250.4 1206.3l2.4-2.8v-51.7l-2.4 2.8z"/><path fill="#0000d6" d="M1243.8 1153.6l6.6 1l2.4-2.8l-6.6-1z"/><path fill="#005757" d="M1260.3 1207.9l6.6 1l0.1-54.2l-6.7-1z"/><path fill="#007b7b" d="M1266.9 1208.9l2.4-2.8l0.1-54.2l-2.4 2.8z"/><path fill="#006c6c" d="M1260.3 1153.7l6.7 1l2.4-2.8l-6.6-1z"/><path fill="#570000" d="M1276.9 1210.4l6.6 1v-56.5l-6.6-1z"/><path fill="#7b0000" d="M1283.5 1211.4l2.4-2.8v-56.5l-2.4 2.8z"/><path fill="#6c0000" d="M1276.9 1153.9l6.6 1l2.4-2.8l-6.6-1z"/><path fill="#570057" d="M1293.4 1213l6.7 1v-60.4l-6.6-1z"/><path fill="#7b007b" d="M1300.1 1214l2.4-2.8v-60.4l-2.4 2.8z"/><path fill="#6c006c" d="M1293.5 1152.6l6.6 1l2.4-2.8l-6.6-1z"/><path fill="#00adad" d="M1310 1215.5l6.6 1l0.1-66.2l-6.7-1z"/><path fill="#00f5f5" d="M1316.6 1216.5l2.4-2.8l0.1-66.2l-2.4 2.8z"/><path fill="#00d6d6" d="M1310 1149.3l6.7 1l2.4-2.8l-6.7-1z"/><path fill="#adad00" d="M1326.6 1218.1l6.6 1v-74.9l-6.6-1z"/><path fill="#f5f500" d="M1333.2 1219.1l2.4-2.8v-74.9l-2.4 2.8z"/><path fill="#d6d600" d="M1326.6 1143.2l6.6 1l2.4-2.8l-6.6-1z"/><path fill="#ad00ad" d="M1343.1 1220.6l6.7 1v-81.6l-6.6-1z"/><path fill="#f500f5" d="M1349.8 1221.6l2.4-2.8v-81.6l-2.4 2.8z"/><path fill="#d600d6" d="M1343.2 1139l6.6 1l2.4-2.8l-6.6-1z"/><path fill="#000057" d="M1359.7 1223.2l6.6 1l0.1-90.3l-6.7-1z"/><path fill="#00007b" d="M1366.3 1224.2l2.4-2.8l0.1-90.3l-2.4 2.8z"/><path fill="#00006c" d="M1359.7 1132.9l6.7 1l2.4-2.8l-6.7-1z"/><path fill="#8b8bad" d="M1376.3 1225.7l6.6 1v-103.7l-6.6-1z"/><path fill="#c4c4f5" d="M1382.9 1226.7l2.4-2.8v-103.7l-2.4 2.8z"/><path fill="#ababd6" d="M1376.3 1122l6.6 1l2.4-2.8l-6.6-1z"/><path fill="#00458b" d="M1392.8 1228.3l6.6 1l0.1-110.5l-6.6-1z"/><path fill="#0062c4" d="M1399.4 1229.3l2.5-2.8v-110.5l-2.4 2.8z"/><path fill="#0056ab" d="M1392.9 1117.8l6.6 1l2.4-2.8l-6.6-1z"/><path fill="#ad5757" d="M1409.4 1230.8l6.6 1v-124.9l-6.6-1z"/><path fill="#f57b7b" d="M1416 1231.8l2.4-2.8l0.1-124.9l-2.5 2.8z"/><path fill="#d66c6c" d="M1409.4 1105.9l6.6 1l2.5-2.8l-6.7-1z"/><path fill="#450045" d="M1426 1233.4l6.6 1v-126l-6.6-1z"/><path fill="#620062" d="M1432.6 1234.4l2.4-2.8v-126l-2.4 2.8z"/><path fill="#560056" d="M1426 1107.4l6.6 1l2.4-2.8l-6.6-1z"/><path class="z" fill="#abd6d6" d="M1442.5 1235.9l6.6 1l2.4-2.8l-6.6-1z"/><path class="z" fill="#d6d6ab" d="M1459.1 1238.5l6.6 1l2.4-2.8l-6.6-1.1z"/><path class="z" fill="#812b56" d="M1475.6 1241l6.7 1l2.4-2.8l-6.7-1z"/><path class="z" fill="#8181d6" d="M1492.2 1243.6l6.6 1l2.4-2.8l-6.6-1.1z"/><path fill="#688bad" d="M1154.9 1199.6l6.6 1l0.1-44l-6.7-1z"/><path fill="#93c4f5" d="M1161.5 1200.6l2.4-2.8l0.1-44l-2.4 2.8z"/><path fill="#81abd6" d="M1154.9 1155.6l6.7 1l2.4-2.8l-6.6-1z"/><path fill="#adad68" d="M1171.5 1202.2l6.6 1v-44.5l-6.6-1z"/><path fill="#f5f593" d="M1178.1 1203.2l2.4-2.8v-44.5l-2.4 2.8z"/><path fill="#d6d681" d="M1171.5 1157.7l6.6 1l2.4-2.8l-6.6-1z"/><path fill="#8bad8b" d="M1188 1204.7l6.7 1v-45.3l-6.6-1z"/><path fill="#c4f5c4" d="M1194.7 1205.7l2.4-2.8v-45.3l-2.4 2.8z"/><path fill="#abd6ab" d="M1188.1 1159.4l6.6 1l2.4-2.8l-6.6-1z"/><path fill="#8badad" d="M1204.6 1207.3l6.6 1l0.1-46.6l-6.7-1z"/><path fill="#c4f5f5" d="M1211.2 1208.3l2.4-2.8l0.1-46.6l-2.4 2.8z"/><path fill="#abd6d6" d="M1204.6 1160.7l6.7 1l2.4-2.8l-6.7-1z"/><path fill="#008bad" d="M1221.2 1209.8l6.6 1v-48l-6.6-1.1z"/><path fill="#00c4f5" d="M1227.8 1210.8l2.4-2.8v-48.1l-2.4 2.9z"/><path fill="#00abd6" d="M1221.2 1161.7l6.6 1.1l2.4-2.9l-6.6-1z"/><path fill="#0000ad" d="M1237.7 1212.4l6.7 1v-49.8l-6.6-1.1z"/><path fill="#0000f5" d="M1244.4 1213.4l2.4-2.8v-49.9l-2.4 2.9z"/><path fill="#0000d6" d="M1237.8 1162.5l6.6 1.1l2.4-2.9l-6.6-1z"/><path fill="#005757" d="M1254.3 1214.9l6.6 1l0.1-52.2l-6.7-1z"/><path fill="#007b7b" d="M1260.9 1215.9l2.4-2.8l0.1-52.2l-2.4 2.8z"/><path fill="#006c6c" d="M1254.3 1162.7l6.7 1l2.4-2.8l-6.7-1z"/><path fill="#570000" d="M1270.9 1217.5l6.6 1v-54.7l-6.6-1z"/><path fill="#7b0000" d="M1277.5 1218.5l2.4-2.8v-54.7l-2.4 2.8z"/><path fill="#6c0000" d="M1270.9 1162.8l6.6 1l2.4-2.8l-6.6-1z"/><path fill="#570057" d="M1287.4 1220l6.7 1v-58.5l-6.6-1z"/><path fill="#7b007b" d="M1294.1 1221l2.4-2.8v-58.5l-2.4 2.8z"/><path fill="#6c006c" d="M1287.5 1161.5l6.6 1l2.4-2.8l-6.6-1z"/><path fill="#00adad" d="M1304 1222.6l6.6 1v-66.2l-6.6-1z"/><path fill="#00f5f5" d="M1310.6 1223.6l2.4-2.8l0.1-66.2l-2.5 2.8z"/><path fill="#00d6d6" d="M1304 1156.4l6.6 1l2.5-2.8l-6.7-1z"/><path fill="#adad00" d="M1320.6 1225.1l6.6 1v-71.9l-6.6-1.1z"/><path fill="#f5f500" d="M1327.2 1226.1l2.4-2.8v-72l-2.4 2.9z"/><path fill="#d6d600" d="M1320.6 1153.1l6.6 1.1l2.4-2.9l-6.6-1z"/><path fill="#ad00ad" d="M1337.1 1227.7l6.6 1l0.1-80.7l-6.6-1z"/><path fill="#f500f5" d="M1343.7 1228.7l2.5-2.8v-80.7l-2.4 2.8z"/><path fill="#d600d6" d="M1337.2 1147l6.6 1l2.4-2.8l-6.6-1z"/><path fill="#000057" d="M1353.7 1230.2l6.6 1v-90.2l-6.6-1.1z"/><path fill="#00007b" d="M1360.3 1231.2l2.4-2.8v-90.3l-2.4 2.9z"/><path fill="#00006c" d="M1353.7 1139.9l6.6 1.1l2.4-2.9l-6.6-1z"/><path fill="#8b8bad" d="M1370.3 1232.8l6.6 1v-105.7l-6.6-1z"/><path fill="#c4c4f5" d="M1376.9 1233.8l2.4-2.8v-105.7l-2.4 2.8z"/><path fill="#ababd6" d="M1370.3 1127.1l6.6 1l2.4-2.8l-6.6-1z"/><path fill="#00458b" d="M1386.8 1235.3l6.6 1l0.1-119.1l-6.6-1z"/><path fill="#0062c4" d="M1393.4 1236.3l2.4-2.8l0.1-119.1l-2.4 2.8z"/><path fill="#0056ab" d="M1386.9 1116.2l6.6 1l2.4-2.8l-6.6-1.1z"/><path fill="#ad5757" d="M1403.4 1237.9l6.6 1v-139.4l-6.6-1z"/><path fill="#f57b7b" d="M1410 1238.9l2.4-2.8v-139.4l-2.4 2.8z"/><path fill="#d66c6c" d="M1403.4 1098.5l6.6 1l2.4-2.8l-6.6-1z"/><path fill="#450045" d="M1419.9 1240.4l6.7 1v-137.5l-6.6-1z"/><path fill="#620062" d="M1426.6 1241.4l2.4-2.8v-137.5l-2.4 2.8z"/><path fill="#560056" d="M1420 1102.9l6.6 1l2.4-2.8l-6.6-1z"/><path class="z" fill="#abd6d6" d="M1436.5 1243l6.6 1l2.4-2.8l-6.6-1.1z"/><path class="z" fill="#d6d6ab" d="M1453.1 1245.5l6.6 1l2.4-2.8l-6.6-1z"/><path class="z" fill="#812b56" d="M1469.6 1248.1l6.7 1l2.4-2.8l-6.7-1.1z"/><path class="z" fill="#8181d6" d="M1486.2 1250.6l6.6 1l2.4-2.8l-6.6-1z"/><path fill="#688bad" d="M1148.9 1206.6l6.6 1.1v-41.2l-6.6-1z"/><path fill="#93c4f5" d="M1155.5 1207.7l2.4-2.9l0.1-41.1l-2.5 2.8z"/><path fill="#81abd6" d="M1148.9 1165.5l6.6 1l2.5-2.8l-6.7-1z"/><path fill="#adad68" d="M1165.5 1209.2l6.6 1v-41.5l-6.6-1z"/><path fill="#f5f593" d="M1172.1 1210.2l2.4-2.8v-41.5l-2.4 2.8z"/><path fill="#d6d681" d="M1165.5 1167.7l6.6 1l2.4-2.8l-6.6-1z"/><path fill="#8bad8b" d="M1182 1211.7l6.7 1.1v-42.3l-6.6-1z"/><path fill="#c4f5c4" d="M1188.7 1212.8l2.4-2.9v-42.2l-2.4 2.8z"/><path fill="#abd6ab" d="M1182.1 1169.5l6.6 1l2.4-2.8l-6.6-1z"/><path fill="#8badad" d="M1198.6 1214.3l6.6 1v-43.3l-6.6-1z"/><path fill="#c4f5f5" d="M1205.2 1215.3l2.4-2.8v-43.3l-2.4 2.8z"/><path fill="#abd6d6" d="M1198.6 1171l6.6 1l2.4-2.8l-6.6-1z"/><path fill="#008bad" d="M1215.2 1216.8l6.6 1.1v-44.6l-6.6-1z"/><path fill="#00c4f5" d="M1221.8 1217.9l2.4-2.9v-44.5l-2.4 2.8z"/><path fill="#00abd6" d="M1215.2 1172.3l6.6 1l2.4-2.8l-6.6-1z"/><path fill="#0000ad" d="M1231.7 1219.4l6.6 1l0.1-46l-6.7-1z"/><path fill="#0000f5" d="M1238.3 1220.4l2.5-2.8v-46l-2.4 2.8z"/><path fill="#0000d6" d="M1231.7 1173.4l6.7 1l2.4-2.8l-6.6-1z"/><path fill="#005757" d="M1248.3 1221.9l6.6 1.1v-48.4l-6.6-1.1z"/><path fill="#007b7b" d="M1254.9 1223l2.4-2.9v-48.4l-2.4 2.9z"/><path fill="#006c6c" d="M1248.3 1173.5l6.6 1.1l2.4-2.9l-6.6-1z"/><path fill="#570000" d="M1264.9 1224.5l6.6 1v-50.8l-6.6-1z"/><path fill="#7b0000" d="M1271.5 1225.5l2.4-2.8v-50.8l-2.4 2.8z"/><path fill="#6c0000" d="M1264.9 1173.7l6.6 1l2.4-2.8l-6.6-1z"/><path fill="#570057" d="M1281.4 1227l6.6 1.1l0.1-54.7l-6.7-1z"/><path fill="#7b007b" d="M1288 1228.1l2.4-2.9l0.1-54.6l-2.4 2.8z"/><path fill="#6c006c" d="M1281.4 1172.4l6.7 1l2.4-2.8l-6.7-1z"/><path fill="#00adad" d="M1298 1229.6l6.6 1v-60.4l-6.6-1z"/><path fill="#00f5f5" d="M1304.6 1230.6l2.4-2.8v-60.4l-2.4 2.8z"/><path fill="#00d6d6" d="M1298 1169.2l6.6 1l2.4-2.8l-6.6-1.1z"/><path fill="#adad00" d="M1314.5 1232.1l6.7 1.1v-66.3l-6.6-1z"/><path fill="#f5f500" d="M1321.2 1233.2l2.4-2.9v-66.2l-2.4 2.8z"/><path fill="#d6d600" d="M1314.6 1165.9l6.6 1l2.4-2.8l-6.6-1z"/><path fill="#ad00ad" d="M1331.1 1234.7l6.6 1l0.1-73.9l-6.7-1z"/><path fill="#f500f5" d="M1337.7 1235.7l2.4-2.8l0.1-73.9l-2.4 2.8z"/><path fill="#d600d6" d="M1331.1 1160.8l6.7 1l2.4-2.8l-6.7-1z"/><path fill="#000057" d="M1347.7 1237.2l6.6 1.1v-82.6l-6.6-1z"/><path fill="#00007b" d="M1354.3 1238.3l2.4-2.8v-82.6l-2.4 2.8z"/><path fill="#00006c" d="M1347.7 1154.7l6.6 1l2.4-2.8l-6.6-1.1z"/><path fill="#8b8bad" d="M1364.2 1239.8l6.7 1v-95.1l-6.6-1z"/><path fill="#c4c4f5" d="M1370.9 1240.8l2.4-2.8v-95.1l-2.4 2.8z"/><path fill="#ababd6" d="M1364.3 1144.7l6.6 1l2.4-2.8l-6.6-1z"/><path fill="#00458b" d="M1380.8 1242.3l6.6 1.1l0.1-123.1l-6.7-1z"/><path fill="#0062c4" d="M1387.4 1243.4l2.4-2.8l0.1-123.1l-2.4 2.8z"/><path fill="#0056ab" d="M1380.8 1119.3l6.7 1l2.4-2.8l-6.7-1z"/><path fill="#ad5757" d="M1397.4 1244.9l6.6 1v-146.1l-6.6-1z"/><path fill="#f57b7b" d="M1404 1245.9l2.4-2.8v-146.1l-2.4 2.8z"/><path fill="#d66c6c" d="M1397.4 1098.8l6.6 1l2.4-2.8l-6.6-1z"/><path fill="#450045" d="M1413.9 1247.4l6.7 1.1v-167.4l-6.6-1z"/><path fill="#620062" d="M1420.6 1248.5l2.4-2.8v-167.4l-2.4 2.8z"/><path fill="#560056" d="M1414 1080.1l6.6 1l2.4-2.8l-6.6-1z"/><path class="z" fill="#abd6d6" d="M1430.5 1250l6.6 1l2.4-2.8l-6.6-1z"/><path class="z" fill="#d6d6ab" d="M1447.1 1252.6l6.6 1l2.4-2.8l-6.6-1.1z"/><path class="z" fill="#812b56" d="M1463.6 1255.1l6.7 1l2.4-2.8l-6.7-1z"/><path class="z" fill="#8181d6" d="M1480.2 1257.7l6.6 1l2.4-2.8l-6.6-1.1z"/><path fill="#688bad" d="M1142.9 1213.7l6.6 1v-37.3l-6.6-1z"/><path fill="#93c4f5" d="M1149.5 1214.7l2.4-2.8v-37.3l-2.4 2.8z"/><path fill="#81abd6" d="M1142.9 1176.4l6.6 1l2.4-2.8l-6.6-1z"/><path fill="#adad68" d="M1159.4 1216.2l6.7 1v-37.6l-6.6-1z"/><path fill="#f5f593" d="M1166.1 1217.2l2.4-2.8v-37.6l-2.4 2.8z"/><path fill="#d6d681" d="M1159.5 1178.6l6.6 1l2.4-2.8l-6.6-1z"/><path fill="#8bad8b" d="M1176 1218.8l6.6 1l0.1-38.2l-6.7-1z"/><path fill="#c4f5c4" d="M1182.6 1219.8l2.4-2.8l0.1-38.2l-2.4 2.8z"/><path fill="#abd6ab" d="M1176 1180.6l6.7 1l2.4-2.8l-6.7-1z"/><path fill="#8badad" d="M1192.6 1221.3l6.6 1v-39l-6.6-1z"/><path fill="#c4f5f5" d="M1199.2 1222.3l2.4-2.8v-39l-2.4 2.8z"/><path fill="#abd6d6" d="M1192.6 1182.3l6.6 1l2.4-2.8l-6.6-1z"/><path fill="#008bad" d="M1209.1 1223.9l6.7 1v-40l-6.6-1.1z"/><path fill="#00c4f5" d="M1215.8 1224.9l2.4-2.8v-40.1l-2.4 2.9z"/><path fill="#00abd6" d="M1209.2 1183.8l6.6 1.1l2.4-2.9l-6.6-1z"/><path fill="#0000ad" d="M1225.7 1226.4l6.6 1l0.1-41.2l-6.7-1z"/><path fill="#0000f5" d="M1232.3 1227.4l2.4-2.8l0.1-41.2l-2.4 2.8z"/><path fill="#0000d6" d="M1225.7 1185.2l6.7 1l2.4-2.8l-6.7-1z"/><path fill="#005757" d="M1242.3 1229l6.6 1v-43.6l-6.6-1z"/><path fill="#007b7b" d="M1248.9 1230l2.4-2.8v-43.6l-2.4 2.8z"/><path fill="#006c6c" d="M1242.3 1185.4l6.6 1l2.4-2.8l-6.6-1z"/><path fill="#570000" d="M1258.8 1231.5l6.7 1v-46l-6.6-1z"/><path fill="#7b0000" d="M1265.5 1232.5l2.4-2.8v-46l-2.4 2.8z"/><path fill="#6c0000" d="M1258.9 1185.5l6.6 1l2.4-2.8l-6.6-1z"/><path fill="#570057" d="M1275.4 1234.1l6.6 1l0.1-50.8l-6.7-1z"/><path fill="#7b007b" d="M1282 1235.1l2.4-2.8l0.1-50.8l-2.4 2.8z"/><path fill="#6c006c" d="M1275.4 1183.3l6.7 1l2.4-2.8l-6.7-1.1z"/><path fill="#00adad" d="M1292 1236.6l6.6 1v-54.6l-6.6-1.1z"/><path fill="#00f5f5" d="M1298.6 1237.6l2.4-2.8v-54.7l-2.4 2.9z"/><path fill="#00d6d6" d="M1292 1181.9l6.6 1.1l2.4-2.9l-6.6-1z"/><path fill="#adad00" d="M1308.5 1239.2l6.7 1v-58.5l-6.6-1.1z"/><path fill="#f5f500" d="M1315.2 1240.2l2.4-2.8v-58.6l-2.4 2.9z"/><path fill="#d6d600" d="M1308.6 1180.6l6.6 1.1l2.4-2.9l-6.6-1z"/><path fill="#ad00ad" d="M1325.1 1241.7l6.6 1.1l0.1-64.4l-6.7-1z"/><path fill="#f500f5" d="M1331.7 1242.8l2.4-2.9l0.1-64.3l-2.4 2.8z"/><path fill="#d600d6" d="M1325.1 1177.4l6.7 1l2.4-2.8l-6.7-1z"/><path fill="#000057" d="M1341.7 1244.3l6.6 1v-70.1l-6.6-1z"/><path fill="#00007b" d="M1348.3 1245.3l2.4-2.8v-70.1l-2.4 2.8z"/><path fill="#00006c" d="M1341.7 1174.2l6.6 1l2.4-2.8l-6.6-1z"/><path fill="#8b8bad" d="M1358.2 1246.8l6.7 1.1v-77.9l-6.6-1z"/><path fill="#c4c4f5" d="M1364.9 1247.9l2.4-2.9v-77.8l-2.4 2.8z"/><path fill="#ababd6" d="M1358.3 1169l6.6 1l2.4-2.8l-6.6-1z"/><path fill="#00458b" d="M1374.8 1249.4l6.6 1v-88.4l-6.6-1z"/><path fill="#0062c4" d="M1381.4 1250.4l2.4-2.8l0.1-88.4l-2.5 2.8z"/><path fill="#0056ab" d="M1374.8 1161l6.6 1l2.5-2.8l-6.7-1z"/><path fill="#ad5757" d="M1391.4 1251.9l6.6 1.1v-108.7l-6.6-1z"/><path fill="#f57b7b" d="M1398 1253l2.4-2.9v-108.6l-2.4 2.8z"/><path fill="#d66c6c" d="M1391.4 1143.3l6.6 1l2.4-2.8l-6.6-1z"/><path fill="#450045" d="M1407.9 1254.5l6.7 1v-253.9l-6.6-1z"/><path fill="#620062" d="M1414.6 1255.5l2.4-2.8v-253.9l-2.4 2.8z"/><path fill="#560056" d="M1408 1000.6l6.6 1l2.4-2.8l-6.6-1z"/><path class="z" fill="#abd6d6" d="M1424.5 1257l6.6 1.1l2.4-2.9l-6.6-1z"/><path class="z" fill="#d6d6ab" d="M1441.1 1259.6l6.6 1l2.4-2.8l-6.6-1z"/><path class="z" fill="#812b56" d="M1457.6 1262.1l6.7 1.1l2.4-2.9l-6.7-1z"/><path class="z" fill="#8181d6" d="M1474.2 1264.7l6.6 1l2.4-2.8l-6.6-1z"/></g>
<path d="M1136.1,1215 L1484,1268.6" fill="none" stroke="#8a8a8a" stroke-width="1.1"/>
<path d="M1484,1268.6 L1610,1120.6" fill="none" stroke="#000" stroke-width="1"/>
<path d="M1136.1 1214.6v7.3 M1152.7 1217.2v7.3 M1169.2 1219.7v7.3 M1185.8 1222.3v7.3 M1202.4 1224.8v7.3 M1218.9 1227.4v7.3 M1235.5 1229.9v7.3 M1252.1 1232.5v7.3 M1268.6 1235v7.3 M1285.2 1237.6v7.3 M1301.8 1240.1v7.3 M1318.3 1242.7v7.3 M1334.9 1245.2v7.3 M1351.5 1247.8v7.3 M1368 1250.3v7.3 M1384.6 1252.9v7.3 M1401.2 1255.4v7.3 M1417.7 1258v7.3 M1434.3 1260.5v7.3 M1450.9 1263.1v7.3 M1467.4 1265.6v7.3 M1484 1268.2v7.3 M1483.6 1268.6h5.6 M1489.6 1261.6h5.6 M1495.6 1254.5h5.6 M1501.6 1247.5h5.6 M1507.6 1240.4h5.6 M1513.6 1233.4h5.6 M1519.6 1226.3h5.6 M1525.6 1219.3h5.6 M1531.6 1212.2h5.6 M1537.6 1205.2h5.6 M1543.6 1198.1h5.6 M1549.6 1191.1h5.6 M1555.6 1184h5.6 M1561.6 1177h5.6 M1567.6 1169.9h5.6 M1573.6 1162.9h5.6 M1579.6 1155.8h5.6 M1585.6 1148.8h5.6 M1591.6 1141.7h5.6 M1597.6 1134.7h5.6 M1603.6 1127.6h5.6 M1609.6 1120.6h5.6 M1136.6 1215h-7.3 M1136.6 1167.2h-7.3 M1136.7 1119.4h-7.3 M1136.7 1071.6h-7.3 M1136.7 1023.8h-7.3 M1136.7 976h-7.3 M1136.8 928.2h-7.3 M1136.8 880.4h-7.3" fill="none" stroke="#000" stroke-width="1.3"/>
<g class="tk"><text x="1120.8" y="1221.8" text-anchor="end">0</text><text x="1120.8" y="1174" text-anchor="end">0.5</text><text x="1120.9" y="1126.2" text-anchor="end">1</text><text x="1120.9" y="1078.4" text-anchor="end">1.5</text><text x="1120.9" y="1030.6" text-anchor="end">2</text><text x="1120.9" y="982.8" text-anchor="end">2.5</text><text x="1121" y="935" text-anchor="end">3</text><text x="1121" y="887.2" text-anchor="end">3.5</text><text x="1144" y="1246.3" text-anchor="middle">Y=100</text><text x="1210.2" y="1256.5" text-anchor="middle">Y=80</text><text x="1276.5" y="1266.7" text-anchor="middle">Y=60</text><text x="1342.8" y="1276.9" text-anchor="middle">Y=40</text><text x="1409" y="1287.1" text-anchor="middle">Y=20</text><text x="1475.3" y="1297.3" text-anchor="middle">Y=0</text><text x="1503" y="1271.1">0</text><text x="1533" y="1235.8">25</text><text x="1563" y="1200.6">50</text><text x="1593" y="1165.4">75</text><text x="1617.5" y="1130.1">100</text></g></g>
<g class="pl"><text x="8" y="36.3">A</text><text x="902.5" y="36">B</text><text x="6.5" y="709">C</text><text x="901" y="708.6">D</text></g>
<rect x="47.8" y="22.8" width="79.2" height="80.7" fill="none" stroke="#000" stroke-width="1.2"/>
<path d="M47.8 22.8 L127 103.5" stroke="#ff0000" stroke-width="3.2" stroke-linecap="round"/>
<path d="M184.7 145.7 L157.1 114.5" stroke="#ff0000" stroke-width="3.2" fill="none"/><path d="M150.5 107 L161.9 111.6 L153.7 118.9 z" fill="#ff0000"/>
<path d="M184.7 145.7 L154.8 172.1" stroke="#000" stroke-width="1.2" fill="none"/><path d="M148 178 L152.9 168.4 L158.1 174.4 z" fill="#000"/>
<text x="155.5" y="90.8" class="rb" text-anchor="middle">1</text>
<text x="160.5" y="196.7" class="bk" text-anchor="middle">2</text>
<rect x="944" y="13.5" width="79.7" height="80.1" fill="none" stroke="#000" stroke-width="1.2"/>
<path d="M944 93.6 L1023.7 13.5" stroke="#ff0000" stroke-width="3.2" stroke-linecap="round"/>
<path d="M1082.6 136.6 L1053.6 103.1" stroke="#000" stroke-width="1.8" fill="none"/><path d="M1047.7 96.3 L1057.6 100.9 L1050.8 106.8 z" fill="#000"/>
<path d="M1082.6 136.6 L1053.2 161.5" stroke="#ff0000" stroke-width="3.2" fill="none"/><path d="M1045.6 168 L1050.4 156.7 L1057.5 165.1 z" fill="#ff0000"/>
<text x="1050.5" y="77.2" class="bk" text-anchor="middle">1</text>
<text x="1060.5" y="189.5" class="rb" text-anchor="middle">2</text>
<path d="M78.8 774 L138.6 826.7 L87.6 883.6 L27.6 830.8 z" fill="none" stroke="#000" stroke-width="1.2"/>
<path d="M59.8 858.8 L110.6 802.1" stroke="#ff0000" stroke-width="3.2"/>
<path d="M89.5 915.8 L59.6 889.9" stroke="#000" stroke-width="1.2" fill="none"/><path d="M52.8 884 L63 887.5 L57.7 893.6 z" fill="#000"/>
<path d="M89.5 915.8 L116.2 886.3" stroke="#ff0000" stroke-width="3.2" fill="none"/><path d="M122.9 878.9 L119.6 890.7 L111.4 883.4 z" fill="#ff0000"/>
<text x="139.7" y="900.4" class="rb" text-anchor="middle">1</text>
<text x="28.5" y="912.7" class="bk" text-anchor="middle">2</text>
<path d="M987.3 755 L1047.3 807.2 L997 864.6 L937.2 811.7 z" fill="none" stroke="#000" stroke-width="1.2"/>
<path d="M963.8 782.2 L1023.2 834.2" stroke="#ff0000" stroke-width="3.2"/>
<path d="M999.6 896.9 L970.3 872.1" stroke="#ff0000" stroke-width="3.2" fill="none"/><path d="M962.7 865.6 L974.6 868.5 L967.5 876.9 z" fill="#ff0000"/>
<path d="M999.6 896.9 L1026.9 867.1" stroke="#000" stroke-width="1.2" fill="none"/><path d="M1033 860.5 L1029.2 870.6 L1023.3 865.2 z" fill="#000"/>
<text x="1047.7" y="877.3" class="bk" text-anchor="middle">1</text>
<text x="941.5" y="897.3" class="rb" text-anchor="middle">2</text>
<text class="rt" text-anchor="middle"><tspan x="132.7" y="311.8">Stresses SD1</tspan><tspan x="134.7" y="344.9">(MPa)</tspan></text>
<text class="rt" text-anchor="middle"><tspan x="1027" y="311.8">Stresses SD2</tspan><tspan x="1029" y="344.9">(MPa)</tspan></text>
<text class="rt" text-anchor="middle"><tspan x="96.5" y="1040.5">Stresses SO1</tspan><tspan x="98.5" y="1073.6">(MPa)</tspan></text>
<text class="rt" text-anchor="middle"><tspan x="996" y="1034">Stresses SO2</tspan><tspan x="998" y="1067.1">(MPa)</tspan></text>
<text class="at" text-anchor="middle" x="258.5" y="573.5">Length along Y axis (mm)</text>
<text class="at" text-anchor="middle"><tspan x="764.5" y="540">Length along X</tspan><tspan x="764.5" y="573">axis (mm)</tspan></text>
<text class="at" text-anchor="middle" x="1141" y="576">Length along Y axis (mm)</text>
<text class="at" text-anchor="middle"><tspan x="1666" y="549">Length along X</tspan><tspan x="1666" y="582">axis (mm)</tspan></text>
<text class="at" text-anchor="middle" x="186" y="1306">Length along Y axis (mm)</text>
<text class="at" text-anchor="middle"><tspan x="757" y="1262">Length along X</tspan><tspan x="757" y="1295">axis (mm)</tspan></text>
<text class="at" text-anchor="middle" x="1175" y="1307">Length along Y axis (mm)</text>
<text class="at" text-anchor="middle"><tspan x="1638" y="1266">Length along X</tspan><tspan x="1638" y="1299">axis (mm)</tspan></text>
</svg></body></html>
